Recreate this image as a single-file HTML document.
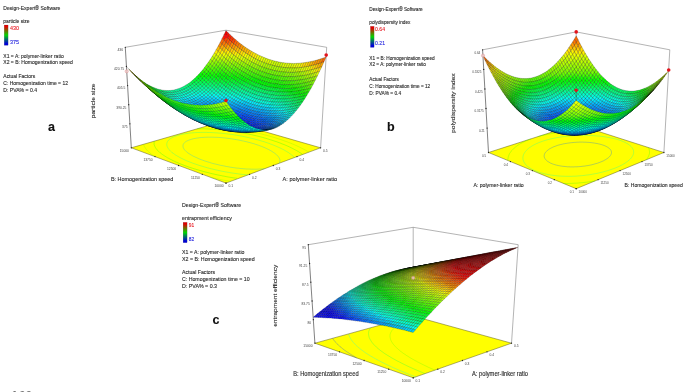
<!DOCTYPE html>
<html><head><meta charset="utf-8"><title>Figure</title>
<style>html,body{margin:0;padding:0;background:#fff;overflow:hidden}svg{display:block}text{font-family:"Liberation Sans",sans-serif}</style>
</head><body>
<svg width="685" height="392" viewBox="0 0 685 392">
<polygon points="226.0,183.1 320.6,147.8 226.0,120.5 131.3,147.8" fill="#ffff00" stroke="#5a5a20" stroke-width="0.5"/>
<path d="M279 163.3 279.5 162.5 279.7 162.1 279.9 161.6 279.9 161.1 280 160.5 279.9 159.9 279.8 159.3 279.6 158.8 279.4 158.3 279 157.6 278.6 157 278.1 156.4 277.7 155.9 277.3 155.5 276.6 154.8 275.9 154.2 275.4 153.8 274.6 153.2 273.9 152.7 273.3 152.3 272.2 151.6 271.6 151.2 270.4 150.5 269.8 150.2 268.5 149.5 267.3 148.9 266.5 148.5 265.2 147.9 263.8 147.3 263 147 261.6 146.4 260.1 145.9 258.6 145.3 257.1 144.8 255.5 144.3 254.7 144 253.1 143.5 252.3 143.3 250.6 142.8 248.9 142.4 247.2 141.9 245.4 141.5 243.7 141.1 242.7 140.9 240.9 140.5 239 140.1 238.1 139.9 236.1 139.6 235 139.4 233.1 139.1 231.9 138.9 230 138.6 229 138.5 226.8 138.2 225.7 138.1 224.3 137.9 222.2 137.7 221 137.6 219.8 137.5 218.2 137.4 216.4 137.3 214.7 137.3 213.3 137.2 211.9 137.2 210.4 137.2 208.9 137.2 207.2 137.2 205.6 137.3 204.3 137.3 203.1 137.4 201.7 137.5 199.5 137.7 198.4 137.9 196.7 138.1 195.3 138.4 193.5 138.7 191.7 139.2 190.2 139.7 188.7 140.2 187.4 140.8 186.7 141.1 185.7 141.7 185.2 142.1 184.5 142.7 184 143.2 183.7 143.7 183.4 144.1 183.2 144.6 183.1 145 183 145.5 183 146.1 183 146.6 183.1 147.2 183.3 147.8 183.6 148.3 183.8 148.7 184.1 149.2 184.6 149.9 185 150.3 185.4 150.7 186.1 151.4 186.5 151.8 187.4 152.5 187.9 152.9 188.9 153.6 189.4 153.9 190.5 154.6 191.2 155 192.3 155.6 193.5 156.3 194.5 156.7 195.5 157.2 196.9 157.8 198.3 158.5 199.7 159.1 201.3 159.7 202.8 160.2 204.4 160.8 206.1 161.4 207.8 161.9 209.5 162.4 211.3 163 213.2 163.5 214.7 163.9 216.1 164.2 218 164.7 220.1 165.2 221.1 165.4 223.2 165.8 224.3 166 226.5 166.5 227.9 166.7 229.9 167.1 231.1 167.3 233.4 167.6 234.7 167.8 236.8 168.1 238.5 168.2 239.8 168.4 241.8 168.6 243.9 168.8 245.3 168.9 246.7 169 248.3 169 250.2 169.1 252.1 169.2 253.9 169.2 255.6 169.2 257.2 169.2 258.7 169.1 260.2 169 262.4 168.9 264.4 168.7" fill="none" stroke="#00bcff" stroke-width="0.9" stroke-opacity="0.33"/>
<path d="M294.5 157.6 294.1 157.1 293.5 156.5 292.7 155.8 292.2 155.4 291.7 155 290.7 154.2 290.1 153.8 289.4 153.3 288.5 152.6 287.9 152.3 286.7 151.5 286.1 151.2 284.9 150.5 284.3 150.1 283 149.4 282.3 149.1 281 148.4 280.1 148 279 147.5 277.7 146.9 277 146.6 275.6 146 274.1 145.4 272.7 144.8 272 144.5 270.5 144 269 143.4 267.5 142.9 265.9 142.4 264.4 141.8 262.8 141.4 261.2 140.9 259.5 140.4 257.9 139.9 256.2 139.5 254.6 139 252.8 138.6 251.1 138.2 249.8 137.9 248.5 137.6 246.7 137.2 244.9 136.8 244 136.6 242.1 136.2 240.2 135.9 239.3 135.7 237.3 135.4 236.4 135.2 234.4 134.9 233.4 134.7 231.4 134.4 230.3 134.3 228.2 134 227.2 133.9 225.7 133.7 223.9 133.5 222.8 133.4 221.2 133.2 219.4 133.1 218.2 133 217.1 132.9 215.2 132.8 213.4 132.7 212.1 132.6 210.8 132.5 209.5 132.5 208.1 132.5 206.7 132.4 205.2 132.4 203.7 132.4 202.2 132.4 200.8 132.4 199.2 132.5 197.5 132.5 195.7 132.6 194.3 132.7 193.1 132.8 191.8 132.9 189.7 133.1 188.6 133.3 186.9 133.5 185.5 133.7 183.5 134 182.6 134.2 180.8 134.6 179.1 135 177.5 135.5 176 136 174.6 136.5 173.5 136.9 172.6 137.4 171.5 138 170.9 138.3 170.2 138.8 169.5 139.4 169.1 139.7 168.6 140.1 168.1 140.7 167.7 141.3 167.4 141.8 167.2 142.3 167 142.7 166.9 143.2 166.8 143.7 166.8 144.3 166.8 144.8 166.9 145.2 166.9 145.7 167.1 146.1 167.2 146.6 167.5 147.2 167.8 147.8 168 148.2 168.4 148.7 168.9 149.4 169.2 149.8 169.6 150.2 170.3 150.9 170.7 151.3 171.5 152 171.9 152.4 172.8 153.1 173.3 153.4 174.3 154.1 174.8 154.5 175.8 155.2 176.4 155.5 177.5 156.2 178.7 156.8 179.3 157.2 180.5 157.8 181.8 158.5 183.1 159.1 183.7 159.4 185.1 160.1 186.5 160.7 188 161.3 189.5 161.9 191 162.5 192.6 163.1 194.2 163.7 195.8 164.2 197.5 164.8 199.2 165.4 201 165.9 202.7 166.4 204.6 167 205.8 167.3 207.4 167.8 209.3 168.3 211.3 168.8 212.3 169 214.3 169.5 216.4 170 217.4 170.2 219.6 170.7 221.3 171.1 222.8 171.4 225.1 171.8 226.2 172 228.6 172.4 229.7 172.6 231.9 173 233.4 173.2 234.9 173.4 237.1 173.7 238.4 173.9 240.5 174.2 242.3 174.4 243.7 174.5 245.6 174.7 247.8 174.9" fill="none" stroke="#00ffaa" stroke-width="0.9" stroke-opacity="0.33"/>
<path d="M154.4 141.2 154.2 141.6 154.1 142.1 154.1 142.6 154.1 143.1 154.1 143.6 154.1 144.2 154.2 144.8 154.4 145.2 154.5 145.6 154.7 146.1 155 146.7 155.3 147.3 155.5 147.7 155.8 148.1 156.3 148.9 156.6 149.2 157 149.7 157.6 150.4 158 150.7 158.7 151.5 159.1 151.8 159.8 152.5 160.4 152.9 161.1 153.5 161.8 154 162.7 154.7 163.2 155 164.3 155.7 164.8 156.1 165.9 156.8 167 157.4 167.6 157.8 168.8 158.4 170 159.1 170.6 159.4 171.9 160 173.2 160.7 174.6 161.3 175.9 162 176.6 162.3 178.1 162.9 179.5 163.5 181 164.1 182.6 164.7 184.1 165.3 185.7 165.9 187.4 166.5 189 167.1 190.7 167.6 192.4 168.2 194.2 168.8 195.4 169.1 196.9 169.6 198.7 170.1 200.6 170.7 202.5 171.2 203.5 171.5 205.5 172 207.5 172.5 209.2 172.9 210.5 173.3 212.6 173.8 214.1 174.1 215.8 174.5 218 175 219.1 175.2 221.3 175.6 222.5 175.9 224.8 176.3 226.1 176.6 228.3 177 229.5 177.2 231.9 177.6 233.2 177.8 235.7 178.1 236.9 178.3" fill="none" stroke="#00ff10" stroke-width="0.9" stroke-opacity="0.33"/>
<path d="M302.7 154.5 302.2 154.1 301.1 153.4 300.4 152.9 299.7 152.5 298.7 151.8 298.1 151.5 296.8 150.7 296.2 150.4 294.9 149.7 294.3 149.4 293 148.7 292.3 148.3 291 147.7 289.8 147.1 289 146.7 287.6 146.1 286.7 145.7 285.5 145.2 284.1 144.6 282.7 144.1 281.9 143.8 280.5 143.2 279 142.6 277.5 142.1 276.8 141.8 275.2 141.3 273.7 140.8 272.2 140.3 270.6 139.8 269 139.3 267.4 138.8 265.8 138.3 264.2 137.9 262.6 137.4 260.9 137 259.2 136.5 257.5 136.1 256.7 135.9 255 135.5 253.2 135.1 251.5 134.7 250.5 134.5 248.8 134.1 247 133.7 245.7 133.5 244.2 133.2 242.4 132.8 241.5 132.7 239.6 132.3 238.2 132.1 236.7 131.9 235.1 131.6 233.7 131.4 232.2 131.2 230.7 131 229.5 130.8 227.6 130.6 226.6 130.5 224.6 130.2 223.4 130.1 222.3 130 220.2 129.8 219 129.7 217.8 129.6 216.1 129.4 214.4 129.3 213.2 129.2 212 129.1 210.6 129.1 208.8 129 207.1 128.9 205.7 128.9 204.3 128.8 203 128.8 201.6 128.8 200.2 128.8 198.7 128.8 197.2 128.8" fill="none" stroke="#00ff10" stroke-width="0.9" stroke-opacity="0.33"/>
<path d="M210.6 177.4 211 177.5 212.1 177.7 213.2 177.9 214.3 178.2 215.1 178.4 215.4 178.4 216.5 178.7 217.6 178.9 218.7 179.1 219.3 179.3 219.9 179.4 221 179.6 222.2 179.8 223.1 180 223.3 180.1 224.5 180.3 225.7 180.5 226.7 180.7 226.9 180.7 228.1 180.9 229.3 181.2 230.2 181.3 230.6 181.4" fill="none" stroke="#74ff00" stroke-width="0.9" stroke-opacity="0.33"/>
<path d="M143.5 144.3 143.7 144.9 143.9 145.5 144.1 145.9 144.3 146.4 144.6 146.9 145 147.5 145.2 147.9 145.6 148.4 146.1 149.1 146.4 149.5 146.9 150.1 147.4 150.6 147.8 151 148.5 151.7 148.9 152 149.7 152.8 150.1 153.1 151 153.8 151.4 154.2 152.4 154.9 152.9 155.3 153.9 155.9 154.9 156.6" fill="none" stroke="#74ff00" stroke-width="0.9" stroke-opacity="0.33"/>
<path d="M309 152.2 308.1 151.6 307.1 151.1 306.4 150.6 305.2 150 304.5 149.6 303.3 149 302.4 148.5 301.3 148 300 147.3 299.3 147 297.9 146.4 297.2 146 295.9 145.4 294.5 144.8 293.8 144.5 292.3 143.9 290.9 143.3 290.2 143 288.7 142.5 287.3 141.9 285.8 141.4 285 141.1 283.5 140.6 282 140 280.5 139.5 279 139 277.4 138.5 275.9 138 274.3 137.5 272.7 137 271.1 136.6 269.5 136.1 267.8 135.7 266.2 135.2 264.6 134.8 262.9 134.4 261.2 133.9 259.5 133.5 258.3 133.2 256.9 132.9 255.2 132.5 253.5 132.2 252.2 131.9 250.8 131.6 249 131.2 247.5 130.9 246.3 130.7 244.5 130.4 243.5 130.2 241.7 129.9 240 129.6 238.8 129.4 236.9 129.1 235.9 128.9 234 128.6 233 128.5 231.1 128.2 230 128.1 228.5 127.9 226.9 127.7 225.9 127.6 223.8 127.4 222.8 127.2 221.5 127.1 219.5 126.9 218.4 126.8 217.3 126.7 215.3 126.5 213.9 126.4 212.8 126.4 211.6 126.3 209.7 126.2 208 126.1 206.8 126" fill="none" stroke="#74ff00" stroke-width="0.9" stroke-opacity="0.33"/>
<line x1="131.3" y1="147.8" x2="125.3" y2="47.3" stroke="#2e2e2e" stroke-width="0.6"/>
<line x1="226.0" y1="120.5" x2="226.0" y2="30.2" stroke="#686868" stroke-width="0.5"/>
<line x1="320.6" y1="147.8" x2="326.7" y2="47.3" stroke="#686868" stroke-width="0.5"/>
<line x1="125.3" y1="47.3" x2="226.0" y2="30.2" stroke="#686868" stroke-width="0.5"/>
<line x1="226.0" y1="30.2" x2="326.7" y2="47.3" stroke="#686868" stroke-width="0.5"/>
<g stroke="#000" stroke-opacity="0.7" stroke-width="0.3" stroke-linejoin="round">
<path d="M226 36.7l1.9-4.1-1.9-1.9-2 4z" fill="#e00"/>
<path d="M224 40.6l2-3.9-2-2-1.9 3.9z" fill="#f20"/>
<path d="M222.1 44.4l1.9-3.8-1.9-2-1.9 3.8z" fill="#f60"/>
<path d="M220.2 48l1.9-3.6-1.9-2-2 3.7z" fill="#f80"/>
<path d="M227.9 38.6l1.9-4.1-1.9-1.9-1.9 4.1z" fill="#f10"/>
<path d="M226 42.5l1.9-3.9-1.9-1.9-2 3.9z" fill="#f40"/>
<path d="M218.2 51.5l2-3.5-2-1.9-1.9 3.4z" fill="#fb0"/>
<path d="M224 46.3l2-3.8-2-1.9-1.9 3.8z" fill="#f70"/>
<path d="M216.3 54.9l1.9-3.4-1.9-2-2 3.4z" fill="#fe0"/>
<path d="M222.1 50l1.9-3.7-1.9-1.9-1.9 3.6z" fill="#fa0"/>
<path d="M229.8 40.4l2-4.1-2-1.8-1.9 4.1z" fill="#f20"/>
<path d="M214.3 58.1l2-3.2-2-2-1.9 3.2z" fill="#df0"/>
<path d="M227.9 44.3l1.9-3.9-1.9-1.8-1.9 3.9z" fill="#f50"/>
<path d="M220.1 53.5l2-3.5-1.9-2-2 3.5z" fill="#fd0"/>
<path d="M226 48.1l1.9-3.8-1.9-1.8-2 3.8z" fill="#f80"/>
<path d="M218.2 56.8l1.9-3.3-1.9-2-1.9 3.4z" fill="#ef0"/>
<path d="M212.4 61.2l1.9-3.1-1.9-2-2 3.1z" fill="#bf0"/>
<path d="M224 51.8l2-3.7-2-1.8-1.9 3.7z" fill="#fb0"/>
<path d="M231.8 42.2l1.9-4.2-1.9-1.7-2 4.1z" fill="#f30"/>
<path d="M216.2 60l2-3.2-1.9-1.9-2 3.2z" fill="#cf0"/>
<path d="M222.1 55.3l1.9-3.5-1.9-1.8-2 3.5z" fill="#fe0"/>
<path d="M229.9 46.1l1.9-3.9-2-1.8-1.9 3.9z" fill="#f60"/>
<path d="M210.4 64.1l2-2.9-2-2-1.9 2.9z" fill="#9f0"/>
<path d="M227.9 49.9l2-3.8-2-1.8-1.9 3.8z" fill="#fa0"/>
<path d="M220.1 58.7l2-3.4-2-1.8-1.9 3.3z" fill="#df0"/>
<path d="M214.3 63.1l1.9-3.1-1.9-1.9-1.9 3.1z" fill="#af0"/>
<path d="M226 53.6l1.9-3.7-1.9-1.8-2 3.7z" fill="#fd0"/>
<path d="M208.4 66.9l2-2.8-1.9-2-2 2.7z" fill="#7f0"/>
<path d="M233.8 43.9l1.9-4.2-2-1.7-1.9 4.2z" fill="#f40"/>
<path d="M218.2 61.9l1.9-3.2-1.9-1.9-2 3.2z" fill="#bf0"/>
<path d="M224 57.1l2-3.5-2-1.8-1.9 3.5z" fill="#ef0"/>
<path d="M231.8 47.9l2-4-2-1.7-1.9 3.9z" fill="#f80"/>
<path d="M212.3 66.1l2-3-1.9-1.9-2 2.9z" fill="#8f0"/>
<path d="M229.9 51.7l1.9-3.8-1.9-1.8-2 3.8z" fill="#fb0"/>
<path d="M222.1 60.5l1.9-3.4-1.9-1.8-2 3.4z" fill="#cf0"/>
<path d="M216.2 65l2-3.1-2-1.9-1.9 3.1z" fill="#8f0"/>
<path d="M206.5 69.5l1.9-2.6-1.9-2.1-2 2.7z" fill="#5f0"/>
<path d="M227.9 55.4l2-3.7-2-1.8-1.9 3.7z" fill="#fe0"/>
<path d="M210.4 68.8l1.9-2.7-1.9-2-2 2.8z" fill="#6f0"/>
<path d="M235.7 45.5l2-4.1-2-1.7-1.9 4.2z" fill="#f60"/>
<path d="M220.1 63.8l2-3.3-2-1.8-1.9 3.2z" fill="#9f0"/>
<path d="M226 58.9l1.9-3.5-1.9-1.8-2 3.5z" fill="#df0"/>
<path d="M214.3 68l1.9-3-1.9-1.9-2 3z" fill="#7f0"/>
<path d="M233.8 49.5l1.9-4-1.9-1.6-2 4z" fill="#f90"/>
<path d="M204.5 72l2-2.5-2-2-1.9 2.5z" fill="#4f0"/>
<path d="M231.8 53.4l2-3.9-2-1.6-1.9 3.8z" fill="#fc0"/>
<path d="M208.4 71.5l2-2.7-2-1.9-1.9 2.6z" fill="#4f0"/>
<path d="M224 62.3l2-3.4-2-1.8-1.9 3.4z" fill="#bf0"/>
<path d="M218.2 66.9l1.9-3.1-1.9-1.9-2 3.1z" fill="#7f0"/>
<path d="M229.9 57.1l1.9-3.7-1.9-1.7-2 3.7z" fill="#ef0"/>
<path d="M212.3 70.8l2-2.8-2-1.9-1.9 2.7z" fill="#5f0"/>
<path d="M237.7 47.1l1.9-4.1-1.9-1.6-2 4.1z" fill="#f70"/>
<path d="M222.1 65.6l1.9-3.3-1.9-1.8-2 3.3z" fill="#8f0"/>
<path d="M202.5 74.4l2-2.4-1.9-2-2 2.3z" fill="#2f0"/>
<path d="M216.2 69.8l2-2.9-2-1.9-1.9 3z" fill="#5f0"/>
<path d="M227.9 60.6l2-3.5-2-1.7-1.9 3.5z" fill="#cf0"/>
<path d="M235.7 51.1l2-4-2-1.6-1.9 4z" fill="#fa0"/>
<path d="M206.4 74l2-2.5-1.9-2-2 2.5zM210.3 73.4l2-2.6-1.9-2-2 2.7z" fill="#3f0"/>
<path d="M233.8 55l1.9-3.9-1.9-1.6-2 3.9z" fill="#fd0"/>
<path d="M220.1 68.7l2-3.1-2-1.8-1.9 3.1z" fill="#6f0"/>
<path d="M226 64l1.9-3.4-1.9-1.7-2 3.4z" fill="#af0"/>
<path d="M214.2 72.6l2-2.8-1.9-1.8-2 2.8z" fill="#4f0"/>
<path d="M231.8 58.7l2-3.7-2-1.6-1.9 3.7z" fill="#df0"/>
<path d="M200.5 76.6l2-2.2-1.9-2.1-2 2.2z" fill="#0f0"/>
<path d="M224 67.3l2-3.3-2-1.7-1.9 3.3z" fill="#7f0"/>
<path d="M204.4 76.4l2-2.4-1.9-2-2 2.4z" fill="#1f0"/>
<path d="M239.7 48.7l1.9-4.2-2-1.5-1.9 4.1z" fill="#f80"/>
<path d="M218.1 71.6l2-2.9-1.9-1.8-2 2.9z" fill="#4f0"/>
<path d="M229.9 62.3l1.9-3.6-1.9-1.6-2 3.5z" fill="#bf0"/>
<path d="M208.3 75.9l2-2.5-1.9-1.9-2 2.5z" fill="#1f0"/>
<path d="M237.7 52.7l2-4-2-1.6-2 4z" fill="#fb0"/>
<path d="M212.2 75.3l2-2.7-1.9-1.8-2 2.6z" fill="#2f0"/>
<path d="M235.8 56.6l1.9-3.9-2-1.6-1.9 3.9z" fill="#fe0"/>
<path d="M222 70.4l2-3.1-1.9-1.7-2 3.1z" fill="#5f0"/>
<path d="M227.9 65.7l2-3.4-2-1.7-1.9 3.4z" fill="#9f0"/>
<path d="M216.2 74.4l1.9-2.8-1.9-1.8-2 2.8z" fill="#3f0"/>
<path d="M198.5 78.7l2-2.1-1.9-2.1-2 2.1z" fill="#0f0"/>
<path d="M233.8 60.3l2-3.7-2-1.6-2 3.7z" fill="#cf0"/>
<path d="M202.4 78.6l2-2.2-1.9-2-2 2.2zM206.3 78.3l2-2.4-1.9-1.9-2 2.4z" fill="#0f0"/>
<path d="M226 68.9l1.9-3.2-1.9-1.7-2 3.3z" fill="#6f0"/>
<path d="M220.1 73.4l1.9-3-1.9-1.7-2 2.9z" fill="#3f0"/>
<path d="M241.7 50.2l1.9-4.2-2-1.5-1.9 4.2z" fill="#f90"/>
<path d="M210.3 77.8l1.9-2.5-1.9-1.9-2 2.5z" fill="#0f0"/>
<path d="M231.9 63.9l1.9-3.6-2-1.6-1.9 3.6z" fill="#af0"/>
<path d="M239.7 54.2l2-4-2-1.5-2 4z" fill="#fc0"/>
<path d="M214.2 77.1l2-2.7-2-1.8-2 2.7z" fill="#1f0"/>
<path d="M224 72.1l2-3.2-2-1.6-2 3.1z" fill="#4f0"/>
<path d="M237.8 58.1l1.9-3.9-2-1.5-1.9 3.9z" fill="#ef0"/>
<path d="M229.9 67.3l2-3.4-2-1.6-2 3.4z" fill="#8f0"/>
<path d="M218.1 76.2l2-2.8-2-1.8-1.9 2.8z" fill="#1f0"/>
<path d="M200.4 80.7l2-2.1-1.9-2-2 2.1zM196.5 80.6l2-1.9-1.9-2.1-2 1.9zM204.3 80.5l2-2.2-1.9-1.9-2 2.2z" fill="#0f2"/>
<path d="M235.8 61.8l2-3.7-2-1.5-2 3.7z" fill="#cf0"/>
<path d="M208.3 80.2l2-2.4-2-1.9-2 2.4z" fill="#0f1"/>
<path d="M227.9 70.6l2-3.3-2-1.6-1.9 3.2z" fill="#6f0"/>
<path d="M212.2 79.6l2-2.5-2-1.8-1.9 2.5z" fill="#0f1"/>
<path d="M222 75l2-2.9-2-1.7-1.9 3z" fill="#2f0"/>
<path d="M243.7 51.6l1.9-4.2-2-1.4-1.9 4.2z" fill="#fa0"/>
<path d="M233.8 65.4l2-3.6-2-1.5-1.9 3.6z" fill="#9f0"/>
<path d="M216.1 78.9l2-2.7-1.9-1.8-2 2.7z" fill="#0f0"/>
<path d="M241.7 55.6l2-4-2-1.4-2 4z" fill="#fd0"/>
<path d="M226 73.7l1.9-3.1-1.9-1.7-2 3.2z" fill="#4f0"/>
<path d="M198.4 82.6l2-1.9-1.9-2-2 1.9zM202.3 82.6l2-2.1-1.9-1.9-2 2.1z" fill="#0f3"/>
<path d="M239.7 59.5l2-3.9-2-1.4-1.9 3.9z" fill="#df0"/>
<path d="M231.9 68.8l1.9-3.4-1.9-1.5-2 3.4z" fill="#7f0"/>
<path d="M194.5 82.4l2-1.8-1.9-2.1-2.1 1.8zM206.3 82.4l2-2.2-2-1.9-2 2.2z" fill="#0f3"/>
<path d="M220.1 77.9l1.9-2.9-1.9-1.6-2 2.8z" fill="#0f0"/>
<path d="M210.2 82l2-2.4-1.9-1.8-2 2.4z" fill="#0f3"/>
<path d="M237.8 63.3l1.9-3.8-1.9-1.4-2 3.7z" fill="#bf0"/>
<path d="M214.1 81.4l2-2.5-1.9-1.8-2 2.5z" fill="#0f2"/>
<path d="M229.9 72.1l2-3.3-2-1.5-2 3.3z" fill="#5f0"/>
<path d="M224 76.7l2-3-2-1.6-2 2.9z" fill="#1f0"/>
<path d="M245.7 53l1.9-4.2-2-1.4-1.9 4.2z" fill="#fb0"/>
<path d="M235.8 66.9l2-3.6-2-1.5-2 3.6z" fill="#8f0"/>
<path d="M218.1 80.6l2-2.7-2-1.7-2 2.7z" fill="#0f1"/>
<path d="M243.7 57l2-4-2-1.4-2 4z" fill="#fe0"/>
<path d="M200.3 84.6l2-2-1.9-1.9-2 1.9zM204.3 84.5l2-2.1-2-1.9-2 2.1zM196.4 84.4l2-1.8-1.9-2-2 1.8z" fill="#0f5"/>
<path d="M227.9 75.3l2-3.2-2-1.5-1.9 3.1z" fill="#3f0"/>
<path d="M208.2 84.3l2-2.3-1.9-1.8-2 2.2zM192.4 84l2.1-1.6-2-2.1-2 1.7z" fill="#0f4"/>
<path d="M233.9 70.3l1.9-3.4-2-1.5-1.9 3.4z" fill="#6f0"/>
<path d="M222 79.5l2-2.8-2-1.7-1.9 2.9z" fill="#0f0"/>
<path d="M241.7 60.9l2-3.9-2-1.4-2 3.9z" fill="#df0"/>
<path d="M212.2 83.8l1.9-2.4-1.9-1.8-2 2.4z" fill="#0f4"/>
<path d="M239.8 64.7l1.9-3.8-2-1.4-1.9 3.8z" fill="#af0"/>
<path d="M216.1 83.1l2-2.5-2-1.7-2 2.5z" fill="#0f3"/>
<path d="M226 78.3l1.9-3-1.9-1.6-2 3z" fill="#0f0"/>
<path d="M231.9 73.6l2-3.3-2-1.5-2 3.3z" fill="#4f0"/>
<path d="M220 82.2l2-2.7-1.9-1.6-2 2.7z" fill="#0f2"/>
<path d="M247.7 54.3l2-4.2-2.1-1.3-1.9 4.2z" fill="#fb0"/>
<path d="M237.8 68.3l2-3.6-2-1.4-2 3.6z" fill="#8f0"/>
<path d="M202.3 86.5l2-2-2-1.9-2 2zM198.3 86.4l2-1.8-1.9-2-2 1.8zM206.2 86.4l2-2.1-1.9-1.9-2 2.1zM194.3 86.1l2.1-1.7-1.9-2-2.1 1.6z" fill="#0f6"/>
<path d="M245.7 58.3l2-4-2-1.3-2 4z" fill="#ef0"/>
<path d="M210.2 86.1l2-2.3-2-1.8-2 2.3z" fill="#0f6"/>
<path d="M229.9 76.8l2-3.2-2-1.5-2 3.2z" fill="#2f0"/>
<path d="M190.4 85.5l2-1.5-1.9-2-2 1.5z" fill="#0f5"/>
<path d="M224 81.1l2-2.8-2-1.6-2 2.8z" fill="#0f1"/>
<path d="M235.8 71.8l2-3.5-2-1.4-1.9 3.4z" fill="#5f0"/>
<path d="M214.1 85.5l2-2.4-2-1.7-1.9 2.4z" fill="#0f5"/>
<path d="M243.8 62.3l1.9-4-2-1.3-2 3.9z" fill="#cf0"/>
<path d="M218.1 84.8l1.9-2.6-1.9-1.6-2 2.5z" fill="#0f4"/>
<path d="M241.8 66l2-3.7-2.1-1.4-1.9 3.8z" fill="#9f0"/>
<path d="M227.9 79.8l2-3-2-1.5-1.9 3z" fill="#0f0"/>
<path d="M233.9 75.1l1.9-3.3-1.9-1.5-2 3.3z" fill="#3f0"/>
<path d="M222 83.8l2-2.7-2-1.6-2 2.7z" fill="#0f3"/>
<path d="M200.2 88.3l2.1-1.8-2-1.9-2 1.8zM204.2 88.3l2-1.9-1.9-1.9-2 2z" fill="#0f8"/>
<path d="M239.8 69.7l2-3.7-2-1.3-2 3.6z" fill="#7f0"/>
<path d="M196.3 88l2-1.6-1.9-2-2.1 1.7zM208.2 88.2l2-2.1-2-1.8-2 2.1z" fill="#0f7"/>
<path d="M249.7 55.5l2-4.2-2-1.2-2 4.2z" fill="#fc0"/>
<path d="M192.3 87.6l2-1.5-1.9-2.1-2 1.5zM212.1 87.8l2-2.3-1.9-1.7-2 2.3z" fill="#0f7"/>
<path d="M247.7 59.6l2-4.1-2-1.2-2 4z" fill="#ef0"/>
<path d="M231.9 78.2l2-3.1-2-1.5-2 3.2z" fill="#1f0"/>
<path d="M226 82.6l1.9-2.8-1.9-1.5-2 2.8z" fill="#0f2"/>
<path d="M188.3 86.9l2.1-1.4-1.9-2-2.1 1.3zM216.1 87.2l2-2.4-2-1.7-2 2.4z" fill="#0f6"/>
<path d="M237.8 73.1l2-3.4-2-1.4-2 3.5z" fill="#5f0"/>
<path d="M245.8 63.6l1.9-4-2-1.3-1.9 4z" fill="#bf0"/>
<path d="M220 86.4l2-2.6-2-1.6-1.9 2.6z" fill="#0f6"/>
<path d="M243.8 67.3l2-3.7-2-1.3-2 3.7z" fill="#9f0"/>
<path d="M229.9 81.3l2-3.1-2-1.4-2 3z" fill="#0f1"/>
<path d="M235.9 76.5l1.9-3.4-2-1.3-1.9 3.3z" fill="#2f0"/>
<path d="M202.2 90.1l2-1.8-1.9-1.8-2.1 1.8zM206.1 90.1l2.1-1.9-2-1.8-2 1.9zM198.2 90l2-1.7-1.9-1.9-2 1.6z" fill="#0f9"/>
<path d="M224 85.4l2-2.8-2-1.5-2 2.7z" fill="#0f4"/>
<path d="M210.1 89.9l2-2.1-1.9-1.7-2 2.1z" fill="#0f9"/>
<path d="M194.2 89.6l2.1-1.6-2-1.9-2 1.5z" fill="#0f8"/>
<path d="M241.8 71l2-3.7-2-1.3-2 3.7z" fill="#6f0"/>
<path d="M214.1 89.5l2-2.3-2-1.7-2 2.3z" fill="#0f8"/>
<path d="M251.7 56.7l2-4.2-2-1.2-2 4.2z" fill="#fd0"/>
<path d="M190.2 88.9l2.1-1.3-1.9-2.1-2.1 1.4z" fill="#0f8"/>
<path d="M233.9 79.6l2-3.1-2-1.4-2 3.1z" fill="#0f0"/>
<path d="M249.8 60.8l1.9-4.1-2-1.2-2 4.1z" fill="#df0"/>
<path d="M218 88.8l2-2.4-1.9-1.6-2 2.4z" fill="#0f7"/>
<path d="M228 84.1l1.9-2.8-2-1.5-1.9 2.8z" fill="#0f3"/>
<path d="M186.3 88.1l2-1.2-1.9-2.1-2.1 1.2z" fill="#0f7"/>
<path d="M239.9 74.5l1.9-3.5-2-1.3-2 3.4z" fill="#4f0"/>
<path d="M247.8 64.8l2-4-2.1-1.2-1.9 4z" fill="#bf0"/>
<path d="M222 87.9l2-2.5-2-1.6-2 2.6z" fill="#0f7"/>
<path d="M204.1 92l2-1.9-1.9-1.8-2 1.8zM200.1 91.8l2.1-1.7-2-1.8-2 1.7zM208.1 91.9l2-2-1.9-1.7-2.1 1.9z" fill="#0fa"/>
<path d="M231.9 82.7l2-3.1-2-1.4-2 3.1z" fill="#0f2"/>
<path d="M245.8 68.6l2-3.8-2-1.2-2 3.7z" fill="#8f0"/>
<path d="M237.9 77.8l2-3.3-2.1-1.4-1.9 3.4z" fill="#2f0"/>
<path d="M196.2 91.5l2-1.5-1.9-2-2.1 1.6zM212.1 91.6l2-2.1-2-1.7-2 2.1z" fill="#0fa"/>
<path d="M226 86.9l2-2.8-2-1.5-2 2.8z" fill="#0f5"/>
<path d="M192.2 90.9l2-1.3-1.9-2-2.1 1.3zM216 91.1l2-2.3-1.9-1.6-2 2.3z" fill="#0f9"/>
<path d="M243.9 72.2l1.9-3.6-2-1.3-2 3.7z" fill="#6f0"/>
<path d="M253.8 57.9l2-4.3-2.1-1.1-2 4.2z" fill="#fe0"/>
<path d="M188.2 90.2l2-1.3-1.9-2-2 1.2zM220 90.4l2-2.5-2-1.5-2 2.4z" fill="#0f9"/>
<path d="M235.9 81l2-3.2-2-1.3-2 3.1z" fill="#0f0"/>
<path d="M229.9 85.5l2-2.8-2-1.4-1.9 2.8z" fill="#0f4"/>
<path d="M251.8 62l2-4.1-2.1-1.2-1.9 4.1z" fill="#df0"/>
<path d="M241.9 75.7l2-3.5-2.1-1.2-1.9 3.5z" fill="#3f0"/>
<path d="M184.2 89.2l2.1-1.1-2-2.1-2 1.1zM224 89.4l2-2.5-2-1.5-2 2.5z" fill="#0f8"/>
<path d="M249.8 65.9l2-3.9-2-1.2-2 4z" fill="#af0"/>
<path d="M206.1 93.7l2-1.8-2-1.8-2 1.9zM202.1 93.6l2-1.6-1.9-1.9-2.1 1.7z" fill="#0fc"/>
<path d="M210 93.6l2.1-2-2-1.7-2 2zM198.1 93.3l2-1.5-1.9-1.8-2 1.5z" fill="#0fb"/>
<path d="M233.9 84l2-3-2-1.4-2 3.1z" fill="#0f3"/>
<path d="M214 93.2l2-2.1-1.9-1.6-2 2.1z" fill="#0fb"/>
<path d="M247.9 69.8l1.9-3.9-2-1.1-2 3.8z" fill="#7f0"/>
<path d="M194.1 92.9l2.1-1.4-2-1.9-2 1.3z" fill="#0fb"/>
<path d="M239.9 79.1l2-3.4-2-1.2-2 3.3z" fill="#1f0"/>
<path d="M228 88.3l1.9-2.8-1.9-1.4-2 2.8z" fill="#0f6"/>
<path d="M218 92.7l2-2.3-2-1.6-2 2.3zM190.1 92.2l2.1-1.3-2-2-2 1.3z" fill="#0fa"/>
<path d="M245.9 73.4l2-3.6-2.1-1.2-1.9 3.6z" fill="#5f0"/>
<path d="M222 91.9l2-2.5-2-1.5-2 2.5z" fill="#0fa"/>
<path d="M255.8 58.9l2-4.2-2-1.1-2 4.3z" fill="#fe0"/>
<path d="M186.1 91.3l2.1-1.1-1.9-2.1-2.1 1.1z" fill="#0f9"/>
<path d="M237.9 82.3l2-3.2-2-1.3-2 3.2z" fill="#0f1"/>
<path d="M231.9 86.9l2-2.9-2-1.3-2 2.8z" fill="#0f5"/>
<path d="M253.9 63.1l1.9-4.2-2-1-2 4.1z" fill="#cf0"/>
<path d="M243.9 76.9l2-3.5-2-1.2-2 3.5z" fill="#3f0"/>
<path d="M204 95.4l2.1-1.7-2-1.7-2 1.6z" fill="#0fd"/>
<path d="M226 90.9l2-2.6-2-1.4-2 2.5z" fill="#0f9"/>
<path d="M208 95.4l2-1.8-1.9-1.7-2 1.8zM200 95.2l2.1-1.6-2-1.8-2 1.5z" fill="#0fd"/>
<path d="M182.1 90.1l2.1-.9-1.9-2.1-2.1.9z" fill="#0f8"/>
<path d="M212 95.2l2-2-1.9-1.6-2.1 2z" fill="#0fc"/>
<path d="M251.9 67.1l2-4-2.1-1.1-2 3.9z" fill="#9f0"/>
<path d="M196 94.7l2.1-1.4-1.9-1.8-2.1 1.4zM216 94.8l2-2.1-2-1.6-2 2.1z" fill="#0fc"/>
<path d="M235.9 85.3l2-3-2-1.3-2 3z" fill="#0f3"/>
<path d="M192 94.1l2.1-1.2-1.9-2-2.1 1.3z" fill="#0fc"/>
<path d="M249.9 70.9l2-3.8-2.1-1.2-1.9 3.9z" fill="#7f0"/>
<path d="M241.9 80.3l2-3.4-2-1.2-2 3.4z" fill="#0f0"/>
<path d="M230 89.7l1.9-2.8-2-1.4-1.9 2.8z" fill="#0f7"/>
<path d="M220 94.2l2-2.3-2-1.5-2 2.3zM188 93.2l2.1-1-1.9-2-2.1 1.1z" fill="#0fb"/>
<path d="M247.9 74.6l2-3.7-2-1.1-2 3.6z" fill="#5f0"/>
<path d="M224 93.3l2-2.4-2-1.5-2 2.5z" fill="#0fb"/>
<path d="M257.9 60l2-4.3-2.1-1-2 4.2z" fill="#ef0"/>
<path d="M234 88.2l1.9-2.9-2-1.3-2 2.9z" fill="#0f6"/>
<path d="M239.9 83.5l2-3.2-2-1.2-2 3.2z" fill="#0f2"/>
<path d="M184 92.2l2.1-.9-1.9-2.1-2.1.9z" fill="#0fa"/>
<path d="M206 97.1l2-1.7-1.9-1.7-2.1 1.7zM210 97l2-1.8-2-1.6-2 1.8zM202 96.9l2-1.5-1.9-1.8-2.1 1.6z" fill="#0fe"/>
<path d="M255.9 64.1l2-4.1-2.1-1.1-1.9 4.2z" fill="#cf0"/>
<path d="M228 92.3l2-2.6-2-1.4-2 2.6z" fill="#0f9"/>
<path d="M214 96.8l2-2-2-1.6-2 2z" fill="#0fe"/>
<path d="M245.9 78.1l2-3.5-2-1.2-2 3.5z" fill="#2f0"/>
<path d="M198 96.6l2-1.4-1.9-1.9-2.1 1.4z" fill="#0fe"/>
<path d="M218 96.3l2-2.1-2-1.5-2 2.1z" fill="#0fd"/>
<path d="M253.9 68.1l2-4-2-1-2 4z" fill="#9f0"/>
<path d="M194 96l2-1.3-1.9-1.8-2.1 1.2z" fill="#0fd"/>
<path d="M180 90.9l2.1-.8-1.9-2.1-2.1.8z" fill="#0f9"/>
<path d="M238 86.6l1.9-3.1-2-1.2-2 3z" fill="#0f4"/>
<path d="M232 91l2-2.8-2.1-1.3-1.9 2.8z" fill="#0f8"/>
<path d="M222 95.6l2-2.3-2-1.4-2 2.3zM190 95.2l2-1.1-1.9-1.9-2.1 1z" fill="#0fc"/>
<path d="M244 81.4l1.9-3.3-2-1.2-2 3.4z" fill="#0f0"/>
<path d="M252 71.9l1.9-3.8-2-1-2 3.8z" fill="#6f0"/>
<path d="M226 94.7l2-2.4-2-1.4-2 2.4zM185.9 94.2l2.1-1-1.9-1.9-2.1.9z" fill="#0fb"/>
<path d="M250 75.6l2-3.7-2.1-1-2 3.7z" fill="#4f0"/>
<path d="M208 98.7l2-1.7-2-1.6-2 1.7z" fill="#0ef"/>
<path d="M236 89.5l2-2.9-2.1-1.3-1.9 2.9z" fill="#0f7"/>
<path d="M203.9 98.6l2.1-1.5-2-1.7-2 1.5z" fill="#0ef"/>
<path d="M242 84.7l2-3.3-2.1-1.1-2 3.2z" fill="#0f2"/>
<path d="M212 98.6l2-1.8-2-1.6-2 1.8z" fill="#0ef"/>
<path d="M260 60.9l2-4.3-2.1-.9-2 4.3z" fill="#ef0"/>
<path d="M199.9 98.3l2.1-1.4-2-1.7-2 1.4z" fill="#0ef"/>
<path d="M216 98.3l2-2-2-1.5-2 2z" fill="#0ff"/>
<path d="M230 93.6l2-2.6-2-1.3-2 2.6zM181.9 93l2.1-.8-1.9-2.1-2.1.8z" fill="#0fa"/>
<path d="M258 65.1l2-4.2-2.1-.9-2 4.1z" fill="#bf0"/>
<path d="M195.9 97.8l2.1-1.2-2-1.9-2 1.3z" fill="#0fe"/>
<path d="M248 79.2l2-3.6-2.1-1-2 3.5z" fill="#2f0"/>
<path d="M220 97.8l2-2.2-2-1.4-2 2.1zM191.9 97.1l2.1-1.1-2-1.9-2 1.1z" fill="#0fe"/>
<path d="M256 69.1l2-4-2.1-1-2 4z" fill="#9f0"/>
<path d="M240 87.7l2-3-2.1-1.2-1.9 3.1z" fill="#0f5"/>
<path d="M224 97l2-2.3-2-1.4-2 2.3z" fill="#0fd"/>
<path d="M234 92.2l2-2.7-2-1.3-2 2.8zM177.9 91.6l2.1-.7-1.9-2.1-2.2.7z" fill="#0f9"/>
<path d="M246 82.6l2-3.4-2.1-1.1-1.9 3.3z" fill="#0f0"/>
<path d="M187.9 96.1l2.1-.9-2-2-2.1 1z" fill="#0fd"/>
<path d="M254 73l2-3.9-2.1-1-1.9 3.8z" fill="#6f0"/>
<path d="M228 96.1l2-2.5-2-1.3-2 2.4z" fill="#0fc"/>
<path d="M205.9 100.3l2.1-1.6-2-1.6-2.1 1.5zM209.9 100.3l2.1-1.7-2-1.6-2 1.7zM201.9 100l2-1.4-1.9-1.7-2.1 1.4zM213.9 100.2l2.1-1.9-2-1.5-2 1.8z" fill="#0df"/>
<path d="M252 76.7l2-3.7-2-1.1-2 3.7z" fill="#4f0"/>
<path d="M183.8 95l2.1-.8-1.9-2-2.1.8z" fill="#0fc"/>
<path d="M238 90.7l2-3-2-1.1-2 2.9z" fill="#0f7"/>
<path d="M244 85.8l2-3.2-2-1.2-2 3.3z" fill="#0f3"/>
<path d="M197.9 99.6l2-1.3-1.9-1.7-2.1 1.2zM217.9 99.8l2.1-2-2-1.5-2 2z" fill="#0ef"/>
<path d="M262.1 61.8l2-4.3-2.1-.9-2 4.3z" fill="#ef0"/>
<path d="M232 94.9l2-2.7-2-1.2-2 2.6z" fill="#0fb"/>
<path d="M193.8 98.9l2.1-1.1-1.9-1.8-2.1 1.1zM222 99.2l2-2.2-2-1.4-2 2.2z" fill="#0ef"/>
<path d="M260.1 66l2-4.2-2.1-.9-2 4.2z" fill="#bf0"/>
<path d="M250 80.2l2-3.5-2-1.1-2 3.6z" fill="#1f0"/>
<path d="M179.8 93.6l2.1-.6-1.9-2.1-2.1.7z" fill="#0fa"/>
<path d="M189.8 98l2.1-.9-1.9-1.9-2.1.9z" fill="#0fe"/>
<path d="M258.1 70l2-4-2.1-.9-2 4z" fill="#8f0"/>
<path d="M226 98.4l2-2.3-2-1.4-2 2.3z" fill="#0fe"/>
<path d="M242 88.9l2-3.1-2-1.1-2 3z" fill="#0f6"/>
<path d="M236 93.4l2-2.7-2-1.2-2 2.7z" fill="#0fa"/>
<path d="M248.1 83.6l1.9-3.4-2-1-2 3.4z" fill="#0f1"/>
<path d="M256.1 73.9l2-3.9-2.1-.9-2 3.9z" fill="#6f0"/>
<path d="M175.7 92.1l2.2-.5-2-2.1-2.1.5z" fill="#0f9"/>
<path d="M185.8 96.9l2.1-.8-2-1.9-2.1.8z" fill="#0fd"/>
<path d="M207.9 101.9l2-1.6-1.9-1.6-2.1 1.6z" fill="#0cf"/>
<path d="M230 97.3l2-2.4-2-1.3-2 2.5z" fill="#0fd"/>
<path d="M211.9 101.9l2-1.7-1.9-1.6-2.1 1.7zM203.9 101.7l2-1.4-2-1.7-2 1.4zM215.9 101.6l2-1.8-1.9-1.5-2.1 1.9zM199.8 101.3l2.1-1.3-2-1.7-2 1.3z" fill="#0cf"/>
<path d="M219.9 101.2l2.1-2-2-1.4-2.1 2z" fill="#0df"/>
<path d="M254.1 77.6l2-3.7-2.1-.9-2 3.7z" fill="#3f0"/>
<path d="M240 91.8l2-2.9-2-1.2-2 3z" fill="#0f8"/>
<path d="M195.8 100.7l2.1-1.1-2-1.8-2.1 1.1z" fill="#0df"/>
<path d="M246.1 86.8l2-3.2-2.1-1-2 3.2z" fill="#0f4"/>
<path d="M181.7 95.6l2.1-.6-1.9-2-2.1.6zM234 96.1l2-2.7-2-1.2-2 2.7z" fill="#0fc"/>
<path d="M264.2 62.7l2-4.4-2.1-.8-2 4.3z" fill="#df0"/>
<path d="M224 100.5l2-2.1-2-1.4-2 2.2z" fill="#0df"/>
<path d="M191.8 99.8l2-.9-1.9-1.8-2.1.9z" fill="#0ef"/>
<path d="M252.1 81.2l2-3.6-2.1-.9-2 3.5z" fill="#1f0"/>
<path d="M262.2 66.9l2-4.2-2.1-.9-2 4.2z" fill="#bf0"/>
<path d="M228 99.7l2-2.4-2-1.2-2 2.3z" fill="#0ef"/>
<path d="M177.6 94.1l2.2-.5-1.9-2-2.2.5z" fill="#0fa"/>
<path d="M244.1 89.9l2-3.1-2.1-1-2 3.1z" fill="#0f6"/>
<path d="M260.2 70.9l2-4-2.1-.9-2 4z" fill="#8f0"/>
<path d="M238 94.6l2-2.8-2-1.1-2 2.7z" fill="#0fa"/>
<path d="M187.7 98.8l2.1-.8-1.9-1.9-2.1.8z" fill="#0fe"/>
<path d="M209.9 103.4l2-1.5-2-1.6-2 1.6zM205.8 103.3l2.1-1.4-2-1.6-2 1.4z" fill="#0bf"/>
<path d="M250.1 84.6l2-3.4-2.1-1-1.9 3.4z" fill="#0f1"/>
<path d="M213.9 103.4l2-1.8-2-1.4-2 1.7z" fill="#0bf"/>
<path d="M232 98.6l2-2.5-2-1.2-2 2.4z" fill="#0fe"/>
<path d="M201.8 103l2.1-1.3-2-1.7-2.1 1.3z" fill="#0bf"/>
<path d="M258.2 74.8l2-3.9-2.1-.9-2 3.9z" fill="#5f0"/>
<path d="M217.9 103.1l2-1.9-2-1.4-2 1.8z" fill="#0bf"/>
<path d="M183.6 97.6l2.2-.7-2-1.9-2.1.6z" fill="#0fd"/>
<path d="M197.8 102.4l2-1.1-1.9-1.7-2.1 1.1z" fill="#0cf"/>
<path d="M173.6 92.4l2.1-.3-1.9-2.1-2.2.3z" fill="#0f9"/>
<path d="M221.9 102.6l2.1-2.1-2-1.3-2.1 2z" fill="#0cf"/>
<path d="M242.1 92.9l2-3-2.1-1-2 2.9z" fill="#0f9"/>
<path d="M256.2 78.5l2-3.7-2.1-.9-2 3.7z" fill="#3f0"/>
<path d="M248.1 87.8l2-3.2-2-1-2 3.2z" fill="#0f4"/>
<path d="M193.7 101.6l2.1-.9-2-1.8-2 .9z" fill="#0cf"/>
<path d="M236 97.2l2-2.6-2-1.2-2 2.7z" fill="#0fc"/>
<path d="M226 101.8l2-2.1-2-1.3-2 2.1z" fill="#0df"/>
<path d="M179.6 96.1l2.1-.5-1.9-2-2.2.5z" fill="#0fc"/>
<path d="M266.3 63.5l2-4.4-2.1-.8-2 4.4z" fill="#df0"/>
<path d="M189.7 100.7l2.1-.9-2-1.8-2.1.8z" fill="#0df"/>
<path d="M254.2 82.1l2-3.6-2.1-.9-2 3.6z" fill="#0f0"/>
<path d="M264.3 67.7l2-4.2-2.1-.8-2 4.2z" fill="#af0"/>
<path d="M230 100.9l2-2.3-2-1.3-2 2.4z" fill="#0ef"/>
<path d="M246.1 91l2-3.2-2-1-2 3.1z" fill="#0f7"/>
<path d="M240.1 95.7l2-2.8-2.1-1.1-2 2.8z" fill="#0fb"/>
<path d="M211.8 104.9l2.1-1.5-2-1.5-2 1.5zM207.8 104.9l2.1-1.5-2-1.5-2.1 1.4z" fill="#0af"/>
<path d="M262.3 71.7l2-4-2.1-.8-2 4z" fill="#8f0"/>
<path d="M215.9 104.8l2-1.7-2-1.5-2 1.8zM203.8 104.6l2-1.3-1.9-1.6-2.1 1.3z" fill="#0af"/>
<path d="M185.6 99.5l2.1-.7-1.9-1.9-2.2.7z" fill="#0ef"/>
<path d="M175.5 94.5l2.1-.4-1.9-2-2.1.3z" fill="#0fa"/>
<path d="M219.9 104.4l2-1.8-2-1.4-2 1.9z" fill="#0bf"/>
<path d="M252.2 85.5l2-3.4-2.1-.9-2 3.4z" fill="#0f2"/>
<path d="M234 99.7l2-2.5-2-1.1-2 2.5z" fill="#0fe"/>
<path d="M199.7 104.1l2.1-1.1-2-1.7-2 1.1z" fill="#0bf"/>
<path d="M260.3 75.6l2-3.9-2.1-.8-2 3.9z" fill="#5f0"/>
<path d="M223.9 103.9l2.1-2.1-2-1.3-2.1 2.1zM195.7 103.4l2.1-1-2-1.7-2.1.9z" fill="#0bf"/>
<path d="M181.5 98.1l2.1-.5-1.9-2-2.1.5z" fill="#0fd"/>
<path d="M244.1 93.9l2-2.9-2-1.1-2 3z" fill="#0f9"/>
<path d="M258.3 79.4l2-3.8-2.1-.8-2 3.7z" fill="#3f0"/>
<path d="M228 103.1l2-2.2-2-1.2-2 2.1z" fill="#0cf"/>
<path d="M238.1 98.3l2-2.6-2.1-1.1-2 2.6z" fill="#0fd"/>
<path d="M250.2 88.8l2-3.3-2.1-.9-2 3.2z" fill="#0f5"/>
<path d="M171.4 92.6l2.2-.2-2-2.1-2.1.2z" fill="#0f9"/>
<path d="M191.6 102.4l2.1-.8-1.9-1.8-2.1.9z" fill="#0cf"/>
<path d="M268.4 64.2l2-4.4-2.1-.7-2 4.4z" fill="#df0"/>
<path d="M232 102.1l2-2.4-2-1.1-2 2.3z" fill="#0df"/>
<path d="M256.3 83l2-3.6-2.1-.9-2 3.6z" fill="#0f0"/>
<path d="M177.4 96.5l2.2-.4-2-2-2.1.4z" fill="#0fc"/>
<path d="M187.5 101.3l2.2-.6-2-1.9-2.1.7z" fill="#0df"/>
<path d="M209.8 106.4l2-1.5-1.9-1.5-2.1 1.5zM213.8 106.4l2.1-1.6-2-1.4-2.1 1.5z" fill="#09f"/>
<path d="M266.4 68.4l2-4.2-2.1-.7-2 4.2z" fill="#af0"/>
<path d="M205.7 106.1l2.1-1.2-2-1.6-2 1.3zM217.9 106.2l2-1.8-2-1.3-2 1.7z" fill="#09f"/>
<path d="M242.1 96.7l2-2.8-2-1-2 2.8z" fill="#0fb"/>
<path d="M248.2 91.9l2-3.1-2.1-1-2 3.2z" fill="#0f7"/>
<path d="M201.7 105.7l2.1-1.1-2-1.6-2.1 1.1zM221.9 105.8l2-1.9-2-1.3-2 1.8z" fill="#0af"/>
<path d="M264.4 72.5l2-4.1-2.1-.7-2 4z" fill="#7f0"/>
<path d="M236.1 100.8l2-2.5-2.1-1.1-2 2.5z" fill="#0ef"/>
<path d="M254.3 86.4l2-3.4-2.1-.9-2 3.4z" fill="#0f2"/>
<path d="M197.6 105l2.1-.9-1.9-1.7-2.1 1z" fill="#0af"/>
<path d="M183.5 100l2.1-.5-2-1.9-2.1.5z" fill="#0ef"/>
<path d="M226 105.1l2-2-2-1.3-2.1 2.1z" fill="#0af"/>
<path d="M262.4 76.4l2-3.9-2.1-.8-2 3.9z" fill="#5f0"/>
<path d="M173.3 94.7l2.2-.2-1.9-2.1-2.2.2z" fill="#0fa"/>
<path d="M193.6 104.2l2.1-.8-2-1.8-2.1.8z" fill="#0bf"/>
<path d="M246.2 94.9l2-3-2.1-.9-2 2.9z" fill="#0fa"/>
<path d="M230 104.3l2-2.2-2-1.2-2 2.2z" fill="#0bf"/>
<path d="M240.1 99.4l2-2.7-2-1-2 2.6z" fill="#0fe"/>
<path d="M260.4 80.1l2-3.7-2.1-.8-2 3.8z" fill="#2f0"/>
<path d="M252.3 89.7l2-3.3-2.1-.9-2 3.3z" fill="#0f5"/>
<path d="M179.4 98.4l2.1-.3-1.9-2-2.2.4z" fill="#0fd"/>
<path d="M189.5 103.1l2.1-.7-1.9-1.7-2.2.6z" fill="#0cf"/>
<path d="M211.8 107.8l2-1.4-2-1.5-2 1.5z" fill="#08f"/>
<path d="M234.1 103.2l2-2.4-2.1-1.1-2 2.4z" fill="#0cf"/>
<path d="M215.8 107.8l2.1-1.6-2-1.4-2.1 1.6zM207.7 107.6l2.1-1.2-2-1.5-2.1 1.2z" fill="#08f"/>
<path d="M270.5 64.8l2-4.4-2.1-.6-2 4.4z" fill="#df0"/>
<path d="M169.2 92.6l2.2 0-1.9-2.1-2.2 0z" fill="#0f8"/>
<path d="M219.9 107.5l2-1.7-2-1.4-2 1.8z" fill="#09f"/>
<path d="M258.4 83.8l2-3.7-2.1-.7-2 3.6z" fill="#0f0"/>
<path d="M203.7 107.2l2-1.1-1.9-1.5-2.1 1.1z" fill="#09f"/>
<path d="M268.5 69.1l2-4.3-2.1-.6-2 4.2z" fill="#af0"/>
<path d="M244.2 97.7l2-2.8-2.1-1-2 2.8z" fill="#0fc"/>
<path d="M185.4 101.8l2.1-.5-1.9-1.8-2.1.5z" fill="#0df"/>
<path d="M223.9 107l2.1-1.9-2.1-1.2-2 1.9z" fill="#09f"/>
<path d="M250.3 92.8l2-3.1-2.1-.9-2 3.1z" fill="#0f8"/>
<path d="M199.6 106.7l2.1-1-2-1.6-2.1.9z" fill="#09f"/>
<path d="M175.3 96.7l2.1-.2-1.9-2-2.2.2z" fill="#0fc"/>
<path d="M238.1 101.9l2-2.5-2-1.1-2 2.5z" fill="#0ef"/>
<path d="M266.5 73.2l2-4.1-2.1-.7-2 4.1z" fill="#7f0"/>
<path d="M228 106.3l2-2-2-1.2-2 2z" fill="#0af"/>
<path d="M256.4 87.2l2-3.4-2.1-.8-2 3.4z" fill="#0f3"/>
<path d="M195.5 105.8l2.1-.8-1.9-1.6-2.1.8z" fill="#0af"/>
<path d="M264.5 77.1l2-3.9-2.1-.7-2 3.9z" fill="#5f0"/>
<path d="M181.3 100.3l2.2-.3-2-1.9-2.1.3z" fill="#0ef"/>
<path d="M232.1 105.4l2-2.2-2.1-1.1-2 2.2zM191.4 104.8l2.2-.6-2-1.8-2.1.7z" fill="#0bf"/>
<path d="M248.3 95.8l2-3-2.1-.9-2 3z" fill="#0fa"/>
<path d="M242.2 100.4l2-2.7-2.1-1-2 2.7z" fill="#0fe"/>
<path d="M171.1 94.7l2.2 0-1.9-2.1-2.2 0z" fill="#0fa"/>
<path d="M254.4 90.5l2-3.3-2.1-.8-2 3.3z" fill="#0f5"/>
<path d="M262.5 80.9l2-3.8-2.1-.7-2 3.7z" fill="#2f0"/>
<path d="M213.8 109.2l2-1.4-2-1.4-2 1.4z" fill="#07f"/>
<path d="M209.7 109.1l2.1-1.3-2-1.4-2.1 1.2zM217.8 109.1l2.1-1.6-2-1.3-2.1 1.6z" fill="#08f"/>
<path d="M236.1 104.3l2-2.4-2-1.1-2 2.4z" fill="#0cf"/>
<path d="M205.6 108.8l2.1-1.2-2-1.5-2 1.1z" fill="#08f"/>
<path d="M187.4 103.6l2.1-.5-2-1.8-2.1.5z" fill="#0cf"/>
<path d="M177.2 98.6l2.2-.2-2-1.9-2.1.2z" fill="#0fd"/>
<path d="M221.9 108.8l2-1.8-2-1.2-2 1.7zM201.6 108.2l2.1-1-2-1.5-2.1 1z" fill="#08f"/>
<path d="M272.7 65.4l2-4.4-2.2-.6-2 4.4z" fill="#cf0"/>
<path d="M260.5 84.5l2-3.6-2.1-.8-2 3.7z" fill="#0f0"/>
<path d="M226 108.2l2-1.9-2-1.2-2.1 1.9z" fill="#08f"/>
<path d="M246.3 98.6l2-2.8-2.1-.9-2 2.8z" fill="#0fc"/>
<path d="M270.7 69.7l2-4.3-2.2-.6-2 4.3z" fill="#af0"/>
<path d="M252.4 93.7l2-3.2-2.1-.8-2 3.1z" fill="#0f8"/>
<path d="M197.5 107.5l2.1-.8-2-1.7-2.1.8z" fill="#09f"/>
<path d="M167 92.5l2.2.1-1.9-2.1-2.2-.1z" fill="#0f8"/>
<path d="M240.2 102.9l2-2.5-2.1-1-2 2.5zM183.3 102.2l2.1-.4-1.9-1.8-2.2.3z" fill="#0df"/>
<path d="M230 107.5l2.1-2.1-2.1-1.1-2 2z" fill="#09f"/>
<path d="M268.7 73.8l2-4.1-2.2-.6-2 4.1z" fill="#7f0"/>
<path d="M173.1 96.7l2.2 0-2-2-2.2 0z" fill="#0fb"/>
<path d="M258.5 88l2-3.5-2.1-.7-2 3.4z" fill="#0f3"/>
<path d="M193.4 106.5l2.1-.7-1.9-1.6-2.2.6zM234.1 106.5l2-2.2-2-1.1-2 2.2z" fill="#0af"/>
<path d="M266.6 77.7l2.1-3.9-2.2-.6-2 3.9z" fill="#4f0"/>
<path d="M250.4 96.6l2-2.9-2.1-.9-2 3z" fill="#0fa"/>
<path d="M244.3 101.3l2-2.7-2.1-.9-2 2.7zM179.1 100.5l2.2-.2-1.9-1.9-2.2.2z" fill="#0fe"/>
<path d="M215.8 110.5l2-1.4-2-1.3-2 1.4zM211.7 110.5l2.1-1.3-2-1.4-2.1 1.3z" fill="#07f"/>
<path d="M189.3 105.3l2.1-.5-1.9-1.7-2.1.5z" fill="#0bf"/>
<path d="M219.9 110.4l2-1.6-2-1.3-2.1 1.6zM207.6 110.2l2.1-1.1-2-1.5-2.1 1.2z" fill="#07f"/>
<path d="M256.5 91.3l2-3.3-2.1-.8-2 3.3z" fill="#0f6"/>
<path d="M264.6 81.5l2-3.8-2.1-.6-2 3.8z" fill="#2f0"/>
<path d="M223.9 110l2.1-1.8-2.1-1.2-2 1.8z" fill="#07f"/>
<path d="M238.2 105.3l2-2.4-2.1-1-2 2.4z" fill="#0bf"/>
<path d="M203.6 109.7l2-.9-1.9-1.6-2.1 1z" fill="#07f"/>
<path d="M168.9 94.6l2.2.1-1.9-2.1-2.2-.1z" fill="#0f9"/>
<path d="M199.5 109l2.1-.8-2-1.5-2.1.8zM228 109.4l2-1.9-2-1.2-2 1.9z" fill="#08f"/>
<path d="M185.2 104l2.2-.4-2-1.8-2.1.4z" fill="#0cf"/>
<path d="M274.8 66l2.1-4.5-2.2-.5-2 4.4z" fill="#cf0"/>
<path d="M262.6 85.2l2-3.7-2.1-.6-2 3.6z" fill="#0f0"/>
<path d="M175 98.7l2.2-.1-1.9-1.9-2.2 0zM248.4 99.5l2-2.9-2.1-.8-2 2.8z" fill="#0fd"/>
<path d="M254.5 94.4l2-3.1-2.1-.8-2 3.2z" fill="#0f8"/>
<path d="M272.8 70.2l2-4.2-2.1-.6-2 4.3z" fill="#af0"/>
<path d="M242.3 103.8l2-2.5-2.1-.9-2 2.5z" fill="#0df"/>
<path d="M195.4 108.1l2.1-.6-2-1.7-2.1.7zM232.1 108.5l2-2-2-1.1-2.1 2.1z" fill="#09f"/>
<path d="M270.8 74.4l2-4.2-2.1-.5-2 4.1z" fill="#7f0"/>
<path d="M181.1 102.4l2.2-.2-2-1.9-2.2.2z" fill="#0df"/>
<path d="M260.6 88.7l2-3.5-2.1-.7-2 3.5z" fill="#0f3"/>
<path d="M164.8 92.3l2.2.2-1.9-2.1-2.3-.2z" fill="#0f7"/>
<path d="M191.3 107l2.1-.5-2-1.7-2.1.5zM236.2 107.5l2-2.2-2.1-1-2 2.2z" fill="#0af"/>
<path d="M213.7 111.8l2.1-1.3-2-1.3-2.1 1.3zM217.8 111.8l2.1-1.4-2.1-1.3-2 1.4z" fill="#06f"/>
<path d="M268.8 78.3l2-3.9-2.1-.6-2.1 3.9z" fill="#4f0"/>
<path d="M170.9 96.6l2.2.1-2-2-2.2-.1z" fill="#0fb"/>
<path d="M209.6 111.6l2.1-1.1-2-1.4-2.1 1.1z" fill="#06f"/>
<path d="M252.5 97.4l2-3-2.1-.7-2 2.9z" fill="#0fb"/>
<path d="M246.4 102.2l2-2.7-2.1-.9-2 2.7z" fill="#0ef"/>
<path d="M221.9 111.6l2-1.6-2-1.2-2 1.6zM205.6 111.2l2-1-2-1.4-2 .9z" fill="#06f"/>
<path d="M226 111.1l2-1.7-2-1.2-2.1 1.8z" fill="#07f"/>
<path d="M258.6 92l2-3.3-2.1-.7-2 3.3z" fill="#0f6"/>
<path d="M187.2 105.7l2.1-.4-1.9-1.7-2.2.4zM240.3 106.2l2-2.4-2.1-.9-2 2.4z" fill="#0bf"/>
<path d="M177 100.6l2.1-.1-1.9-1.9-2.2.1z" fill="#0fe"/>
<path d="M266.8 82.1l2-3.8-2.2-.6-2 3.8z" fill="#2f0"/>
<path d="M201.5 110.6l2.1-.9-2-1.5-2.1.8zM230.1 110.5l2-2-2.1-1-2 1.9z" fill="#07f"/>
<path d="M197.4 109.7l2.1-.7-2-1.5-2.1.6z" fill="#08f"/>
<path d="M250.5 100.3l2-2.9-2.1-.8-2 2.9z" fill="#0fd"/>
<path d="M264.8 85.8l2-3.7-2.2-.6-2 3.7z" fill="#0f0"/>
<path d="M277 66.4l2-4.4-2.1-.5-2.1 4.5z" fill="#cf0"/>
<path d="M166.7 94.3l2.2.3-1.9-2.1-2.2-.2z" fill="#0f9"/>
<path d="M183 104.2l2.2-.2-1.9-1.8-2.2.2z" fill="#0cf"/>
<path d="M234.1 109.6l2.1-2.1-2.1-1-2 2z" fill="#08f"/>
<path d="M256.6 95.2l2-3.2-2.1-.7-2 3.1z" fill="#0f8"/>
<path d="M244.4 104.7l2-2.5-2.1-.9-2 2.5z" fill="#0cf"/>
<path d="M275 70.7l2-4.3-2.2-.4-2 4.2z" fill="#af0"/>
<path d="M193.3 108.7l2.1-.6-2-1.6-2.1.5z" fill="#09f"/>
<path d="M172.8 98.6l2.2.1-1.9-2-2.2-.1z" fill="#0fc"/>
<path d="M273 74.9l2-4.2-2.2-.5-2 4.2z" fill="#7f0"/>
<path d="M262.8 89.3l2-3.5-2.2-.6-2 3.5z" fill="#0f3"/>
<path d="M215.7 113.1l2.1-1.3-2-1.3-2.1 1.3z" fill="#05f"/>
<path d="M238.2 108.5l2.1-2.3-2.1-.9-2 2.2z" fill="#09f"/>
<path d="M211.7 112.9l2-1.1-2-1.3-2.1 1.1zM219.8 113l2.1-1.4-2-1.2-2.1 1.4z" fill="#05f"/>
<path d="M207.6 112.6l2-1-2-1.4-2 1zM223.9 112.7l2.1-1.6-2.1-1.1-2 1.6z" fill="#06f"/>
<path d="M178.9 102.4l2.2 0-2-1.9-2.1.1z" fill="#0ef"/>
<path d="M189.1 107.4l2.2-.4-2-1.7-2.1.4z" fill="#0af"/>
<path d="M248.5 103l2-2.7-2.1-.8-2 2.7z" fill="#0ef"/>
<path d="M254.6 98.2l2-3-2.1-.8-2 3z" fill="#0fb"/>
<path d="M270.9 78.9l2.1-4-2.2-.5-2 3.9z" fill="#4f0"/>
<path d="M203.5 112l2.1-.8-2-1.5-2.1.9zM228 112.2l2.1-1.7-2.1-1.1-2 1.7z" fill="#06f"/>
<path d="M162.5 91.9l2.3.4-2-2.1-2.2-.5z" fill="#0f6"/>
<path d="M242.3 107.1l2.1-2.4-2.1-.9-2 2.4z" fill="#0bf"/>
<path d="M260.7 92.6l2.1-3.3-2.2-.6-2 3.3z" fill="#0f6"/>
<path d="M168.6 96.4l2.3.2-2-2-2.2-.3z" fill="#0fa"/>
<path d="M199.4 111.2l2.1-.6-2-1.6-2.1.7z" fill="#07f"/>
<path d="M268.9 82.7l2-3.8-2.1-.6-2 3.8z" fill="#2f0"/>
<path d="M232.1 111.5l2-1.9-2-1.1-2 2z" fill="#07f"/>
<path d="M185 105.9l2.2-.2-2-1.7-2.2.2z" fill="#0bf"/>
<path d="M174.8 100.5l2.2.1-2-1.9-2.2-.1z" fill="#0fd"/>
<path d="M195.2 110.2l2.2-.5-2-1.6-2.1.6z" fill="#08f"/>
<path d="M252.6 101l2-2.8-2.1-.8-2 2.9z" fill="#0fd"/>
<path d="M236.2 110.5l2-2-2-1-2.1 2.1z" fill="#08f"/>
<path d="M266.9 86.4l2-3.7-2.1-.6-2 3.7z" fill="#0f0"/>
<path d="M246.4 105.6l2.1-2.6-2.1-.8-2 2.5z" fill="#0cf"/>
<path d="M279.2 66.8l2-4.4-2.2-.4-2 4.4z" fill="#cf0"/>
<path d="M258.7 95.8l2-3.2-2.1-.6-2 3.2z" fill="#0f9"/>
<path d="M277.2 71.2l2-4.4-2.2-.4-2 4.3z" fill="#af0"/>
<path d="M180.9 104.2l2.1 0-1.9-1.8-2.2 0z" fill="#0df"/>
<path d="M217.8 114.3l2-1.3-2-1.2-2.1 1.3zM213.7 114.2l2-1.1-2-1.3-2 1.1z" fill="#05f"/>
<path d="M191.1 109l2.2-.3-2-1.7-2.2.4z" fill="#09f"/>
<path d="M221.9 114.2l2-1.5-2-1.1-2.1 1.4z" fill="#05f"/>
<path d="M164.5 93.9l2.2.4-1.9-2-2.3-.4z" fill="#0f8"/>
<path d="M209.6 113.9l2.1-1-2.1-1.3-2 1z" fill="#05f"/>
<path d="M240.3 109.4l2-2.3-2-.9-2.1 2.3z" fill="#09f"/>
<path d="M275.1 75.3l2.1-4.1-2.2-.5-2 4.2z" fill="#7f0"/>
<path d="M264.9 89.9l2-3.5-2.1-.6-2 3.5z" fill="#0f3"/>
<path d="M226 113.8l2-1.6-2-1.1-2.1 1.6zM205.5 113.4l2.1-.8-2-1.4-2.1.8z" fill="#05f"/>
<path d="M170.6 98.3l2.2.3-1.9-2-2.3-.2z" fill="#0fb"/>
<path d="M250.6 103.8l2-2.8-2.1-.7-2 2.7z" fill="#0ef"/>
<path d="M230.1 113.3l2-1.8-2-1-2.1 1.7z" fill="#06f"/>
<path d="M256.7 98.9l2-3.1-2.1-.6-2 3z" fill="#0fb"/>
<path d="M273.1 79.3l2-4-2.1-.4-2.1 4z" fill="#4f0"/>
<path d="M201.3 112.7l2.2-.7-2-1.4-2.1.6z" fill="#06f"/>
<path d="M187 107.6l2.1-.2-1.9-1.7-2.2.2z" fill="#0af"/>
<path d="M176.7 102.3l2.2.1-1.9-1.8-2.2-.1z" fill="#0ef"/>
<path d="M244.4 108l2-2.4-2-.9-2.1 2.4z" fill="#0af"/>
<path d="M234.2 112.5l2-2-2.1-.9-2 1.9z" fill="#07f"/>
<path d="M262.9 93.2l2-3.3-2.1-.6-2.1 3.3z" fill="#0f6"/>
<path d="M197.2 111.8l2.2-.6-2-1.5-2.2.5z" fill="#07f"/>
<path d="M271.1 83.2l2-3.9-2.2-.4-2 3.8z" fill="#2f0"/>
<path d="M160.2 91.3l2.3.6-1.9-2.2-2.3-.5z" fill="#0f5"/>
<path d="M182.8 106l2.2-.1-2-1.7-2.1 0z" fill="#0cf"/>
<path d="M166.4 95.9l2.2.5-1.9-2.1-2.2-.4z" fill="#0f9"/>
<path d="M238.3 111.5l2-2.1-2.1-.9-2 2z" fill="#07f"/>
<path d="M254.7 101.7l2-2.8-2.1-.7-2 2.8z" fill="#0fd"/>
<path d="M193.1 110.6l2.1-.4-1.9-1.5-2.2.3z" fill="#08f"/>
<path d="M248.6 106.3l2-2.5-2.1-.8-2.1 2.6z" fill="#0cf"/>
<path d="M269.1 86.8l2-3.6-2.2-.5-2 3.7z" fill="#0f0"/>
<path d="M260.9 96.4l2-3.2-2.2-.6-2 3.2z" fill="#0f9"/>
<path d="M215.7 115.5l2.1-1.2-2.1-1.2-2 1.1zM219.8 115.5l2.1-1.3-2.1-1.2-2 1.3z" fill="#04f"/>
<path d="M172.5 100.2l2.3.3-2-1.9-2.2-.3z" fill="#0fd"/>
<path d="M281.4 67.2l2-4.5-2.2-.3-2 4.4z" fill="#cf0"/>
<path d="M211.6 115.2l2.1-1-2-1.3-2.1 1zM223.9 115.3l2.1-1.5-2.1-1.1-2 1.5z" fill="#04f"/>
<path d="M279.4 71.5l2-4.3-2.2-.4-2 4.4z" fill="#af0"/>
<path d="M207.5 114.8l2.1-.9-2-1.3-2.1.8z" fill="#05f"/>
<path d="M242.4 110.2l2-2.2-2.1-.9-2 2.3z" fill="#09f"/>
<path d="M228 114.9l2.1-1.6-2.1-1.1-2 1.6z" fill="#05f"/>
<path d="M189 109.2l2.1-.2-2-1.6-2.1.2z" fill="#09f"/>
<path d="M178.7 104.1l2.2.1-2-1.8-2.2-.1z" fill="#0df"/>
<path d="M267.1 90.4l2-3.6-2.2-.4-2 3.5z" fill="#0f3"/>
<path d="M203.3 114.1l2.2-.7-2-1.4-2.2.7z" fill="#05f"/>
<path d="M277.3 75.7l2.1-4.2-2.2-.3-2.1 4.1z" fill="#7f0"/>
<path d="M232.1 114.3l2.1-1.8-2.1-1-2 1.8z" fill="#05f"/>
<path d="M252.7 104.5l2-2.8-2.1-.7-2 2.8z" fill="#0ef"/>
<path d="M258.9 99.5l2-3.1-2.2-.6-2 3.1z" fill="#0fb"/>
<path d="M162.2 93.4l2.3.5-2-2-2.3-.6z" fill="#0f7"/>
<path d="M199.2 113.2l2.1-.5-1.9-1.5-2.2.6z" fill="#06f"/>
<path d="M275.3 79.7l2-4-2.2-.4-2 4z" fill="#4f0"/>
<path d="M246.5 108.7l2.1-2.4-2.2-.7-2 2.4z" fill="#0af"/>
<path d="M168.3 97.9l2.3.4-2-1.9-2.2-.5z" fill="#0fb"/>
<path d="M236.3 113.4l2-1.9-2.1-1-2 2z" fill="#06f"/>
<path d="M184.8 107.7l2.2-.1-2-1.7-2.2.1z" fill="#0af"/>
<path d="M265 93.7l2.1-3.3-2.2-.5-2 3.3z" fill="#0f6"/>
<path d="M195.1 112.1l2.1-.3-2-1.6-2.1.4z" fill="#07f"/>
<path d="M174.5 102.1l2.2.2-1.9-1.8-2.3-.3z" fill="#0fe"/>
<path d="M273.3 83.6l2-3.9-2.2-.4-2 3.9z" fill="#2f0"/>
<path d="M240.4 112.3l2-2.1-2.1-.8-2 2.1z" fill="#07f"/>
<path d="M217.7 116.7l2.1-1.2-2-1.2-2.1 1.2z" fill="#03f"/>
<path d="M256.8 102.4l2.1-2.9-2.2-.6-2 2.8z" fill="#0fd"/>
<path d="M221.8 116.6l2.1-1.3-2-1.1-2.1 1.3z" fill="#03f"/>
<path d="M213.6 116.5l2.1-1-2-1.3-2.1 1z" fill="#04f"/>
<path d="M250.7 107l2-2.5-2.1-.7-2 2.5z" fill="#0cf"/>
<path d="M226 116.4l2-1.5-2-1.1-2.1 1.5zM209.5 116.1l2.1-.9-2-1.3-2.1.9z" fill="#04f"/>
<path d="M180.6 105.9l2.2.1-1.9-1.8-2.2-.1z" fill="#0cf"/>
<path d="M271.3 87.3l2-3.7-2.2-.4-2 3.6z" fill="#0f0"/>
<path d="M263 97l2-3.3-2.1-.5-2 3.2z" fill="#0f9"/>
<path d="M190.9 110.8l2.2-.2-2-1.6-2.1.2z" fill="#08f"/>
<path d="M283.6 67.5l2.1-4.5-2.3-.3-2 4.5z" fill="#df0"/>
<path d="M158 90.6l2.2.7-1.9-2.1-2.3-.8z" fill="#0f4"/>
<path d="M230.1 115.9l2-1.6-2-1-2.1 1.6z" fill="#04f"/>
<path d="M164.1 95.4l2.3.5-1.9-2-2.3-.5z" fill="#0f8"/>
<path d="M205.4 115.5l2.1-.7-2-1.4-2.2.7z" fill="#04f"/>
<path d="M244.5 111l2-2.3-2.1-.7-2 2.2z" fill="#08f"/>
<path d="M281.6 71.8l2-4.3-2.2-.3-2 4.3z" fill="#af0"/>
<path d="M170.3 99.8l2.2.4-1.9-1.9-2.3-.4z" fill="#0fc"/>
<path d="M234.2 115.2l2.1-1.8-2.1-.9-2.1 1.8zM201.2 114.6l2.1-.5-2-1.4-2.1.5z" fill="#05f"/>
<path d="M269.2 90.8l2.1-3.5-2.2-.5-2 3.6z" fill="#0f3"/>
<path d="M279.5 76l2.1-4.2-2.2-.3-2.1 4.2z" fill="#7f0"/>
<path d="M186.8 109.3l2.2-.1-2-1.6-2.2.1z" fill="#09f"/>
<path d="M254.8 105.1l2-2.7-2.1-.7-2 2.8z" fill="#0ef"/>
<path d="M261 100l2-3-2.1-.6-2 3.1z" fill="#0fb"/>
<path d="M176.5 103.9l2.2.2-2-1.8-2.2-.2z" fill="#0ef"/>
<path d="M248.7 109.5l2-2.5-2.1-.7-2.1 2.4z" fill="#0af"/>
<path d="M238.3 114.3l2.1-2-2.1-.8-2 1.9zM197.1 113.6l2.1-.4-2-1.4-2.1.3z" fill="#06f"/>
<path d="M277.5 80.1l2-4.1-2.2-.3-2 4z" fill="#4f0"/>
<path d="M267.2 94.2l2-3.4-2.1-.4-2.1 3.3zM159.9 92.6l2.3.8-2-2.1-2.2-.7z" fill="#0f6"/>
<path d="M182.6 107.6l2.2.1-2-1.7-2.2-.1z" fill="#0bf"/>
<path d="M219.8 117.8l2-1.2-2-1.1-2.1 1.2z" fill="#03f"/>
<path d="M242.5 113.1l2-2.1-2.1-.8-2 2.1z" fill="#07f"/>
<path d="M275.5 83.9l2-3.8-2.2-.4-2 3.9z" fill="#2f0"/>
<path d="M215.6 117.7l2.1-1-2-1.2-2.1 1z" fill="#03f"/>
<path d="M166.1 97.3l2.2.6-1.9-2-2.3-.5z" fill="#0fa"/>
<path d="M223.9 117.7l2.1-1.3-2.1-1.1-2.1 1.3z" fill="#03f"/>
<path d="M192.9 112.3l2.2-.2-2-1.5-2.2.2z" fill="#07f"/>
<path d="M211.5 117.3l2.1-.8-2-1.3-2.1.9zM228 117.4l2.1-1.5-2.1-1-2 1.5z" fill="#03f"/>
<path d="M259 102.9l2-2.9-2.1-.5-2.1 2.9z" fill="#0fd"/>
<path d="M252.8 107.7l2-2.6-2.1-.6-2 2.5z" fill="#0cf"/>
<path d="M172.3 101.7l2.2.4-2-1.9-2.2-.4z" fill="#0fd"/>
<path d="M207.4 116.8l2.1-.7-2-1.3-2.1.7zM232.2 116.8l2-1.6-2.1-.9-2 1.6z" fill="#04f"/>
<path d="M265.2 97.4l2-3.2-2.2-.5-2 3.3z" fill="#0f9"/>
<path d="M273.5 87.7l2-3.8-2.2-.3-2 3.7z" fill="#0f0"/>
<path d="M246.6 111.7l2.1-2.2-2.2-.8-2 2.3z" fill="#08f"/>
<path d="M203.2 116l2.2-.5-2.1-1.4-2.1.5z" fill="#04f"/>
<path d="M285.8 67.7l2.1-4.5-2.2-.2-2.1 4.5z" fill="#df0"/>
<path d="M188.8 110.9l2.1-.1-1.9-1.6-2.2.1z" fill="#08f"/>
<path d="M178.4 105.6l2.2.3-1.9-1.8-2.2-.2z" fill="#0df"/>
<path d="M236.3 116.1l2-1.8-2-.9-2.1 1.8z" fill="#05f"/>
<path d="M283.8 72.1l2-4.4-2.2-.2-2 4.3z" fill="#af0"/>
<path d="M199.1 115l2.1-.4-2-1.4-2.1.4z" fill="#05f"/>
<path d="M271.4 91.2l2.1-3.5-2.2-.4-2.1 3.5z" fill="#0f3"/>
<path d="M257 105.7l2-2.8-2.2-.5-2 2.7z" fill="#0ef"/>
<path d="M155.6 89.7l2.4.9-2-2.2-2.3-.9z" fill="#0f3"/>
<path d="M161.8 94.6l2.3.8-1.9-2-2.3-.8z" fill="#0f7"/>
<path d="M281.8 76.3l2-4.2-2.2-.3-2.1 4.2z" fill="#7f0"/>
<path d="M240.4 115.1l2.1-2-2.1-.8-2.1 2z" fill="#06f"/>
<path d="M263.2 100.5l2-3.1-2.2-.4-2 3z" fill="#0fb"/>
<path d="M250.8 110.1l2-2.4-2.1-.7-2 2.5z" fill="#0af"/>
<path d="M168 99.2l2.3.6-2-1.9-2.2-.6z" fill="#0fb"/>
<path d="M184.6 109.2l2.2.1-2-1.6-2.2-.1z" fill="#0af"/>
<path d="M279.7 80.3l2.1-4-2.3-.3-2 4.1z" fill="#5f0"/>
<path d="M194.9 113.8l2.2-.2-2-1.5-2.2.2z" fill="#06f"/>
<path d="M221.8 118.8l2.1-1.1-2.1-1.1-2 1.2zM217.7 118.8l2.1-1-2.1-1.1-2.1 1z" fill="#02f"/>
<path d="M174.2 103.5l2.3.4-2-1.8-2.2-.4z" fill="#0fe"/>
<path d="M269.4 94.6l2-3.4-2.2-.4-2 3.4z" fill="#0f6"/>
<path d="M226 118.7l2-1.3-2-1-2.1 1.3zM213.5 118.5l2.1-.8-2-1.2-2.1.8z" fill="#03f"/>
<path d="M244.6 113.8l2-2.1-2.1-.7-2 2.1z" fill="#07f"/>
<path d="M230.1 118.3l2.1-1.5-2.1-.9-2.1 1.5zM209.4 118l2.1-.7-2-1.2-2.1.7z" fill="#03f"/>
<path d="M277.7 84.2l2-3.9-2.2-.2-2 3.8z" fill="#2f0"/>
<path d="M261.2 103.4l2-2.9-2.2-.5-2 2.9z" fill="#0fd"/>
<path d="M254.9 108.3l2.1-2.6-2.2-.6-2 2.6z" fill="#0cf"/>
<path d="M190.8 112.4l2.1-.1-2-1.5-2.1.1z" fill="#08f"/>
<path d="M180.4 107.3l2.2.3-2-1.7-2.2-.3z" fill="#0cf"/>
<path d="M234.3 117.7l2-1.6-2.1-.9-2 1.6zM205.3 117.3l2.1-.5-2-1.3-2.2.5z" fill="#04f"/>
<path d="M157.6 91.7l2.3.9-1.9-2-2.4-.9z" fill="#0f4"/>
<path d="M267.4 97.9l2-3.3-2.2-.4-2 3.2zM163.8 96.6l2.3.7-2-1.9-2.3-.8z" fill="#0f9"/>
<path d="M248.8 112.4l2-2.3-2.1-.6-2.1 2.2z" fill="#08f"/>
<path d="M275.7 88l2-3.8-2.2-.3-2 3.8z" fill="#0f0"/>
<path d="M238.4 116.9l2-1.8-2.1-.8-2 1.8zM201.1 116.4l2.1-.4-2-1.4-2.1.4z" fill="#04f"/>
<path d="M170 101.1l2.3.6-2-1.9-2.3-.6z" fill="#0fc"/>
<path d="M288.1 67.8l2-4.5-2.2-.1-2.1 4.5z" fill="#df0"/>
<path d="M186.6 110.8l2.2.1-2-1.6-2.2-.1z" fill="#09f"/>
<path d="M286 72.2l2.1-4.4-2.3-.1-2 4.4z" fill="#af0"/>
<path d="M259.1 106.2l2.1-2.8-2.2-.5-2 2.8z" fill="#0ef"/>
<path d="M273.6 91.5l2.1-3.5-2.2-.3-2.1 3.5z" fill="#0f3"/>
<path d="M176.2 105.2l2.2.4-1.9-1.7-2.3-.4z" fill="#0ef"/>
<path d="M242.6 115.8l2-2-2.1-.7-2.1 2zM196.9 115.2l2.2-.2-2-1.4-2.2.2z" fill="#05f"/>
<path d="M252.9 110.7l2-2.4-2.1-.6-2 2.4z" fill="#0af"/>
<path d="M284 76.5l2-4.3-2.2-.1-2 4.2z" fill="#7f0"/>
<path d="M265.4 101l2-3.1-2.2-.5-2 3.1z" fill="#0fb"/>
<path d="M219.7 119.9l2.1-1.1-2-1-2.1 1zM223.9 119.9l2.1-1.2-2.1-1-2.1 1.1zM215.6 119.6l2.1-.8-2.1-1.1-2.1.8zM228 119.6l2.1-1.3-2.1-.9-2 1.3z" fill="#02f"/>
<path d="M282 80.6l2-4.1-2.2-.2-2.1 4z" fill="#5f0"/>
<path d="M211.4 119.2l2.1-.7-2-1.2-2.1.7z" fill="#02f"/>
<path d="M182.4 108.9l2.2.3-2-1.6-2.2-.3z" fill="#0bf"/>
<path d="M159.5 93.7l2.3.9-1.9-2-2.3-.9z" fill="#0f6"/>
<path d="M246.7 114.5l2.1-2.1-2.2-.7-2 2.1zM192.8 113.9l2.1-.1-2-1.5-2.1.1z" fill="#07f"/>
<path d="M271.6 95l2-3.5-2.2-.3-2 3.4z" fill="#0f6"/>
<path d="M153.3 88.6l2.3 1.1-1.9-2.2-2.3-1z" fill="#0f2"/>
<path d="M232.2 119.2l2.1-1.5-2.1-.9-2.1 1.5z" fill="#03f"/>
<path d="M165.8 98.5l2.2.7-1.9-1.9-2.3-.7z" fill="#0fa"/>
<path d="M207.3 118.6l2.1-.6-2-1.2-2.1.5z" fill="#03f"/>
<path d="M279.9 84.5l2.1-3.9-2.3-.3-2 3.9z" fill="#2f0"/>
<path d="M236.3 118.5l2.1-1.6-2.1-.8-2 1.6z" fill="#03f"/>
<path d="M172 102.9l2.2.6-1.9-1.8-2.3-.6z" fill="#0fd"/>
<path d="M257.1 108.8l2-2.6-2.1-.5-2.1 2.6z" fill="#0cf"/>
<path d="M263.3 103.9l2.1-2.9-2.2-.5-2 2.9z" fill="#0fd"/>
<path d="M203.1 117.7l2.2-.4-2.1-1.3-2.1.4z" fill="#04f"/>
<path d="M188.6 112.3l2.2.1-2-1.5-2.2-.1zM250.9 113l2-2.3-2.1-.6-2 2.3z" fill="#08f"/>
<path d="M269.6 98.2l2-3.2-2.2-.4-2 3.3z" fill="#0f8"/>
<path d="M240.5 117.6l2.1-1.8-2.2-.7-2 1.8z" fill="#04f"/>
<path d="M178.2 106.9l2.2.4-2-1.7-2.2-.4z" fill="#0cf"/>
<path d="M277.9 88.2l2-3.7-2.2-.3-2 3.8z" fill="#0f0"/>
<path d="M198.9 116.6l2.2-.2-2-1.4-2.2.2z" fill="#05f"/>
<path d="M290.4 67.9l2-4.5-2.3-.1-2 4.5z" fill="#df0"/>
<path d="M155.3 90.7l2.3 1-2-2-2.3-1.1z" fill="#0f3"/>
<path d="M161.5 95.7l2.3.9-2-2-2.3-.9z" fill="#0f7"/>
<path d="M244.7 116.5l2-2-2.1-.7-2 2z" fill="#05f"/>
<path d="M288.3 72.4l2.1-4.5-2.3-.1-2.1 4.4z" fill="#af0"/>
<path d="M261.3 106.7l2-2.8-2.1-.5-2.1 2.8z" fill="#0ef"/>
<path d="M275.8 91.8l2.1-3.6-2.2-.2-2.1 3.5z" fill="#0f3"/>
<path d="M184.4 110.5l2.2.3-2-1.6-2.2-.3z" fill="#0af"/>
<path d="M221.8 120.9l2.1-1-2.1-1.1-2.1 1.1z" fill="#02f"/>
<path d="M167.7 100.4l2.3.7-2-1.9-2.2-.7z" fill="#0fb"/>
<path d="M255.1 111.3l2-2.5-2.2-.5-2 2.4z" fill="#0af"/>
<path d="M217.6 120.7l2.1-.8-2-1.1-2.1.8zM226 120.8l2-1.2-2-.9-2.1 1.2z" fill="#02f"/>
<path d="M267.5 101.3l2.1-3.1-2.2-.3-2 3.1z" fill="#0fb"/>
<path d="M194.8 115.3l2.1-.1-2-1.4-2.1.1z" fill="#06f"/>
<path d="M286.2 76.6l2.1-4.2-2.3-.2-2 4.3z" fill="#8f0"/>
<path d="M213.5 120.3l2.1-.7-2.1-1.1-2.1.7zM230.1 120.5l2.1-1.3-2.1-.9-2.1 1.3z" fill="#02f"/>
<path d="M173.9 104.6l2.3.6-2-1.7-2.2-.6z" fill="#0ff"/>
<path d="M209.3 119.7l2.1-.5-2-1.2-2.1.6zM234.3 120l2-1.5-2-.8-2.1 1.5z" fill="#02f"/>
<path d="M248.9 115.2l2-2.2-2.1-.6-2.1 2.1z" fill="#07f"/>
<path d="M284.2 80.7l2-4.1-2.2-.1-2 4.1z" fill="#5f0"/>
<path d="M273.8 95.2l2-3.4-2.2-.3-2 3.5z" fill="#0f6"/>
<path d="M205.1 118.9l2.2-.3-2-1.3-2.2.4z" fill="#03f"/>
<path d="M190.6 113.8l2.2.1-2-1.5-2.2-.1z" fill="#07f"/>
<path d="M238.5 119.3l2-1.7-2.1-.7-2.1 1.6z" fill="#03f"/>
<path d="M180.1 108.5l2.3.4-2-1.6-2.2-.4z" fill="#0bf"/>
<path d="M259.3 109.3l2-2.6-2.2-.5-2 2.6z" fill="#0cf"/>
<path d="M282.2 84.6l2-3.9-2.2-.1-2.1 3.9z" fill="#2f0"/>
<path d="M265.5 104.3l2-3-2.1-.3-2.1 2.9z" fill="#0fd"/>
<path d="M157.2 92.7l2.3 1-1.9-2-2.3-1z" fill="#0f4"/>
<path d="M253 113.6l2.1-2.3-2.2-.6-2 2.3z" fill="#08f"/>
<path d="M163.5 97.6l2.3.9-2-1.9-2.3-.9z" fill="#0f9"/>
<path d="M201 117.9l2.1-.2-2-1.3-2.2.2zM242.6 118.3l2.1-1.8-2.1-.7-2.1 1.8z" fill="#04f"/>
<path d="M150.9 87.4l2.4 1.2-1.9-2.1-2.4-1.2z" fill="#0f0"/>
<path d="M271.8 98.5l2-3.3-2.2-.2-2 3.2z" fill="#0f8"/>
<path d="M169.7 102.1l2.3.8-2-1.8-2.3-.7z" fill="#0fc"/>
<path d="M280.1 88.4l2.1-3.8-2.3-.1-2 3.7z" fill="#0f0"/>
<path d="M186.4 112.1l2.2.2-2-1.5-2.2-.3z" fill="#09f"/>
<path d="M196.8 116.7l2.1-.1-2-1.4-2.1.1zM246.8 117.1l2.1-1.9-2.2-.7-2 2z" fill="#05f"/>
<path d="M223.9 121.8l2.1-1-2.1-.9-2.1 1z" fill="#01f"/>
<path d="M292.6 68l2.1-4.6-2.3 0-2 4.5z" fill="#df0"/>
<path d="M175.9 106.3l2.3.6-2-1.7-2.3-.6z" fill="#0df"/>
<path d="M219.7 121.7l2.1-.8-2.1-1-2.1.8zM228.1 121.7l2-1.2-2.1-.9-2 1.2zM215.5 121.4l2.1-.7-2-1.1-2.1.7z" fill="#01f"/>
<path d="M263.5 107.1l2-2.8-2.2-.4-2 2.8z" fill="#0ef"/>
<path d="M290.6 72.4l2-4.4-2.2-.1-2.1 4.5z" fill="#bf0"/>
<path d="M257.2 111.8l2.1-2.5-2.2-.5-2 2.5z" fill="#0af"/>
<path d="M232.2 121.4l2.1-1.4-2.1-.8-2.1 1.3z" fill="#02f"/>
<path d="M278.1 92l2-3.6-2.2-.2-2.1 3.6z" fill="#0f3"/>
<path d="M211.4 120.9l2.1-.6-2.1-1.1-2.1.5z" fill="#02f"/>
<path d="M269.8 101.6l2-3.1-2.2-.3-2.1 3.1z" fill="#0fb"/>
<path d="M288.5 76.7l2.1-4.3-2.3 0-2.1 4.2z" fill="#8f0"/>
<path d="M236.4 120.8l2.1-1.5-2.2-.8-2 1.5z" fill="#02f"/>
<path d="M182.1 110.1l2.3.4-2-1.6-2.3-.4z" fill="#0bf"/>
<path d="M192.6 115.2l2.2.1-2-1.4-2.2-.1z" fill="#06f"/>
<path d="M251 115.7l2-2.1-2.1-.6-2 2.2z" fill="#07f"/>
<path d="M207.2 120.1l2.1-.4-2-1.1-2.2.3z" fill="#03f"/>
<path d="M159.2 94.6l2.3 1.1-2-2-2.3-1z" fill="#0f6"/>
<path d="M152.9 89.5l2.4 1.2-2-2.1-2.4-1.2z" fill="#0f1"/>
<path d="M165.4 99.5l2.3.9-1.9-1.9-2.3-.9z" fill="#0fa"/>
<path d="M286.5 80.8l2-4.1-2.3-.1-2 4.1z" fill="#5f0"/>
<path d="M240.6 120l2-1.7-2.1-.7-2 1.7z" fill="#03f"/>
<path d="M276 95.5l2.1-3.5-2.3-.2-2 3.4z" fill="#0f5"/>
<path d="M171.7 103.9l2.2.7-1.9-1.7-2.3-.8z" fill="#0fd"/>
<path d="M203 119.2l2.1-.3-2-1.2-2.1.2z" fill="#03f"/>
<path d="M261.5 109.7l2-2.6-2.2-.4-2 2.6z" fill="#0cf"/>
<path d="M267.7 104.6l2.1-3-2.3-.3-2 3z" fill="#0fd"/>
<path d="M188.4 113.5l2.2.3-2-1.5-2.2-.2z" fill="#08f"/>
<path d="M284.4 84.7l2.1-3.9-2.3-.1-2 3.9z" fill="#3f0"/>
<path d="M244.8 119l2-1.9-2.1-.6-2.1 1.8z" fill="#04f"/>
<path d="M255.2 114.1l2-2.3-2.1-.5-2.1 2.3z" fill="#08f"/>
<path d="M177.9 108l2.2.5-1.9-1.6-2.3-.6z" fill="#0cf"/>
<path d="M198.8 118l2.2-.1-2.1-1.3-2.1.1z" fill="#04f"/>
<path d="M274 98.8l2-3.3-2.2-.3-2 3.3z" fill="#0f8"/>
<path d="M221.8 122.7l2.1-.9-2.1-.9-2.1.8z" fill="#01f"/>
<path d="M282.4 88.5l2-3.8-2.2-.1-2.1 3.8z" fill="#0f0"/>
<path d="M226 122.7l2.1-1-2.1-.9-2.1 1zM217.6 122.4l2.1-.7-2.1-1-2.1.7zM230.1 122.5l2.1-1.1-2.1-.9-2 1.2z" fill="#01f"/>
<path d="M249 117.7l2-2-2.1-.5-2.1 1.9z" fill="#05f"/>
<path d="M161.1 96.5l2.4 1.1-2-1.9-2.3-1.1z" fill="#0f7"/>
<path d="M154.8 91.5l2.4 1.2-1.9-2-2.4-1.2z" fill="#0f3"/>
<path d="M213.4 122l2.1-.6-2-1.1-2.1.6z" fill="#01f"/>
<path d="M184.1 111.6l2.3.5-2-1.6-2.3-.4z" fill="#0af"/>
<path d="M234.3 122.1l2.1-1.3-2.1-.8-2.1 1.4z" fill="#02f"/>
<path d="M294.9 67.9l2.1-4.6-2.3.1-2.1 4.6z" fill="#ef0"/>
<path d="M194.6 116.6l2.2.1-2-1.4-2.2-.1z" fill="#06f"/>
<path d="M167.4 101.3l2.3.8-2-1.7-2.3-.9z" fill="#0fb"/>
<path d="M265.7 107.4l2-2.8-2.2-.3-2 2.8z" fill="#0ef"/>
<path d="M148.6 86l2.3 1.4-1.9-2.1-2.4-1.4z" fill="#1f0"/>
<path d="M259.4 112.2l2.1-2.5-2.2-.4-2.1 2.5z" fill="#0af"/>
<path d="M209.2 121.3l2.2-.4-2.1-1.2-2.1.4z" fill="#02f"/>
<path d="M292.9 72.4l2-4.5-2.3.1-2 4.4z" fill="#bf0"/>
<path d="M280.3 92.2l2.1-3.7-2.3-.1-2 3.6z" fill="#0f2"/>
<path d="M238.5 121.5l2.1-1.5-2.1-.7-2.1 1.5z" fill="#02f"/>
<path d="M272 101.9l2-3.1-2.2-.3-2 3.1z" fill="#0fa"/>
<path d="M173.6 105.6l2.3.7-2-1.7-2.2-.7z" fill="#0ff"/>
<path d="M253.2 116.2l2-2.1-2.2-.5-2 2.1z" fill="#07f"/>
<path d="M290.8 76.7l2.1-4.3-2.3 0-2.1 4.3z" fill="#8f0"/>
<path d="M205 120.4l2.2-.3-2.1-1.2-2.1.3zM242.7 120.6l2.1-1.6-2.2-.7-2 1.7z" fill="#03f"/>
<path d="M190.4 115l2.2.2-2-1.4-2.2-.3z" fill="#07f"/>
<path d="M179.9 109.5l2.2.6-2-1.6-2.2-.5z" fill="#0bf"/>
<path d="M288.7 80.8l2.1-4.1-2.3 0-2 4.1z" fill="#6f0"/>
<path d="M278.3 95.6l2-3.4-2.2-.2-2.1 3.5z" fill="#0f5"/>
<path d="M263.7 110l2-2.6-2.2-.3-2 2.6z" fill="#0cf"/>
<path d="M200.8 119.2l2.2 0-2-1.3-2.2.1z" fill="#04f"/>
<path d="M269.9 104.9l2.1-3-2.2-.3-2.1 3z" fill="#0fd"/>
<path d="M246.9 119.5l2.1-1.8-2.2-.6-2 1.9z" fill="#04f"/>
<path d="M156.8 93.4l2.4 1.2-2-1.9-2.4-1.2z" fill="#0f4"/>
<path d="M257.4 114.5l2-2.3-2.2-.4-2 2.3z" fill="#08f"/>
<path d="M163.1 98.4l2.3 1.1-1.9-1.9-2.4-1.1z" fill="#0f8"/>
<path d="M286.7 84.8l2-4-2.2 0-2.1 3.9z" fill="#3f0"/>
<path d="M150.5 88.1l2.4 1.4-2-2.1-2.3-1.4z" fill="#0f0"/>
<path d="M169.4 103l2.3.9-2-1.8-2.3-.8z" fill="#0fc"/>
<path d="M223.9 123.6l2.1-.9-2.1-.9-2.1.9z" fill="#01f"/>
<path d="M186.1 113.1l2.3.4-2-1.4-2.3-.5z" fill="#09f"/>
<path d="M228.1 123.6l2-1.1-2-.8-2.1 1zM219.7 123.4l2.1-.7-2.1-1-2.1.7z" fill="#01f"/>
<path d="M276.3 98.9l2-3.3-2.3-.1-2 3.3z" fill="#0f8"/>
<path d="M232.3 123.3l2-1.2-2.1-.7-2.1 1.1z" fill="#01f"/>
<path d="M196.6 117.9l2.2.1-2-1.3-2.2-.1z" fill="#05f"/>
<path d="M215.5 123l2.1-.6-2.1-1-2.1.6z" fill="#01f"/>
<path d="M251.1 118.2l2.1-2-2.2-.5-2 2z" fill="#05f"/>
<path d="M284.6 88.6l2.1-3.8-2.3-.1-2 3.8z" fill="#0f0"/>
<path d="M175.6 107.2l2.3.8-2-1.7-2.3-.7z" fill="#0ef"/>
<path d="M236.5 122.9l2-1.4-2.1-.7-2.1 1.3z" fill="#01f"/>
<path d="M211.3 122.4l2.1-.4-2-1.1-2.2.4z" fill="#02f"/>
<path d="M267.9 107.7l2-2.8-2.2-.3-2 2.8z" fill="#0ef"/>
<path d="M261.6 112.5l2.1-2.5-2.2-.3-2.1 2.5z" fill="#0af"/>
<path d="M240.7 122.2l2-1.6-2.1-.6-2.1 1.5z" fill="#02f"/>
<path d="M297.2 67.8l2.1-4.6-2.3.1-2.1 4.6z" fill="#ef0"/>
<path d="M207.1 121.5l2.1-.2-2-1.2-2.2.3z" fill="#02f"/>
<path d="M192.4 116.3l2.2.3-2-1.4-2.2-.2z" fill="#06f"/>
<path d="M181.9 111.1l2.2.5-2-1.5-2.2-.6z" fill="#0bf"/>
<path d="M282.6 92.2l2-3.6-2.2-.1-2.1 3.7z" fill="#0f2"/>
<path d="M274.2 102.1l2.1-3.2-2.3-.1-2 3.1z" fill="#0fa"/>
<path d="M295.2 72.3l2-4.5-2.3.1-2 4.5z" fill="#bf0"/>
<path d="M255.3 116.7l2.1-2.2-2.2-.4-2 2.1z" fill="#07f"/>
<path d="M158.8 95.3l2.3 1.2-1.9-1.9-2.4-1.2z" fill="#0f6"/>
<path d="M244.9 121.2l2-1.7-2.1-.5-2.1 1.6z" fill="#03f"/>
<path d="M152.5 90.1l2.3 1.4-1.9-2-2.4-1.4z" fill="#0f1"/>
<path d="M165.1 100.2l2.3 1.1-2-1.8-2.3-1.1z" fill="#0fa"/>
<path d="M293.1 76.6l2.1-4.3-2.3.1-2.1 4.3z" fill="#8f0"/>
<path d="M202.9 120.4l2.1 0-2-1.2-2.2 0z" fill="#03f"/>
<path d="M146.1 84.4l2.5 1.6-2-2.1-2.4-1.6z" fill="#2f0"/>
<path d="M171.3 104.7l2.3.9-1.9-1.7-2.3-.9z" fill="#0fd"/>
<path d="M280.5 95.7l2.1-3.5-2.3 0-2 3.4z" fill="#0f5"/>
<path d="M291 80.8l2.1-4.2-2.3.1-2.1 4.1z" fill="#6f0"/>
<path d="M188.1 114.5l2.3.5-2-1.5-2.3-.4z" fill="#08f"/>
<path d="M265.9 110.3l2-2.6-2.2-.3-2 2.6z" fill="#0cf"/>
<path d="M249.1 120.1l2-1.9-2.1-.5-2.1 1.8z" fill="#04f"/>
<path d="M272.2 105.1l2-3-2.2-.2-2.1 3z" fill="#0fc"/>
<path d="M259.6 114.9l2-2.4-2.2-.3-2 2.3z" fill="#08f"/>
<path d="M198.6 119.1l2.2.1-2-1.2-2.2-.1z" fill="#04f"/>
<path d="M226 124.5l2.1-.9-2.1-.9-2.1.9z" fill="#00f"/>
<path d="M177.6 108.8l2.3.7-2-1.5-2.3-.8z" fill="#0df"/>
<path d="M221.8 124.3l2.1-.7-2.1-.9-2.1.7zM230.2 124.4l2.1-1.1-2.2-.8-2 1.1z" fill="#00f"/>
<path d="M289 84.7l2-3.9-2.3 0-2 4z" fill="#3f0"/>
<path d="M217.6 124l2.1-.6-2.1-1-2.1.6zM234.4 124.1l2.1-1.2-2.2-.8-2 1.2zM213.4 123.4l2.1-.4-2.1-1-2.1.4z" fill="#01f"/>
<path d="M278.5 99l2-3.3-2.2-.1-2 3.3z" fill="#0f7"/>
<path d="M238.6 123.5l2.1-1.3-2.2-.7-2 1.4z" fill="#01f"/>
<path d="M253.3 118.7l2-2-2.1-.5-2.1 2z" fill="#05f"/>
<path d="M183.9 112.5l2.2.6-2-1.5-2.2-.5z" fill="#0af"/>
<path d="M194.4 117.6l2.2.3-2-1.3-2.2-.3z" fill="#06f"/>
<path d="M160.7 97.2l2.4 1.2-2-1.9-2.3-1.2z" fill="#0f7"/>
<path d="M154.4 92l2.4 1.4-2-1.9-2.3-1.4z" fill="#0f3"/>
<path d="M286.9 88.6l2.1-3.9-2.3.1-2.1 3.8z" fill="#1f0"/>
<path d="M209.1 122.6l2.2-.2-2.1-1.1-2.1.2z" fill="#02f"/>
<path d="M167 101.9l2.4 1.1-2-1.7-2.3-1.1z" fill="#0fb"/>
<path d="M242.8 122.7l2.1-1.5-2.2-.6-2 1.6z" fill="#02f"/>
<path d="M148.1 86.5l2.4 1.6-1.9-2.1-2.5-1.6z" fill="#1f0"/>
<path d="M263.8 112.8l2.1-2.5-2.2-.3-2.1 2.5z" fill="#0af"/>
<path d="M270.1 107.9l2.1-2.8-2.3-.2-2 2.8z" fill="#0ef"/>
<path d="M173.3 106.3l2.3.9-2-1.6-2.3-.9z" fill="#0fe"/>
<path d="M299.6 67.6l2.1-4.7-2.4.3-2.1 4.6z" fill="#ef0"/>
<path d="M204.9 121.6l2.2-.1-2.1-1.1-2.1 0z" fill="#03f"/>
<path d="M257.5 117l2.1-2.1-2.2-.4-2.1 2.2z" fill="#07f"/>
<path d="M276.5 102.2l2-3.2-2.2-.1-2.1 3.2z" fill="#0fa"/>
<path d="M284.9 92.2l2-3.6-2.3 0-2 3.6z" fill="#0f1"/>
<path d="M247 121.8l2.1-1.7-2.2-.6-2 1.7z" fill="#03f"/>
<path d="M297.5 72.1l2.1-4.5-2.4.2-2 4.5z" fill="#cf0"/>
<path d="M190.2 115.9l2.2.4-2-1.3-2.3-.5z" fill="#07f"/>
<path d="M179.6 110.3l2.3.8-2-1.6-2.3-.7z" fill="#0cf"/>
<path d="M295.4 76.5l2.1-4.4-2.3.2-2.1 4.3z" fill="#9f0"/>
<path d="M200.7 120.3l2.2.1-2.1-1.2-2.2-.1zM251.2 120.5l2.1-1.8-2.2-.5-2 1.9z" fill="#04f"/>
<path d="M228.1 125.2l2.1-.8-2.1-.8-2.1.9zM223.9 125.2l2.1-.7-2.1-.9-2.1.7z" fill="#00f"/>
<path d="M282.8 95.7l2.1-3.5-2.3 0-2.1 3.5z" fill="#0f4"/>
<path d="M268.1 110.6l2-2.7-2.2-.2-2 2.6z" fill="#0cf"/>
<path d="M293.3 80.6l2.1-4.1-2.3.1-2.1 4.2z" fill="#6f0"/>
<path d="M232.3 125.1l2.1-1-2.1-.8-2.1 1.1zM219.6 124.9l2.2-.6-2.1-.9-2.1.6z" fill="#00f"/>
<path d="M156.4 93.9l2.4 1.4-2-1.9-2.4-1.4z" fill="#0f4"/>
<path d="M162.7 99l2.4 1.2-2-1.8-2.4-1.2z" fill="#0f8"/>
<path d="M261.8 115.2l2-2.4-2.2-.3-2 2.4z" fill="#09f"/>
<path d="M274.4 105.2l2.1-3-2.3-.1-2 3z" fill="#0fc"/>
<path d="M236.5 124.7l2.1-1.2-2.1-.6-2.1 1.2z" fill="#01f"/>
<path d="M150.1 88.5l2.4 1.6-2-2-2.4-1.6z" fill="#0f0"/>
<path d="M185.9 114l2.2.5-2-1.4-2.2-.6z" fill="#09f"/>
<path d="M215.4 124.4l2.2-.4-2.1-1-2.1.4z" fill="#01f"/>
<path d="M169 103.6l2.3 1.1-1.9-1.7-2.4-1.1z" fill="#0fc"/>
<path d="M196.4 118.9l2.2.2-2-1.2-2.2-.3z" fill="#05f"/>
<path d="M291.3 84.7l2-4.1-2.3.2-2 3.9z" fill="#4f0"/>
<path d="M240.7 124.1l2.1-1.4-2.1-.5-2.1 1.3z" fill="#01f"/>
<path d="M143.7 82.7l2.4 1.7-1.9-2.1-2.5-1.7z" fill="#4f0"/>
<path d="M211.2 123.6l2.2-.2-2.1-1-2.2.2z" fill="#01f"/>
<path d="M255.5 119.1l2-2.1-2.2-.3-2 2z" fill="#06f"/>
<path d="M175.3 107.9l2.3.9-2-1.6-2.3-.9z" fill="#0ef"/>
<path d="M280.8 99.1l2-3.4-2.3 0-2 3.3z" fill="#0f7"/>
<path d="M245 123.3l2-1.5-2.1-.6-2.1 1.5z" fill="#02f"/>
<path d="M289.2 88.5l2.1-3.8-2.3 0-2.1 3.9z" fill="#1f0"/>
<path d="M207 122.7l2.1-.1-2-1.1-2.2.1z" fill="#02f"/>
<path d="M266.1 113.1l2-2.5-2.2-.3-2.1 2.5z" fill="#0bf"/>
<path d="M192.2 117.2l2.2.4-2-1.3-2.2-.4z" fill="#07f"/>
<path d="M272.4 108l2-2.8-2.2-.1-2.1 2.8z" fill="#0fe"/>
<path d="M181.6 111.8l2.3.7-2-1.4-2.3-.8z" fill="#0bf"/>
<path d="M259.7 117.4l2.1-2.2-2.2-.3-2.1 2.1z" fill="#07f"/>
<path d="M249.2 122.2l2-1.7-2.1-.4-2.1 1.7z" fill="#03f"/>
<path d="M301.9 67.4l2.1-4.7-2.3.2-2.1 4.7z" fill="#fe0"/>
<path d="M202.7 121.5l2.2.1-2-1.2-2.2-.1z" fill="#03f"/>
<path d="M278.7 102.3l2.1-3.2-2.3-.1-2 3.2z" fill="#0f9"/>
<path d="M158.4 95.8l2.3 1.4-1.9-1.9-2.4-1.4z" fill="#0f5"/>
<path d="M287.2 92.2l2-3.7-2.3.1-2 3.6z" fill="#0f1"/>
<path d="M164.7 100.7l2.3 1.2-1.9-1.7-2.4-1.2z" fill="#0f9"/>
<path d="M152 90.5l2.4 1.5-1.9-1.9-2.4-1.6z" fill="#0f1"/>
<path d="M299.8 71.9l2.1-4.5-2.3.2-2.1 4.5z" fill="#cf0"/>
<path d="M171 105.3l2.3 1-2-1.6-2.3-1.1z" fill="#0fd"/>
<path d="M145.7 84.8l2.4 1.7-2-2.1-2.4-1.7z" fill="#3f0"/>
<path d="M226 126l2.1-.8-2.1-.7-2.1.7zM230.2 126l2.1-.9-2.1-.7-2.1.8z" fill="#00f"/>
<path d="M187.9 115.3l2.3.6-2.1-1.4-2.2-.5z" fill="#08f"/>
<path d="M221.7 125.7l2.2-.5-2.1-.9-2.2.6z" fill="#00f"/>
<path d="M297.7 76.3l2.1-4.4-2.3.2-2.1 4.4z" fill="#9f0"/>
<path d="M234.4 125.8l2.1-1.1-2.1-.6-2.1 1z" fill="#00f"/>
<path d="M253.4 120.9l2.1-1.8-2.2-.4-2.1 1.8z" fill="#04f"/>
<path d="M198.5 120.1l2.2.2-2.1-1.2-2.2-.2z" fill="#05f"/>
<path d="M217.5 125.3l2.1-.4-2-.9-2.2.4z" fill="#01f"/>
<path d="M270.3 110.7l2.1-2.7-2.3-.1-2 2.7z" fill="#0df"/>
<path d="M285.1 95.7l2.1-3.5-2.3 0-2.1 3.5z" fill="#0f4"/>
<path d="M238.6 125.3l2.1-1.2-2.1-.6-2.1 1.2z" fill="#01f"/>
<path d="M177.3 109.4l2.3.9-2-1.5-2.3-.9z" fill="#0df"/>
<path d="M264 115.4l2.1-2.3-2.3-.3-2 2.4z" fill="#09f"/>
<path d="M295.7 80.5l2-4.2-2.3.2-2.1 4.1z" fill="#7f0"/>
<path d="M276.7 105.3l2-3-2.2-.1-2.1 3z" fill="#0fc"/>
<path d="M213.3 124.6l2.1-.2-2-1-2.2.2zM242.9 124.7l2.1-1.4-2.2-.6-2.1 1.4z" fill="#01f"/>
<path d="M257.7 119.4l2-2-2.2-.4-2 2.1z" fill="#06f"/>
<path d="M293.6 84.5l2.1-4-2.4.1-2 4.1z" fill="#4f0"/>
<path d="M194.2 118.5l2.2.4-2-1.3-2.2-.4z" fill="#06f"/>
<path d="M209 123.7l2.2-.1-2.1-1-2.1.1z" fill="#02f"/>
<path d="M183.6 113.2l2.3.8-2-1.5-2.3-.7z" fill="#0af"/>
<path d="M283.1 99.1l2-3.4-2.3 0-2 3.4zM160.3 97.6l2.4 1.4-2-1.8-2.3-1.4z" fill="#0f6"/>
<path d="M247.1 123.8l2.1-1.6-2.2-.4-2 1.5z" fill="#02f"/>
<path d="M154 92.4l2.4 1.5-2-1.9-2.4-1.5z" fill="#0f2"/>
<path d="M166.7 102.4l2.3 1.2-2-1.7-2.3-1.2z" fill="#0fa"/>
<path d="M147.6 86.8l2.5 1.7-2-2-2.4-1.7zM291.5 88.4l2.1-3.9-2.3.2-2.1 3.8z" fill="#2f0"/>
<path d="M268.3 113.2l2-2.5-2.2-.1-2 2.5z" fill="#0bf"/>
<path d="M204.8 122.6l2.2.1-2.1-1.1-2.2-.1z" fill="#03f"/>
<path d="M274.6 108.1l2.1-2.8-2.3-.1-2 2.8zM173 106.8l2.3 1.1-2-1.6-2.3-1z" fill="#0fe"/>
<path d="M251.4 122.6l2-1.7-2.2-.4-2 1.7z" fill="#03f"/>
<path d="M262 117.6l2-2.2-2.2-.2-2.1 2.2z" fill="#07f"/>
<path d="M141.2 80.8l2.5 1.9-2-2.1-2.4-1.9z" fill="#6f0"/>
<path d="M190 116.6l2.2.6-2-1.3-2.3-.6z" fill="#08f"/>
<path d="M281 102.2l2.1-3.1-2.3 0-2.1 3.2z" fill="#0f9"/>
<path d="M304.3 67.1l2.1-4.8-2.4.4-2.1 4.7z" fill="#fd0"/>
<path d="M228.1 126.7l2.1-.7-2.1-.8-2.1.8z" fill="#00f"/>
<path d="M289.5 92.1l2-3.7-2.3.1-2 3.7z" fill="#0f0"/>
<path d="M179.3 110.9l2.3.9-2-1.5-2.3-.9z" fill="#0cf"/>
<path d="M200.5 121.2l2.2.3-2-1.2-2.2-.2z" fill="#04f"/>
<path d="M232.3 126.7l2.1-.9-2.1-.7-2.1.9zM223.8 126.5l2.2-.5-2.1-.8-2.2.5z" fill="#00f"/>
<path d="M302.2 71.6l2.1-4.5-2.4.3-2.1 4.5z" fill="#df0"/>
<path d="M236.6 126.4l2-1.1-2.1-.6-2.1 1.1zM219.6 126.1l2.1-.4-2.1-.8-2.1.4z" fill="#00f"/>
<path d="M255.6 121.3l2.1-1.9-2.2-.3-2.1 1.8z" fill="#05f"/>
<path d="M240.8 125.9l2.1-1.2-2.2-.6-2.1 1.2z" fill="#01f"/>
<path d="M300.1 76l2.1-4.4-2.4.3-2.1 4.4z" fill="#af0"/>
<path d="M215.4 125.5l2.1-.2-2.1-.9-2.1.2z" fill="#01f"/>
<path d="M272.6 110.8l2-2.7-2.2-.1-2.1 2.7z" fill="#0df"/>
<path d="M156 94.2l2.4 1.6-2-1.9-2.4-1.5z" fill="#0f3"/>
<path d="M162.3 99.3l2.4 1.4-2-1.7-2.4-1.4z" fill="#0f7"/>
<path d="M266.2 115.6l2.1-2.4-2.2-.1-2.1 2.3z" fill="#09f"/>
<path d="M287.4 95.6l2.1-3.5-2.3.1-2.1 3.5z" fill="#0f3"/>
<path d="M185.7 114.6l2.2.7-2-1.3-2.3-.8z" fill="#09f"/>
<path d="M196.3 119.7l2.2.4-2.1-1.2-2.2-.4z" fill="#05f"/>
<path d="M149.6 88.7l2.4 1.8-1.9-2-2.5-1.7z" fill="#0f0"/>
<path d="M168.7 104l2.3 1.3-2-1.7-2.3-1.2z" fill="#0fb"/>
<path d="M245.1 125.1l2-1.3-2.1-.5-2.1 1.4z" fill="#01f"/>
<path d="M279 105.3l2-3.1-2.3.1-2 3z" fill="#0fb"/>
<path d="M298 80.2l2.1-4.2-2.4.3-2 4.2z" fill="#7f0"/>
<path d="M211.1 124.7l2.2-.1-2.1-1-2.2.1z" fill="#02f"/>
<path d="M143.2 82.9l2.5 1.9-2-2.1-2.5-1.9z" fill="#4f0"/>
<path d="M259.9 119.7l2.1-2.1-2.3-.2-2 2z" fill="#06f"/>
<path d="M175 108.4l2.3 1-2-1.5-2.3-1.1z" fill="#0ef"/>
<path d="M249.3 124.2l2.1-1.6-2.2-.4-2.1 1.6z" fill="#02f"/>
<path d="M296 84.3l2-4.1-2.3.3-2.1 4z" fill="#5f0"/>
<path d="M206.9 123.6l2.1.1-2-1-2.2-.1z" fill="#02f"/>
<path d="M285.4 99l2-3.4-2.3.1-2 3.4z" fill="#0f6"/>
<path d="M192 117.9l2.2.6-2-1.3-2.2-.6z" fill="#07f"/>
<path d="M181.4 112.3l2.2.9-2-1.4-2.3-.9zM270.5 113.4l2.1-2.6-2.3-.1-2 2.5z" fill="#0bf"/>
<path d="M293.9 88.1l2.1-3.8-2.4.2-2.1 3.9z" fill="#2f0"/>
<path d="M276.9 108.1l2.1-2.8-2.3 0-2.1 2.8z" fill="#0fd"/>
<path d="M253.6 123l2-1.7-2.2-.4-2 1.7zM202.6 122.3l2.2.3-2.1-1.1-2.2-.3z" fill="#04f"/>
<path d="M264.2 117.8l2-2.2-2.2-.2-2 2.2z" fill="#08f"/>
<path d="M230.2 127.4l2.1-.7-2.1-.7-2.1.7zM226 127.3l2.1-.6-2.1-.7-2.2.5z" fill="#00f"/>
<path d="M158 96l2.3 1.6-1.9-1.8-2.4-1.6z" fill="#0f4"/>
<path d="M234.5 127.3l2.1-.9-2.2-.6-2.1.9z" fill="#00f"/>
<path d="M164.3 101l2.4 1.4-2-1.7-2.4-1.4z" fill="#0f8"/>
<path d="M221.7 126.9l2.1-.4-2.1-.8-2.1.4z" fill="#00f"/>
<path d="M151.6 90.6l2.4 1.8-2-1.9-2.4-1.8z" fill="#0f0"/>
<path d="M283.3 102.2l2.1-3.2-2.3.1-2.1 3.1z" fill="#0f8"/>
<path d="M238.7 126.9l2.1-1-2.2-.6-2 1.1z" fill="#00f"/>
<path d="M291.8 91.9l2.1-3.8-2.4.3-2 3.7z" fill="#0f0"/>
<path d="M170.7 105.6l2.3 1.2-2-1.5-2.3-1.3z" fill="#0fc"/>
<path d="M306.7 66.7l2.1-4.8-2.4.4-2.1 4.8z" fill="#fd0"/>
<path d="M187.7 115.9l2.3.7-2.1-1.3-2.2-.7z" fill="#09f"/>
<path d="M217.5 126.4l2.1-.3-2.1-.8-2.1.2z" fill="#01f"/>
<path d="M145.2 84.9l2.4 1.9-1.9-2-2.5-1.9z" fill="#3f0"/>
<path d="M257.9 121.5l2-1.8-2.2-.3-2.1 1.9zM198.3 120.8l2.2.4-2-1.1-2.2-.4z" fill="#05f"/>
<path d="M243 126.4l2.1-1.3-2.2-.4-2.1 1.2z" fill="#01f"/>
<path d="M304.6 71.3l2.1-4.6-2.4.4-2.1 4.5z" fill="#df0"/>
<path d="M213.2 125.6l2.2-.1-2.1-.9-2.2.1z" fill="#01f"/>
<path d="M177 109.8l2.3 1.1-2-1.5-2.3-1zM274.9 110.9l2-2.8-2.3 0-2 2.7z" fill="#0ef"/>
<path d="M302.5 75.7l2.1-4.4-2.4.3-2.1 4.4z" fill="#af0"/>
<path d="M138.7 78.7l2.5 2.1-1.9-2.1-2.5-2.1z" fill="#7f0"/>
<path d="M268.5 115.7l2-2.3-2.2-.2-2.1 2.4z" fill="#0af"/>
<path d="M247.2 125.6l2.1-1.4-2.2-.4-2 1.3z" fill="#02f"/>
<path d="M289.8 95.4l2-3.5-2.3.2-2.1 3.5z" fill="#0f2"/>
<path d="M281.3 105.2l2-3-2.3 0-2 3.1z" fill="#0fb"/>
<path d="M208.9 124.6l2.2.1-2.1-1-2.1-.1z" fill="#02f"/>
<path d="M300.4 79.9l2.1-4.2-2.4.3-2.1 4.2z" fill="#8f0"/>
<path d="M194 119.1l2.3.6-2.1-1.2-2.2-.6zM262.1 119.9l2.1-2.1-2.2-.2-2.1 2.1z" fill="#06f"/>
<path d="M183.4 113.7l2.3.9-2.1-1.4-2.2-.9z" fill="#0bf"/>
<path d="M251.5 124.5l2.1-1.5-2.2-.4-2.1 1.6z" fill="#03f"/>
<path d="M159.9 97.7l2.4 1.6-2-1.7-2.3-1.6z" fill="#0f6"/>
<path d="M153.5 92.5l2.5 1.7-2-1.8-2.4-1.8z" fill="#0f1"/>
<path d="M298.3 84l2.1-4.1-2.4.3-2 4.1z" fill="#5f0"/>
<path d="M166.3 102.6l2.4 1.4-2-1.6-2.4-1.4z" fill="#0f9"/>
<path d="M204.7 123.4l2.2.2-2.1-1-2.2-.3z" fill="#03f"/>
<path d="M287.7 98.8l2.1-3.4-2.4.2-2 3.4z" fill="#0f5"/>
<path d="M147.1 86.8l2.5 1.9-2-1.9-2.4-1.9z" fill="#2f0"/>
<path d="M272.8 113.4l2.1-2.5-2.3-.1-2.1 2.6z" fill="#0cf"/>
<path d="M172.7 107.1l2.3 1.3-2-1.6-2.3-1.2z" fill="#0fd"/>
<path d="M255.8 123.3l2.1-1.8-2.3-.2-2 1.7z" fill="#04f"/>
<path d="M232.4 128l2.1-.7-2.2-.6-2.1.7zM228.1 128l2.1-.6-2.1-.7-2.1.6z" fill="#00f"/>
<path d="M279.2 108.1l2.1-2.9-2.3.1-2.1 2.8z" fill="#0fd"/>
<path d="M189.7 117.1l2.3.8-2-1.3-2.3-.7z" fill="#08f"/>
<path d="M223.8 127.7l2.2-.4-2.2-.8-2.1.4zM236.6 127.8l2.1-.9-2.1-.5-2.1.9z" fill="#00f"/>
<path d="M296.2 87.9l2.1-3.9-2.3.3-2.1 3.8z" fill="#3f0"/>
<path d="M266.4 118l2.1-2.3-2.3-.1-2 2.2z" fill="#08f"/>
<path d="M140.7 80.8l2.5 2.1-2-2.1-2.5-2.1z" fill="#6f0"/>
<path d="M200.4 121.9l2.2.4-2.1-1.1-2.2-.4z" fill="#04f"/>
<path d="M219.6 127.2l2.1-.3-2.1-.8-2.1.3zM240.9 127.4l2.1-1-2.2-.5-2.1 1z" fill="#00f"/>
<path d="M179.1 111.2l2.3 1.1-2.1-1.4-2.3-1.1z" fill="#0df"/>
<path d="M285.6 102l2.1-3.2-2.3.2-2.1 3.2z" fill="#0f8"/>
<path d="M215.3 126.4l2.2 0-2.1-.9-2.2.1zM245.2 126.8l2-1.2-2.1-.5-2.1 1.3z" fill="#01f"/>
<path d="M260.1 121.8l2-1.9-2.2-.2-2 1.8z" fill="#05f"/>
<path d="M294.2 91.6l2-3.7-2.3.2-2.1 3.8z" fill="#0f0"/>
<path d="M309.1 66.2l2.1-4.8-2.4.5-2.1 4.8z" fill="#fc0"/>
<path d="M307 70.8l2.1-4.6-2.4.5-2.1 4.6z" fill="#ef0"/>
<path d="M196.1 120.2l2.2.6-2-1.1-2.3-.6z" fill="#06f"/>
<path d="M211 125.5l2.2.1-2.1-.9-2.2-.1z" fill="#02f"/>
<path d="M185.4 115l2.3.9-2-1.3-2.3-.9z" fill="#0af"/>
<path d="M249.4 125.9l2.1-1.4-2.2-.3-2.1 1.4z" fill="#02f"/>
<path d="M155.5 94.2l2.5 1.8-2-1.8-2.5-1.7z" fill="#0f2"/>
<path d="M161.9 99.4l2.4 1.6-2-1.7-2.4-1.6z" fill="#0f7"/>
<path d="M277.2 110.8l2-2.7-2.3 0-2 2.8z" fill="#0ef"/>
<path d="M270.8 115.8l2-2.4-2.3 0-2 2.3z" fill="#0af"/>
<path d="M149.1 88.7l2.5 1.9-2-1.9-2.5-1.9z" fill="#1f0"/>
<path d="M168.3 104.2l2.4 1.4-2-1.6-2.4-1.4z" fill="#0fa"/>
<path d="M304.9 75.3l2.1-4.5-2.4.5-2.1 4.4z" fill="#bf0"/>
<path d="M292.1 95.2l2.1-3.6-2.4.3-2 3.5z" fill="#0f2"/>
<path d="M283.6 105.1l2-3.1-2.3.2-2 3z" fill="#0fa"/>
<path d="M264.4 120l2-2-2.2-.2-2.1 2.1z" fill="#07f"/>
<path d="M206.7 124.3l2.2.3-2-1-2.2-.2z" fill="#03f"/>
<path d="M142.7 82.8l2.5 2.1-2-2-2.5-2.1z" fill="#5f0"/>
<path d="M253.7 124.8l2.1-1.5-2.2-.3-2.1 1.5z" fill="#03f"/>
<path d="M174.7 108.6l2.3 1.2-2-1.4-2.3-1.3z" fill="#0fe"/>
<path d="M302.8 79.5l2.1-4.2-2.4.4-2.1 4.2z" fill="#8f0"/>
<path d="M191.8 118.3l2.2.8-2-1.2-2.3-.8z" fill="#08f"/>
<path d="M300.7 83.6l2.1-4.1-2.4.4-2.1 4.1z" fill="#6f0"/>
<path d="M230.2 128.6l2.2-.6-2.2-.6-2.1.6z" fill="#00f"/>
<path d="M136.2 76.5l2.5 2.2-1.9-2.1-2.6-2.2z" fill="#9f0"/>
<path d="M234.5 128.6l2.1-.8-2.1-.5-2.1.7z" fill="#00f"/>
<path d="M181.1 112.6l2.3 1.1-2-1.4-2.3-1.1z" fill="#0cf"/>
<path d="M290 98.6l2.1-3.4-2.3.2-2.1 3.4z" fill="#0f4"/>
<path d="M226 128.4l2.1-.4-2.1-.7-2.2.4z" fill="#00f"/>
<path d="M202.5 122.9l2.2.5-2.1-1.1-2.2-.4zM258 123.5l2.1-1.7-2.2-.3-2.1 1.8z" fill="#04f"/>
<path d="M238.8 128.3l2.1-.9-2.2-.5-2.1.9z" fill="#00f"/>
<path d="M275.1 113.4l2.1-2.6-2.3.1-2.1 2.5z" fill="#0cf"/>
<path d="M221.7 127.9l2.1-.2-2.1-.8-2.1.3z" fill="#00f"/>
<path d="M281.5 108l2.1-2.9-2.3.1-2.1 2.9z" fill="#0fc"/>
<path d="M268.7 118l2.1-2.2-2.3-.1-2.1 2.3z" fill="#09f"/>
<path d="M243.1 127.9l2.1-1.1-2.2-.4-2.1 1z" fill="#01f"/>
<path d="M298.6 87.5l2.1-3.9-2.4.4-2.1 3.9z" fill="#3f0"/>
<path d="M157.5 96l2.4 1.7-1.9-1.7-2.5-1.8z" fill="#0f4"/>
<path d="M217.4 127.3l2.2-.1-2.1-.8-2.2 0z" fill="#01f"/>
<path d="M163.9 101l2.4 1.6-2-1.6-2.4-1.6z" fill="#0f8"/>
<path d="M151.1 90.5l2.4 2-1.9-1.9-2.5-1.9z" fill="#0f0"/>
<path d="M247.4 127.2l2-1.3-2.2-.3-2 1.2z" fill="#01f"/>
<path d="M187.5 116.2l2.2.9-2-1.2-2.3-.9z" fill="#09f"/>
<path d="M170.3 105.7l2.4 1.4-2-1.5-2.4-1.4z" fill="#0fb"/>
<path d="M198.2 121.3l2.2.6-2.1-1.1-2.2-.6z" fill="#05f"/>
<path d="M288 101.8l2-3.2-2.3.2-2.1 3.2z" fill="#0f7"/>
<path d="M262.3 121.9l2.1-1.9-2.3-.1-2 1.9z" fill="#06f"/>
<path d="M213.1 126.4l2.2 0-2.1-.8-2.2-.1z" fill="#02f"/>
<path d="M144.6 84.7l2.5 2.1-1.9-1.9-2.5-2.1z" fill="#4f0"/>
<path d="M296.5 91.3l2.1-3.8-2.4.4-2 3.7z" fill="#1f0"/>
<path d="M251.6 126.2l2.1-1.4-2.2-.3-2.1 1.4z" fill="#02f"/>
<path d="M176.7 110l2.4 1.2-2.1-1.4-2.3-1.2z" fill="#0ef"/>
<path d="M311.5 65.7l2.1-4.8-2.4.5-2.1 4.8z" fill="#fb0"/>
<path d="M138.2 78.5l2.5 2.3-2-2.1-2.5-2.2z" fill="#8f0"/>
<path d="M208.8 125.2l2.2.3-2.1-.9-2.2-.3z" fill="#03f"/>
<path d="M273 115.8l2.1-2.4-2.3 0-2 2.4z" fill="#0bf"/>
<path d="M309.4 70.3l2.1-4.6-2.4.5-2.1 4.6z" fill="#ef0"/>
<path d="M279.5 110.7l2-2.7-2.3.1-2 2.7z" fill="#0fe"/>
<path d="M193.8 119.5l2.3.7-2.1-1.1-2.2-.8z" fill="#07f"/>
<path d="M307.3 74.8l2.1-4.5-2.4.5-2.1 4.5z" fill="#cf0"/>
<path d="M266.6 120.1l2.1-2.1-2.3 0-2 2z" fill="#07f"/>
<path d="M255.9 125.1l2.1-1.6-2.2-.2-2.1 1.5z" fill="#03f"/>
<path d="M294.5 94.9l2-3.6-2.3.3-2.1 3.6z" fill="#0f1"/>
<path d="M183.1 113.9l2.3 1.1-2-1.3-2.3-1.1z" fill="#0bf"/>
<path d="M285.9 104.9l2.1-3.1-2.4.2-2 3.1z" fill="#0f9"/>
<path d="M204.5 123.9l2.2.4-2-.9-2.2-.5z" fill="#04f"/>
<path d="M305.2 79.1l2.1-4.3-2.4.5-2.1 4.2z" fill="#9f0"/>
<path d="M159.5 97.6l2.4 1.8-2-1.7-2.4-1.7z" fill="#0f5"/>
<path d="M232.4 129.1l2.1-.5-2.1-.6-2.2.6zM228.1 129l2.1-.4-2.1-.6-2.1.4z" fill="#00f"/>
<path d="M153.1 92.3l2.4 1.9-2-1.7-2.4-2z" fill="#0f0"/>
<path d="M236.7 129.1l2.1-.8-2.2-.5-2.1.8z" fill="#00f"/>
<path d="M165.9 102.6l2.4 1.6-2-1.6-2.4-1.6z" fill="#0f9"/>
<path d="M223.8 128.6l2.2-.2-2.2-.7-2.1.2zM241 128.8l2.1-.9-2.2-.5-2.1.9z" fill="#00f"/>
<path d="M146.6 86.6l2.5 2.1-2-1.9-2.5-2.1z" fill="#3f0"/>
<path d="M260.3 123.7l2-1.8-2.2-.1-2.1 1.7z" fill="#05f"/>
<path d="M172.4 107.2l2.3 1.4-2-1.5-2.4-1.4z" fill="#0fc"/>
<path d="M303.1 83.2l2.1-4.1-2.4.4-2.1 4.1z" fill="#6f0"/>
<path d="M292.4 98.3l2.1-3.4-2.4.3-2.1 3.4z" fill="#0f4"/>
<path d="M189.5 117.4l2.3.9-2.1-1.2-2.2-.9z" fill="#09f"/>
<path d="M219.5 128l2.2-.1-2.1-.7-2.2.1z" fill="#01f"/>
<path d="M277.4 113.3l2.1-2.6-2.3.1-2.1 2.6z" fill="#0df"/>
<path d="M245.3 128.2l2.1-1-2.2-.4-2.1 1.1z" fill="#01f"/>
<path d="M200.2 122.4l2.3.5-2.1-1-2.2-.6z" fill="#05f"/>
<path d="M271 118l2-2.2-2.2 0-2.1 2.2z" fill="#09f"/>
<path d="M283.8 107.8l2.1-2.9-2.3.2-2.1 2.9z" fill="#0fc"/>
<path d="M140.1 80.5l2.6 2.3-2-2-2.5-2.3z" fill="#7f0"/>
<path d="M215.2 127.2l2.2.1-2.1-.9-2.2 0z" fill="#01f"/>
<path d="M178.8 111.3l2.3 1.3-2-1.4-2.4-1.2z" fill="#0ef"/>
<path d="M249.6 127.5l2-1.3-2.2-.3-2 1.3z" fill="#01f"/>
<path d="M301 87.1l2.1-3.9-2.4.4-2.1 3.9z" fill="#4f0"/>
<path d="M264.6 122l2-1.9-2.2-.1-2.1 1.9z" fill="#06f"/>
<path d="M290.3 101.6l2.1-3.3-2.4.3-2 3.2z" fill="#0f6"/>
<path d="M133.6 74l2.6 2.5-2-2.1-2.5-2.5z" fill="#bf0"/>
<path d="M210.9 126.1l2.2.3-2.1-.9-2.2-.3zM253.9 126.5l2-1.4-2.2-.3-2.1 1.4z" fill="#02f"/>
<path d="M195.9 120.6l2.3.7-2.1-1.1-2.3-.7z" fill="#07f"/>
<path d="M185.2 115.2l2.3 1-2.1-1.2-2.3-1.1z" fill="#0bf"/>
<path d="M298.9 90.9l2.1-3.8-2.4.4-2.1 3.8z" fill="#2f0"/>
<path d="M161.5 99.3l2.4 1.7-2-1.6-2.4-1.8z" fill="#0f6"/>
<path d="M155.1 94l2.4 2-2-1.8-2.4-1.9z" fill="#0f1"/>
<path d="M313.9 65.1l2.2-4.8-2.5.6-2.1 4.8z" fill="#fa0"/>
<path d="M275.3 115.7l2.1-2.4-2.3.1-2.1 2.4z" fill="#0bf"/>
<path d="M168 104.1l2.3 1.6-2-1.5-2.4-1.6z" fill="#0f9"/>
<path d="M281.8 110.6l2-2.8-2.3.2-2 2.7z" fill="#0fe"/>
<path d="M148.6 88.4l2.5 2.1-2-1.8-2.5-2.1z" fill="#2f0"/>
<path d="M206.6 124.8l2.2.4-2.1-.9-2.2-.4z" fill="#03f"/>
<path d="M311.8 69.7l2.1-4.6-2.4.6-2.1 4.6z" fill="#fe0"/>
<path d="M258.2 125.2l2.1-1.5-2.3-.2-2.1 1.6z" fill="#04f"/>
<path d="M268.9 120.1l2.1-2.1-2.3 0-2.1 2.1z" fill="#08f"/>
<path d="M174.4 108.6l2.3 1.4-2-1.4-2.3-1.4z" fill="#0fd"/>
<path d="M142.1 82.5l2.5 2.2-1.9-1.9-2.6-2.3z" fill="#6f0"/>
<path d="M309.7 74.2l2.1-4.5-2.4.6-2.1 4.5z" fill="#cf0"/>
<path d="M234.6 129.6l2.1-.5-2.2-.5-2.1.5z" fill="#00f"/>
<path d="M288.3 104.7l2-3.1-2.3.2-2.1 3.1z" fill="#0f9"/>
<path d="M296.8 94.5l2.1-3.6-2.4.4-2 3.6z" fill="#0f0"/>
<path d="M230.3 129.6l2.1-.5-2.2-.5-2.1.4zM238.9 129.5l2.1-.7-2.2-.5-2.1.8z" fill="#00f"/>
<path d="M191.6 118.6l2.2.9-2-1.2-2.3-.9z" fill="#08f"/>
<path d="M226 129.2l2.1-.2-2.1-.6-2.2.2zM243.2 129.1l2.1-.9-2.2-.3-2.1.9z" fill="#00f"/>
<path d="M307.6 78.5l2.1-4.3-2.4.6-2.1 4.3z" fill="#af0"/>
<path d="M202.3 123.3l2.2.6-2-1-2.3-.5z" fill="#05f"/>
<path d="M221.7 128.7l2.1-.1-2.1-.7-2.2.1z" fill="#01f"/>
<path d="M180.8 112.6l2.3 1.3-2-1.3-2.3-1.3z" fill="#0df"/>
<path d="M262.5 123.8l2.1-1.8-2.3-.1-2 1.8z" fill="#05f"/>
<path d="M135.6 76.1l2.6 2.4-2-2-2.6-2.5z" fill="#af0"/>
<path d="M247.5 128.5l2.1-1-2.2-.3-2.1 1zM217.4 127.9l2.1.1-2.1-.7-2.2-.1z" fill="#01f"/>
<path d="M279.7 113.2l2.1-2.6-2.3.1-2.1 2.6z" fill="#0ef"/>
<path d="M294.8 97.9l2-3.4-2.3.4-2.1 3.4z" fill="#0f3"/>
<path d="M305.5 82.7l2.1-4.2-2.4.6-2.1 4.1z" fill="#7f0"/>
<path d="M273.3 118l2-2.3-2.3.1-2 2.2z" fill="#0af"/>
<path d="M251.8 127.7l2.1-1.2-2.3-.3-2 1.3z" fill="#02f"/>
<path d="M286.2 107.6l2.1-2.9-2.4.2-2.1 2.9z" fill="#0fb"/>
<path d="M157.1 95.7l2.4 1.9-2-1.6-2.4-2z" fill="#0f2"/>
<path d="M163.5 100.8l2.4 1.8-2-1.6-2.4-1.7z" fill="#0f6"/>
<path d="M187.2 116.3l2.3 1.1-2-1.2-2.3-1z" fill="#0af"/>
<path d="M198 121.6l2.2.8-2-1.1-2.3-.7z" fill="#06f"/>
<path d="M213 126.9l2.2.3-2.1-.8-2.2-.3z" fill="#02f"/>
<path d="M150.6 90.2l2.5 2.1-2-1.8-2.5-2.1z" fill="#1f0"/>
<path d="M170 105.6l2.4 1.6-2.1-1.5-2.3-1.6z" fill="#0fa"/>
<path d="M303.4 86.6l2.1-3.9-2.4.5-2.1 3.9z" fill="#5f0"/>
<path d="M266.9 122l2-1.9-2.3 0-2 1.9z" fill="#07f"/>
<path d="M144.1 84.3l2.5 2.3-2-1.9-2.5-2.2z" fill="#5f0"/>
<path d="M256.1 126.6l2.1-1.4-2.3-.1-2 1.4z" fill="#03f"/>
<path d="M292.7 101.2l2.1-3.3-2.4.4-2.1 3.3z" fill="#0f5"/>
<path d="M176.4 109.9l2.4 1.4-2.1-1.3-2.3-1.4z" fill="#0fe"/>
<path d="M208.7 125.7l2.2.4-2.1-.9-2.2-.4z" fill="#03f"/>
<path d="M301.3 90.4l2.1-3.8-2.4.5-2.1 3.8z" fill="#2f0"/>
<path d="M137.6 78.1l2.5 2.4-1.9-2-2.6-2.4z" fill="#9f0"/>
<path d="M277.7 115.6l2-2.4-2.3.1-2.1 2.4z" fill="#0cf"/>
<path d="M193.6 119.7l2.3.9-2.1-1.1-2.2-.9z" fill="#08f"/>
<path d="M284.1 110.4l2.1-2.8-2.4.2-2 2.8z" fill="#0fd"/>
<path d="M316.4 64.4l2.1-4.8-2.4.7-2.2 4.8z" fill="#f90"/>
<path d="M260.4 125.3l2.1-1.5-2.2-.1-2.1 1.5z" fill="#04f"/>
<path d="M232.4 130.1l2.2-.5-2.2-.5-2.1.5zM236.7 130.1l2.2-.6-2.2-.4-2.1.5z" fill="#00f"/>
<path d="M182.8 113.9l2.4 1.3-2.1-1.3-2.3-1.3z" fill="#0cf"/>
<path d="M271.2 120.1l2.1-2.1-2.3 0-2.1 2.1z" fill="#08f"/>
<path d="M228.1 129.8l2.2-.2-2.2-.6-2.1.2zM241.1 129.9l2.1-.8-2.2-.3-2.1.7z" fill="#00f"/>
<path d="M314.3 69.1l2.1-4.7-2.5.7-2.1 4.6z" fill="#fd0"/>
<path d="M204.4 124.2l2.2.6-2.1-.9-2.2-.6z" fill="#04f"/>
<path d="M223.8 129.3l2.2-.1-2.2-.6-2.1.1z" fill="#01f"/>
<path d="M290.6 104.3l2.1-3.1-2.4.4-2 3.1z" fill="#0f8"/>
<path d="M245.4 129.5l2.1-1-2.2-.3-2.1.9z" fill="#01f"/>
<path d="M299.2 94.1l2.1-3.7-2.4.5-2.1 3.6z" fill="#0f0"/>
<path d="M131 71.4l2.6 2.6-1.9-2.1-2.6-2.6zM312.2 73.6l2.1-4.5-2.5.6-2.1 4.5z" fill="#df0"/>
<path d="M159.1 97.3l2.4 2-2-1.7-2.4-1.9z" fill="#0f3"/>
<path d="M152.6 91.9l2.5 2.1-2-1.7-2.5-2.1z" fill="#0f0"/>
<path d="M165.5 102.3l2.5 1.8-2.1-1.5-2.4-1.8z" fill="#0f7"/>
<path d="M219.5 128.6l2.2.1-2.2-.7-2.1-.1zM249.7 128.8l2.1-1.1-2.2-.2-2.1 1z" fill="#01f"/>
<path d="M264.8 123.8l2.1-1.8-2.3 0-2.1 1.8z" fill="#05f"/>
<path d="M310 77.9l2.2-4.3-2.5.6-2.1 4.3z" fill="#af0"/>
<path d="M146.1 86.2l2.5 2.2-2-1.8-2.5-2.3z" fill="#4f0"/>
<path d="M189.3 117.5l2.3 1.1-2.1-1.2-2.3-1.1z" fill="#0af"/>
<path d="M172 107l2.4 1.6-2-1.4-2.4-1.6z" fill="#0fb"/>
<path d="M200.1 122.6l2.2.7-2.1-.9-2.2-.8z" fill="#06f"/>
<path d="M215.2 127.7l2.2.2-2.2-.7-2.2-.3z" fill="#02f"/>
<path d="M282.1 113l2-2.6-2.3.2-2.1 2.6z" fill="#0ef"/>
<path d="M254 127.9l2.1-1.3-2.2-.1-2.1 1.2z" fill="#02f"/>
<path d="M275.6 117.9l2.1-2.3-2.4.1-2 2.3z" fill="#0af"/>
<path d="M297.2 97.5l2-3.4-2.4.4-2 3.4z" fill="#0f2"/>
<path d="M307.9 82.1l2.1-4.2-2.4.6-2.1 4.2zM139.6 80l2.5 2.5-2-2-2.5-2.4z" fill="#8f0"/>
<path d="M178.4 111.2l2.4 1.4-2-1.3-2.4-1.4z" fill="#0fe"/>
<path d="M288.6 107.3l2-3-2.3.4-2.1 2.9z" fill="#0fa"/>
<path d="M210.8 126.5l2.2.4-2.1-.8-2.2-.4z" fill="#03f"/>
<path d="M269.2 122l2-1.9-2.3 0-2 1.9z" fill="#07f"/>
<path d="M258.4 126.8l2-1.5-2.2-.1-2.1 1.4z" fill="#03f"/>
<path d="M305.8 86.1l2.1-4-2.4.6-2.1 3.9z" fill="#5f0"/>
<path d="M195.7 120.7l2.3.9-2.1-1-2.3-.9z" fill="#07f"/>
<path d="M133 73.4l2.6 2.7-2-2.1-2.6-2.6z" fill="#cf0"/>
<path d="M184.9 115.1l2.3 1.2-2-1.1-2.4-1.3z" fill="#0cf"/>
<path d="M295.1 100.8l2.1-3.3-2.4.4-2.1 3.3z" fill="#0f5"/>
<path d="M206.5 125.1l2.2.6-2.1-.9-2.2-.6z" fill="#04f"/>
<path d="M234.6 130.5l2.1-.4-2.1-.5-2.2.5zM238.9 130.5l2.2-.6-2.2-.4-2.2.6zM230.3 130.3l2.1-.2-2.1-.5-2.2.2z" fill="#00f"/>
<path d="M280 115.4l2.1-2.4-2.4.2-2 2.4z" fill="#0df"/>
<path d="M303.8 89.9l2-3.8-2.4.5-2.1 3.8z" fill="#3f0"/>
<path d="M262.7 125.4l2.1-1.6-2.3 0-2.1 1.5z" fill="#05f"/>
<path d="M243.3 130.2l2.1-.7-2.2-.4-2.1.8z" fill="#01f"/>
<path d="M286.5 110.1l2.1-2.8-2.4.3-2.1 2.8z" fill="#0fc"/>
<path d="M226 129.9l2.1-.1-2.1-.6-2.2.1z" fill="#01f"/>
<path d="M273.5 120l2.1-2.1-2.3.1-2.1 2.1z" fill="#09f"/>
<path d="M318.9 63.7l2.1-4.9-2.5.8-2.1 4.8z" fill="#f90"/>
<path d="M247.6 129.7l2.1-.9-2.2-.3-2.1 1z" fill="#01f"/>
<path d="M191.3 118.6l2.3 1.1-2-1.1-2.3-1.1z" fill="#09f"/>
<path d="M221.6 129.2l2.2.1-2.1-.6-2.2-.1z" fill="#01f"/>
<path d="M316.8 68.4l2.1-4.7-2.5.7-2.1 4.7z" fill="#fc0"/>
<path d="M202.2 123.5l2.2.7-2.1-.9-2.2-.7z" fill="#06f"/>
<path d="M293 103.9l2.1-3.1-2.4.4-2.1 3.1z" fill="#0f7"/>
<path d="M301.7 93.5l2.1-3.6-2.5.5-2.1 3.7z" fill="#1f0"/>
<path d="M251.9 129l2.1-1.1-2.2-.2-2.1 1.1z" fill="#02f"/>
<path d="M314.6 72.9l2.2-4.5-2.5.7-2.1 4.5z" fill="#ef0"/>
<path d="M217.3 128.3l2.2.3-2.1-.7-2.2-.2z" fill="#02f"/>
<path d="M267.1 123.8l2.1-1.8-2.3 0-2.1 1.8z" fill="#06f"/>
<path d="M312.5 77.3l2.1-4.4-2.4.7-2.2 4.3z" fill="#bf0"/>
<path d="M256.3 128l2.1-1.2-2.3-.2-2.1 1.3z" fill="#03f"/>
<path d="M284.4 112.7l2.1-2.6-2.4.3-2 2.6z" fill="#0fe"/>
<path d="M213 127.2l2.2.5-2.2-.8-2.2-.4z" fill="#03f"/>
<path d="M277.9 117.7l2.1-2.3-2.3.2-2.1 2.3z" fill="#0bf"/>
<path d="M197.8 121.6l2.3 1-2.1-1-2.3-.9z" fill="#07f"/>
<path d="M299.6 97l2.1-3.5-2.5.6-2 3.4z" fill="#0f1"/>
<path d="M187 116.2l2.3 1.3-2.1-1.2-2.3-1.2z" fill="#0bf"/>
<path d="M310.4 81.4l2.1-4.1-2.5.6-2.1 4.2z" fill="#9f0"/>
<path d="M290.9 106.9l2.1-3-2.4.4-2 3z" fill="#0f9"/>
<path d="M271.5 121.9l2-1.9-2.3.1-2 1.9z" fill="#08f"/>
<path d="M260.6 126.8l2.1-1.4-2.3-.1-2 1.5zM208.6 125.9l2.2.6-2.1-.8-2.2-.6z" fill="#04f"/>
<path d="M308.3 85.4l2.1-4-2.5.7-2.1 4z" fill="#6f0"/>
<path d="M236.8 130.9l2.1-.4-2.2-.4-2.1.4zM232.5 130.8l2.1-.3-2.2-.4-2.1.2z" fill="#00f"/>
<path d="M241.1 130.8l2.2-.6-2.2-.3-2.2.6z" fill="#01f"/>
<path d="M297.5 100.3l2.1-3.3-2.4.5-2.1 3.3z" fill="#0f4"/>
<path d="M228.1 130.4l2.2-.1-2.2-.5-2.1.1z" fill="#01f"/>
<path d="M193.4 119.6l2.3 1.1-2.1-1-2.3-1.1z" fill="#09f"/>
<path d="M245.5 130.5l2.1-.8-2.2-.2-2.1.7z" fill="#01f"/>
<path d="M265 125.4l2.1-1.6-2.3 0-2.1 1.6z" fill="#05f"/>
<path d="M282.4 115.1l2-2.4-2.3.3-2.1 2.4z" fill="#0df"/>
<path d="M223.8 129.8l2.2.1-2.2-.6-2.2-.1z" fill="#01f"/>
<path d="M204.3 124.3l2.2.8-2.1-.9-2.2-.7z" fill="#05f"/>
<path d="M306.2 89.3l2.1-3.9-2.5.7-2 3.8z" fill="#4f0"/>
<path d="M288.9 109.7l2-2.8-2.3.4-2.1 2.8z" fill="#0fb"/>
<path d="M249.8 129.9l2.1-.9-2.2-.2-2.1.9z" fill="#01f"/>
<path d="M275.9 119.8l2-2.1-2.3.2-2.1 2.1z" fill="#0af"/>
<path d="M219.5 129l2.1.2-2.1-.6-2.2-.3z" fill="#02f"/>
<path d="M321.4 62.8l2.1-4.9-2.5.9-2.1 4.9z" fill="#f80"/>
<path d="M254.2 129.1l2.1-1.1-2.3-.1-2.1 1.1z" fill="#02f"/>
<path d="M319.3 67.6l2.1-4.8-2.5.9-2.1 4.7z" fill="#fb0"/>
<path d="M295.4 103.5l2.1-3.2-2.4.5-2.1 3.1z" fill="#0f6"/>
<path d="M269.4 123.7l2.1-1.8-2.3.1-2.1 1.8z" fill="#07f"/>
<path d="M304.1 93l2.1-3.7-2.4.6-2.1 3.6z" fill="#2f0"/>
<path d="M215.1 127.9l2.2.4-2.1-.6-2.2-.5z" fill="#03f"/>
<path d="M199.9 122.6l2.3.9-2.1-.9-2.3-1z" fill="#07f"/>
<path d="M317.1 72.1l2.2-4.5-2.5.8-2.2 4.5z" fill="#fe0"/>
<path d="M258.6 128.1l2-1.3-2.2 0-2.1 1.2z" fill="#03f"/>
<path d="M315 76.5l2.1-4.4-2.5.8-2.1 4.4z" fill="#cf0"/>
<path d="M286.8 112.3l2.1-2.6-2.4.4-2.1 2.6z" fill="#0fd"/>
<path d="M280.3 117.4l2.1-2.3-2.4.3-2.1 2.3z" fill="#0cf"/>
<path d="M210.7 126.6l2.3.6-2.2-.7-2.2-.6z" fill="#04f"/>
<path d="M302 96.5l2.1-3.5-2.4.5-2.1 3.5z" fill="#0f0"/>
<path d="M293.3 106.5l2.1-3-2.4.4-2.1 3z" fill="#0f8"/>
<path d="M262.9 126.8l2.1-1.4-2.3 0-2.1 1.4z" fill="#04f"/>
<path d="M273.8 121.7l2.1-1.9-2.4.2-2 1.9z" fill="#08f"/>
<path d="M312.9 80.7l2.1-4.2-2.5.8-2.1 4.1z" fill="#9f0"/>
<path d="M239 131.2l2.1-.4-2.2-.3-2.1.4zM234.7 131.1l2.1-.2-2.2-.4-2.1.3zM243.4 131.1l2.1-.6-2.2-.3-2.2.6zM230.3 130.8l2.2 0-2.2-.5-2.2.1z" fill="#01f"/>
<path d="M206.4 125.1l2.2.8-2.1-.8-2.2-.8z" fill="#05f"/>
<path d="M247.7 130.7l2.1-.8-2.2-.2-2.1.8z" fill="#01f"/>
<path d="M310.8 84.7l2.1-4-2.5.7-2.1 4z" fill="#7f0"/>
<path d="M226 130.3l2.1.1-2.1-.5-2.2-.1z" fill="#01f"/>
<path d="M299.9 99.8l2.1-3.3-2.4.5-2.1 3.3z" fill="#0f3"/>
<path d="M267.3 125.3l2.1-1.6-2.3.1-2.1 1.6z" fill="#06f"/>
<path d="M252.1 130l2.1-.9-2.3-.1-2.1.9z" fill="#02f"/>
<path d="M284.7 114.8l2.1-2.5-2.4.4-2 2.4z" fill="#0ef"/>
<path d="M221.6 129.5l2.2.3-2.2-.6-2.1-.2z" fill="#02f"/>
<path d="M278.2 119.5l2.1-2.1-2.4.3-2 2.1z" fill="#0af"/>
<path d="M291.3 109.3l2-2.8-2.4.4-2 2.8z" fill="#0fa"/>
<path d="M308.7 88.6l2.1-3.9-2.5.7-2.1 3.9z" fill="#5f0"/>
<path d="M256.5 129.2l2.1-1.1-2.3-.1-2.1 1.1zM217.3 128.6l2.2.4-2.2-.7-2.2-.4z" fill="#03f"/>
<path d="M323.9 61.9l2.2-4.9-2.6.9-2.1 4.9z" fill="#f60"/>
<path d="M271.7 123.5l2.1-1.8-2.3.2-2.1 1.8z" fill="#07f"/>
<path d="M297.8 102.9l2.1-3.1-2.4.5-2.1 3.2z" fill="#0f5"/>
<path d="M321.8 66.7l2.1-4.8-2.5.9-2.1 4.8z" fill="#fa0"/>
<path d="M306.6 92.3l2.1-3.7-2.5.7-2.1 3.7z" fill="#3f0"/>
<path d="M260.8 128.1l2.1-1.3-2.3 0-2 1.3zM212.9 127.3l2.2.6-2.1-.7-2.3-.6z" fill="#04f"/>
<path d="M319.6 71.3l2.2-4.6-2.5.9-2.2 4.5z" fill="#fd0"/>
<path d="M282.7 117.1l2-2.3-2.3.3-2.1 2.3z" fill="#0df"/>
<path d="M289.2 111.9l2.1-2.6-2.4.4-2.1 2.6z" fill="#0fc"/>
<path d="M317.5 75.7l2.1-4.4-2.5.8-2.1 4.4z" fill="#df0"/>
<path d="M265.2 126.7l2.1-1.4-2.3.1-2.1 1.4z" fill="#05f"/>
<path d="M236.9 131.5l2.1-.3-2.2-.3-2.1.2zM241.2 131.5l2.2-.4-2.3-.3-2.1.4z" fill="#01f"/>
<path d="M208.5 125.9l2.2.7-2.1-.7-2.2-.8z" fill="#05f"/>
<path d="M276.1 121.5l2.1-2-2.3.3-2.1 1.9z" fill="#09f"/>
<path d="M304.5 95.8l2.1-3.5-2.5.7-2.1 3.5z" fill="#0f0"/>
<path d="M232.5 131.2l2.2-.1-2.2-.3-2.2 0z" fill="#01f"/>
<path d="M295.8 105.9l2-3-2.4.6-2.1 3z" fill="#0f7"/>
<path d="M245.6 131.3l2.1-.6-2.2-.2-2.1.6z" fill="#01f"/>
<path d="M315.4 79.9l2.1-4.2-2.5.8-2.1 4.2z" fill="#af0"/>
<path d="M228.2 130.8l2.1 0-2.2-.4-2.1-.1z" fill="#01f"/>
<path d="M250 130.8l2.1-.8-2.3-.1-2.1.8zM223.8 130.1l2.2.2-2.2-.5-2.2-.3z" fill="#02f"/>
<path d="M269.6 125.1l2.1-1.6-2.3.2-2.1 1.6z" fill="#06f"/>
<path d="M254.4 130.1l2.1-.9-2.3-.1-2.1.9z" fill="#02f"/>
<path d="M313.3 84l2.1-4.1-2.5.8-2.1 4z" fill="#8f0"/>
<path d="M302.4 99.2l2.1-3.4-2.5.7-2.1 3.3z" fill="#0f2"/>
<path d="M287.1 114.4l2.1-2.5-2.4.4-2.1 2.5z" fill="#0fe"/>
<path d="M219.4 129.1l2.2.4-2.1-.5-2.2-.4z" fill="#03f"/>
<path d="M280.6 119.2l2.1-2.1-2.4.3-2.1 2.1z" fill="#0bf"/>
<path d="M293.7 108.8l2.1-2.9-2.5.6-2 2.8z" fill="#0f9"/>
<path d="M258.7 129.2l2.1-1.1-2.2 0-2.1 1.1z" fill="#03f"/>
<path d="M311.2 87.9l2.1-3.9-2.5.7-2.1 3.9z" fill="#6f0"/>
<path d="M215 128l2.3.6-2.2-.7-2.2-.6z" fill="#04f"/>
<path d="M274.1 123.3l2-1.8-2.3.2-2.1 1.8z" fill="#08f"/>
<path d="M263.1 128l2.1-1.3-2.3.1-2.1 1.3z" fill="#04f"/>
<path d="M300.3 102.3l2.1-3.1-2.5.6-2.1 3.1z" fill="#0f4"/>
<path d="M309.1 91.6l2.1-3.7-2.5.7-2.1 3.7z" fill="#3f0"/>
<path d="M285 116.7l2.1-2.3-2.4.4-2 2.3z" fill="#0df"/>
<path d="M239.1 131.7l2.1-.2-2.2-.3-2.1.3z" fill="#01f"/>
<path d="M291.6 111.4l2.1-2.6-2.4.5-2.1 2.6z" fill="#0fb"/>
<path d="M243.5 131.7l2.1-.4-2.2-.2-2.2.4zM234.7 131.6l2.2-.1-2.2-.4-2.2.1z" fill="#01f"/>
<path d="M267.6 126.6l2-1.5-2.3.2-2.1 1.4z" fill="#06f"/>
<path d="M247.9 131.4l2.1-.6-2.3-.1-2.1.6zM230.3 131.1l2.2.1-2.2-.4-2.1 0z" fill="#02f"/>
<path d="M278.5 121.2l2.1-2-2.4.3-2.1 2z" fill="#0af"/>
<path d="M307 95.1l2.1-3.5-2.5.7-2.1 3.5z" fill="#1f0"/>
<path d="M298.2 105.4l2.1-3.1-2.5.6-2 3z" fill="#0f6"/>
<path d="M252.3 130.9l2.1-.8-2.3-.1-2.1.8zM226 130.5l2.2.3-2.2-.5-2.2-.2z" fill="#02f"/>
<path d="M256.6 130.1l2.1-.9-2.2 0-2.1.9zM221.6 129.6l2.2.5-2.2-.6-2.2-.4z" fill="#03f"/>
<path d="M272 124.9l2.1-1.6-2.4.2-2.1 1.6z" fill="#07f"/>
<path d="M304.9 98.5l2.1-3.4-2.5.7-2.1 3.4z" fill="#0f1"/>
<path d="M289.5 113.9l2.1-2.5-2.4.5-2.1 2.5z" fill="#0fd"/>
<path d="M261.1 129.1l2-1.1-2.3.1-2.1 1.1z" fill="#04f"/>
<path d="M283 118.8l2-2.1-2.3.4-2.1 2.1z" fill="#0cf"/>
<path d="M296.1 108.2l2.1-2.8-2.4.5-2.1 2.9z" fill="#0f8"/>
<path d="M276.4 123l2.1-1.8-2.4.3-2 1.8z" fill="#09f"/>
<path d="M265.5 127.9l2.1-1.3-2.4.1-2.1 1.3z" fill="#05f"/>
<path d="M302.8 101.7l2.1-3.2-2.5.7-2.1 3.1z" fill="#0f3"/>
<path d="M241.3 131.9l2.2-.2-2.3-.2-2.1.2zM236.9 131.8l2.2-.1-2.2-.2-2.2.1zM245.7 131.8l2.2-.4-2.3-.1-2.1.4zM232.6 131.5l2.1.1-2.2-.4-2.2-.1z" fill="#02f"/>
<path d="M287.5 116.2l2-2.3-2.4.5-2.1 2.3z" fill="#0ef"/>
<path d="M250.1 131.5l2.2-.6-2.3-.1-2.1.6z" fill="#02f"/>
<path d="M269.9 126.4l2.1-1.5-2.4.2-2 1.5z" fill="#06f"/>
<path d="M294 110.9l2.1-2.7-2.4.6-2.1 2.6z" fill="#0fa"/>
<path d="M228.2 130.9l2.1.2-2.1-.3-2.2-.3z" fill="#02f"/>
<path d="M280.9 120.8l2.1-2-2.4.4-2.1 2z" fill="#0bf"/>
<path d="M254.5 130.9l2.1-.8-2.2 0-2.1.8zM223.8 130.1l2.2.4-2.2-.4-2.2-.5z" fill="#03f"/>
<path d="M300.7 104.7l2.1-3-2.5.6-2.1 3.1z" fill="#0f5"/>
<path d="M258.9 130.1l2.2-1-2.4.1-2.1.9z" fill="#04f"/>
<path d="M274.3 124.6l2.1-1.6-2.3.3-2.1 1.6z" fill="#08f"/>
<path d="M263.4 129l2.1-1.1-2.4.1-2 1.1z" fill="#05f"/>
<path d="M292 113.4l2-2.5-2.4.5-2.1 2.5z" fill="#0fc"/>
<path d="M285.4 118.4l2.1-2.2-2.5.5-2 2.1z" fill="#0df"/>
<path d="M298.6 107.6l2.1-2.9-2.5.7-2.1 2.8z" fill="#0f7"/>
<path d="M278.8 122.6l2.1-1.8-2.4.4-2.1 1.8z" fill="#0af"/>
<path d="M267.8 127.7l2.1-1.3-2.3.2-2.1 1.3z" fill="#06f"/>
<path d="M243.6 132.1l2.1-.3-2.2-.1-2.2.2zM239.2 132l2.1-.1-2.2-.2-2.2.1zM248 131.9l2.1-.4-2.2-.1-2.2.4zM234.8 131.7l2.1.1-2.2-.2-2.1-.1z" fill="#02f"/>
<path d="M230.4 131.2l2.2.3-2.3-.4-2.1-.2zM252.4 131.5l2.1-.6-2.2 0-2.2.6z" fill="#03f"/>
<path d="M272.3 126.1l2-1.5-2.3.3-2.1 1.5z" fill="#07f"/>
<path d="M289.9 115.7l2.1-2.3-2.5.5-2 2.3z" fill="#0fe"/>
<path d="M256.8 130.8l2.1-.7-2.3 0-2.1.8z" fill="#03f"/>
<path d="M296.5 110.2l2.1-2.6-2.5.6-2.1 2.7z" fill="#0f9"/>
<path d="M283.3 120.4l2.1-2-2.4.4-2.1 2z" fill="#0cf"/>
<path d="M261.3 129.9l2.1-.9-2.3.1-2.2 1z" fill="#04f"/>
<path d="M276.7 124.3l2.1-1.7-2.4.4-2.1 1.6z" fill="#09f"/>
<path d="M265.7 128.8l2.1-1.1-2.3.2-2.1 1.1z" fill="#05f"/>
<path d="M294.4 112.8l2.1-2.6-2.5.7-2 2.5z" fill="#0fb"/>
<path d="M287.8 117.9l2.1-2.2-2.4.5-2.1 2.2z" fill="#0ef"/>
<path d="M270.2 127.4l2.1-1.3-2.4.3-2.1 1.3z" fill="#06f"/>
<path d="M281.2 122.2l2.1-1.8-2.4.4-2.1 1.8z" fill="#0bf"/>
<path d="M241.4 132.2l2.2-.1-2.3-.2-2.1.1zM245.9 132.2l2.1-.3-2.3-.1-2.1.3zM237 131.9l2.2.1-2.3-.2-2.1-.1zM250.3 131.9l2.1-.4-2.3 0-2.1.4zM232.6 131.5l2.2.2-2.2-.2-2.2-.3zM254.7 131.4l2.1-.6-2.3.1-2.1.6z" fill="#03f"/>
<path d="M274.6 125.7l2.1-1.4-2.4.3-2 1.5z" fill="#08f"/>
<path d="M259.2 130.7l2.1-.8-2.4.2-2.1.7z" fill="#04f"/>
<path d="M292.3 115.1l2.1-2.3-2.4.6-2.1 2.3z" fill="#0fd"/>
<path d="M285.7 119.9l2.1-2-2.4.5-2.1 2z" fill="#0df"/>
<path d="M263.6 129.7l2.1-.9-2.3.2-2.1.9z" fill="#05f"/>
<path d="M279.1 123.9l2.1-1.7-2.4.4-2.1 1.7z" fill="#0af"/>
<path d="M268.1 128.5l2.1-1.1-2.4.3-2.1 1.1z" fill="#06f"/>
<path d="M290.2 117.3l2.1-2.2-2.4.6-2.1 2.2z" fill="#0fe"/>
<path d="M243.7 132.3l2.2-.1-2.3-.1-2.2.1zM239.3 132.1l2.1.1-2.2-.2-2.2-.1zM248.1 132.2l2.2-.3-2.3 0-2.1.3z" fill="#03f"/>
<path d="M272.5 127.1l2.1-1.4-2.3.4-2.1 1.3z" fill="#07f"/>
<path d="M283.6 121.7l2.1-1.8-2.4.5-2.1 1.8z" fill="#0cf"/>
<path d="M252.6 131.9l2.1-.5-2.3.1-2.1.4z" fill="#03f"/>
<path d="M257 131.3l2.2-.6-2.4.1-2.1.6z" fill="#04f"/>
<path d="M261.5 130.5l2.1-.8-2.3.2-2.1.8z" fill="#05f"/>
<path d="M277 125.3l2.1-1.4-2.4.4-2.1 1.4z" fill="#09f"/>
<path d="M288.2 119.3l2-2-2.4.6-2.1 2z" fill="#0ef"/>
<path d="M266 129.5l2.1-1-2.4.3-2.1.9z" fill="#06f"/>
<path d="M281.5 123.4l2.1-1.7-2.4.5-2.1 1.7z" fill="#0bf"/>
<path d="M270.4 128.2l2.1-1.1-2.3.3-2.1 1.1z" fill="#07f"/>
<path d="M246 132.3l2.1-.1-2.2 0-2.2.1zM250.4 132.1l2.2-.2-2.3 0-2.2.3zM254.9 131.7l2.1-.4-2.3.1-2.1.5z" fill="#04f"/>
<path d="M274.9 126.6l2.1-1.3-2.4.4-2.1 1.4z" fill="#08f"/>
<path d="M286.1 121.1l2.1-1.8-2.5.6-2.1 1.8z" fill="#0df"/>
<path d="M259.4 131.1l2.1-.6-2.3.2-2.2.6z" fill="#05f"/>
<path d="M263.8 130.3l2.2-.8-2.4.2-2.1.8z" fill="#06f"/>
<path d="M279.4 124.9l2.1-1.5-2.4.5-2.1 1.4z" fill="#0af"/>
<path d="M268.3 129.2l2.1-1-2.3.3-2.1 1z" fill="#07f"/>
<path d="M284 122.8l2.1-1.7-2.5.6-2.1 1.7z" fill="#0cf"/>
<path d="M272.8 127.8l2.1-1.2-2.4.5-2.1 1.1z" fill="#08f"/>
<path d="M248.3 132.2l2.1-.1-2.3.1-2.1.1zM252.8 132l2.1-.3-2.3.2-2.2.2z" fill="#04f"/>
<path d="M257.2 131.6l2.2-.5-2.4.2-2.1.4z" fill="#05f"/>
<path d="M277.3 126.2l2.1-1.3-2.4.4-2.1 1.3z" fill="#09f"/>
<path d="M261.7 130.9l2.1-.6-2.3.2-2.1.6z" fill="#05f"/>
<path d="M266.2 129.9l2.1-.7-2.3.3-2.2.8z" fill="#06f"/>
<path d="M281.9 124.3l2.1-1.5-2.5.6-2.1 1.5z" fill="#0bf"/>
<path d="M270.7 128.8l2.1-1-2.4.4-2.1 1z" fill="#07f"/>
<path d="M275.2 127.3l2.1-1.1-2.4.4-2.1 1.2z" fill="#09f"/>
<path d="M255.1 131.8l2.1-.2-2.3.1-2.1.3z" fill="#05f"/>
<path d="M259.6 131.3l2.1-.4-2.3.2-2.2.5z" fill="#06f"/>
<path d="M279.8 125.6l2.1-1.3-2.5.6-2.1 1.3z" fill="#0af"/>
<path d="M264.1 130.6l2.1-.7-2.4.4-2.1.6z" fill="#06f"/>
<path d="M268.6 129.6l2.1-.8-2.4.4-2.1.7z" fill="#07f"/>
<path d="M273.1 128.3l2.1-1-2.4.5-2.1 1z" fill="#08f"/>
<path d="M277.7 126.8l2.1-1.2-2.5.6-2.1 1.1z" fill="#0af"/>
<path d="M257.5 131.6l2.1-.3-2.4.3-2.1.2zM262 131l2.1-.4-2.4.3-2.1.4z" fill="#06f"/>
<path d="M266.5 130.2l2.1-.6-2.4.3-2.1.7z" fill="#07f"/>
<path d="M271 129.1l2.1-.8-2.4.5-2.1.8z" fill="#08f"/>
<path d="M275.6 127.8l2.1-1-2.5.5-2.1 1z" fill="#09f"/>
<path d="M264.4 130.6l2.1-.4-2.4.4-2.1.4z" fill="#07f"/>
<path d="M268.9 129.7l2.1-.6-2.4.5-2.1.6z" fill="#08f"/>
<path d="M273.5 128.6l2.1-.8-2.5.5-2.1.8z" fill="#09f"/>
<path d="M266.8 130.2l2.1-.5-2.4.5-2.1.4z" fill="#08f"/>
<path d="M271.3 129.2l2.2-.6-2.5.5-2.1.6z" fill="#09f"/>
</g>
<g stroke="#000" stroke-opacity="0.5" stroke-width="0.2" stroke-linejoin="round">
<path d="M161.1 98.9l2.4 1.9-2-1.5-2.4-2z" fill="#0f2"/>
<path d="M154.6 93.6l2.5 2.1-2-1.7-2.5-2.1z" fill="#2f0"/>
<path d="M167.6 103.8l2.4 1.8-2-1.5-2.5-1.8z" fill="#0f6"/>
<path d="M148.1 87.9l2.5 2.3-2-1.8-2.5-2.2z" fill="#5f0"/>
<path d="M174 108.3l2.4 1.6-2-1.3-2.4-1.6z" fill="#0f9"/>
<path d="M141.6 81.9l2.5 2.4-2-1.8-2.5-2.5z" fill="#9f0"/>
<path d="M180.5 112.5l2.3 1.4-2-1.3-2.4-1.4z" fill="#0fc"/>
<path d="M135 75.4l2.6 2.7-2-2-2.6-2.7z" fill="#df0"/>
<path d="M156.6 95.2l2.5 2.1-2-1.6-2.5-2.1z" fill="#1f0"/>
<path d="M163.1 100.4l2.4 1.9-2-1.5-2.4-1.9z" fill="#0f3"/>
<path d="M150.1 89.6l2.5 2.3-2-1.7-2.5-2.3z" fill="#4f0"/>
<path d="M128.4 68.6l2.6 2.8-1.9-2.1-2.7-2.8z" fill="#fb0"/>
<path d="M169.6 105.2l2.4 1.8-2-1.4-2.4-1.8z" fill="#0f6"/>
<path d="M143.5 83.7l2.6 2.5-2-1.9-2.5-2.4z" fill="#8f0"/>
<path d="M176.1 109.6l2.3 1.6-2-1.3-2.4-1.6z" fill="#0fa"/>
<path d="M137 77.3l2.6 2.7-2-1.9-2.6-2.7z" fill="#cf0"/>
<path d="M182.6 113.6l2.3 1.5-2.1-1.2-2.3-1.4z" fill="#0fd"/>
<path d="M130.4 70.6l2.6 2.8-2-2-2.6-2.8z" fill="#fd0"/>
<path d="M158.6 96.8l2.5 2.1-2-1.6-2.5-2.1z" fill="#0f0"/>
<path d="M165.1 101.8l2.5 2-2.1-1.5-2.4-1.9z" fill="#0f3"/>
<path d="M152.1 91.3l2.5 2.3-2-1.7-2.5-2.3z" fill="#4f0"/>
<path d="M189 117.3l2.3 1.3-2-1.1-2.3-1.3z" fill="#0df"/>
<path d="M171.6 106.5l2.4 1.8-2-1.3-2.4-1.8z" fill="#0f7"/>
<path d="M145.5 85.4l2.6 2.5-2-1.7-2.6-2.5z" fill="#7f0"/>
<path d="M178.1 110.8l2.4 1.7-2.1-1.3-2.3-1.6z" fill="#0fa"/>
<path d="M139 79.2l2.6 2.7-2-1.9-2.6-2.7z" fill="#bf0"/>
<path d="M195.5 120.5l2.3 1.1-2.1-.9-2.3-1.1z" fill="#0bf"/>
<path d="M184.6 114.8l2.4 1.4-2.1-1.1-2.3-1.5z" fill="#0fd"/>
<path d="M132.4 72.6l2.6 2.8-2-2-2.6-2.8z" fill="#fe0"/>
<path d="M160.6 98.3l2.5 2.1-2-1.5-2.5-2.1z" fill="#0f0"/>
<path d="M154.1 92.9l2.5 2.3-2-1.6-2.5-2.3z" fill="#3f0"/>
<path d="M167.2 103.2l2.4 2-2-1.4-2.5-2z" fill="#0f4"/>
<path d="M147.6 87.2l2.5 2.4-2-1.7-2.6-2.5z" fill="#6f0"/>
<path d="M173.7 107.8l2.4 1.8-2.1-1.3-2.4-1.8z" fill="#0f8"/>
<path d="M191.1 118.3l2.3 1.3-2.1-1-2.3-1.3z" fill="#0df"/>
<path d="M202 123.4l2.3.9-2.1-.8-2.3-.9z" fill="#09f"/>
<path d="M141 81l2.5 2.7-1.9-1.8-2.6-2.7z" fill="#af0"/>
<path d="M180.2 112l2.4 1.6-2.1-1.1-2.4-1.7z" fill="#0fb"/>
<path d="M134.4 74.5l2.6 2.8-2-1.9-2.6-2.8z" fill="#ef0"/>
<path d="M197.6 121.5l2.3 1.1-2.1-1-2.3-1.1z" fill="#0bf"/>
<path d="M186.7 115.8l2.3 1.5-2-1.1-2.4-1.4z" fill="#0fe"/>
<path d="M156.1 94.5l2.5 2.3-2-1.6-2.5-2.3z" fill="#2f0"/>
<path d="M162.7 99.7l2.4 2.1-2-1.4-2.5-2.1z" fill="#0f1"/>
<path d="M149.6 88.8l2.5 2.5-2-1.7-2.5-2.4z" fill="#6f0"/>
<path d="M169.2 104.6l2.4 1.9-2-1.3-2.4-2z" fill="#0f5"/>
<path d="M143 82.8l2.5 2.6-2-1.7-2.5-2.7z" fill="#9f0"/>
<path d="M175.7 109.1l2.4 1.7-2-1.2-2.4-1.8z" fill="#0f8"/>
<path d="M193.2 119.3l2.3 1.2-2.1-.9-2.3-1.3z" fill="#0df"/>
<path d="M204.1 124.2l2.3.9-2.1-.8-2.3-.9z" fill="#09f"/>
<path d="M136.4 76.4l2.6 2.8-2-1.9-2.6-2.8z" fill="#df0"/>
<path d="M182.3 113.1l2.3 1.7-2-1.2-2.4-1.6z" fill="#0fb"/>
<path d="M158.2 95.9l2.4 2.4-2-1.5-2.5-2.3z" fill="#1f0"/>
<path d="M164.7 101.1l2.5 2.1-2.1-1.4-2.4-2.1z" fill="#0f2"/>
<path d="M199.7 122.3l2.3 1.1-2.1-.8-2.3-1.1z" fill="#0bf"/>
<path d="M151.6 90.4l2.5 2.5-2-1.6-2.5-2.5z" fill="#5f0"/>
<path d="M188.8 116.9l2.3 1.4-2.1-1-2.3-1.5z" fill="#0fe"/>
<path d="M171.3 105.9l2.4 1.9-2.1-1.3-2.4-1.9z" fill="#0f5"/>
<path d="M145 84.5l2.6 2.7-2.1-1.8-2.5-2.6z" fill="#8f0"/>
<path d="M210.6 126.6l2.3.7-2.2-.7-2.2-.7z" fill="#08f"/>
<path d="M177.8 110.2l2.4 1.8-2.1-1.2-2.4-1.7z" fill="#0f9"/>
<path d="M138.4 78.2l2.6 2.8-2-1.8-2.6-2.8z" fill="#cf0"/>
<path d="M195.3 120.2l2.3 1.3-2.1-1-2.3-1.2z" fill="#0df"/>
<path d="M206.2 124.9l2.3 1-2.1-.8-2.3-.9z" fill="#09f"/>
<path d="M184.3 114.2l2.4 1.6-2.1-1-2.3-1.7z" fill="#0fc"/>
<path d="M160.2 97.4l2.5 2.3-2.1-1.4-2.4-2.4z" fill="#1f0"/>
<path d="M153.6 91.9l2.5 2.6-2-1.6-2.5-2.5z" fill="#4f0"/>
<path d="M166.8 102.4l2.4 2.2-2-1.4-2.5-2.1z" fill="#0f2"/>
<path d="M147 86.1l2.6 2.7-2-1.6-2.6-2.7z" fill="#8f0"/>
<path d="M190.9 117.8l2.3 1.5-2.1-1-2.3-1.4z" fill="#0ff"/>
<path d="M173.3 107.1l2.4 2-2-1.3-2.4-1.9z" fill="#0f6"/>
<path d="M217.2 128.5l2.2.6-2.1-.5-2.3-.6z" fill="#06f"/>
<path d="M201.8 123.1l2.3 1.1-2.1-.8-2.3-1.1z" fill="#0bf"/>
<path d="M140.4 79.9l2.6 2.9-2-1.8-2.6-2.8z" fill="#bf0"/>
<path d="M179.9 111.3l2.4 1.8-2.1-1.1-2.4-1.8z" fill="#0f9"/>
<path d="M212.8 127.2l2.2.8-2.1-.7-2.3-.7z" fill="#08f"/>
<path d="M197.4 121l2.3 1.3-2.1-.8-2.3-1.3z" fill="#0cf"/>
<path d="M186.4 115.2l2.4 1.7-2.1-1.1-2.4-1.6z" fill="#0fc"/>
<path d="M208.4 125.6l2.2 1-2.1-.7-2.3-1z" fill="#09f"/>
<path d="M162.2 98.8l2.5 2.3-2-1.4-2.5-2.3z" fill="#0f0"/>
<path d="M155.6 93.4l2.6 2.5-2.1-1.4-2.5-2.6z" fill="#4f0"/>
<path d="M168.8 103.7l2.5 2.2-2.1-1.3-2.4-2.2z" fill="#0f3"/>
<path d="M149 87.7l2.6 2.7-2-1.6-2.6-2.7z" fill="#7f0"/>
<path d="M175.4 108.2l2.4 2-2.1-1.1-2.4-2z" fill="#0f7"/>
<path d="M142.4 81.6l2.6 2.9-2-1.7-2.6-2.9z" fill="#bf0"/>
<path d="M193 118.7l2.3 1.5-2.1-.9-2.3-1.5z" fill="#0ef"/>
<path d="M204 123.8l2.2 1.1-2.1-.7-2.3-1.1z" fill="#0af"/>
<path d="M219.4 129l2.2.6-2.2-.5-2.2-.6z" fill="#07f"/>
<path d="M181.9 112.4l2.4 1.8-2-1.1-2.4-1.8z" fill="#0fa"/>
<path d="M215 127.7l2.2.8-2.2-.5-2.2-.8z" fill="#08f"/>
<path d="M199.5 121.8l2.3 1.3-2.1-.8-2.3-1.3z" fill="#0cf"/>
<path d="M157.7 94.9l2.5 2.5-2-1.5-2.6-2.5z" fill="#3f0"/>
<path d="M188.5 116.2l2.4 1.6-2.1-.9-2.4-1.7z" fill="#0fd"/>
<path d="M164.3 100.1l2.5 2.3-2.1-1.3-2.5-2.3z" fill="#0f0"/>
<path d="M151 89.3l2.6 2.6-2-1.5-2.6-2.7z" fill="#6f0"/>
<path d="M170.9 104.9l2.4 2.2-2-1.2-2.5-2.2z" fill="#0f4"/>
<path d="M210.5 126.2l2.3 1-2.2-.6-2.2-1z" fill="#09f"/>
<path d="M144.4 83.3l2.6 2.8-2-1.6-2.6-2.9z" fill="#af0"/>
<path d="M177.4 109.4l2.5 1.9-2.1-1.1-2.4-2z" fill="#0f7"/>
<path d="M226 130.5l2.2.4-2.2-.4-2.2-.4z" fill="#06f"/>
<path d="M195.1 119.5l2.3 1.5-2.1-.8-2.3-1.5z" fill="#0ef"/>
<path d="M206.1 124.5l2.3 1.1-2.2-.7-2.2-1.1z" fill="#0af"/>
<path d="M184 113.4l2.4 1.8-2.1-1-2.4-1.8z" fill="#0fa"/>
<path d="M221.6 129.5l2.2.6-2.2-.5-2.2-.6z" fill="#07f"/>
<path d="M159.7 96.2l2.5 2.6-2-1.4-2.5-2.5z" fill="#2f0"/>
<path d="M153.1 90.7l2.5 2.7-2-1.5-2.6-2.6z" fill="#6f0"/>
<path d="M166.3 101.3l2.5 2.4-2-1.3-2.5-2.3z" fill="#0f1"/>
<path d="M217.1 128.3l2.3.7-2.2-.5-2.2-.8z" fill="#08f"/>
<path d="M201.7 122.5l2.3 1.3-2.2-.7-2.3-1.3z" fill="#0cf"/>
<path d="M190.6 117.1l2.4 1.6-2.1-.9-2.4-1.6z" fill="#0fd"/>
<path d="M146.4 84.8l2.6 2.9-2-1.6-2.6-2.8z" fill="#9f0"/>
<path d="M172.9 106.1l2.5 2.1-2.1-1.1-2.4-2.2z" fill="#0f4"/>
<path d="M212.7 126.8l2.3.9-2.2-.5-2.3-1z" fill="#09f"/>
<path d="M179.5 110.4l2.4 2-2-1.1-2.5-1.9z" fill="#0f8"/>
<path d="M197.2 120.3l2.3 1.5-2.1-.8-2.3-1.5z" fill="#0ef"/>
<path d="M228.2 130.8l2.2.4-2.2-.3-2.2-.4z" fill="#06f"/>
<path d="M186.1 114.3l2.4 1.9-2.1-1-2.4-1.8z" fill="#0fa"/>
<path d="M208.3 125.1l2.2 1.1-2.1-.6-2.3-1.1z" fill="#0af"/>
<path d="M161.8 97.6l2.5 2.5-2.1-1.3-2.5-2.6z" fill="#2f0"/>
<path d="M155.1 92.2l2.6 2.7-2.1-1.5-2.5-2.7z" fill="#5f0"/>
<path d="M223.8 129.9l2.2.6-2.2-.4-2.2-.6z" fill="#07f"/>
<path d="M168.4 102.6l2.5 2.3-2.1-1.2-2.5-2.4z" fill="#0f1"/>
<path d="M148.4 86.4l2.6 2.9-2-1.6-2.6-2.9z" fill="#9f0"/>
<path d="M175 107.2l2.4 2.2-2-1.2-2.5-2.1z" fill="#0f5"/>
<path d="M192.7 117.9l2.4 1.6-2.1-.8-2.4-1.6z" fill="#0fd"/>
<path d="M219.3 128.7l2.3.8-2.2-.5-2.3-.7z" fill="#08f"/>
<path d="M203.8 123.2l2.3 1.3-2.1-.7-2.3-1.3z" fill="#0cf"/>
<path d="M181.6 111.4l2.4 2-2.1-1-2.4-2z" fill="#0f8"/>
<path d="M214.9 127.3l2.2 1-2.1-.6-2.3-.9z" fill="#09f"/>
<path d="M199.3 121.1l2.4 1.4-2.2-.7-2.3-1.5z" fill="#0ef"/>
<path d="M234.8 131.7l2.2.2-2.2-.2-2.2-.2z" fill="#06f"/>
<path d="M188.2 115.2l2.4 1.9-2.1-.9-2.4-1.9z" fill="#0fb"/>
<path d="M157.2 93.5l2.5 2.7-2-1.3-2.6-2.7z" fill="#4f0"/>
<path d="M163.8 98.8l2.5 2.5-2-1.2-2.5-2.5z" fill="#1f0"/>
<path d="M210.4 125.7l2.3 1.1-2.2-.6-2.2-1.1z" fill="#0af"/>
<path d="M150.5 87.8l2.6 2.9-2.1-1.4-2.6-2.9z" fill="#8f0"/>
<path d="M230.4 131l2.2.5-2.2-.3-2.2-.4z" fill="#06f"/>
<path d="M170.5 103.7l2.4 2.4-2-1.2-2.5-2.3z" fill="#0f2"/>
<path d="M226 130.2l2.2.6-2.2-.3-2.2-.6z" fill="#07f"/>
<path d="M177.1 108.2l2.4 2.2-2.1-1-2.4-2.2z" fill="#0f5"/>
<path d="M194.9 118.7l2.3 1.6-2.1-.8-2.4-1.6z" fill="#0fd"/>
<path d="M206 123.8l2.3 1.3-2.2-.6-2.3-1.3z" fill="#0cf"/>
<path d="M221.5 129.1l2.3.8-2.2-.4-2.3-.8z" fill="#08f"/>
<path d="M183.7 112.3l2.4 2-2.1-.9-2.4-2z" fill="#0f8"/>
<path d="M217.1 127.7l2.2 1-2.2-.4-2.2-1z" fill="#09f"/>
<path d="M159.2 94.8l2.6 2.8-2.1-1.4-2.5-2.7z" fill="#4f0"/>
<path d="M201.5 121.7l2.3 1.5-2.1-.7-2.4-1.4z" fill="#0ef"/>
<path d="M152.5 89.2l2.6 3-2-1.5-2.6-2.9z" fill="#7f0"/>
<path d="M165.9 100l2.5 2.6-2.1-1.3-2.5-2.5z" fill="#1f0"/>
<path d="M190.4 116.1l2.3 1.8-2.1-.8-2.4-1.9z" fill="#0fb"/>
<path d="M172.5 104.8l2.5 2.4-2.1-1.1-2.4-2.4z" fill="#0f2"/>
<path d="M241.5 132.2l2.2.1-2.3-.1-2.1-.1zM237.1 131.8l2.2.3-2.3-.2-2.2-.2z" fill="#06f"/>
<path d="M212.6 126.2l2.3 1.1-2.2-.5-2.3-1.1z" fill="#0bf"/>
<path d="M232.6 131.3l2.2.4-2.2-.2-2.2-.5z" fill="#07f"/>
<path d="M179.2 109.2l2.4 2.2-2.1-1-2.4-2.2z" fill="#0f6"/>
<path d="M228.2 130.4l2.2.6-2.2-.2-2.2-.6z" fill="#08f"/>
<path d="M197 119.4l2.3 1.7-2.1-.8-2.3-1.6z" fill="#0fd"/>
<path d="M208.1 124.4l2.3 1.3-2.1-.6-2.3-1.3z" fill="#0cf"/>
<path d="M185.8 113.2l2.4 2-2.1-.9-2.4-2z" fill="#0f8"/>
<path d="M223.7 129.4l2.3.8-2.2-.3-2.3-.8z" fill="#08f"/>
<path d="M161.3 96.1l2.5 2.7-2-1.2-2.6-2.8z" fill="#4f0"/>
<path d="M154.6 90.6l2.6 2.9-2.1-1.3-2.6-3z" fill="#7f0"/>
<path d="M168 101.2l2.5 2.5-2.1-1.1-2.5-2.6z" fill="#0f0"/>
<path d="M219.3 128.1l2.2 1-2.2-.4-2.2-1z" fill="#09f"/>
<path d="M203.6 122.3l2.4 1.5-2.2-.6-2.3-1.5z" fill="#0ef"/>
<path d="M192.5 116.8l2.4 1.9-2.2-.8-2.3-1.8z" fill="#0fb"/>
<path d="M174.6 105.8l2.5 2.4-2.1-1-2.5-2.4z" fill="#0f3"/>
<path d="M214.8 126.6l2.3 1.1-2.2-.4-2.3-1.1z" fill="#0bf"/>
<path d="M181.3 110.1l2.4 2.2-2.1-.9-2.4-2.2z" fill="#0f6"/>
<path d="M243.8 132.2l2.2.1-2.3 0-2.2-.1zM239.4 131.9l2.1.3-2.2-.1-2.2-.3zM234.9 131.4l2.2.4-2.3-.1-2.2-.4z" fill="#07f"/>
<path d="M199.1 120l2.4 1.7-2.2-.6-2.3-1.7z" fill="#0fd"/>
<path d="M230.4 130.6l2.2.7-2.2-.3-2.2-.6z" fill="#08f"/>
<path d="M188 114l2.4 2.1-2.2-.9-2.4-2z" fill="#0f9"/>
<path d="M210.3 124.8l2.3 1.4-2.2-.5-2.3-1.3z" fill="#0cf"/>
<path d="M156.6 91.9l2.6 2.9-2-1.3-2.6-2.9z" fill="#6f0"/>
<path d="M163.3 97.3l2.6 2.7-2.1-1.2-2.5-2.7z" fill="#3f0"/>
<path d="M226 129.6l2.2.8-2.2-.2-2.3-.8z" fill="#09f"/>
<path d="M170 102.2l2.5 2.6-2-1.1-2.5-2.5z" fill="#0f0"/>
<path d="M176.7 106.8l2.5 2.4-2.1-1-2.5-2.4z" fill="#0f3"/>
<path d="M194.6 117.5l2.4 1.9-2.1-.7-2.4-1.9z" fill="#0fb"/>
<path d="M221.5 128.4l2.2 1-2.2-.3-2.2-1z" fill="#0af"/>
<path d="M205.8 122.9l2.3 1.5-2.1-.6-2.4-1.5z" fill="#0ef"/>
<path d="M183.4 111l2.4 2.2-2.1-.9-2.4-2.2z" fill="#0f6"/>
<path d="M217 127l2.3 1.1-2.2-.4-2.3-1.1z" fill="#0bf"/>
<path d="M246.1 132.1l2.2.1-2.3.1-2.2-.1zM250.6 132.1l2.2-.1-2.4.1-2.1.1zM241.7 131.9l2.1.3-2.3 0-2.1-.3z" fill="#07f"/>
<path d="M201.3 120.6l2.3 1.7-2.1-.6-2.4-1.7z" fill="#0fd"/>
<path d="M158.7 93.1l2.6 3-2.1-1.3-2.6-2.9z" fill="#6f0"/>
<path d="M237.2 131.5l2.2.4-2.3-.1-2.2-.4z" fill="#08f"/>
<path d="M190.1 114.8l2.4 2-2.1-.7-2.4-2.1z" fill="#0f9"/>
<path d="M165.4 98.4l2.6 2.8-2.1-1.2-2.6-2.7z" fill="#3f0"/>
<path d="M212.5 125.3l2.3 1.3-2.2-.4-2.3-1.4z" fill="#0cf"/>
<path d="M232.7 130.8l2.2.6-2.3-.1-2.2-.7z" fill="#08f"/>
<path d="M172.1 103.3l2.5 2.5-2.1-1-2.5-2.6z" fill="#0f0"/>
<path d="M228.2 129.8l2.2.8-2.2-.2-2.2-.8z" fill="#09f"/>
<path d="M178.8 107.7l2.5 2.4-2.1-.9-2.5-2.4z" fill="#0f3"/>
<path d="M196.8 118.2l2.3 1.8-2.1-.6-2.4-1.9z" fill="#0fb"/>
<path d="M208 123.3l2.3 1.5-2.2-.4-2.3-1.5z" fill="#0ef"/>
<path d="M223.7 128.7l2.3.9-2.3-.2-2.2-1z" fill="#0af"/>
<path d="M185.5 111.8l2.5 2.2-2.2-.8-2.4-2.2z" fill="#0f6"/>
<path d="M219.2 127.3l2.3 1.1-2.2-.3-2.3-1.1z" fill="#0bf"/>
<path d="M160.8 94.3l2.5 3-2-1.2-2.6-3z" fill="#5f0"/>
<path d="M167.5 99.5l2.5 2.7-2-1-2.6-2.8z" fill="#2f0"/>
<path d="M203.5 121.2l2.3 1.7-2.2-.6-2.3-1.7z" fill="#0fd"/>
<path d="M192.2 115.5l2.4 2-2.1-.7-2.4-2z" fill="#0f9"/>
<path d="M248.5 132l2.1.1-2.3.1-2.2-.1z" fill="#08f"/>
<path d="M174.2 104.2l2.5 2.6-2.1-1-2.5-2.5z" fill="#0f0"/>
<path d="M244 131.9l2.1.2-2.3.1-2.1-.3zM253 131.9l2.1-.1-2.3.2-2.2.1zM239.5 131.5l2.2.4-2.3 0-2.2-.4z" fill="#08f"/>
<path d="M214.7 125.6l2.3 1.4-2.2-.4-2.3-1.3z" fill="#0df"/>
<path d="M235 130.8l2.2.7-2.3-.1-2.2-.6z" fill="#09f"/>
<path d="M180.9 108.6l2.5 2.4-2.1-.9-2.5-2.4z" fill="#0f3"/>
<path d="M230.5 130l2.2.8-2.3-.2-2.2-.8z" fill="#0af"/>
<path d="M198.9 118.8l2.4 1.8-2.2-.6-2.3-1.8z" fill="#0fb"/>
<path d="M210.2 123.8l2.3 1.5-2.2-.5-2.3-1.5z" fill="#0ef"/>
<path d="M187.7 112.6l2.4 2.2-2.1-.8-2.5-2.2z" fill="#0f6"/>
<path d="M226 128.9l2.2.9-2.2-.2-2.3-.9z" fill="#0af"/>
<path d="M162.8 95.4l2.6 3-2.1-1.1-2.5-3z" fill="#5f0"/>
<path d="M169.6 100.5l2.5 2.8-2.1-1.1-2.5-2.7z" fill="#2f0"/>
<path d="M221.5 127.5l2.2 1.2-2.2-.3-2.3-1.1z" fill="#0cf"/>
<path d="M194.4 116.1l2.4 2.1-2.2-.7-2.4-2z" fill="#0f9"/>
<path d="M205.7 121.6l2.3 1.7-2.2-.4-2.3-1.7z" fill="#0fd"/>
<path d="M176.3 105.1l2.5 2.6-2.1-.9-2.5-2.6z" fill="#0f1"/>
<path d="M250.8 131.8l2.2.1-2.4.2-2.1-.1zM246.3 131.7l2.2.3-2.4.1-2.1-.2z" fill="#09f"/>
<path d="M183.1 109.4l2.4 2.4-2.1-.8-2.5-2.4z" fill="#0f4"/>
<path d="M216.9 125.9l2.3 1.4-2.2-.3-2.3-1.4z" fill="#0df"/>
<path d="M255.3 131.7l2.2-.1-2.4.2-2.1.1zM241.8 131.4l2.2.5-2.3 0-2.2-.4zM259.8 131.3l2.2-.3-2.4.3-2.1.3zM237.3 130.8l2.2.7-2.3 0-2.2-.7z" fill="#09f"/>
<path d="M201.1 119.3l2.4 1.9-2.2-.6-2.4-1.8z" fill="#0fb"/>
<path d="M232.7 130l2.3.8-2.3 0-2.2-.8z" fill="#0af"/>
<path d="M189.8 113.3l2.4 2.2-2.1-.7-2.4-2.2z" fill="#0f6"/>
<path d="M212.4 124.1l2.3 1.5-2.2-.3-2.3-1.5z" fill="#0ef"/>
<path d="M164.9 96.5l2.6 3-2.1-1.1-2.6-3z" fill="#5f0"/>
<path d="M171.7 101.4l2.5 2.8-2.1-.9-2.5-2.8z" fill="#2f0"/>
<path d="M228.2 129l2.3 1-2.3-.2-2.2-.9z" fill="#0bf"/>
<path d="M178.5 106l2.4 2.6-2.1-.9-2.5-2.6z" fill="#0f1"/>
<path d="M196.6 116.7l2.3 2.1-2.1-.6-2.4-2.1z" fill="#0f9"/>
<path d="M223.7 127.7l2.3 1.2-2.3-.2-2.2-1.2z" fill="#0cf"/>
<path d="M207.9 122.1l2.3 1.7-2.2-.5-2.3-1.7z" fill="#0fd"/>
<path d="M185.2 110.1l2.5 2.5-2.2-.8-2.4-2.4z" fill="#0f4"/>
<path d="M219.2 126.2l2.3 1.3-2.3-.2-2.3-1.4z" fill="#0df"/>
<path d="M248.6 131.6l2.2.2-2.3.2-2.2-.3zM253.1 131.6l2.2.1-2.3.2-2.2-.1z" fill="#09f"/>
<path d="M244.1 131.3l2.2.4-2.3.2-2.2-.5zM257.7 131.4l2.1-.1-2.3.3-2.2.1z" fill="#0af"/>
<path d="M203.3 119.8l2.4 1.8-2.2-.4-2.4-1.9z" fill="#0fb"/>
<path d="M167 97.5l2.6 3-2.1-1-2.6-3z" fill="#4f0"/>
<path d="M239.6 130.8l2.2.6-2.3.1-2.2-.7z" fill="#0af"/>
<path d="M192 113.9l2.4 2.2-2.2-.6-2.4-2.2z" fill="#0f7"/>
<path d="M262.2 130.9l2.2-.3-2.4.4-2.2.3z" fill="#0af"/>
<path d="M173.8 102.3l2.5 2.8-2.1-.9-2.5-2.8z" fill="#1f0"/>
<path d="M214.6 124.4l2.3 1.5-2.2-.3-2.3-1.5z" fill="#0fe"/>
<path d="M235 130l2.3.8-2.3 0-2.3-.8zM230.5 129.1l2.2.9-2.2 0-2.3-1z" fill="#0bf"/>
<path d="M180.6 106.8l2.5 2.6-2.2-.8-2.4-2.6z" fill="#0f1"/>
<path d="M198.7 117.2l2.4 2.1-2.2-.5-2.3-2.1z" fill="#0f9"/>
<path d="M210.1 122.4l2.3 1.7-2.2-.3-2.3-1.7z" fill="#0fd"/>
<path d="M226 127.8l2.2 1.2-2.2-.1-2.3-1.2z" fill="#0cf"/>
<path d="M187.4 110.8l2.4 2.5-2.1-.7-2.5-2.5z" fill="#0f4"/>
<path d="M221.4 126.4l2.3 1.3-2.2-.2-2.3-1.3z" fill="#0ef"/>
<path d="M169.1 98.5l2.6 2.9-2.1-.9-2.6-3z" fill="#4f0"/>
<path d="M205.5 120.2l2.4 1.9-2.2-.5-2.4-1.8z" fill="#0fb"/>
<path d="M194.1 114.5l2.5 2.2-2.2-.6-2.4-2.2z" fill="#0f6"/>
<path d="M251 131.3l2.1.3-2.3.2-2.2-.2z" fill="#0af"/>
<path d="M175.9 103.2l2.6 2.8-2.2-.9-2.5-2.8z" fill="#1f0"/>
<path d="M255.5 131.3l2.2.1-2.4.3-2.2-.1zM246.4 131.1l2.2.5-2.3.1-2.2-.4z" fill="#0af"/>
<path d="M260.1 131l2.1-.1-2.4.4-2.1.1zM241.9 130.7l2.2.6-2.3.1-2.2-.6z" fill="#0bf"/>
<path d="M216.9 124.6l2.3 1.6-2.3-.3-2.3-1.5z" fill="#0fe"/>
<path d="M264.6 130.4l2.2-.2-2.4.4-2.2.3zM237.3 130l2.3.8-2.3 0-2.3-.8z" fill="#0bf"/>
<path d="M182.7 107.5l2.5 2.6-2.1-.7-2.5-2.6z" fill="#0f1"/>
<path d="M269.2 129.6l2.1-.4-2.4.5-2.1.5zM232.8 129l2.2 1-2.3 0-2.2-.9z" fill="#0cf"/>
<path d="M200.9 117.7l2.4 2.1-2.2-.5-2.4-2.1z" fill="#0f9"/>
<path d="M212.3 122.7l2.3 1.7-2.2-.3-2.3-1.7z" fill="#0fc"/>
<path d="M189.5 111.4l2.5 2.5-2.2-.6-2.4-2.5z" fill="#0f4"/>
<path d="M228.2 127.9l2.3 1.2-2.3-.1-2.2-1.2z" fill="#0df"/>
<path d="M171.3 99.3l2.5 3-2.1-.9-2.6-2.9z" fill="#4f0"/>
<path d="M223.7 126.5l2.3 1.3-2.3-.1-2.3-1.3z" fill="#0ef"/>
<path d="M178.1 104l2.5 2.8-2.1-.8-2.6-2.8z" fill="#1f0"/>
<path d="M196.3 115l2.4 2.2-2.1-.5-2.5-2.2z" fill="#0f6"/>
<path d="M207.7 120.5l2.4 1.9-2.2-.3-2.4-1.9z" fill="#0fb"/>
<path d="M253.3 131l2.2.3-2.4.3-2.1-.3zM248.8 130.9l2.2.4-2.4.3-2.2-.5zM257.9 130.9l2.2.1-2.4.4-2.2-.1z" fill="#0bf"/>
<path d="M184.9 108.2l2.5 2.6-2.2-.7-2.5-2.6z" fill="#0f1"/>
<path d="M219.1 124.8l2.3 1.6-2.2-.2-2.3-1.6z" fill="#0fe"/>
<path d="M244.2 130.5l2.2.6-2.3.2-2.2-.6z" fill="#0bf"/>
<path d="M262.5 130.5l2.1-.1-2.4.5-2.1.1zM239.7 129.8l2.2.9-2.3.1-2.3-.8zM267.1 129.9l2.1-.3-2.4.6-2.2.2z" fill="#0cf"/>
<path d="M203.1 118.1l2.4 2.1-2.2-.4-2.4-2.1z" fill="#0f9"/>
<path d="M235.1 129l2.2 1-2.3 0-2.2-1z" fill="#0df"/>
<path d="M191.7 112l2.4 2.5-2.1-.6-2.5-2.5z" fill="#0f4"/>
<path d="M214.5 122.9l2.4 1.7-2.3-.2-2.3-1.7z" fill="#0fc"/>
<path d="M173.4 100.2l2.5 3-2.1-.9-2.5-3z" fill="#4f0"/>
<path d="M230.5 127.9l2.3 1.1-2.3.1-2.3-1.2z" fill="#0df"/>
<path d="M180.2 104.7l2.5 2.8-2.1-.7-2.5-2.8z" fill="#1f0"/>
<path d="M198.5 115.4l2.4 2.3-2.2-.5-2.4-2.2z" fill="#0f6"/>
<path d="M226 126.5l2.2 1.4-2.2-.1-2.3-1.3z" fill="#0ff"/>
<path d="M210 120.8l2.3 1.9-2.2-.3-2.4-1.9z" fill="#0fa"/>
<path d="M187 108.8l2.5 2.6-2.1-.6-2.5-2.6z" fill="#0f1"/>
<path d="M221.4 124.9l2.3 1.6-2.3-.1-2.3-1.6z" fill="#0fd"/>
<path d="M255.7 130.6l2.2.3-2.4.4-2.2-.3zM251.2 130.5l2.1.5-2.3.3-2.2-.4zM260.3 130.4l2.2.1-2.4.5-2.2-.1zM246.6 130.2l2.2.7-2.4.2-2.2-.6z" fill="#0cf"/>
<path d="M205.3 118.4l2.4 2.1-2.2-.3-2.4-2.1z" fill="#0f8"/>
<path d="M264.9 130l2.2-.1-2.5.5-2.1.1zM242 129.7l2.2.8-2.3.2-2.2-.9z" fill="#0df"/>
<path d="M193.9 112.5l2.4 2.5-2.2-.5-2.4-2.5z" fill="#0f4"/>
<path d="M175.5 100.9l2.6 3.1-2.2-.8-2.5-3z" fill="#4f0"/>
<path d="M237.4 128.8l2.3 1-2.4.2-2.2-1z" fill="#0df"/>
<path d="M216.8 123.1l2.3 1.7-2.2-.2-2.4-1.7z" fill="#0fc"/>
<path d="M182.4 105.3l2.5 2.9-2.2-.7-2.5-2.8z" fill="#1f0"/>
<path d="M232.8 127.8l2.3 1.2-2.3 0-2.3-1.1z" fill="#0ef"/>
<path d="M200.7 115.8l2.4 2.3-2.2-.4-2.4-2.3z" fill="#0f6"/>
<path d="M212.2 121l2.3 1.9-2.2-.2-2.3-1.9z" fill="#0fa"/>
<path d="M228.3 126.5l2.2 1.4-2.3 0-2.2-1.4z" fill="#0fe"/>
<path d="M189.2 109.3l2.5 2.7-2.2-.6-2.5-2.6z" fill="#0f1"/>
<path d="M223.7 125l2.3 1.5-2.3 0-2.3-1.6z" fill="#0fd"/>
<path d="M207.6 118.7l2.4 2.1-2.3-.3-2.4-2.1z" fill="#0f8"/>
<path d="M253.5 130.1l2.2.5-2.4.4-2.1-.5z" fill="#0df"/>
<path d="M196.1 112.9l2.4 2.5-2.2-.4-2.4-2.5z" fill="#0f4"/>
<path d="M258.1 130.1l2.2.3-2.4.5-2.2-.3z" fill="#0df"/>
<path d="M177.7 101.6l2.5 3.1-2.1-.7-2.6-3.1z" fill="#3f0"/>
<path d="M249 129.9l2.2.6-2.4.4-2.2-.7zM262.7 129.9l2.2.1-2.4.5-2.2-.1zM244.4 129.4l2.2.8-2.4.3-2.2-.8z" fill="#0df"/>
<path d="M219.1 123.2l2.3 1.7-2.3-.1-2.3-1.7z" fill="#0fb"/>
<path d="M239.8 128.6l2.2 1.1-2.3.1-2.3-1z" fill="#0ef"/>
<path d="M184.5 105.9l2.5 2.9-2.1-.6-2.5-2.9z" fill="#1f0"/>
<path d="M235.2 127.6l2.2 1.2-2.3.2-2.3-1.2z" fill="#0fe"/>
<path d="M202.9 116.1l2.4 2.3-2.2-.3-2.4-2.3z" fill="#0f6"/>
<path d="M214.5 121.1l2.3 2-2.3-.2-2.3-1.9z" fill="#0f9"/>
<path d="M191.4 109.8l2.5 2.7-2.2-.5-2.5-2.7z" fill="#0f1"/>
<path d="M230.6 126.4l2.2 1.4-2.3.1-2.2-1.4z" fill="#0fd"/>
<path d="M226 124.9l2.3 1.6-2.3 0-2.3-1.5z" fill="#0fc"/>
<path d="M179.8 102.3l2.6 3-2.2-.6-2.5-3.1z" fill="#3f0"/>
<path d="M198.3 113.3l2.4 2.5-2.2-.4-2.4-2.5z" fill="#0f3"/>
<path d="M209.8 118.9l2.4 2.1-2.2-.2-2.4-2.1z" fill="#0f8"/>
<path d="M256 129.7l2.1.4-2.4.5-2.2-.5zM260.6 129.6l2.1.3-2.4.5-2.2-.3zM251.3 129.5l2.2.6-2.3.4-2.2-.6z" fill="#0ef"/>
<path d="M186.7 106.5l2.5 2.8-2.2-.5-2.5-2.9z" fill="#1f0"/>
<path d="M246.7 129.1l2.3.8-2.4.3-2.2-.8z" fill="#0ef"/>
<path d="M221.4 123.2l2.3 1.8-2.3-.1-2.3-1.7z" fill="#0fb"/>
<path d="M242.1 128.4l2.3 1-2.4.3-2.2-1.1z" fill="#0fe"/>
<path d="M205.2 116.4l2.4 2.3-2.3-.3-2.4-2.3z" fill="#0f5"/>
<path d="M237.5 127.4l2.3 1.2-2.4.2-2.2-1.2z" fill="#0fe"/>
<path d="M193.6 110.2l2.5 2.7-2.2-.4-2.5-2.7z" fill="#0f1"/>
<path d="M216.7 121.2l2.4 2-2.3-.1-2.3-2z" fill="#0f9"/>
<path d="M232.9 126.3l2.3 1.3-2.4.2-2.2-1.4z" fill="#0fd"/>
<path d="M182 102.9l2.5 3-2.1-.6-2.6-3z" fill="#3f0"/>
<path d="M200.5 113.6l2.4 2.5-2.2-.3-2.4-2.5z" fill="#0f3"/>
<path d="M228.3 124.8l2.3 1.6-2.3.1-2.3-1.6z" fill="#0fb"/>
<path d="M212.1 119l2.4 2.1-2.3-.1-2.4-2.1z" fill="#0f7"/>
<path d="M188.9 106.9l2.5 2.9-2.2-.5-2.5-2.8z" fill="#1f0"/>
<path d="M258.4 129.1l2.2.5-2.5.5-2.1-.4z" fill="#0fe"/>
<path d="M223.7 123.2l2.3 1.7-2.3.1-2.3-1.8z" fill="#0fa"/>
<path d="M253.8 129l2.2.7-2.5.4-2.2-.6zM249.1 128.7l2.2.8-2.3.4-2.3-.8z" fill="#0fe"/>
<path d="M207.4 116.6l2.4 2.3-2.2-.2-2.4-2.3z" fill="#0f5"/>
<path d="M244.5 128l2.2 1.1-2.3.3-2.3-1z" fill="#0fd"/>
<path d="M195.8 110.6l2.5 2.7-2.2-.4-2.5-2.7z" fill="#0f1"/>
<path d="M239.9 127.2l2.2 1.2-2.3.2-2.3-1.2z" fill="#0fd"/>
<path d="M219 121.3l2.4 1.9-2.3 0-2.4-2z" fill="#0f8"/>
<path d="M184.2 103.4l2.5 3.1-2.2-.6-2.5-3z" fill="#3f0"/>
<path d="M235.2 126l2.3 1.4-2.3.2-2.3-1.3z" fill="#0fc"/>
<path d="M202.7 113.8l2.5 2.6-2.3-.3-2.4-2.5z" fill="#0f3"/>
<path d="M214.4 119.1l2.3 2.1-2.2-.1-2.4-2.1z" fill="#0f7"/>
<path d="M230.6 124.7l2.3 1.6-2.3.1-2.3-1.6z" fill="#0fb"/>
<path d="M191.1 107.3l2.5 2.9-2.2-.4-2.5-2.9z" fill="#1f0"/>
<path d="M226 123.1l2.3 1.7-2.3.1-2.3-1.7z" fill="#0f9"/>
<path d="M256.2 128.5l2.2.6-2.4.6-2.2-.7z" fill="#0fd"/>
<path d="M209.7 116.7l2.4 2.3-2.3-.1-2.4-2.3z" fill="#0f5"/>
<path d="M198.1 110.9l2.4 2.7-2.2-.3-2.5-2.7z" fill="#0f0"/>
<path d="M251.5 128.2l2.3.8-2.5.5-2.2-.8zM246.9 127.6l2.2 1.1-2.4.4-2.2-1.1z" fill="#0fd"/>
<path d="M221.3 121.2l2.4 2-2.3 0-2.4-1.9z" fill="#0f8"/>
<path d="M242.3 126.8l2.2 1.2-2.4.4-2.2-1.2z" fill="#0fc"/>
<path d="M186.4 103.8l2.5 3.1-2.2-.4-2.5-3.1z" fill="#4f0"/>
<path d="M237.6 125.8l2.3 1.4-2.4.2-2.3-1.4z" fill="#0fb"/>
<path d="M205 114l2.4 2.6-2.2-.2-2.5-2.6z" fill="#0f2"/>
<path d="M216.6 119.1l2.4 2.2-2.3-.1-2.3-2.1z" fill="#0f6"/>
<path d="M193.3 107.7l2.5 2.9-2.2-.4-2.5-2.9z" fill="#1f0"/>
<path d="M233 124.5l2.2 1.5-2.3.3-2.3-1.6z" fill="#0fa"/>
<path d="M228.3 122.9l2.3 1.8-2.3.1-2.3-1.7z" fill="#0f9"/>
<path d="M200.3 111.1l2.4 2.7-2.2-.2-2.4-2.7z" fill="#0f0"/>
<path d="M212 116.7l2.4 2.4-2.3-.1-2.4-2.3z" fill="#0f4"/>
<path d="M254 127.6l2.2.9-2.4.5-2.3-.8z" fill="#0fc"/>
<path d="M188.6 104.2l2.5 3.1-2.2-.4-2.5-3.1z" fill="#4f0"/>
<path d="M249.3 127.1l2.2 1.1-2.4.5-2.2-1.1z" fill="#0fc"/>
<path d="M223.6 121.1l2.4 2-2.3.1-2.4-2z" fill="#0f7"/>
<path d="M244.7 126.4l2.2 1.2-2.4.4-2.2-1.2z" fill="#0fb"/>
<path d="M207.3 114.1l2.4 2.6-2.3-.1-2.4-2.6z" fill="#0f2"/>
<path d="M240 125.4l2.3 1.4-2.4.4-2.3-1.4z" fill="#0fa"/>
<path d="M195.6 108l2.5 2.9-2.3-.3-2.5-2.9z" fill="#2f0"/>
<path d="M219 119l2.3 2.2-2.3.1-2.4-2.2z" fill="#0f6"/>
<path d="M235.3 124.2l2.3 1.6-2.4.2-2.2-1.5z" fill="#0f9"/>
<path d="M202.5 111.3l2.5 2.7-2.3-.2-2.4-2.7z" fill="#0f0"/>
<path d="M230.7 122.7l2.3 1.8-2.4.2-2.3-1.8z" fill="#0f8"/>
<path d="M214.3 116.7l2.3 2.4-2.2 0-2.4-2.4z" fill="#0f4"/>
<path d="M190.8 104.6l2.5 3.1-2.2-.4-2.5-3.1z" fill="#4f0"/>
<path d="M226 120.9l2.3 2-2.3.2-2.4-2z" fill="#0f7"/>
<path d="M251.8 126.6l2.2 1-2.5.6-2.2-1.1z" fill="#0fb"/>
<path d="M247.1 125.9l2.2 1.2-2.4.5-2.2-1.2z" fill="#0fa"/>
<path d="M209.5 114.2l2.5 2.5-2.3 0-2.4-2.6z" fill="#0f2"/>
<path d="M197.8 108.2l2.5 2.9-2.2-.2-2.5-2.9z" fill="#2f0"/>
<path d="M242.4 125l2.3 1.4-2.4.4-2.3-1.4z" fill="#0f9"/>
<path d="M221.3 118.9l2.3 2.2-2.3.1-2.3-2.2z" fill="#0f5"/>
<path d="M237.7 123.8l2.3 1.6-2.4.4-2.3-1.6z" fill="#0f8"/>
<path d="M204.8 111.4l2.5 2.7-2.3-.1-2.5-2.7z" fill="#0f0"/>
<path d="M216.6 116.7l2.4 2.3-2.4.1-2.3-2.4z" fill="#0f3"/>
<path d="M233 122.3l2.3 1.9-2.3.3-2.3-1.8z" fill="#0f7"/>
<path d="M193 104.8l2.6 3.2-2.3-.3-2.5-3.1z" fill="#4f0"/>
<path d="M228.3 120.7l2.4 2-2.4.2-2.3-2z" fill="#0f6"/>
<path d="M211.8 114.2l2.5 2.5-2.3 0-2.5-2.5z" fill="#0f1"/>
<path d="M200.1 108.3l2.4 3-2.2-.2-2.5-2.9z" fill="#2f0"/>
<path d="M249.5 125.4l2.3 1.2-2.5.5-2.2-1.2z" fill="#0f9"/>
<path d="M223.6 118.7l2.4 2.2-2.4.2-2.3-2.2z" fill="#0f4"/>
<path d="M244.8 124.5l2.3 1.4-2.4.5-2.3-1.4z" fill="#0f8"/>
<path d="M240.1 123.4l2.3 1.6-2.4.4-2.3-1.6z" fill="#0f7"/>
<path d="M207.1 111.4l2.4 2.8-2.2-.1-2.5-2.7z" fill="#0f0"/>
<path d="M195.3 105l2.5 3.2-2.2-.2-2.6-3.2z" fill="#4f0"/>
<path d="M218.9 116.5l2.4 2.4-2.3.1-2.4-2.3z" fill="#0f2"/>
<path d="M235.4 122l2.3 1.8-2.4.4-2.3-1.9z" fill="#0f6"/>
<path d="M230.7 120.3l2.3 2-2.3.4-2.4-2z" fill="#0f5"/>
<path d="M202.3 108.4l2.5 3-2.3-.1-2.4-3z" fill="#3f0"/>
<path d="M214.2 114.1l2.4 2.6-2.3 0-2.5-2.5z" fill="#0f0"/>
<path d="M226 118.5l2.3 2.2-2.3.2-2.4-2.2z" fill="#0f3"/>
<path d="M247.3 123.9l2.2 1.5-2.4.5-2.3-1.4z" fill="#0f7"/>
<path d="M209.4 111.4l2.4 2.8-2.3 0-2.4-2.8z" fill="#1f0"/>
<path d="M242.5 122.8l2.3 1.7-2.4.5-2.3-1.6z" fill="#0f6"/>
<path d="M197.6 105.1l2.5 3.2-2.3-.1-2.5-3.2z" fill="#5f0"/>
<path d="M221.2 116.3l2.4 2.4-2.3.2-2.4-2.4z" fill="#0f2"/>
<path d="M237.8 121.5l2.3 1.9-2.4.4-2.3-1.8z" fill="#0f5"/>
<path d="M204.6 108.4l2.5 3-2.3 0-2.5-3z" fill="#3f0"/>
<path d="M233.1 119.9l2.3 2.1-2.4.3-2.3-2z" fill="#0f4"/>
<path d="M216.5 113.9l2.4 2.6-2.3.2-2.4-2.6z" fill="#0f0"/>
<path d="M228.3 118.1l2.4 2.2-2.4.4-2.3-2.2z" fill="#0f3"/>
<path d="M211.7 111.3l2.5 2.8-2.4.1-2.4-2.8z" fill="#1f0"/>
<path d="M199.8 105.2l2.5 3.2-2.2-.1-2.5-3.2z" fill="#5f0"/>
<path d="M245 122.3l2.3 1.6-2.5.6-2.3-1.7z" fill="#0f5"/>
<path d="M223.6 116l2.4 2.5-2.4.2-2.4-2.4z" fill="#0f1"/>
<path d="M240.2 121l2.3 1.8-2.4.6-2.3-1.9z" fill="#0f4"/>
<path d="M206.9 108.4l2.5 3-2.3 0-2.5-3z" fill="#3f0"/>
<path d="M218.8 113.7l2.4 2.6-2.3.2-2.4-2.6z" fill="#0f0"/>
<path d="M235.5 119.5l2.3 2-2.4.5-2.3-2.1z" fill="#0f3"/>
<path d="M230.7 117.7l2.4 2.2-2.4.4-2.4-2.2z" fill="#0f2"/>
<path d="M214 111.1l2.5 2.8-2.3.2-2.5-2.8z" fill="#2f0"/>
<path d="M202.1 105.2l2.5 3.2-2.3 0-2.5-3.2z" fill="#5f0"/>
<path d="M226 115.7l2.3 2.4-2.3.4-2.4-2.5z" fill="#0f0"/>
<path d="M242.7 120.4l2.3 1.9-2.5.5-2.3-1.8z" fill="#0f3"/>
<path d="M209.2 108.2l2.5 3.1-2.3.1-2.5-3z" fill="#4f0"/>
<path d="M221.2 113.4l2.4 2.6-2.4.3-2.4-2.6z" fill="#1f0"/>
<path d="M237.9 119l2.3 2-2.4.5-2.3-2z" fill="#0f2"/>
<path d="M233.1 117.2l2.4 2.3-2.4.4-2.4-2.2z" fill="#0f1"/>
<path d="M204.4 105.1l2.5 3.3-2.3 0-2.5-3.2z" fill="#6f0"/>
<path d="M216.4 110.9l2.4 2.8-2.3.2-2.5-2.8z" fill="#3f0"/>
<path d="M228.4 115.3l2.3 2.4-2.4.4-2.3-2.4z" fill="#0f0"/>
<path d="M211.6 108.1l2.4 3-2.3.2-2.5-3.1z" fill="#4f0"/>
<path d="M223.6 113l2.4 2.7-2.4.3-2.4-2.6z" fill="#2f0"/>
<path d="M240.4 118.4l2.3 2-2.5.6-2.3-2z" fill="#0f1"/>
<path d="M206.8 105l2.4 3.2-2.3.2-2.5-3.3z" fill="#6f0"/>
<path d="M235.6 116.7l2.3 2.3-2.4.5-2.4-2.3z" fill="#0f0"/>
<path d="M218.8 110.5l2.4 2.9-2.4.3-2.4-2.8z" fill="#3f0"/>
<path d="M230.8 114.8l2.3 2.4-2.4.5-2.3-2.4z" fill="#1f0"/>
<path d="M213.9 107.8l2.5 3.1-2.4.2-2.4-3z" fill="#5f0"/>
<path d="M226 112.6l2.4 2.7-2.4.4-2.4-2.7z" fill="#2f0"/>
<path d="M209.1 104.8l2.5 3.3-2.4.1-2.4-3.2z" fill="#7f0"/>
<path d="M221.1 110.2l2.5 2.8-2.4.4-2.4-2.9z" fill="#4f0"/>
<path d="M238 116.1l2.4 2.3-2.5.6-2.3-2.3z" fill="#0f0"/>
<path d="M233.2 114.2l2.4 2.5-2.5.5-2.3-2.4z" fill="#2f0"/>
<path d="M216.3 107.5l2.5 3-2.4.4-2.5-3.1z" fill="#5f0"/>
<path d="M228.4 112.1l2.4 2.7-2.4.5-2.4-2.7z" fill="#3f0"/>
<path d="M211.4 104.5l2.5 3.3-2.3.3-2.5-3.3z" fill="#7f0"/>
<path d="M223.5 109.7l2.5 2.9-2.4.4-2.5-2.8z" fill="#4f0"/>
<path d="M235.7 113.6l2.3 2.5-2.4.6-2.4-2.5z" fill="#3f0"/>
<path d="M218.7 107.1l2.4 3.1-2.3.3-2.5-3z" fill="#6f0"/>
<path d="M230.8 111.5l2.4 2.7-2.4.6-2.4-2.7z" fill="#4f0"/>
<path d="M213.8 104.2l2.5 3.3-2.4.3-2.5-3.3z" fill="#8f0"/>
<path d="M226 109.2l2.4 2.9-2.4.5-2.5-2.9z" fill="#5f0"/>
<path d="M221.1 106.6l2.4 3.1-2.4.5-2.4-3.1z" fill="#7f0"/>
<path d="M233.3 110.9l2.4 2.7-2.5.6-2.4-2.7z" fill="#5f0"/>
<path d="M216.2 103.7l2.5 3.4-2.4.4-2.5-3.3z" fill="#8f0"/>
<path d="M228.4 108.6l2.4 2.9-2.4.6-2.4-2.9z" fill="#6f0"/>
<path d="M223.5 106l2.5 3.2-2.5.5-2.4-3.1z" fill="#7f0"/>
<path d="M218.6 103.2l2.5 3.4-2.4.5-2.5-3.4z" fill="#9f0"/>
<path d="M230.9 107.9l2.4 3-2.5.6-2.4-2.9z" fill="#7f0"/>
<path d="M226 105.4l2.4 3.2-2.4.6-2.5-3.2z" fill="#8f0"/>
<path d="M221.1 102.7l2.4 3.3-2.4.6-2.5-3.4z" fill="#af0"/>
<path d="M228.4 104.7l2.5 3.2-2.5.7-2.4-3.2z" fill="#9f0"/>
<path d="M223.5 102l2.5 3.4-2.5.6-2.4-3.3zM226 101.3l2.4 3.4-2.4.7-2.5-3.4z" fill="#bf0"/>
</g>
<circle cx="226.0" cy="100.6" r="1.8" fill="#e3131c"/>
<circle cx="226.0" cy="36.6" r="1.8" fill="#e3131c"/>
<circle cx="326.2" cy="55.1" r="1.8" fill="#e3131c"/>
<circle cx="126.7" cy="71.3" r="1.6" fill="#f6cfcf" fill-opacity="0.75" stroke="#d98c8c" stroke-width="0.5"/>
<polygon points="576.2,188.7 488.5,152.5 576.2,124.3 663.9,152.5" fill="#ffff00" stroke="#5a5a20" stroke-width="0.5"/>
<path d="M596.1 163.6 595.2 163.8 593.5 164.3 591.6 164.8 590.6 165 588.7 165.4 587.6 165.6 585.5 165.9 584.4 166.1 583 166.2 580.8 166.5 579.6 166.6 578.3 166.7 577 166.8 575.3 166.8 573.6 166.9 572 166.9 570.6 166.9 569.1 166.8 567.7 166.8 565.8 166.6 564 166.4 562.8 166.3 561.4 166.1 559.6 165.8 558.5 165.6 556.7 165.2 554.9 164.7 553.7 164.3 552.5 163.9 551.1 163.3 550.4 163 549.2 162.3 548 161.6 547.5 161.3 546.6 160.5 546.2 160.1 545.5 159.3 545.2 158.9 544.9 158.5 544.6 157.8 544.3 157.2 544.2 156.6 544.2 156.1 544.2 155.6 544.3 155 544.4 154.5 544.6 153.9 544.8 153.4 545.1 152.9 545.4 152.5 545.9 151.9 546.5 151.3 546.9 150.9 547.5 150.4 548.3 149.8 548.8 149.4 549.8 148.7 550.6 148.3 551.6 147.8 552.8 147.2 554.1 146.6 555.1 146.3 556.3 145.8 557.5 145.4 558.5 145.1 560.1 144.7 561.8 144.3 563.3 143.9 564.5 143.7 566.3 143.4 567.3 143.2 568.9 143 570.3 142.8 571.4 142.7 573.1 142.5 574.7 142.4 575.9 142.3 577.1 142.2 578.4 142.2 579.7 142.1 581.2 142.1 582.6 142.1 584 142.2 585.5 142.2 587.2 142.3 588.8 142.4 589.9 142.5 591 142.6 593 142.9 594.1 143 595.6 143.3 597 143.5 598.7 143.9 599.6 144.1 601.2 144.5 602.7 145 604.2 145.5 605.5 146.1 606.1 146.4 607.3 147 608 147.5 608.8 148 609.3 148.4 610 149.1 610.4 149.6 610.7 150 611 150.5 611.2 151 611.4 151.6 611.5 152.1 611.5 152.6 611.4 153.1 611.3 153.7 611.1 154.3 610.8 154.9 610.5 155.3 610.3 155.8 609.6 156.6 609.2 157 608.5 157.6 607.9 158.1 607 158.7 606.4 159.1 605.3 159.8 604.1 160.4 603.5 160.8 602.1 161.4 600.7 162 599.3 162.5 597.7 163.1 596.1 163.6" fill="none" stroke="#0064ff" stroke-width="0.9" stroke-opacity="0.33"/>
<path d="M607.6 170.7 606.7 170.9 604.9 171.4 603.1 171.9 602.2 172.2 600.2 172.6 598.5 173 597.3 173.3 595.2 173.7 594.1 173.9 592.3 174.2 590.9 174.5 589.7 174.7 587.4 175 586.2 175.1 584.9 175.3 582.7 175.6 581.3 175.7 580 175.8 578.6 175.9 576.6 176.1 574.8 176.2 573 176.2 571.5 176.3 570 176.3 568.5 176.3 566.8 176.3 565.2 176.3 563.5 176.2 562 176.2 560.6 176.1 559.3 176 557.8 175.9 555.7 175.7 554.2 175.5 553 175.3 551 175.1 549.6 174.8 548.3 174.6 546.4 174.2 545.1 173.9 543.5 173.5 541.6 173 540.7 172.8 539 172.3 537.4 171.7 535.9 171.1 534.4 170.5 533.1 169.8 531.8 169.2 531.2 168.8 530 168.1 529 167.4 528.4 167 527.5 166.3 527 165.9 526.2 165.1 525.8 164.7 525.2 163.9 524.8 163.4 524.5 163 524.1 162.2 523.8 161.7 523.6 161.2 523.4 160.7 523.2 160 523 159.4 523 158.8 522.9 158.3 522.9 157.8 522.9 157.3 523 156.7 523.1 156.2 523.2 155.7 523.4 155.1 523.6 154.5 523.9 153.9 524.2 153.4 524.5 152.9 524.8 152.4 525.1 152 525.5 151.4 526.1 150.7 526.5 150.3 526.9 149.9 527.5 149.3 528.2 148.7 528.6 148.3 529.5 147.6 530.1 147.3 530.9 146.7 531.7 146.2 532.5 145.7 533.3 145.3 534.5 144.6 535.1 144.3 536.3 143.7 537.6 143.2 538.4 142.8 539.6 142.3 541 141.8 542.4 141.3 543.8 140.8 545.3 140.4 546.9 139.9 548.4 139.5 549.2 139.3 550.9 138.9 552.6 138.5 553.5 138.3 555.2 138 556.9 137.6 557.9 137.5 559.7 137.2 560.7 137 562.2 136.8 563.6 136.6 564.6 136.5 566.5 136.3 567.7 136.1 568.8 136 570.3 135.9 572.1 135.8 573.3 135.7 574.4 135.6 575.6 135.5 577 135.5 578.5 135.4 580 135.4 581.5 135.4 582.9 135.3 584.2 135.3 585.6 135.4 586.9 135.4 588.1 135.4 589.4 135.5 590.6 135.5 592.1 135.6 593.7 135.7 595.3 135.8 596.4 135.9 597.5 136 599.2 136.1 600.7 136.3 601.7 136.4 603.5 136.6 604.7 136.8 606 137 607.5 137.3 608.9 137.5 610.2 137.8 612 138.1 612.8 138.3 614.5 138.7 616.1 139.1 617.6 139.6 619.1 140 620.6 140.5 622 141.1 623.3 141.6 624.3 142.1 625.2 142.5 626.3 143.1 626.9 143.4 628 144 628.5 144.4 629.5 145.1 629.9 145.5 630.4 145.9 631.2 146.6 631.5 147 631.9 147.4 632.2 147.9 632.6 148.5 632.9 149.1 633.2 149.6 633.4 150.2 633.5 150.7 633.6 151.2 633.6 151.7 633.7 152.2 633.6 152.7 633.6 153.2 633.5 153.6 633.3 154.2 633.1 154.9 632.9 155.4 632.7 155.8 632.3 156.4 631.9 157.1 631.6 157.5 631.1 158.1 630.6 158.7 630.2 159.1 629.4 159.8 629 160.2 628.1 160.9 627.7 161.3 626.7 162 625.8 162.6 625.1 163.1 624 163.8 622.9 164.4 622.3 164.8 621 165.4 619.7 166.1 618.4 166.7 617 167.3 615.5 167.9 614.1 168.5 612.5 169 610.9 169.6 609.3 170.1 607.6 170.7" fill="none" stroke="#00ffb7" stroke-width="0.9" stroke-opacity="0.33"/>
<path d="M595.3 180.9 594.7 181 593.6 181.2 592.6 181.3 592.4 181.3 591.3 181.5 590.1 181.7 590 181.7 588.9 181.9 587.6 182 587.6 182 586.4 182.2 585.3 182.3 585.1 182.3 583.9 182.5 583 182.5 582.6 182.6 581.3 182.7 580.9 182.8 579.9 182.8 578.8 182.9 578.6 183 577.2 183.1 576.8 183.1 575.8 183.2 574.9 183.2 574.3 183.2 573 183.3 572.9 183.3 571.4 183.4 571.2 183.4 569.9 183.4 569.4 183.4 568.3 183.5 567.7 183.5 566.8 183.5 566 183.5 565.1 183.5 564.4 183.5 563.5 183.5" fill="none" stroke="#2fff00" stroke-width="0.9" stroke-opacity="0.33"/>
<path d="M648.2 147.5 648.6 148.1 648.8 148.6 649 149.1 649.2 149.7 649.3 150.2 649.4 150.7 649.5 151.2 649.5 151.7 649.5 152.1 649.5 152.6 649.5 153.1 649.4 153.7 649.2 154.4 649.1 154.9 648.9 155.3 648.7 155.8 648.4 156.5 648.1 157 647.9 157.4 647.4 158.1 647 158.7 646.7 159.1 646.1 159.9" fill="none" stroke="#2fff00" stroke-width="0.9" stroke-opacity="0.33"/>
<path d="M508 160.6 507.9 159.9 507.9 159.3 508 158.8 508 158.3 508.1 157.8 508.2 157.2 508.3 156.7 508.5 156.1 508.7 155.6 508.9 155 509.2 154.4 509.4 153.9 509.7 153.4 510 153 510.3 152.5 510.6 152 511.1 151.4 511.6 150.7 512 150.3 512.4 149.9 512.9 149.4 513.6 148.6 514 148.3 514.5 147.9 515.4 147.1 515.9 146.7 516.4 146.3 517.3 145.7 517.9 145.3 518.9 144.6 519.4 144.3 520.6 143.6 521.1 143.3 522.3 142.7 522.9 142.4 524.1 141.8 525.3 141.2 525.9 140.9 527.2 140.4 528.5 139.8 529.9 139.3 531.2 138.8" fill="none" stroke="#2fff00" stroke-width="0.9" stroke-opacity="0.33"/>
<path d="M537.8 136.7 539.4 136.2 540.9 135.8 542.5 135.4 544.2 135.1 545 134.9 546.7 134.5 548.3 134.2 549.3 134 551.1 133.7 552 133.5 553.8 133.2 554.7 133 556.6 132.8 557.6 132.6 559.1 132.4 560.5 132.3 561.5 132.1 563.3 131.9 564.6 131.8 565.6 131.7 567.1 131.6 568.8 131.4 569.9 131.4 571 131.3 572.2 131.2 573.9 131.1 575.4 131 576.8 131 578.1 130.9 579.3 130.9 580.5 130.9 581.8 130.9 583.1 130.8 584.4 130.8 585.8 130.8 587.1 130.8 588.5 130.9 590 130.9 591.4 130.9 592.9 131 594.2 131 595.3 131.1 596.5 131.2 597.7 131.2" fill="none" stroke="#2fff00" stroke-width="0.9" stroke-opacity="0.33"/>
<line x1="488.5" y1="152.5" x2="482.6" y2="49.8" stroke="#2e2e2e" stroke-width="0.6"/>
<line x1="576.2" y1="124.3" x2="576.2" y2="31.9" stroke="#686868" stroke-width="0.5"/>
<line x1="663.9" y1="152.5" x2="669.8" y2="49.8" stroke="#686868" stroke-width="0.5"/>
<line x1="482.6" y1="49.8" x2="576.2" y2="31.9" stroke="#686868" stroke-width="0.5"/>
<line x1="576.2" y1="31.9" x2="669.8" y2="49.8" stroke="#686868" stroke-width="0.5"/>
<g stroke="#000" stroke-opacity="0.7" stroke-width="0.3" stroke-linejoin="round">
<path d="M576.2 42.6l-1.8-3.6 1.8-3.1 1.8 3.7z" fill="#f60"/>
<path d="M578 46.2l-1.8-3.6 1.8-3 1.8 3.6z" fill="#f80"/>
<path d="M574.4 45.6l-1.8-3.7 1.8-2.9 1.8 3.6z" fill="#f70"/>
<path d="M579.8 49.6l-1.8-3.4 1.8-3 1.8 3.4zM576.2 49.1l-1.8-3.5 1.8-3 1.8 3.6z" fill="#fa0"/>
<path d="M581.6 52.9l-1.8-3.3 1.8-3 1.8 3.3z" fill="#fd0"/>
<path d="M572.6 48.4l-1.8-3.7 1.8-2.8 1.8 3.7z" fill="#f90"/>
<path d="M578 52.5l-1.8-3.4 1.8-2.9 1.8 3.4zM574.4 51.9l-1.8-3.5 1.8-2.8 1.8 3.5z" fill="#fc0"/>
<path d="M583.4 56.1l-1.8-3.2 1.8-3 1.8 3.2zM579.8 55.8l-1.8-3.3 1.8-2.9 1.8 3.3z" fill="#fe0"/>
<path d="M570.8 51.1l-1.8-3.7 1.8-2.7 1.8 3.7z" fill="#fb0"/>
<path d="M576.2 55.3l-1.8-3.4 1.8-2.8 1.8 3.4z" fill="#fe0"/>
<path d="M585.2 59.1l-1.8-3 1.8-3 1.8 3z" fill="#df0"/>
<path d="M572.6 54.6l-1.8-3.5 1.8-2.7 1.8 3.5z" fill="#fe0"/>
<path d="M581.6 59l-1.8-3.2 1.8-2.9 1.8 3.2z" fill="#df0"/>
<path d="M578 58.6l-1.8-3.3 1.8-2.8 1.8 3.3z" fill="#ef0"/>
<path d="M569 53.7l-1.8-3.7 1.8-2.6 1.8 3.7z" fill="#fd0"/>
<path d="M574.4 58l-1.8-3.4 1.8-2.7 1.8 3.4z" fill="#ef0"/>
<path d="M587 62l-1.8-2.9 1.8-3 1.8 2.9zM583.4 62l-1.8-3 1.8-2.9 1.8 3zM579.8 61.7l-1.8-3.1 1.8-2.8 1.8 3.2z" fill="#cf0"/>
<path d="M570.8 57.2l-1.8-3.5 1.8-2.6 1.8 3.5z" fill="#ef0"/>
<path d="M576.2 61.3l-1.8-3.3 1.8-2.7 1.8 3.3z" fill="#df0"/>
<path d="M567.2 56.1l-1.8-3.6 1.8-2.5 1.8 3.7z" fill="#fe0"/>
<path d="M572.6 60.6l-1.8-3.4 1.8-2.6 1.8 3.4z" fill="#df0"/>
<path d="M585.2 64.9l-1.8-2.9 1.8-2.9 1.8 2.9zM588.9 64.8l-1.9-2.8 1.8-3 1.9 2.8zM581.6 64.8l-1.8-3.1 1.8-2.7 1.8 3zM578 64.4l-1.8-3.1 1.8-2.7 1.8 3.1z" fill="#bf0"/>
<path d="M569 59.7l-1.8-3.6 1.8-2.4 1.8 3.5z" fill="#df0"/>
<path d="M574.4 63.8l-1.8-3.2 1.8-2.6 1.8 3.3z" fill="#bf0"/>
<path d="M587.1 67.7l-1.9-2.8 1.8-2.9 1.9 2.8zM583.5 67.7l-1.9-2.9 1.8-2.8 1.8 2.9z" fill="#af0"/>
<path d="M570.8 63l-1.8-3.3 1.8-2.5 1.8 3.4z" fill="#cf0"/>
<path d="M590.7 67.5l-1.8-2.7 1.8-3 1.8 2.7zM579.8 67.4l-1.8-3 1.8-2.7 1.8 3.1z" fill="#af0"/>
<path d="M565.4 58.5l-1.8-3.6 1.8-2.4 1.8 3.6z" fill="#ef0"/>
<path d="M576.2 67l-1.8-3.2 1.8-2.5 1.8 3.1z" fill="#af0"/>
<path d="M567.2 62l-1.8-3.5 1.8-2.4 1.8 3.6z" fill="#cf0"/>
<path d="M572.6 66.3l-1.8-3.3 1.8-2.4 1.8 3.2z" fill="#af0"/>
<path d="M585.3 70.4l-1.8-2.7 1.7-2.8 1.9 2.8zM588.9 70.3l-1.8-2.6 1.8-2.9 1.8 2.7zM581.6 70.3l-1.8-2.9 1.8-2.6 1.9 2.9zM592.5 70l-1.8-2.5 1.8-3 1.8 2.5zM578 70l-1.8-3 1.8-2.6 1.8 3z" fill="#9f0"/>
<path d="M569 65.4l-1.8-3.4 1.8-2.3 1.8 3.3z" fill="#bf0"/>
<path d="M563.5 60.8l-1.8-3.7 1.9-2.2 1.8 3.6z" fill="#df0"/>
<path d="M574.4 69.4l-1.8-3.1 1.8-2.5 1.8 3.2z" fill="#9f0"/>
<path d="M565.3 64.3l-1.8-3.5 1.9-2.3 1.8 3.5z" fill="#bf0"/>
<path d="M570.8 68.7l-1.8-3.3 1.8-2.4 1.8 3.3z" fill="#9f0"/>
<path d="M583.5 73.1l-1.9-2.8 1.9-2.6 1.8 2.7zM587.1 73.1l-1.8-2.7 1.8-2.7 1.8 2.6z" fill="#7f0"/>
<path d="M579.8 72.9l-1.8-2.9 1.8-2.6 1.8 2.9zM590.7 72.8l-1.8-2.5 1.8-2.8 1.8 2.5zM576.2 72.5l-1.8-3.1 1.8-2.4 1.8 3zM594.4 72.4l-1.9-2.4 1.8-3 1.8 2.4z" fill="#8f0"/>
<path d="M567.2 67.7l-1.9-3.4 1.9-2.3 1.8 3.4z" fill="#af0"/>
<path d="M561.7 62.9l-1.8-3.6 1.8-2.2 1.8 3.7z" fill="#cf0"/>
<path d="M572.6 71.8l-1.8-3.1 1.8-2.4 1.8 3.1z" fill="#8f0"/>
<path d="M585.3 75.7l-1.8-2.6 1.8-2.7 1.8 2.7zM581.7 75.6l-1.9-2.7 1.8-2.6 1.9 2.8zM588.9 75.6l-1.8-2.5 1.8-2.8 1.8 2.5z" fill="#6f0"/>
<path d="M569 70.9l-1.8-3.2 1.8-2.3 1.8 3.3z" fill="#9f0"/>
<path d="M563.5 66.4l-1.8-3.5 1.8-2.1 1.8 3.5z" fill="#bf0"/>
<path d="M578 75.3l-1.8-2.8 1.8-2.5 1.8 2.9zM592.6 75.2l-1.9-2.4 1.8-2.8 1.9 2.4zM574.4 74.8l-1.8-3 1.8-2.4 1.8 3.1zM596.2 74.7l-1.8-2.3 1.7-3 1.9 2.3z" fill="#7f0"/>
<path d="M565.3 69.8l-1.8-3.4 1.8-2.1 1.9 3.4z" fill="#9f0"/>
<path d="M570.8 74l-1.8-3.1 1.8-2.2 1.8 3.1z" fill="#7f0"/>
<path d="M559.9 64.9l-1.8-3.6 1.8-2 1.8 3.6z" fill="#bf0"/>
<path d="M583.5 78.3l-1.8-2.7 1.8-2.5 1.8 2.6zM587.1 78.2l-1.8-2.5 1.8-2.6 1.8 2.5zM579.9 78.1l-1.9-2.8 1.8-2.4 1.9 2.7zM590.8 78l-1.9-2.4 1.8-2.8 1.9 2.4zM576.2 77.7l-1.8-2.9 1.8-2.3 1.8 2.8zM594.4 77.5l-1.8-2.3 1.8-2.8 1.8 2.3z" fill="#4f0"/>
<path d="M567.1 73.1l-1.8-3.3 1.9-2.1 1.8 3.2z" fill="#8f0"/>
<path d="M561.7 68.4l-1.8-3.5 1.8-2 1.8 3.5z" fill="#af0"/>
<path d="M572.6 77l-1.8-3 1.8-2.2 1.8 3zM598 76.8l-1.8-2.1 1.8-3 1.8 2.2z" fill="#5f0"/>
<path d="M585.3 80.8l-1.8-2.5 1.8-2.6 1.8 2.5z" fill="#1f0"/>
<path d="M563.5 71.8l-1.8-3.4 1.8-2 1.8 3.4z" fill="#8f0"/>
<path d="M581.7 80.7l-1.8-2.6 1.8-2.5 1.8 2.7z" fill="#1f0"/>
<path d="M589 80.6l-1.9-2.4 1.8-2.6 1.9 2.4z" fill="#2f0"/>
<path d="M568.9 76.2l-1.8-3.1 1.9-2.2 1.8 3.1z" fill="#6f0"/>
<path d="M578 80.4l-1.8-2.7 1.8-2.4 1.9 2.8z" fill="#2f0"/>
<path d="M558 66.9l-1.8-3.7 1.9-1.9 1.8 3.6z" fill="#bf0"/>
<path d="M592.6 80.3l-1.8-2.3 1.8-2.8 1.8 2.3zM574.4 79.9l-1.8-2.9 1.8-2.2 1.8 2.9z" fill="#2f0"/>
<path d="M596.2 79.7l-1.8-2.2 1.8-2.8 1.8 2.1z" fill="#3f0"/>
<path d="M565.3 75.1l-1.8-3.3 1.8-2 1.8 3.3z" fill="#7f0"/>
<path d="M559.8 70.4l-1.8-3.5 1.9-2 1.8 3.5z" fill="#9f0"/>
<path d="M570.8 79.2l-1.9-3 1.9-2.2 1.8 3zM599.9 78.9l-1.9-2.1 1.8-2.9 1.9 2z" fill="#3f0"/>
<path d="M583.5 83.2l-1.8-2.5 1.8-2.4 1.8 2.5zM587.1 83.2l-1.8-2.4 1.8-2.6 1.9 2.4zM579.9 83.1l-1.9-2.7 1.9-2.3 1.8 2.6zM590.8 82.9l-1.8-2.3 1.8-2.6 1.8 2.3z" fill="#0f0"/>
<path d="M561.6 73.8l-1.8-3.4 1.9-2 1.8 3.4z" fill="#8f0"/>
<path d="M567.1 78.2l-1.8-3.1 1.8-2 1.8 3.1z" fill="#4f0"/>
<path d="M576.2 82.7l-1.8-2.8 1.8-2.2 1.8 2.7zM594.4 82.4l-1.8-2.1 1.8-2.8 1.8 2.2z" fill="#0f0"/>
<path d="M556.2 68.7l-1.8-3.7 1.8-1.8 1.8 3.7z" fill="#af0"/>
<path d="M572.6 82.1l-1.8-2.9 1.8-2.2 1.8 2.9z" fill="#0f0"/>
<path d="M598.1 81.7l-1.9-2 1.8-2.9 1.9 2.1z" fill="#1f0"/>
<path d="M563.5 77l-1.9-3.2 1.9-2 1.8 3.3z" fill="#6f0"/>
<path d="M568.9 81.2l-1.8-3 1.8-2 1.9 3z" fill="#1f0"/>
<path d="M558 72.2l-1.8-3.5 1.8-1.8 1.8 3.5z" fill="#8f0"/>
<path d="M585.3 85.6l-1.8-2.4 1.8-2.4 1.8 2.4zM581.7 85.6l-1.8-2.5 1.8-2.4 1.8 2.5zM589 85.4l-1.9-2.2 1.9-2.6 1.8 2.3z" fill="#0f2"/>
<path d="M601.8 80.8l-1.9-1.9 1.8-3 1.9 1.9z" fill="#2f0"/>
<path d="M578 85.3l-1.8-2.6 1.8-2.3 1.9 2.7z" fill="#0f2"/>
<path d="M592.6 85l-1.8-2.1 1.8-2.6 1.8 2.1zM574.4 84.8l-1.8-2.7 1.8-2.2 1.8 2.8z" fill="#0f1"/>
<path d="M565.3 80.1l-1.8-3.1 1.8-1.9 1.8 3.1z" fill="#3f0"/>
<path d="M559.8 75.6l-1.8-3.4 1.8-1.8 1.8 3.4z" fill="#7f0"/>
<path d="M596.3 84.4l-1.9-2 1.8-2.7 1.9 2z" fill="#0f1"/>
<path d="M570.7 84.1l-1.8-2.9 1.9-2 1.8 2.9z" fill="#0f0"/>
<path d="M554.3 70.4l-1.8-3.7 1.9-1.7 1.8 3.7z" fill="#9f0"/>
<path d="M600 83.6l-1.9-1.9 1.8-2.8 1.9 1.9z" fill="#0f0"/>
<path d="M583.5 87.9l-1.8-2.3 1.8-2.4 1.8 2.4zM587.2 87.9l-1.9-2.3 1.8-2.4 1.9 2.2z" fill="#0f4"/>
<path d="M561.6 78.8l-1.8-3.2 1.8-1.8 1.9 3.2z" fill="#4f0"/>
<path d="M579.9 87.8l-1.9-2.5 1.9-2.2 1.8 2.5z" fill="#0f4"/>
<path d="M567.1 83.1l-1.8-3 1.8-1.9 1.8 3z" fill="#0f0"/>
<path d="M590.8 87.6l-1.8-2.2 1.8-2.5 1.8 2.1zM576.2 87.4l-1.8-2.6 1.8-2.1 1.8 2.6z" fill="#0f4"/>
<path d="M556.1 73.9l-1.8-3.5 1.9-1.7 1.8 3.5z" fill="#8f0"/>
<path d="M603.6 82.5l-1.8-1.7 1.8-3 1.8 1.8z" fill="#0f0"/>
<path d="M594.5 87l-1.9-2 1.8-2.6 1.9 2zM572.6 86.8l-1.9-2.7 1.9-2 1.8 2.7z" fill="#0f3"/>
<path d="M563.4 82l-1.8-3.2 1.9-1.8 1.8 3.1z" fill="#1f0"/>
<path d="M598.2 86.3l-1.9-1.9 1.8-2.7 1.9 1.9z" fill="#0f2"/>
<path d="M557.9 77.3l-1.8-3.4 1.9-1.7 1.8 3.4z" fill="#6f0"/>
<path d="M568.9 86l-1.8-2.9 1.8-1.9 1.8 2.9z" fill="#0f2"/>
<path d="M585.4 90.2l-1.9-2.3 1.8-2.3 1.9 2.3zM581.7 90.2l-1.8-2.4 1.8-2.2 1.8 2.3z" fill="#0f6"/>
<path d="M552.4 72l-1.8-3.7 1.9-1.6 1.8 3.7z" fill="#9f0"/>
<path d="M589 90l-1.8-2.1 1.8-2.5 1.8 2.2z" fill="#0f6"/>
<path d="M601.8 85.4l-1.8-1.8 1.8-2.8 1.8 1.7z" fill="#0f1"/>
<path d="M578 89.9l-1.8-2.5 1.8-2.1 1.9 2.5z" fill="#0f6"/>
<path d="M592.7 89.6l-1.9-2 1.8-2.6 1.9 2z" fill="#0f5"/>
<path d="M559.7 80.5l-1.8-3.2 1.9-1.7 1.8 3.2z" fill="#3f0"/>
<path d="M565.2 85l-1.8-3 1.9-1.9 1.8 3z" fill="#0f1"/>
<path d="M574.4 89.5l-1.8-2.7 1.8-2 1.8 2.6z" fill="#0f5"/>
<path d="M554.3 75.5l-1.9-3.5 1.9-1.6 1.8 3.5z" fill="#7f0"/>
<path d="M596.4 88.9l-1.9-1.9 1.8-2.6 1.9 1.9z" fill="#0f5"/>
<path d="M605.5 84.2l-1.9-1.7 1.8-2.9 1.9 1.7z" fill="#0f0"/>
<path d="M570.7 88.8l-1.8-2.8 1.8-1.9 1.9 2.7z" fill="#0f5"/>
<path d="M561.6 83.7l-1.9-3.2 1.9-1.7 1.8 3.2z" fill="#0f0"/>
<path d="M600 88.1l-1.8-1.8 1.8-2.7 1.8 1.8z" fill="#0f4"/>
<path d="M583.5 92.4l-1.8-2.2 1.8-2.3 1.9 2.3z" fill="#0f8"/>
<path d="M556.1 78.9l-1.8-3.4 1.8-1.6 1.8 3.4z" fill="#4f0"/>
<path d="M587.2 92.3l-1.8-2.1 1.8-2.3 1.8 2.1z" fill="#0f8"/>
<path d="M567.1 87.8l-1.9-2.8 1.9-1.9 1.8 2.9z" fill="#0f3"/>
<path d="M579.9 92.3l-1.9-2.4 1.9-2.1 1.8 2.4zM590.9 92l-1.9-2 1.8-2.4 1.9 2zM576.2 92l-1.8-2.5 1.8-2.1 1.8 2.5z" fill="#0f8"/>
<path d="M603.7 87l-1.9-1.6 1.8-2.9 1.9 1.7z" fill="#0f3"/>
<path d="M550.6 73.4l-1.9-3.6 1.9-1.5 1.8 3.7z" fill="#8f0"/>
<path d="M594.6 91.5l-1.9-1.9 1.8-2.6 1.9 1.9zM572.6 91.4l-1.9-2.6 1.9-2 1.8 2.7z" fill="#0f7"/>
<path d="M563.4 86.7l-1.8-3 1.8-1.7 1.8 3z" fill="#0f2"/>
<path d="M557.9 82.1l-1.8-3.2 1.8-1.6 1.8 3.2z" fill="#1f0"/>
<path d="M598.2 90.7l-1.8-1.8 1.8-2.6 1.8 1.8zM568.9 90.6l-1.8-2.8 1.8-1.8 1.8 2.8z" fill="#0f6"/>
<path d="M552.4 77l-1.8-3.6 1.8-1.4 1.9 3.5z" fill="#7f0"/>
<path d="M607.4 85.7l-1.9-1.5 1.8-2.9 1.9 1.5z" fill="#0f1"/>
<path d="M585.4 94.5l-1.9-2.1 1.9-2.2 1.8 2.1zM581.7 94.6l-1.8-2.3 1.8-2.1 1.8 2.2zM589.1 94.3l-1.9-2 1.8-2.3 1.9 2z" fill="#0fa"/>
<path d="M601.9 89.7l-1.9-1.6 1.8-2.7 1.9 1.6z" fill="#0f5"/>
<path d="M578.1 94.3l-1.9-2.3 1.8-2.1 1.9 2.4z" fill="#0fa"/>
<path d="M559.7 85.3l-1.8-3.2 1.8-1.6 1.9 3.2z" fill="#0f1"/>
<path d="M565.2 89.5l-1.8-2.8 1.8-1.7 1.9 2.8z" fill="#0f5"/>
<path d="M554.2 80.4l-1.8-3.4 1.9-1.5 1.8 3.4z" fill="#3f0"/>
<path d="M592.7 93.9l-1.8-1.9 1.8-2.4 1.9 1.9zM574.4 93.9l-1.8-2.5 1.8-1.9 1.8 2.5zM596.4 93.2l-1.8-1.7 1.8-2.6 1.8 1.8z" fill="#0f9"/>
<path d="M570.7 93.2l-1.8-2.6 1.8-1.8 1.9 2.6z" fill="#0f8"/>
<path d="M605.6 88.5l-1.9-1.5 1.8-2.8 1.9 1.5z" fill="#0f4"/>
<path d="M548.7 74.8l-1.8-3.6 1.8-1.4 1.9 3.6z" fill="#8f0"/>
<path d="M561.5 88.3l-1.8-3 1.9-1.6 1.8 3z" fill="#0f3"/>
<path d="M556 83.6l-1.8-3.2 1.9-1.5 1.8 3.2z" fill="#0f0"/>
<path d="M600.1 92.3l-1.9-1.6 1.8-2.6 1.9 1.6z" fill="#0f8"/>
<path d="M567 92.3l-1.8-2.8 1.9-1.7 1.8 2.8z" fill="#0f7"/>
<path d="M583.6 96.7l-1.9-2.1 1.8-2.2 1.9 2.1zM579.9 96.6l-1.8-2.3 1.8-2 1.8 2.3zM587.2 96.5l-1.8-2 1.8-2.2 1.9 2z" fill="#0fc"/>
<path d="M550.5 78.3l-1.8-3.5 1.9-1.4 1.8 3.6z" fill="#5f0"/>
<path d="M609.3 87.1l-1.9-1.4 1.8-2.9 1.9 1.4z" fill="#0f2"/>
<path d="M576.2 96.3l-1.8-2.4 1.8-1.9 1.9 2.3zM590.9 96.2l-1.8-1.9 1.8-2.3 1.8 1.9z" fill="#0fb"/>
<path d="M603.8 91.2l-1.9-1.5 1.8-2.7 1.9 1.5z" fill="#0f6"/>
<path d="M557.8 86.8l-1.8-3.2 1.9-1.5 1.8 3.2z" fill="#0f2"/>
<path d="M572.5 95.7l-1.8-2.5 1.9-1.8 1.8 2.5zM594.6 95.6l-1.9-1.7 1.9-2.4 1.8 1.7z" fill="#0fb"/>
<path d="M563.3 91.2l-1.8-2.9 1.9-1.6 1.8 2.8z" fill="#0f6"/>
<path d="M552.3 81.7l-1.8-3.4 1.9-1.3 1.8 3.4z" fill="#2f0"/>
<path d="M598.3 94.8l-1.9-1.6 1.8-2.5 1.9 1.6zM568.9 94.9l-1.9-2.6 1.9-1.7 1.8 2.6z" fill="#0fa"/>
<path d="M607.5 89.9l-1.9-1.4 1.8-2.8 1.9 1.4zM559.7 89.8l-1.9-3 1.9-1.5 1.8 3z" fill="#0f5"/>
<path d="M546.8 76.1l-1.8-3.7 1.9-1.2 1.8 3.6z" fill="#7f0"/>
<path d="M581.7 98.7l-1.8-2.1 1.8-2 1.9 2.1zM585.4 98.7l-1.8-2 1.8-2.2 1.8 2z" fill="#0fd"/>
<path d="M554.1 85l-1.8-3.3 1.9-1.3 1.8 3.2z" fill="#0f0"/>
<path d="M578.1 98.5l-1.9-2.2 1.9-2 1.8 2.3z" fill="#0fd"/>
<path d="M602 93.8l-1.9-1.5 1.8-2.6 1.9 1.5z" fill="#0f9"/>
<path d="M589.1 98.4l-1.9-1.9 1.9-2.2 1.8 1.9z" fill="#0fd"/>
<path d="M565.2 93.9l-1.9-2.7 1.9-1.7 1.8 2.8z" fill="#0f9"/>
<path d="M574.4 98.1l-1.9-2.4 1.9-1.8 1.8 2.4zM592.8 97.9l-1.9-1.7 1.8-2.3 1.9 1.7z" fill="#0fd"/>
<path d="M548.6 79.6l-1.8-3.5 1.9-1.3 1.8 3.5z" fill="#5f0"/>
<path d="M611.2 88.4l-1.9-1.3 1.8-2.9 1.9 1.3z" fill="#0f3"/>
<path d="M570.7 97.4l-1.8-2.5 1.8-1.7 1.8 2.5zM596.5 97.3l-1.9-1.7 1.8-2.4 1.9 1.6z" fill="#0fc"/>
<path d="M605.7 92.6l-1.9-1.4 1.8-2.7 1.9 1.4z" fill="#0f7"/>
<path d="M556 88.1l-1.9-3.1 1.9-1.4 1.8 3.2z" fill="#0f3"/>
<path d="M561.5 92.7l-1.8-2.9 1.8-1.5 1.8 2.9z" fill="#0f7"/>
<path d="M550.4 83l-1.8-3.4 1.9-1.3 1.8 3.4z" fill="#1f0"/>
<path d="M567 96.5l-1.8-2.6 1.8-1.6 1.9 2.6zM600.2 96.3l-1.9-1.5 1.8-2.5 1.9 1.5z" fill="#0fb"/>
<path d="M583.6 100.7l-1.9-2 1.9-2 1.8 2zM579.9 100.6l-1.8-2.1 1.8-1.9 1.8 2.1zM587.3 100.5l-1.9-1.8 1.8-2.2 1.9 1.9z" fill="#0ef"/>
<path d="M609.4 91.2l-1.9-1.3 1.8-2.8 1.9 1.3z" fill="#0f6"/>
<path d="M576.2 100.3l-1.8-2.2 1.8-1.8 1.9 2.2z" fill="#0fe"/>
<path d="M557.8 91.2l-1.8-3.1 1.8-1.3 1.9 3z" fill="#0f6"/>
<path d="M591 100.2l-1.9-1.8 1.8-2.2 1.9 1.7z" fill="#0fe"/>
<path d="M544.9 77.2l-1.9-3.7 2-1.1 1.8 3.7z" fill="#7f0"/>
<path d="M563.3 95.4l-1.8-2.7 1.8-1.5 1.9 2.7z" fill="#0fa"/>
<path d="M552.2 86.3l-1.8-3.3 1.9-1.3 1.8 3.3z" fill="#0f1"/>
<path d="M603.9 95.2l-1.9-1.4 1.8-2.6 1.9 1.4z" fill="#0fa"/>
<path d="M572.5 99.8l-1.8-2.4 1.8-1.7 1.9 2.4zM594.7 99.6l-1.9-1.7 1.8-2.3 1.9 1.7z" fill="#0fe"/>
<path d="M568.8 99l-1.8-2.5 1.9-1.6 1.8 2.5z" fill="#0fd"/>
<path d="M546.7 80.8l-1.8-3.6 1.9-1.1 1.8 3.5z" fill="#4f0"/>
<path d="M598.4 98.7l-1.9-1.4 1.8-2.5 1.9 1.5z" fill="#0fd"/>
<path d="M613.1 89.5l-1.9-1.1 1.8-2.9 1.9 1.1z" fill="#0f4"/>
<path d="M559.6 94l-1.8-2.8 1.9-1.4 1.8 2.9zM607.6 93.9l-1.9-1.3 1.8-2.7 1.9 1.3z" fill="#0f8"/>
<path d="M554.1 89.4l-1.9-3.1 1.9-1.3 1.9 3.1z" fill="#0f4"/>
<path d="M581.8 102.6l-1.9-2 1.8-1.9 1.9 2zM585.5 102.6l-1.9-1.9 1.8-2 1.9 1.8z" fill="#0df"/>
<path d="M565.1 98l-1.8-2.6 1.9-1.5 1.8 2.6z" fill="#0fc"/>
<path d="M578.1 102.4l-1.9-2.1 1.9-1.8 1.8 2.1z" fill="#0df"/>
<path d="M548.5 84.2l-1.8-3.4 1.9-1.2 1.8 3.4z" fill="#1f0"/>
<path d="M602.1 97.7l-1.9-1.4 1.8-2.5 1.9 1.4z" fill="#0fc"/>
<path d="M589.2 102.3l-1.9-1.8 1.8-2.1 1.9 1.8z" fill="#0df"/>
<path d="M574.4 102l-1.9-2.2 1.9-1.7 1.8 2.2zM592.9 101.8l-1.9-1.6 1.8-2.3 1.9 1.7z" fill="#0ef"/>
<path d="M611.3 92.3l-1.9-1.1 1.8-2.8 1.9 1.1zM555.9 92.4l-1.8-3 1.9-1.3 1.8 3.1z" fill="#0f7"/>
<path d="M570.7 101.4l-1.9-2.4 1.9-1.6 1.8 2.4z" fill="#0ef"/>
<path d="M561.4 96.8l-1.8-2.8 1.9-1.3 1.8 2.7zM605.8 96.5l-1.9-1.3 1.8-2.6 1.9 1.3z" fill="#0fb"/>
<path d="M596.6 101.1l-1.9-1.5 1.8-2.3 1.9 1.4z" fill="#0ef"/>
<path d="M550.3 87.4l-1.8-3.2 1.9-1.2 1.8 3.3z" fill="#0f2"/>
<path d="M542.9 78.2l-1.8-3.6 1.9-1.1 1.9 3.7z" fill="#7f0"/>
<path d="M567 100.5l-1.9-2.5 1.9-1.5 1.8 2.5zM600.3 100.1l-1.9-1.4 1.8-2.4 1.9 1.4z" fill="#0fe"/>
<path d="M544.8 81.8l-1.9-3.6 2-1 1.8 3.6z" fill="#3f0"/>
<path d="M583.6 104.5l-1.8-1.9 1.8-1.9 1.9 1.9z" fill="#0cf"/>
<path d="M557.7 95.3l-1.8-2.9 1.9-1.2 1.8 2.8z" fill="#0f9"/>
<path d="M579.9 104.4l-1.8-2 1.8-1.8 1.9 2z" fill="#0cf"/>
<path d="M615.1 90.5l-2-1 1.8-2.9 2 1.1z" fill="#0f5"/>
<path d="M587.3 104.3l-1.8-1.7 1.8-2.1 1.9 1.8z" fill="#0cf"/>
<path d="M609.5 95l-1.9-1.1 1.8-2.7 1.9 1.1z" fill="#0f9"/>
<path d="M552.2 90.6l-1.9-3.2 1.9-1.1 1.9 3.1z" fill="#0f5"/>
<path d="M576.2 104.2l-1.8-2.2 1.8-1.7 1.9 2.1z" fill="#0cf"/>
<path d="M563.3 99.4l-1.9-2.6 1.9-1.4 1.8 2.6z" fill="#0fd"/>
<path d="M591 103.9l-1.8-1.6 1.8-2.1 1.9 1.6z" fill="#0cf"/>
<path d="M604 99l-1.9-1.3 1.8-2.5 1.9 1.3z" fill="#0fd"/>
<path d="M572.5 103.7l-1.8-2.3 1.8-1.6 1.9 2.2z" fill="#0cf"/>
<path d="M546.6 85.2l-1.8-3.4 1.9-1 1.8 3.4z" fill="#0f0"/>
<path d="M594.7 103.3l-1.8-1.5 1.8-2.2 1.9 1.5zM568.8 102.9l-1.8-2.4 1.8-1.5 1.9 2.4z" fill="#0df"/>
<path d="M554 93.6l-1.8-3 1.9-1.2 1.8 3zM613.3 93.3l-2-1 1.8-2.8 2 1z" fill="#0f7"/>
<path d="M559.5 98.1l-1.8-2.8 1.9-1.3 1.8 2.8z" fill="#0fc"/>
<path d="M598.5 102.4l-1.9-1.3 1.8-2.4 1.9 1.4z" fill="#0ef"/>
<path d="M607.7 97.6l-1.9-1.1 1.8-2.6 1.9 1.1z" fill="#0fb"/>
<path d="M548.4 88.5l-1.8-3.3 1.9-1 1.8 3.2z" fill="#0f2"/>
<path d="M541 79.2l-1.8-3.7 1.9-.9 1.8 3.6z" fill="#6f0"/>
<path d="M565.1 101.9l-1.8-2.5 1.8-1.4 1.9 2.5z" fill="#0ef"/>
<path d="M581.8 106.3l-1.9-1.9 1.9-1.8 1.8 1.9zM585.5 106.2l-1.9-1.7 1.9-1.9 1.8 1.7z" fill="#0af"/>
<path d="M578.1 106.2l-1.9-2 1.9-1.8 1.8 2z" fill="#0bf"/>
<path d="M602.2 101.4l-1.9-1.3 1.8-2.4 1.9 1.3z" fill="#0ef"/>
<path d="M589.2 105.9l-1.9-1.6 1.9-2 1.8 1.6zM574.4 105.8l-1.9-2.1 1.9-1.7 1.8 2.2z" fill="#0bf"/>
<path d="M555.8 96.5l-1.8-2.9 1.9-1.2 1.8 2.9z" fill="#0fa"/>
<path d="M542.8 82.7l-1.8-3.5 1.9-1 1.9 3.6z" fill="#3f0"/>
<path d="M592.9 105.4l-1.9-1.5 1.9-2.1 1.8 1.5z" fill="#0bf"/>
<path d="M550.3 91.6l-1.9-3.1 1.9-1.1 1.9 3.2zM617 91.4l-1.9-.9 1.8-2.8 1.9.8z" fill="#0f5"/>
<path d="M611.5 96l-2-1 1.8-2.7 2 1z" fill="#0fa"/>
<path d="M561.4 100.7l-1.9-2.6 1.9-1.3 1.9 2.6z" fill="#0fe"/>
<path d="M570.7 105.2l-1.9-2.3 1.9-1.5 1.8 2.3z" fill="#0cf"/>
<path d="M605.9 100.1l-1.9-1.1 1.8-2.5 1.9 1.1z" fill="#0fd"/>
<path d="M596.6 104.6l-1.9-1.3 1.9-2.2 1.9 1.3z" fill="#0cf"/>
<path d="M544.7 86.1l-1.9-3.4 2-.9 1.8 3.4z" fill="#0f0"/>
<path d="M566.9 104.3l-1.8-2.4 1.9-1.4 1.8 2.4z" fill="#0cf"/>
<path d="M557.7 99.3l-1.9-2.8 1.9-1.2 1.8 2.8z" fill="#0fd"/>
<path d="M552.1 94.7l-1.8-3.1 1.9-1 1.8 3z" fill="#0f8"/>
<path d="M600.4 103.7l-1.9-1.3 1.8-2.3 1.9 1.3z" fill="#0df"/>
<path d="M615.2 94.2l-1.9-.9 1.8-2.8 1.9.9z" fill="#0f8"/>
<path d="M583.6 108l-1.8-1.7 1.8-1.8 1.9 1.7zM579.9 108l-1.8-1.8 1.8-1.8 1.9 1.9z" fill="#09f"/>
<path d="M609.7 98.6l-2-1 1.8-2.6 2 1z" fill="#0fc"/>
<path d="M587.4 107.8l-1.9-1.6 1.8-1.9 1.9 1.6z" fill="#09f"/>
<path d="M563.2 103.2l-1.8-2.5 1.9-1.3 1.8 2.5z" fill="#0df"/>
<path d="M546.5 89.4l-1.8-3.3 1.9-.9 1.8 3.3z" fill="#0f3"/>
<path d="M576.2 107.8l-1.8-2 1.8-1.6 1.9 2z" fill="#0af"/>
<path d="M539.1 80l-1.9-3.7 2-.8 1.8 3.7z" fill="#6f0"/>
<path d="M591.1 107.4l-1.9-1.5 1.8-2 1.9 1.5zM572.5 107.3l-1.8-2.1 1.8-1.5 1.9 2.1z" fill="#0af"/>
<path d="M604.1 102.5l-1.9-1.1 1.8-2.4 1.9 1.1z" fill="#0ef"/>
<path d="M594.8 106.8l-1.9-1.4 1.8-2.1 1.9 1.3z" fill="#0af"/>
<path d="M553.9 97.6l-1.8-2.9 1.9-1.1 1.8 2.9z" fill="#0fb"/>
<path d="M568.8 106.6l-1.9-2.3 1.9-1.4 1.9 2.3z" fill="#0bf"/>
<path d="M559.5 101.9l-1.8-2.6 1.8-1.2 1.9 2.6z" fill="#0ff"/>
<path d="M540.9 83.5l-1.8-3.5 1.9-.8 1.8 3.5z" fill="#2f0"/>
<path d="M548.3 92.6l-1.8-3.2 1.9-.9 1.9 3.1z" fill="#0f6"/>
<path d="M613.4 96.9l-1.9-.9 1.8-2.7 1.9.9z" fill="#0fa"/>
<path d="M619 92.2l-2-.8 1.8-2.9 2 .8z" fill="#0f6"/>
<path d="M598.5 105.9l-1.9-1.3 1.9-2.2 1.9 1.3z" fill="#0bf"/>
<path d="M607.8 101.1l-1.9-1 1.8-2.5 2 1z" fill="#0fe"/>
<path d="M565.1 105.6l-1.9-2.4 1.9-1.3 1.8 2.4z" fill="#0cf"/>
<path d="M542.7 87l-1.8-3.5 1.9-.8 1.9 3.4z" fill="#0f0"/>
<path d="M581.8 109.8l-1.9-1.8 1.9-1.7 1.8 1.7zM585.5 109.7l-1.9-1.7 1.9-1.8 1.9 1.6zM578.1 109.6l-1.9-1.8 1.9-1.6 1.8 1.8z" fill="#08f"/>
<path d="M555.7 100.4l-1.8-2.8 1.9-1.1 1.9 2.8z" fill="#0fd"/>
<path d="M602.3 104.8l-1.9-1.1 1.8-2.3 1.9 1.1z" fill="#0cf"/>
<path d="M550.2 95.6l-1.9-3 2-1 1.8 3.1z" fill="#0f9"/>
<path d="M589.2 109.3l-1.8-1.5 1.8-1.9 1.9 1.5z" fill="#08f"/>
<path d="M574.4 109.3l-1.9-2 1.9-1.5 1.8 2z" fill="#09f"/>
<path d="M561.3 104.4l-1.8-2.5 1.9-1.2 1.8 2.5z" fill="#0df"/>
<path d="M617.2 94.9l-2-.7 1.8-2.8 2 .8z" fill="#0f8"/>
<path d="M593 108.8l-1.9-1.4 1.8-2 1.9 1.4z" fill="#09f"/>
<path d="M611.6 99.5l-1.9-.9 1.8-2.6 1.9.9z" fill="#0fc"/>
<path d="M570.6 108.7l-1.8-2.1 1.9-1.4 1.8 2.1z" fill="#09f"/>
<path d="M544.6 90.3l-1.9-3.3 2-.9 1.8 3.3z" fill="#0f3"/>
<path d="M537.1 80.7l-1.8-3.8 1.9-.6 1.9 3.7z" fill="#5f0"/>
<path d="M606 103.5l-1.9-1 1.8-2.4 1.9 1z" fill="#0df"/>
<path d="M596.7 108l-1.9-1.2 1.8-2.2 1.9 1.3zM566.9 107.9l-1.8-2.3 1.8-1.3 1.9 2.3z" fill="#0af"/>
<path d="M552 98.5l-1.8-2.9 1.9-.9 1.8 2.9z" fill="#0fb"/>
<path d="M557.6 103l-1.9-2.6 2-1.1 1.8 2.6z" fill="#0ef"/>
<path d="M539 84.2l-1.9-3.5 2-.7 1.8 3.5z" fill="#2f0"/>
<path d="M546.4 93.4l-1.8-3.1 1.9-.9 1.8 3.2z" fill="#0f6"/>
<path d="M600.5 107l-2-1.1 1.9-2.2 1.9 1.1z" fill="#0bf"/>
<path d="M615.4 97.6l-2-.7 1.8-2.7 2 .7z" fill="#0fa"/>
<path d="M621 92.8l-2-.6 1.8-2.9 2 .6z" fill="#0f6"/>
<path d="M583.7 111.4l-1.9-1.6 1.8-1.8 1.9 1.7z" fill="#07f"/>
<path d="M563.2 106.8l-1.9-2.4 1.9-1.2 1.9 2.4z" fill="#0bf"/>
<path d="M579.9 111.4l-1.8-1.8 1.8-1.6 1.9 1.8z" fill="#07f"/>
<path d="M609.8 101.9l-2-.8 1.9-2.5 1.9.9z" fill="#0fe"/>
<path d="M587.4 111.1l-1.9-1.4 1.9-1.9 1.8 1.5zM576.2 111.2l-1.8-1.9 1.8-1.5 1.9 1.8z" fill="#07f"/>
<path d="M591.1 110.7l-1.9-1.4 1.9-1.9 1.9 1.4z" fill="#08f"/>
<path d="M540.8 87.7l-1.8-3.5 1.9-.7 1.8 3.5z" fill="#0f0"/>
<path d="M572.5 110.7l-1.9-2 1.9-1.4 1.9 2z" fill="#08f"/>
<path d="M553.8 101.3l-1.8-2.8 1.9-.9 1.8 2.8z" fill="#0fe"/>
<path d="M604.2 105.8l-1.9-1 1.8-2.3 1.9 1z" fill="#0cf"/>
<path d="M548.2 96.5l-1.8-3.1 1.9-.8 1.9 3z" fill="#0f9"/>
<path d="M559.4 105.5l-1.8-2.5 1.9-1.1 1.8 2.5z" fill="#0cf"/>
<path d="M594.9 110l-1.9-1.2 1.8-2 1.9 1.2zM568.8 110l-1.9-2.1 1.9-1.3 1.8 2.1z" fill="#08f"/>
<path d="M619.1 95.6l-1.9-.7 1.8-2.7 2 .6z" fill="#0f8"/>
<path d="M613.5 100.2l-1.9-.7 1.8-2.6 2 .7z" fill="#0fd"/>
<path d="M542.6 91l-1.8-3.3 1.9-.7 1.9 3.3z" fill="#0f3"/>
<path d="M598.6 109.1l-1.9-1.1 1.8-2.1 2 1.1z" fill="#09f"/>
<path d="M608 104.3l-2-.8 1.8-2.4 2 .8z" fill="#0df"/>
<path d="M565 109.1l-1.8-2.3 1.9-1.2 1.8 2.3z" fill="#09f"/>
<path d="M535.1 81.2l-1.8-3.7 2-.6 1.8 3.8z" fill="#5f0"/>
<path d="M550.1 99.4l-1.9-2.9 2-.9 1.8 2.9z" fill="#0fc"/>
<path d="M555.7 104l-1.9-2.7 1.9-.9 1.9 2.6z" fill="#0ef"/>
<path d="M581.8 113l-1.9-1.6 1.9-1.6 1.9 1.6zM578.1 112.9l-1.9-1.7 1.9-1.6 1.8 1.8zM585.6 112.9l-1.9-1.5 1.8-1.7 1.9 1.4z" fill="#06f"/>
<path d="M602.4 108l-1.9-1 1.8-2.2 1.9 1z" fill="#0af"/>
<path d="M544.5 94.2l-1.9-3.2 2-.7 1.8 3.1z" fill="#0f6"/>
<path d="M574.3 112.6l-1.8-1.9 1.9-1.4 1.8 1.9zM589.3 112.5l-1.9-1.4 1.8-1.8 1.9 1.4z" fill="#06f"/>
<path d="M537 84.8l-1.9-3.6 2-.5 1.9 3.5z" fill="#2f0"/>
<path d="M561.3 107.9l-1.9-2.4 1.9-1.1 1.9 2.4z" fill="#0af"/>
<path d="M617.3 98.2l-1.9-.6 1.8-2.7 1.9.7z" fill="#0fb"/>
<path d="M611.7 102.7l-1.9-.8 1.8-2.4 1.9.7z" fill="#0fe"/>
<path d="M622.9 93.3l-1.9-.5 1.8-2.9 2 .5z" fill="#0f6"/>
<path d="M570.6 112l-1.8-2 1.8-1.3 1.9 2zM593 111.9l-1.9-1.2 1.9-1.9 1.9 1.2z" fill="#07f"/>
<path d="M551.9 102.2l-1.8-2.8 1.9-.9 1.8 2.8z" fill="#0fe"/>
<path d="M606.1 106.6l-1.9-.8 1.8-2.3 2 .8z" fill="#0bf"/>
<path d="M538.8 88.3l-1.8-3.5 2-.6 1.8 3.5z" fill="#0f1"/>
<path d="M596.8 111.1l-1.9-1.1 1.8-2 1.9 1.1zM566.9 111.2l-1.9-2.1 1.9-1.2 1.9 2.1z" fill="#08f"/>
<path d="M557.5 106.5l-1.8-2.5 1.9-1 1.8 2.5z" fill="#0cf"/>
<path d="M546.3 97.2l-1.8-3 1.9-.8 1.8 3.1z" fill="#0f9"/>
<path d="M615.5 100.8l-2-.6 1.9-2.6 1.9.6z" fill="#0fd"/>
<path d="M600.5 110.1l-1.9-1 1.9-2.1 1.9 1z" fill="#09f"/>
<path d="M621.1 96l-2-.4 1.9-2.8 1.9.5z" fill="#0f8"/>
<path d="M563.1 110.2l-1.8-2.3 1.9-1.1 1.8 2.3z" fill="#09f"/>
<path d="M540.7 91.6l-1.9-3.3 2-.6 1.8 3.3z" fill="#0f4"/>
<path d="M580 114.5l-1.9-1.6 1.8-1.5 1.9 1.6zM583.7 114.5l-1.9-1.5 1.9-1.6 1.9 1.5z" fill="#05f"/>
<path d="M609.9 105.1l-1.9-.8 1.8-2.4 1.9.8z" fill="#0df"/>
<path d="M576.2 114.3l-1.9-1.7 1.9-1.4 1.9 1.7zM587.5 114.2l-1.9-1.3 1.8-1.8 1.9 1.4z" fill="#05f"/>
<path d="M533.2 81.7l-1.9-3.7 2-.5 1.8 3.7z" fill="#5f0"/>
<path d="M553.8 104.8l-1.9-2.6 1.9-.9 1.9 2.7z" fill="#0df"/>
<path d="M548.1 100.1l-1.8-2.9 1.9-.7 1.9 2.9z" fill="#0fc"/>
<path d="M572.5 113.9l-1.9-1.9 1.9-1.3 1.8 1.9zM591.2 113.7l-1.9-1.2 1.8-1.8 1.9 1.2z" fill="#06f"/>
<path d="M604.3 108.8l-1.9-.8 1.8-2.2 1.9.8zM559.4 108.9l-1.9-2.4 1.9-1 1.9 2.4z" fill="#0af"/>
<path d="M542.5 94.8l-1.8-3.2 1.9-.6 1.9 3.2z" fill="#0f7"/>
<path d="M568.7 113.2l-1.8-2 1.9-1.2 1.8 2zM595 113l-2-1.1 1.9-1.9 1.9 1.1z" fill="#06f"/>
<path d="M535 85.3l-1.8-3.6 1.9-.5 1.9 3.6z" fill="#2f0"/>
<path d="M619.3 98.7l-2-.5 1.8-2.6 2 .4z" fill="#0fb"/>
<path d="M613.7 103.3l-2-.6 1.8-2.5 2 .6z" fill="#0ef"/>
<path d="M624.9 93.6l-2-.3 1.9-2.9 2 .4z" fill="#0f6"/>
<path d="M565 112.3l-1.9-2.1 1.9-1.1 1.9 2.1zM598.7 112.1l-1.9-1 1.8-2 1.9 1z" fill="#07f"/>
<path d="M550 102.9l-1.9-2.8 2-.7 1.8 2.8z" fill="#0fe"/>
<path d="M608.1 107.4l-2-.8 1.9-2.3 1.9.8zM555.6 107.4l-1.8-2.6 1.9-.8 1.8 2.5z" fill="#0bf"/>
<path d="M536.9 88.7l-1.9-3.4 2-.5 1.8 3.5z" fill="#0f1"/>
<path d="M544.3 97.8l-1.8-3 2-.6 1.8 3z" fill="#0f9"/>
<path d="M581.8 116l-1.8-1.5 1.8-1.5 1.9 1.5zM578.1 115.9l-1.9-1.6 1.9-1.4 1.9 1.6zM585.6 115.8l-1.9-1.3 1.9-1.6 1.9 1.3z" fill="#04f"/>
<path d="M561.2 111.2l-1.8-2.3 1.9-1 1.8 2.3zM602.5 110.9l-2-.8 1.9-2.1 1.9.8z" fill="#08f"/>
<path d="M574.3 115.6l-1.8-1.7 1.8-1.3 1.9 1.7zM589.4 115.5l-1.9-1.3 1.8-1.7 1.9 1.2z" fill="#05f"/>
<path d="M617.5 101.3l-2-.5 1.8-2.6 2 .5z" fill="#0fd"/>
<path d="M538.7 92.1l-1.8-3.4 1.9-.4 1.9 3.3z" fill="#0f4"/>
<path d="M623.1 96.4l-2-.4 1.8-2.7 2 .3z" fill="#0f8"/>
<path d="M611.9 105.7l-2-.6 1.8-2.4 2 .6z" fill="#0df"/>
<path d="M570.6 115.1l-1.9-1.9 1.9-1.2 1.9 1.9zM593.1 114.8l-1.9-1.1 1.8-1.8 2 1.1z" fill="#05f"/>
<path d="M551.8 105.6l-1.8-2.7 1.9-.7 1.9 2.6z" fill="#0df"/>
<path d="M546.2 100.8l-1.9-3 2-.6 1.8 2.9z" fill="#0fc"/>
<path d="M531.2 82l-1.9-3.7 2-.3 1.9 3.7z" fill="#5f0"/>
<path d="M557.4 109.8l-1.8-2.4 1.9-.9 1.9 2.4zM606.3 109.5l-2-.7 1.8-2.2 2 .8z" fill="#0af"/>
<path d="M566.8 114.3l-1.8-2 1.9-1.1 1.8 2zM596.9 114l-1.9-1 1.8-1.9 1.9 1z" fill="#06f"/>
<path d="M540.5 95.3l-1.8-3.2 2-.5 1.8 3.2z" fill="#0f7"/>
<path d="M533 85.6l-1.8-3.6 2-.3 1.8 3.6z" fill="#2f0"/>
<path d="M563.1 113.3l-1.9-2.1 1.9-1 1.9 2.1z" fill="#07f"/>
<path d="M615.7 103.7l-2-.4 1.8-2.5 2 .5z" fill="#0ef"/>
<path d="M621.3 99.1l-2-.4 1.8-2.7 2 .4z" fill="#0fa"/>
<path d="M600.6 112.9l-1.9-.8 1.8-2 2 .8z" fill="#07f"/>
<path d="M548 103.6l-1.8-2.8 1.9-.7 1.9 2.8z" fill="#0fe"/>
<path d="M580 117.4l-1.9-1.5 1.9-1.4 1.8 1.5z" fill="#03f"/>
<path d="M610.1 107.9l-2-.5 1.8-2.3 2 .6z" fill="#0bf"/>
<path d="M583.7 117.4l-1.9-1.4 1.9-1.5 1.9 1.3z" fill="#03f"/>
<path d="M553.7 108.1l-1.9-2.5 2-.8 1.8 2.6z" fill="#0bf"/>
<path d="M627 93.9l-2.1-.3 1.9-2.8 2 .2z" fill="#0f5"/>
<path d="M576.2 117.3l-1.9-1.7 1.9-1.3 1.9 1.6zM587.5 117.1l-1.9-1.3 1.9-1.6 1.9 1.3z" fill="#04f"/>
<path d="M534.9 89.1l-1.9-3.5 2-.3 1.9 3.4z" fill="#0f0"/>
<path d="M542.4 98.3l-1.9-3 2-.5 1.8 3z" fill="#0f9"/>
<path d="M572.5 116.9l-1.9-1.8 1.9-1.2 1.8 1.7z" fill="#04f"/>
<path d="M559.3 112.1l-1.9-2.3 2-.9 1.8 2.3z" fill="#08f"/>
<path d="M591.3 116.6l-1.9-1.1 1.8-1.8 1.9 1.1z" fill="#04f"/>
<path d="M604.4 111.6l-1.9-.7 1.8-2.1 2 .7z" fill="#08f"/>
<path d="M568.7 116.2l-1.9-1.9 1.9-1.1 1.9 1.9zM595 115.8l-1.9-1 1.9-1.8 1.9 1z" fill="#05f"/>
<path d="M619.5 101.6l-2-.3 1.8-2.6 2 .4z" fill="#0fd"/>
<path d="M536.7 92.4l-1.8-3.3 2-.4 1.8 3.4z" fill="#0f4"/>
<path d="M613.9 106.1l-2-.4 1.8-2.4 2 .4zM549.9 106.2l-1.9-2.6 2-.7 1.8 2.7z" fill="#0df"/>
<path d="M625.1 96.6l-2-.2 1.8-2.8 2.1.3z" fill="#0f8"/>
<path d="M564.9 115.3l-1.8-2 1.9-1 1.8 2z" fill="#05f"/>
<path d="M544.2 101.3l-1.8-3 1.9-.5 1.9 3z" fill="#0fc"/>
<path d="M555.5 110.6l-1.8-2.5 1.9-.7 1.8 2.4z" fill="#09f"/>
<path d="M608.2 110.1l-1.9-.6 1.8-2.1 2 .5z" fill="#0af"/>
<path d="M598.8 114.8l-1.9-.8 1.8-1.9 1.9.8z" fill="#06f"/>
<path d="M529.2 82.2l-1.9-3.7 2-.2 1.9 3.7z" fill="#5f0"/>
<path d="M538.6 95.7l-1.9-3.3 2-.3 1.8 3.2z" fill="#0f7"/>
<path d="M561.1 114.2l-1.8-2.1 1.9-.9 1.9 2.1z" fill="#06f"/>
<path d="M581.9 118.8l-1.9-1.4 1.8-1.4 1.9 1.4zM578.1 118.8l-1.9-1.5 1.9-1.4 1.9 1.5zM585.6 118.6l-1.9-1.2 1.9-1.6 1.9 1.3zM574.3 118.5l-1.8-1.6 1.8-1.3 1.9 1.7z" fill="#03f"/>
<path d="M531 85.9l-1.8-3.7 2-.2 1.8 3.6z" fill="#2f0"/>
<path d="M602.6 113.7l-2-.8 1.9-2 1.9.7z" fill="#07f"/>
<path d="M617.7 104.1l-2-.4 1.8-2.4 2 .3z" fill="#0fe"/>
<path d="M589.4 118.2l-1.9-1.1 1.9-1.6 1.9 1.1z" fill="#03f"/>
<path d="M623.3 99.3l-2-.2 1.8-2.7 2 .2z" fill="#0fa"/>
<path d="M551.7 108.8l-1.8-2.6 1.9-.6 1.9 2.5z" fill="#0bf"/>
<path d="M546.1 104.1l-1.9-2.8 2-.5 1.8 2.8z" fill="#0fe"/>
<path d="M570.6 118l-1.9-1.8 1.9-1.1 1.9 1.8z" fill="#03f"/>
<path d="M612 108.4l-1.9-.5 1.8-2.2 2 .4z" fill="#0bf"/>
<path d="M593.2 117.5l-1.9-.9 1.8-1.8 1.9 1z" fill="#04f"/>
<path d="M629 94l-2-.1 1.8-2.9 2 .1z" fill="#0f5"/>
<path d="M557.4 112.8l-1.9-2.2 1.9-.8 1.9 2.3z" fill="#08f"/>
<path d="M540.4 98.7l-1.8-3 1.9-.4 1.9 3z" fill="#0f9"/>
<path d="M532.9 89.3l-1.9-3.4 2-.3 1.9 3.5z" fill="#0f0"/>
<path d="M566.8 117.2l-1.9-1.9 1.9-1 1.9 1.9z" fill="#04f"/>
<path d="M606.4 112.2l-2-.6 1.9-2.1 1.9.6z" fill="#08f"/>
<path d="M597 116.7l-2-.9 1.9-1.8 1.9.8zM563 116.2l-1.9-2 2-.9 1.8 2z" fill="#05f"/>
<path d="M547.9 106.8l-1.8-2.7 1.9-.5 1.9 2.6z" fill="#0df"/>
<path d="M621.5 101.8l-2-.2 1.8-2.5 2 .2z" fill="#0fc"/>
<path d="M615.8 106.5l-1.9-.4 1.8-2.4 2 .4z" fill="#0df"/>
<path d="M534.7 92.7l-1.8-3.4 2-.2 1.8 3.3z" fill="#0f3"/>
<path d="M553.6 111.2l-1.9-2.4 2-.7 1.8 2.5z" fill="#09f"/>
<path d="M600.8 115.6l-2-.8 1.8-1.9 2 .8z" fill="#06f"/>
<path d="M627.2 96.7l-2.1-.1 1.9-2.7 2 .1z" fill="#0f7"/>
<path d="M542.2 101.7l-1.8-3 2-.4 1.8 3z" fill="#0fc"/>
<path d="M580 120.1l-1.9-1.3 1.9-1.4 1.9 1.4z" fill="#02f"/>
<path d="M610.2 110.6l-2-.5 1.9-2.2 1.9.5z" fill="#0af"/>
<path d="M583.8 120l-1.9-1.2 1.8-1.4 1.9 1.2zM576.2 120l-1.9-1.5 1.9-1.2 1.9 1.5zM587.5 119.7l-1.9-1.1 1.9-1.5 1.9 1.1z" fill="#02f"/>
<path d="M527.1 82.3l-1.8-3.7 2-.1 1.9 3.7z" fill="#6f0"/>
<path d="M559.2 115l-1.8-2.2 1.9-.7 1.8 2.1z" fill="#06f"/>
<path d="M572.4 119.6l-1.8-1.6 1.9-1.1 1.8 1.6z" fill="#02f"/>
<path d="M536.6 95.9l-1.9-3.2 2-.3 1.9 3.3z" fill="#0f6"/>
<path d="M591.3 119.2l-1.9-1 1.9-1.6 1.9.9z" fill="#03f"/>
<path d="M604.6 114.2l-2-.5 1.8-2.1 2 .6z" fill="#07f"/>
<path d="M568.7 119l-1.9-1.8 1.9-1 1.9 1.8z" fill="#03f"/>
<path d="M529 86l-1.9-3.7 2.1-.1 1.8 3.7z" fill="#2f0"/>
<path d="M549.8 109.3l-1.9-2.5 2-.6 1.8 2.6z" fill="#0bf"/>
<path d="M619.7 104.3l-2-.2 1.8-2.5 2 .2zM544.1 104.5l-1.9-2.8 2-.4 1.9 2.8z" fill="#0fe"/>
<path d="M595.1 118.4l-1.9-.9 1.8-1.7 2 .9z" fill="#03f"/>
<path d="M625.4 99.3l-2.1 0 1.8-2.7 2.1.1z" fill="#0fa"/>
<path d="M614 108.7l-2-.3 1.9-2.3 1.9.4z" fill="#0bf"/>
<path d="M555.4 113.5l-1.8-2.3 1.9-.6 1.9 2.2z" fill="#08f"/>
<path d="M564.9 118.1l-1.9-1.9 1.9-.9 1.9 1.9z" fill="#04f"/>
<path d="M538.4 99l-1.8-3.1 2-.2 1.8 3z" fill="#0f9"/>
<path d="M631 93.9l-2 .1 1.8-2.9 2.1 0z" fill="#0f5"/>
<path d="M608.4 112.7l-2-.5 1.8-2.1 2 .5z" fill="#08f"/>
<path d="M530.8 89.5l-1.8-3.5 2-.1 1.9 3.4z" fill="#0f0"/>
<path d="M598.9 117.4l-1.9-.7 1.8-1.9 2 .8z" fill="#04f"/>
<path d="M561.1 117l-1.9-2 1.9-.8 1.9 2z" fill="#05f"/>
<path d="M581.9 121.4l-1.9-1.3 1.9-1.3 1.9 1.2zM578.1 121.4l-1.9-1.4 1.9-1.2 1.9 1.3z" fill="#01f"/>
<path d="M545.9 107.2l-1.8-2.7 2-.4 1.8 2.7z" fill="#0df"/>
<path d="M585.7 121.1l-1.9-1.1 1.8-1.4 1.9 1.1zM574.3 121.1l-1.9-1.5 1.9-1.1 1.9 1.5z" fill="#01f"/>
<path d="M551.6 111.8l-1.8-2.5 1.9-.5 1.9 2.4z" fill="#09f"/>
<path d="M602.7 116.2l-1.9-.6 1.8-1.9 2 .5z" fill="#05f"/>
<path d="M617.9 106.7l-2.1-.2 1.9-2.4 2 .2z" fill="#0df"/>
<path d="M532.7 92.8l-1.9-3.3 2.1-.2 1.8 3.4z" fill="#0f3"/>
<path d="M623.5 101.9l-2-.1 1.8-2.5 2.1 0z" fill="#0fc"/>
<path d="M589.5 120.7l-2-1 1.9-1.5 1.9 1z" fill="#02f"/>
<path d="M540.3 102l-1.9-3 2-.3 1.8 3z" fill="#0fc"/>
<path d="M570.5 120.6l-1.8-1.6 1.9-1 1.8 1.6z" fill="#02f"/>
<path d="M612.2 110.9l-2-.3 1.8-2.2 2 .3z" fill="#0af"/>
<path d="M629.2 96.7l-2 0 1.8-2.7 2-.1z" fill="#0f7"/>
<path d="M557.3 115.7l-1.9-2.2 2-.7 1.8 2.2z" fill="#06f"/>
<path d="M593.3 120l-2-.8 1.9-1.7 1.9.9z" fill="#02f"/>
<path d="M566.7 119.9l-1.8-1.8 1.9-.9 1.9 1.8z" fill="#03f"/>
<path d="M525.1 82.3l-1.9-3.8 2.1.1 1.8 3.7z" fill="#6f0"/>
<path d="M606.5 114.7l-1.9-.5 1.8-2 2 .5z" fill="#07f"/>
<path d="M534.6 96.1l-1.9-3.3 2-.1 1.9 3.2z" fill="#0f6"/>
<path d="M597.1 119.1l-2-.7 1.9-1.7 1.9.7z" fill="#03f"/>
<path d="M547.8 109.8l-1.9-2.6 2-.4 1.9 2.5z" fill="#0bf"/>
<path d="M563 118.9l-1.9-1.9 1.9-.8 1.9 1.9z" fill="#04f"/>
<path d="M542.1 104.8l-1.8-2.8 1.9-.3 1.9 2.8z" fill="#0fe"/>
<path d="M527 86l-1.9-3.7 2 0 1.9 3.7z" fill="#3f0"/>
<path d="M553.5 114.1l-1.9-2.3 2-.6 1.8 2.3z" fill="#08f"/>
<path d="M621.7 104.4l-2-.1 1.8-2.5 2 .1z" fill="#0fe"/>
<path d="M616 108.9l-2-.2 1.8-2.2 2.1.2z" fill="#0cf"/>
<path d="M627.4 99.3l-2 0 1.8-2.6 2 0z" fill="#0f9"/>
<path d="M600.9 118l-2-.6 1.9-1.8 1.9.6z" fill="#04f"/>
<path d="M580 122.6l-1.9-1.2 1.9-1.3 1.9 1.3z" fill="#01f"/>
<path d="M536.4 99.2l-1.8-3.1 2-.2 1.8 3.1z" fill="#0f9"/>
<path d="M610.4 113l-2-.3 1.8-2.1 2 .3z" fill="#08f"/>
<path d="M583.8 122.5l-1.9-1.1 1.9-1.4 1.9 1.1zM576.2 122.5l-1.9-1.4 1.9-1.1 1.9 1.4z" fill="#01f"/>
<path d="M559.1 117.7l-1.8-2 1.9-.7 1.9 2z" fill="#05f"/>
<path d="M528.8 89.5l-1.8-3.5 2 0 1.8 3.5z" fill="#0f0"/>
<path d="M633.1 93.7l-2.1.2 1.9-2.8 2-.2z" fill="#0f4"/>
<path d="M587.6 122.1l-1.9-1 1.8-1.4 2 1zM572.4 122.1l-1.9-1.5 1.9-1 1.9 1.5z" fill="#01f"/>
<path d="M591.4 121.5l-1.9-.8 1.8-1.5 2 .8z" fill="#02f"/>
<path d="M544 107.5l-1.9-2.7 2-.3 1.8 2.7z" fill="#0df"/>
<path d="M549.7 112.2l-1.9-2.4 2-.5 1.8 2.5z" fill="#09f"/>
<path d="M568.6 121.5l-1.9-1.6 2-.9 1.8 1.6z" fill="#02f"/>
<path d="M604.7 116.6l-2-.4 1.9-2 1.9.5z" fill="#06f"/>
<path d="M619.9 106.7l-2 0 1.8-2.4 2 .1z" fill="#0ef"/>
<path d="M530.7 92.9l-1.9-3.4 2 0 1.9 3.3z" fill="#0f3"/>
<path d="M538.3 102.2l-1.9-3 2-.2 1.9 3zM625.6 101.8l-2.1.1 1.9-2.6 2 0z" fill="#0fb"/>
<path d="M555.3 116.3l-1.8-2.2 1.9-.6 1.9 2.2z" fill="#06f"/>
<path d="M595.2 120.7l-1.9-.7 1.8-1.6 2 .7z" fill="#02f"/>
<path d="M614.2 111.1l-2-.2 1.8-2.2 2 .2z" fill="#0af"/>
<path d="M564.8 120.7l-1.8-1.8 1.9-.8 1.8 1.8z" fill="#02f"/>
<path d="M631.3 96.5l-2.1.2 1.8-2.8 2.1-.2z" fill="#0f6"/>
<path d="M608.5 115l-2-.3 1.9-2 2 .3z" fill="#07f"/>
<path d="M599 119.7l-1.9-.6 1.8-1.7 2 .6z" fill="#03f"/>
<path d="M523 82.2l-1.8-3.8 2 .1 1.9 3.8z" fill="#7f0"/>
<path d="M561 119.6l-1.9-1.9 2-.7 1.9 1.9z" fill="#03f"/>
<path d="M532.5 96.1l-1.8-3.2 2-.1 1.9 3.3z" fill="#0f6"/>
<path d="M545.8 110.1l-1.8-2.6 1.9-.3 1.9 2.6z" fill="#0bf"/>
<path d="M551.5 114.5l-1.8-2.3 1.9-.4 1.9 2.3z" fill="#08f"/>
<path d="M540.1 105l-1.8-2.8 2-.2 1.8 2.8z" fill="#0fe"/>
<path d="M578.1 123.7l-1.9-1.2 1.9-1.1 1.9 1.2zM581.9 123.7l-1.9-1.1 1.9-1.2 1.9 1.1zM574.3 123.5l-1.9-1.4 1.9-1 1.9 1.4zM585.7 123.5l-1.9-1 1.9-1.4 1.9 1z" fill="#00f"/>
<path d="M524.9 85.8l-1.9-3.6 2.1.1 1.9 3.7z" fill="#3f0"/>
<path d="M623.7 104.3l-2 .1 1.8-2.5 2.1-.1z" fill="#0fd"/>
<path d="M618 109l-2-.1 1.9-2.2 2 0z" fill="#0cf"/>
<path d="M602.8 118.4l-1.9-.4 1.8-1.8 2 .4z" fill="#04f"/>
<path d="M570.5 123l-1.9-1.5 1.9-.9 1.9 1.5zM589.5 123l-1.9-.9 1.9-1.4 1.9.8z" fill="#01f"/>
<path d="M557.2 118.3l-1.9-2 2-.6 1.8 2z" fill="#05f"/>
<path d="M629.5 99.1l-2.1.2 1.8-2.6 2.1-.2z" fill="#0f9"/>
<path d="M612.4 113.2l-2-.2 1.8-2.1 2 .2z" fill="#09f"/>
<path d="M534.4 99.3l-1.9-3.2 2.1 0 1.8 3.1z" fill="#0f8"/>
<path d="M593.3 122.3l-1.9-.8 1.9-1.5 1.9.7zM566.7 122.3l-1.9-1.6 1.9-.8 1.9 1.6z" fill="#01f"/>
<path d="M526.8 89.4l-1.9-3.6 2.1.2 1.8 3.5z" fill="#0f0"/>
<path d="M635.2 93.4l-2.1.3 1.8-2.8 2.1-.3z" fill="#0f3"/>
<path d="M547.7 112.6l-1.9-2.5 2-.3 1.9 2.4z" fill="#09f"/>
<path d="M542 107.7l-1.9-2.7 2-.2 1.9 2.7z" fill="#0df"/>
<path d="M606.7 116.9l-2-.3 1.8-1.9 2 .3z" fill="#06f"/>
<path d="M597.2 121.3l-2-.6 1.9-1.6 1.9.6z" fill="#02f"/>
<path d="M553.4 116.7l-1.9-2.2 2-.4 1.8 2.2z" fill="#06f"/>
<path d="M562.9 121.4l-1.9-1.8 2-.7 1.8 1.8z" fill="#02f"/>
<path d="M621.9 106.7l-2 0 1.8-2.3 2-.1z" fill="#0ef"/>
<path d="M536.2 102.2l-1.8-2.9 2-.1 1.9 3z" fill="#0fb"/>
<path d="M528.6 92.8l-1.8-3.4 2 .1 1.9 3.4z" fill="#0f2"/>
<path d="M616.2 111.2l-2-.1 1.8-2.2 2 .1z" fill="#0af"/>
<path d="M627.6 101.6l-2 .2 1.8-2.5 2.1-.2z" fill="#0fb"/>
<path d="M601 120.1l-2-.4 1.9-1.7 1.9.4zM559.1 120.2l-1.9-1.9 1.9-.6 1.9 1.9z" fill="#03f"/>
<path d="M580 124.8l-1.9-1.1 1.9-1.1 1.9 1.1z" fill="#00f"/>
<path d="M610.5 115.2l-2-.2 1.9-2 2 .2z" fill="#07f"/>
<path d="M633.4 96.1l-2.1.4 1.8-2.8 2.1-.3z" fill="#0f5"/>
<path d="M576.2 124.8l-1.9-1.3 1.9-1 1.9 1.2zM583.8 124.7l-1.9-1 1.9-1.2 1.9 1zM572.4 124.4l-1.9-1.4 1.9-.9 1.9 1.4z" fill="#00f"/>
<path d="M543.8 110.3l-1.8-2.6 2-.2 1.8 2.6z" fill="#0bf"/>
<path d="M587.7 124.3l-2-.8 1.9-1.4 1.9.9z" fill="#00f"/>
<path d="M521 81.9l-1.9-3.8 2.1.3 1.8 3.8z" fill="#7f0"/>
<path d="M530.5 96.1l-1.9-3.3 2.1.1 1.8 3.2z" fill="#0f5"/>
<path d="M549.5 114.9l-1.8-2.3 2-.4 1.8 2.3z" fill="#08f"/>
<path d="M538.1 105.1l-1.9-2.9 2.1 0 1.8 2.8z" fill="#0fd"/>
<path d="M568.6 123.9l-1.9-1.6 1.9-.8 1.9 1.5z" fill="#00f"/>
<path d="M591.5 123.7l-2-.7 1.9-1.5 1.9.8z" fill="#01f"/>
<path d="M604.8 118.7l-2-.3 1.9-1.8 2 .3zM555.2 118.8l-1.8-2.1 1.9-.4 1.9 2z" fill="#05f"/>
<path d="M620.1 108.9l-2.1.1 1.9-2.3 2 0z" fill="#0cf"/>
<path d="M522.8 85.6l-1.8-3.7 2 .3 1.9 3.6z" fill="#4f0"/>
<path d="M625.8 104.1l-2.1.2 1.9-2.5 2-.2z" fill="#0fd"/>
<path d="M564.8 123.1l-1.9-1.7 1.9-.7 1.9 1.6zM595.3 122.8l-2-.5 1.9-1.6 2 .6z" fill="#01f"/>
<path d="M614.4 113.3l-2-.1 1.8-2.1 2 .1z" fill="#09f"/>
<path d="M532.3 99.2l-1.8-3.1 2 0 1.9 3.2zM631.5 98.8l-2 .3 1.8-2.6 2.1-.4z" fill="#0f8"/>
<path d="M545.7 112.8l-1.9-2.5 2-.2 1.9 2.5z" fill="#0af"/>
<path d="M524.7 89.2l-1.9-3.6 2.1.2 1.9 3.6z" fill="#1f0"/>
<path d="M608.7 117.1l-2-.2 1.8-1.9 2 .2z" fill="#06f"/>
<path d="M560.9 122l-1.8-1.8 1.9-.6 1.9 1.8z" fill="#02f"/>
<path d="M540 107.8l-1.9-2.7 2-.1 1.9 2.7z" fill="#0ef"/>
<path d="M599.1 121.8l-1.9-.5 1.8-1.6 2 .4z" fill="#02f"/>
<path d="M551.4 117.1l-1.9-2.2 2-.4 1.9 2.2z" fill="#06f"/>
<path d="M637.3 93l-2.1.4 1.8-2.8 2.1-.4z" fill="#0f2"/>
<path d="M578.1 125.9l-1.9-1.1 1.9-1.1 1.9 1.1zM581.9 125.8l-1.9-1 1.9-1.1 1.9 1z" fill="#00f"/>
<path d="M534.2 102.2l-1.9-3 2.1.1 1.8 2.9z" fill="#0fa"/>
<path d="M574.3 125.7l-1.9-1.3 1.9-.9 1.9 1.3z" fill="#00f"/>
<path d="M624 106.5l-2.1.2 1.8-2.4 2.1-.2z" fill="#0fe"/>
<path d="M526.6 92.6l-1.9-3.4 2.1.2 1.8 3.4z" fill="#0f1"/>
<path d="M585.8 125.5l-2-.8 1.9-1.2 2 .8z" fill="#00f"/>
<path d="M618.2 111.1l-2 .1 1.8-2.2 2.1-.1z" fill="#0bf"/>
<path d="M557.1 120.7l-1.9-1.9 2-.5 1.9 1.9zM603 120.5l-2-.4 1.8-1.7 2 .3z" fill="#03f"/>
<path d="M629.7 101.3l-2.1.3 1.9-2.5 2-.3z" fill="#0fa"/>
<path d="M570.5 125.3l-1.9-1.4 1.9-.9 1.9 1.4zM589.6 125l-1.9-.7 1.8-1.3 2 .7z" fill="#00f"/>
<path d="M612.5 115.3l-2-.1 1.9-2 2 .1z" fill="#08f"/>
<path d="M541.8 110.4l-1.8-2.6 2-.1 1.8 2.6z" fill="#0cf"/>
<path d="M566.7 124.6l-1.9-1.5 1.9-.8 1.9 1.6z" fill="#00f"/>
<path d="M547.5 115.1l-1.8-2.3 2-.2 1.8 2.3z" fill="#08f"/>
<path d="M635.5 95.7l-2.1.4 1.8-2.7 2.1-.4z" fill="#0f4"/>
<path d="M593.4 124.3l-1.9-.6 1.8-1.4 2 .5z" fill="#01f"/>
<path d="M528.4 95.9l-1.8-3.3 2 .2 1.9 3.3z" fill="#0f4"/>
<path d="M518.9 81.5l-1.9-3.8 2.1.4 1.9 3.8z" fill="#7f0"/>
<path d="M536.1 105.1l-1.9-2.9 2 0 1.9 2.9z" fill="#0fd"/>
<path d="M606.8 118.9l-2-.2 1.9-1.8 2 .2zM553.3 119.1l-1.9-2 2-.4 1.8 2.1z" fill="#05f"/>
<path d="M562.8 123.7l-1.9-1.7 2-.6 1.9 1.7zM597.3 123.3l-2-.5 1.9-1.5 1.9.5z" fill="#01f"/>
<path d="M622.1 108.7l-2 .2 1.8-2.2 2.1-.2z" fill="#0df"/>
<path d="M520.8 85.2l-1.9-3.7 2.1.4 1.8 3.7z" fill="#5f0"/>
<path d="M627.9 103.8l-2.1.3 1.8-2.5 2.1-.3z" fill="#0fc"/>
<path d="M616.4 113.2l-2 .1 1.8-2.1 2-.1z" fill="#0af"/>
<path d="M530.3 99l-1.9-3.1 2.1.2 1.8 3.1z" fill="#0f7"/>
<path d="M559 122.5l-1.9-1.8 2-.5 1.8 1.8z" fill="#02f"/>
<path d="M633.6 98.3l-2.1.5 1.9-2.7 2.1-.4z" fill="#0f7"/>
<path d="M543.7 112.9l-1.9-2.5 2-.1 1.9 2.5z" fill="#0af"/>
<path d="M601.1 122.1l-2-.3 1.9-1.7 2 .4z" fill="#02f"/>
<path d="M580 126.9l-1.9-1 1.9-1.1 1.9 1z" fill="#00f"/>
<path d="M610.7 117.2l-2-.1 1.8-1.9 2 .1z" fill="#06f"/>
<path d="M576.2 126.8l-1.9-1.1 1.9-.9 1.9 1.1z" fill="#00f"/>
<path d="M549.4 117.3l-1.9-2.2 2-.2 1.9 2.2z" fill="#06f"/>
<path d="M583.9 126.7l-2-.9 1.9-1.1 2 .8z" fill="#00f"/>
<path d="M537.9 107.8l-1.8-2.7 2 0 1.9 2.7z" fill="#0ef"/>
<path d="M522.6 88.8l-1.8-3.6 2 .4 1.9 3.6z" fill="#2f0"/>
<path d="M572.4 126.5l-1.9-1.2 1.9-.9 1.9 1.3zM587.7 126.3l-1.9-.8 1.9-1.2 1.9.7zM568.6 126l-1.9-1.4 1.9-.7 1.9 1.4z" fill="#00f"/>
<path d="M639.4 92.4l-2.1.6 1.8-2.8 2.2-.6z" fill="#0f1"/>
<path d="M555.1 121.1l-1.8-2 1.9-.3 1.9 1.9z" fill="#04f"/>
<path d="M591.5 125.6l-1.9-.6 1.9-1.3 1.9.6z" fill="#00f"/>
<path d="M532.2 102l-1.9-3 2 .2 1.9 3z" fill="#0fa"/>
<path d="M605 120.6l-2-.1 1.8-1.8 2 .2z" fill="#04f"/>
<path d="M524.5 92.2l-1.9-3.4 2.1.4 1.9 3.4z" fill="#0f0"/>
<path d="M620.3 110.9l-2.1.2 1.9-2.2 2-.2z" fill="#0cf"/>
<path d="M626 106.1l-2 .4 1.8-2.4 2.1-.3z" fill="#0fe"/>
<path d="M564.7 125.2l-1.9-1.5 2-.6 1.9 1.5z" fill="#00f"/>
<path d="M614.6 115.2l-2.1.1 1.9-2 2-.1z" fill="#08f"/>
<path d="M631.8 100.8l-2.1.5 1.8-2.5 2.1-.5z" fill="#0f9"/>
<path d="M595.4 124.7l-2-.4 1.9-1.5 2 .5z" fill="#01f"/>
<path d="M545.5 115.3l-1.8-2.4 2-.1 1.8 2.3z" fill="#08f"/>
<path d="M539.8 110.4l-1.9-2.6 2.1 0 1.8 2.6z" fill="#0cf"/>
<path d="M560.9 124.2l-1.9-1.7 1.9-.5 1.9 1.7z" fill="#01f"/>
<path d="M551.3 119.4l-1.9-2.1 2-.2 1.9 2z" fill="#05f"/>
<path d="M526.4 95.5l-1.9-3.3 2.1.4 1.8 3.3zM637.6 95.1l-2.1.6 1.8-2.7 2.1-.6z" fill="#0f3"/>
<path d="M608.8 119l-2-.1 1.9-1.8 2 .1z" fill="#05f"/>
<path d="M534 104.9l-1.8-2.9 2 .2 1.9 2.9z" fill="#0fc"/>
<path d="M599.2 123.6l-1.9-.3 1.8-1.5 2 .3z" fill="#02f"/>
<path d="M516.8 81l-1.9-3.8 2.1.5 1.9 3.8z" fill="#8f0"/>
<path d="M578.1 127.8l-1.9-1 1.9-.9 1.9 1zM582 127.7l-2-.8 1.9-1.1 2 .9z" fill="#00f"/>
<path d="M624.2 108.4l-2.1.3 1.9-2.2 2-.4z" fill="#0ef"/>
<path d="M574.3 127.6l-1.9-1.1 1.9-.8 1.9 1.1z" fill="#00f"/>
<path d="M557 122.9l-1.9-1.8 2-.4 1.9 1.8z" fill="#02f"/>
<path d="M618.5 113l-2.1.2 1.8-2.1 2.1-.2z" fill="#0af"/>
<path d="M518.6 84.7l-1.8-3.7 2.1.5 1.9 3.7z" fill="#6f0"/>
<path d="M585.8 127.4l-1.9-.7 1.9-1.2 1.9.8z" fill="#00f"/>
<path d="M630 103.3l-2.1.5 1.8-2.5 2.1-.5z" fill="#0fb"/>
<path d="M570.5 127.2l-1.9-1.2 1.9-.7 1.9 1.2z" fill="#00f"/>
<path d="M603.1 122.3l-2-.2 1.9-1.6 2 .1z" fill="#03f"/>
<path d="M528.2 98.7l-1.8-3.2 2 .4 1.9 3.1z" fill="#0f6"/>
<path d="M541.7 112.9l-1.9-2.5 2 0 1.9 2.5z" fill="#0bf"/>
<path d="M589.7 126.9l-2-.6 1.9-1.3 1.9.6z" fill="#00f"/>
<path d="M547.4 117.5l-1.9-2.2 2-.2 1.9 2.2zM612.7 117.1l-2 .1 1.8-1.9 2.1-.1z" fill="#07f"/>
<path d="M535.9 107.7l-1.9-2.8 2.1.2 1.8 2.7z" fill="#0fe"/>
<path d="M635.8 97.7l-2.2.6 1.9-2.6 2.1-.6z" fill="#0f6"/>
<path d="M566.6 126.6l-1.9-1.4 2-.6 1.9 1.4z" fill="#00f"/>
<path d="M520.5 88.3l-1.9-3.6 2.2.5 1.8 3.6z" fill="#3f0"/>
<path d="M593.5 126.1l-2-.5 1.9-1.3 2 .4z" fill="#00f"/>
<path d="M553.2 121.3l-1.9-1.9 2-.3 1.8 2z" fill="#04f"/>
<path d="M562.8 125.7l-1.9-1.5 1.9-.5 1.9 1.5z" fill="#00f"/>
<path d="M607 120.7l-2-.1 1.8-1.7 2 .1z" fill="#04f"/>
<path d="M530.1 101.8l-1.9-3.1 2.1.3 1.9 3z" fill="#0f9"/>
<path d="M641.6 91.6l-2.2.8 1.9-2.8 2.1-.8z" fill="#0f0"/>
<path d="M597.4 125l-2-.3 1.9-1.4 1.9.3z" fill="#01f"/>
<path d="M622.4 110.5l-2.1.4 1.8-2.2 2.1-.3z" fill="#0cf"/>
<path d="M522.4 91.8l-1.9-3.5 2.1.5 1.9 3.4z" fill="#0f0"/>
<path d="M628.1 105.6l-2.1.5 1.9-2.3 2.1-.5z" fill="#0fd"/>
<path d="M543.5 115.3l-1.8-2.4 2 0 1.8 2.4zM616.6 115l-2 .2 1.8-2 2.1-.2z" fill="#09f"/>
<path d="M537.8 110.3l-1.9-2.6 2 .1 1.9 2.6z" fill="#0df"/>
<path d="M558.9 124.6l-1.9-1.7 2-.4 1.9 1.7z" fill="#01f"/>
<path d="M633.9 100.2l-2.1.6 1.8-2.5 2.2-.6z" fill="#0f8"/>
<path d="M549.3 119.6l-1.9-2.1 2-.2 1.9 2.1z" fill="#05f"/>
<path d="M601.2 123.8l-2-.2 1.9-1.5 2 .2z" fill="#02f"/>
<path d="M580.1 128.7l-2-.9 1.9-.9 2 .8zM576.2 128.6l-1.9-1 1.9-.8 1.9 1z" fill="#00f"/>
<path d="M610.9 118.9l-2.1.1 1.9-1.8 2-.1z" fill="#06f"/>
<path d="M583.9 128.4l-1.9-.7 1.9-1 1.9.7z" fill="#00f"/>
<path d="M532 104.7l-1.9-2.9 2.1.2 1.8 2.9z" fill="#0fb"/>
<path d="M524.3 95.1l-1.9-3.3 2.1.4 1.9 3.3z" fill="#0f2"/>
<path d="M572.4 128.4l-1.9-1.2 1.9-.7 1.9 1.1z" fill="#00f"/>
<path d="M639.7 94.3l-2.1.8 1.8-2.7 2.2-.8z" fill="#0f2"/>
<path d="M587.8 128l-2-.6 1.9-1.1 2 .6z" fill="#00f"/>
<path d="M514.6 80.4l-1.8-3.9 2.1.7 1.9 3.8z" fill="#8f0"/>
<path d="M555 123.2l-1.8-1.9 1.9-.2 1.9 1.8z" fill="#03f"/>
<path d="M568.5 127.9l-1.9-1.3 2-.6 1.9 1.2zM591.6 127.3l-1.9-.4 1.8-1.3 2 .5z" fill="#00f"/>
<path d="M626.3 107.9l-2.1.5 1.8-2.3 2.1-.5z" fill="#0fe"/>
<path d="M605.1 122.3l-2 0 1.9-1.7 2 .1z" fill="#03f"/>
<path d="M620.5 112.6l-2 .4 1.8-2.1 2.1-.4z" fill="#0bf"/>
<path d="M564.7 127.1l-1.9-1.4 1.9-.5 1.9 1.4z" fill="#00f"/>
<path d="M539.6 112.8l-1.8-2.5 2 .1 1.9 2.5z" fill="#0bf"/>
<path d="M516.5 84.1l-1.9-3.7 2.2.6 1.8 3.7z" fill="#7f0"/>
<path d="M545.4 117.5l-1.9-2.2 2 0 1.9 2.2z" fill="#07f"/>
<path d="M526.1 98.3l-1.8-3.2 2.1.4 1.8 3.2z" fill="#0f5"/>
<path d="M632.1 102.7l-2.1.6 1.8-2.5 2.1-.6z" fill="#0fa"/>
<path d="M614.8 116.9l-2.1.2 1.9-1.9 2-.2z" fill="#08f"/>
<path d="M595.5 126.4l-2-.3 1.9-1.4 2 .3z" fill="#00f"/>
<path d="M533.8 107.4l-1.8-2.7 2 .2 1.9 2.8z" fill="#0fe"/>
<path d="M551.2 121.5l-1.9-1.9 2-.2 1.9 1.9z" fill="#04f"/>
<path d="M560.8 126.1l-1.9-1.5 2-.4 1.9 1.5z" fill="#01f"/>
<path d="M637.9 96.9l-2.1.8 1.8-2.6 2.1-.8z" fill="#0f4"/>
<path d="M518.4 87.7l-1.9-3.6 2.1.6 1.9 3.6z" fill="#4f0"/>
<path d="M609 120.6l-2 .1 1.8-1.7 2.1-.1z" fill="#05f"/>
<path d="M599.4 125.2l-2-.2 1.8-1.4 2 .2z" fill="#01f"/>
<path d="M528 101.3l-1.9-3 2.1.4 1.9 3.1z" fill="#0f8"/>
<path d="M556.9 124.8l-1.9-1.6 2-.3 1.9 1.7z" fill="#02f"/>
<path d="M578.1 129.5l-1.9-.9 1.9-.8 2 .9z" fill="#00f"/>
<path d="M624.5 110.1l-2.1.4 1.8-2.1 2.1-.5z" fill="#0df"/>
<path d="M541.5 115.2l-1.9-2.4 2.1.1 1.8 2.4z" fill="#09f"/>
<path d="M582 129.4l-1.9-.7 1.9-1 1.9.7zM574.3 129.4l-1.9-1 1.9-.8 1.9 1z" fill="#00f"/>
<path d="M643.7 90.7l-2.1.9 1.8-2.8 2.2-.9zM520.3 91.2l-1.9-3.5 2.1.6 1.9 3.5z" fill="#1f0"/>
<path d="M630.2 105l-2.1.6 1.9-2.3 2.1-.6z" fill="#0fc"/>
<path d="M618.7 114.6l-2.1.4 1.9-2 2-.4z" fill="#0af"/>
<path d="M535.7 110.1l-1.9-2.7 2.1.3 1.9 2.6z" fill="#0ef"/>
<path d="M585.9 129l-2-.6 1.9-1 2 .6z" fill="#00f"/>
<path d="M547.3 119.6l-1.9-2.1 2 0 1.9 2.1z" fill="#06f"/>
<path d="M570.4 129l-1.9-1.1 2-.7 1.9 1.2z" fill="#00f"/>
<path d="M603.2 123.8l-2 0 1.9-1.5 2 0z" fill="#02f"/>
<path d="M589.7 128.5l-1.9-.5 1.9-1.1 1.9.4z" fill="#00f"/>
<path d="M636.1 99.5l-2.2.7 1.9-2.5 2.1-.8z" fill="#0f6"/>
<path d="M612.9 118.7l-2 .2 1.8-1.8 2.1-.2z" fill="#07f"/>
<path d="M566.6 128.4l-1.9-1.3 1.9-.5 1.9 1.3z" fill="#00f"/>
<path d="M529.9 104.3l-1.9-3 2.1.5 1.9 2.9z" fill="#0fa"/>
<path d="M553 123.3l-1.8-1.8 2-.2 1.8 1.9z" fill="#03f"/>
<path d="M522.2 94.6l-1.9-3.4 2.1.6 1.9 3.3z" fill="#0f1"/>
<path d="M593.6 127.6l-2-.3 1.9-1.2 2 .3zM562.7 127.5l-1.9-1.4 2-.4 1.9 1.4z" fill="#00f"/>
<path d="M512.5 79.6l-1.9-3.9 2.2.8 1.8 3.9z" fill="#9f0"/>
<path d="M641.9 93.4l-2.2.9 1.9-2.7 2.1-.9z" fill="#0f1"/>
<path d="M607.1 122.2l-2 .1 1.9-1.6 2-.1z" fill="#04f"/>
<path d="M543.4 117.4l-1.9-2.2 2 .1 1.9 2.2z" fill="#08f"/>
<path d="M537.6 112.6l-1.9-2.5 2.1.2 1.8 2.5zM622.6 112.1l-2.1.5 1.9-2.1 2.1-.4z" fill="#0cf"/>
<path d="M628.4 107.3l-2.1.6 1.8-2.3 2.1-.6z" fill="#0fd"/>
<path d="M597.5 126.6l-2-.2 1.9-1.4 2 .2z" fill="#00f"/>
<path d="M514.4 83.4l-1.9-3.8 2.1.8 1.9 3.7z" fill="#7f0"/>
<path d="M524 97.8l-1.8-3.2 2.1.5 1.8 3.2z" fill="#0f4"/>
<path d="M558.8 126.4l-1.9-1.6 2-.2 1.9 1.5z" fill="#01f"/>
<path d="M616.8 116.5l-2 .4 1.8-1.9 2.1-.4z" fill="#08f"/>
<path d="M549.2 121.6l-1.9-2 2 0 1.9 1.9z" fill="#05f"/>
<path d="M634.2 101.9l-2.1.8 1.8-2.5 2.2-.7z" fill="#0f8"/>
<path d="M531.8 107.1l-1.9-2.8 2.1.4 1.8 2.7z" fill="#0fd"/>
<path d="M580.1 130.2l-2-.7 2-.8 1.9.7zM576.2 130.2l-1.9-.8 1.9-.8 1.9.9z" fill="#00f"/>
<path d="M601.4 125.3l-2-.1 1.8-1.4 2 0z" fill="#02f"/>
<path d="M611 120.4l-2 .2 1.9-1.7 2-.2z" fill="#05f"/>
<path d="M516.3 87l-1.9-3.6 2.1.7 1.9 3.6z" fill="#5f0"/>
<path d="M584 130l-2-.6 1.9-1 2 .6zM572.3 130l-1.9-1 2-.6 1.9 1z" fill="#00f"/>
<path d="M640.1 96l-2.2.9 1.8-2.6 2.2-.9z" fill="#0f3"/>
<path d="M554.9 125l-1.9-1.7 2-.1 1.9 1.6z" fill="#02f"/>
<path d="M587.8 129.5l-1.9-.5 1.9-1 1.9.5zM568.5 129.5l-1.9-1.1 1.9-.5 1.9 1.1z" fill="#00f"/>
<path d="M525.9 100.8l-1.9-3 2.1.5 1.9 3z" fill="#0f7"/>
<path d="M539.4 115l-1.8-2.4 2 .2 1.9 2.4z" fill="#0af"/>
<path d="M545.2 119.5l-1.8-2.1 2 .1 1.9 2.1z" fill="#06f"/>
<path d="M626.6 109.4l-2.1.7 1.8-2.2 2.1-.6z" fill="#0ef"/>
<path d="M591.7 128.8l-2-.3 1.9-1.2 2 .3z" fill="#00f"/>
<path d="M533.6 109.7l-1.8-2.6 2 .3 1.9 2.7z" fill="#0ef"/>
<path d="M518.2 90.5l-1.9-3.5 2.1.7 1.9 3.5z" fill="#2f0"/>
<path d="M564.6 128.8l-1.9-1.3 2-.4 1.9 1.3z" fill="#00f"/>
<path d="M620.8 114.1l-2.1.5 1.8-2 2.1-.5z" fill="#0bf"/>
<path d="M605.3 123.8l-2.1 0 1.9-1.5 2-.1z" fill="#03f"/>
<path d="M632.4 104.2l-2.2.8 1.9-2.3 2.1-.8z" fill="#0fa"/>
<path d="M645.9 89.7l-2.2 1 1.9-2.8 2.2-1z" fill="#2f0"/>
<path d="M615 118.3l-2.1.4 1.9-1.8 2-.4z" fill="#07f"/>
<path d="M551 123.4l-1.8-1.8 2-.1 1.8 1.8z" fill="#03f"/>
<path d="M595.6 127.8l-2-.2 1.9-1.2 2 .2zM560.7 127.8l-1.9-1.4 2-.3 1.9 1.4z" fill="#00f"/>
<path d="M638.2 98.6l-2.1.9 1.8-2.6 2.2-.9z" fill="#0f5"/>
<path d="M527.8 103.8l-1.9-3 2.1.5 1.9 3z" fill="#0f9"/>
<path d="M520 93.9l-1.8-3.4 2.1.7 1.9 3.4z" fill="#0f0"/>
<path d="M609.2 122l-2.1.2 1.9-1.6 2-.2z" fill="#05f"/>
<path d="M599.5 126.6l-2 0 1.9-1.4 2 .1z" fill="#01f"/>
<path d="M541.3 117.2l-1.9-2.2 2.1.2 1.9 2.2z" fill="#09f"/>
<path d="M510.3 78.7l-1.9-3.9 2.2.9 1.9 3.9z" fill="#af0"/>
<path d="M535.5 112.2l-1.9-2.5 2.1.4 1.9 2.5z" fill="#0df"/>
<path d="M556.8 126.6l-1.9-1.6 2-.2 1.9 1.6z" fill="#01f"/>
<path d="M644.1 92.4l-2.2 1 1.8-2.7 2.2-1z" fill="#0f0"/>
<path d="M547.1 121.5l-1.9-2 2.1.1 1.9 2z" fill="#05f"/>
<path d="M578.2 131l-2-.8 1.9-.7 2 .7z" fill="#00f"/>
<path d="M624.7 111.5l-2.1.6 1.9-2 2.1-.7z" fill="#0df"/>
<path d="M574.3 130.9l-2-.9 2-.6 1.9.8zM582 130.8l-1.9-.6 1.9-.8 2 .6z" fill="#00f"/>
<path d="M630.5 106.5l-2.1.8 1.8-2.3 2.2-.8z" fill="#0fc"/>
<path d="M618.9 116l-2.1.5 1.9-1.9 2.1-.5z" fill="#09f"/>
<path d="M521.9 97.1l-1.9-3.2 2.2.7 1.8 3.2z" fill="#0f3"/>
<path d="M570.4 130.5l-1.9-1 1.9-.5 1.9 1z" fill="#00f"/>
<path d="M529.7 106.6l-1.9-2.8 2.1.5 1.9 2.8z" fill="#0fc"/>
<path d="M585.9 130.4l-1.9-.4 1.9-1 1.9.5z" fill="#00f"/>
<path d="M512.2 82.5l-1.9-3.8 2.2.9 1.9 3.8z" fill="#8f0"/>
<path d="M636.4 101l-2.2.9 1.9-2.4 2.1-.9z" fill="#0f7"/>
<path d="M603.4 125.2l-2 .1 1.8-1.5 2.1 0z" fill="#02f"/>
<path d="M566.5 130l-1.9-1.2 2-.4 1.9 1.1zM589.8 129.8l-2-.3 1.9-1 2 .3z" fill="#00f"/>
<path d="M613.1 120l-2.1.4 1.9-1.7 2.1-.4z" fill="#06f"/>
<path d="M552.9 125.1l-1.9-1.7 2-.1 1.9 1.7z" fill="#02f"/>
<path d="M514.1 86.2l-1.9-3.7 2.2.9 1.9 3.6z" fill="#6f0"/>
<path d="M562.6 129.1l-1.9-1.3 2-.3 1.9 1.3z" fill="#00f"/>
<path d="M642.2 95l-2.1 1 1.8-2.6 2.2-1z" fill="#0f1"/>
<path d="M593.7 129l-2-.2 1.9-1.2 2 .2z" fill="#00f"/>
<path d="M537.4 114.6l-1.9-2.4 2.1.4 1.8 2.4z" fill="#0bf"/>
<path d="M523.8 100.2l-1.9-3.1 2.1.7 1.9 3z" fill="#0f6"/>
<path d="M543.2 119.3l-1.9-2.1 2.1.2 1.8 2.1z" fill="#07f"/>
<path d="M607.3 123.5l-2 .3 1.8-1.6 2.1-.2z" fill="#04f"/>
<path d="M531.5 109.2l-1.8-2.6 2.1.5 1.8 2.6zM628.7 108.6l-2.1.8 1.8-2.1 2.1-.8z" fill="#0fe"/>
<path d="M622.9 113.5l-2.1.6 1.8-2 2.1-.6z" fill="#0cf"/>
<path d="M516 89.7l-1.9-3.5 2.2.8 1.9 3.5z" fill="#3f0"/>
<path d="M549 123.3l-1.9-1.8 2.1.1 1.8 1.8z" fill="#04f"/>
<path d="M597.6 127.9l-2-.1 1.9-1.2 2 0zM558.7 128l-1.9-1.4 2-.2 1.9 1.4z" fill="#00f"/>
<path d="M634.5 103.3l-2.1.9 1.8-2.3 2.2-.9z" fill="#0f9"/>
<path d="M617 117.8l-2 .5 1.8-1.8 2.1-.5z" fill="#08f"/>
<path d="M648.1 88.5l-2.2 1.2 1.9-2.8 2.2-1.2z" fill="#4f0"/>
<path d="M525.7 103.1l-1.9-2.9 2.1.6 1.9 3z" fill="#0f8"/>
<path d="M576.2 131.6l-1.9-.7 1.9-.7 2 .8z" fill="#00f"/>
<path d="M640.4 97.5l-2.2 1.1 1.9-2.6 2.1-1z" fill="#0f3"/>
<path d="M580.1 131.6l-1.9-.6 1.9-.8 1.9.6z" fill="#00f"/>
<path d="M517.9 93.1l-1.9-3.4 2.2.8 1.8 3.4z" fill="#0f0"/>
<path d="M601.5 126.5l-2 .1 1.9-1.3 2-.1z" fill="#02f"/>
<path d="M611.2 121.6l-2 .4 1.8-1.6 2.1-.4z" fill="#05f"/>
<path d="M554.8 126.7l-1.9-1.6 2-.1 1.9 1.6z" fill="#02f"/>
<path d="M572.3 131.4l-1.9-.9 1.9-.5 2 .9zM584 131.3l-2-.5 2-.8 1.9.4z" fill="#00f"/>
<path d="M539.3 116.9l-1.9-2.3 2 .4 1.9 2.2z" fill="#09f"/>
<path d="M533.4 111.8l-1.9-2.6 2.1.5 1.9 2.5z" fill="#0df"/>
<path d="M568.4 131l-1.9-1 2-.5 1.9 1z" fill="#00f"/>
<path d="M545.1 121.3l-1.9-2 2 .2 1.9 2z" fill="#06f"/>
<path d="M587.9 130.8l-2-.4 1.9-.9 2 .3z" fill="#00f"/>
<path d="M508.1 77.7l-1.9-3.9 2.2 1 1.9 3.9z" fill="#af0"/>
<path d="M626.8 110.7l-2.1.8 1.9-2.1 2.1-.8z" fill="#0ef"/>
<path d="M564.5 130.3l-1.9-1.2 2-.3 1.9 1.2z" fill="#00f"/>
<path d="M646.3 91.2l-2.2 1.2 1.8-2.7 2.2-1.2z" fill="#2f0"/>
<path d="M591.8 130l-2-.2 1.9-1 2 .2z" fill="#00f"/>
<path d="M621 115.4l-2.1.6 1.9-1.9 2.1-.6z" fill="#0af"/>
<path d="M632.7 105.6l-2.2.9 1.9-2.3 2.1-.9zM527.6 106l-1.9-2.9 2.1.7 1.9 2.8z" fill="#0fb"/>
<path d="M519.8 96.3l-1.9-3.2 2.1.8 1.9 3.2z" fill="#0f2"/>
<path d="M605.4 125l-2 .2 1.9-1.4 2-.3zM550.9 125.1l-1.9-1.8 2 .1 1.9 1.7z" fill="#03f"/>
<path d="M510 81.5l-1.9-3.8 2.2 1 1.9 3.8z" fill="#9f0"/>
<path d="M615.2 119.5l-2.1.5 1.9-1.7 2-.5z" fill="#07f"/>
<path d="M560.6 129.3l-1.9-1.3 2-.2 1.9 1.3z" fill="#00f"/>
<path d="M638.5 99.9l-2.1 1.1 1.8-2.4 2.2-1.1z" fill="#0f5"/>
<path d="M595.7 129l-2 0 1.9-1.2 2 .1z" fill="#00f"/>
<path d="M541.1 119l-1.8-2.1 2 .3 1.9 2.1z" fill="#08f"/>
<path d="M535.3 114.2l-1.9-2.4 2.1.4 1.9 2.4z" fill="#0cf"/>
<path d="M511.9 85.2l-1.9-3.7 2.2 1 1.9 3.7z" fill="#7f0"/>
<path d="M521.7 99.4l-1.9-3.1 2.1.8 1.9 3.1z" fill="#0f4"/>
<path d="M609.4 123.2l-2.1.3 1.9-1.5 2-.4z" fill="#04f"/>
<path d="M556.7 128.1l-1.9-1.4 2-.1 1.9 1.4z" fill="#01f"/>
<path d="M644.4 93.8l-2.2 1.2 1.9-2.6 2.2-1.2z" fill="#0f0"/>
<path d="M547 123.2l-1.9-1.9 2 .2 1.9 1.8z" fill="#05f"/>
<path d="M599.6 127.8l-2 .1 1.9-1.3 2-.1z" fill="#01f"/>
<path d="M529.4 108.7l-1.8-2.7 2.1.6 1.8 2.6z" fill="#0fd"/>
<path d="M625 112.7l-2.1.8 1.8-2 2.1-.8z" fill="#0df"/>
<path d="M578.2 132.2l-2-.6 2-.6 1.9.6z" fill="#00f"/>
<path d="M630.8 107.7l-2.1.9 1.8-2.1 2.2-.9z" fill="#0fc"/>
<path d="M574.3 132.2l-2-.8 2-.5 1.9.7z" fill="#00f"/>
<path d="M513.8 88.7l-1.9-3.5 2.2 1 1.9 3.5z" fill="#5f0"/>
<path d="M582.1 132.1l-2-.5 1.9-.8 2 .5z" fill="#00f"/>
<path d="M619.1 117.2l-2.1.6 1.9-1.8 2.1-.6z" fill="#09f"/>
<path d="M570.4 131.9l-2-.9 2-.5 1.9.9zM586 131.6l-2-.3 1.9-.9 2 .4z" fill="#00f"/>
<path d="M636.7 102.3l-2.2 1 1.9-2.3 2.1-1.1z" fill="#0f7"/>
<path d="M552.8 126.6l-1.9-1.5 2 0 1.9 1.6z" fill="#02f"/>
<path d="M523.5 102.4l-1.8-3 2.1.8 1.9 2.9z" fill="#0f7"/>
<path d="M603.5 126.3l-2 .2 1.9-1.3 2-.2z" fill="#02f"/>
<path d="M566.5 131.3l-2-1 2-.3 1.9 1z" fill="#00f"/>
<path d="M650.4 87.2l-2.3 1.3 1.9-2.8 2.2-1.3z" fill="#6f0"/>
<path d="M589.9 131l-2-.2 1.9-1 2 .2z" fill="#00f"/>
<path d="M613.3 121.1l-2.1.5 1.9-1.6 2.1-.5z" fill="#06f"/>
<path d="M537.2 116.5l-1.9-2.3 2.1.4 1.9 2.3z" fill="#0af"/>
<path d="M515.7 92.1l-1.9-3.4 2.2 1 1.9 3.4z" fill="#2f0"/>
<path d="M543 121l-1.9-2 2.1.3 1.9 2z" fill="#07f"/>
<path d="M642.6 96.3l-2.2 1.2 1.8-2.5 2.2-1.2z" fill="#0f2"/>
<path d="M531.3 111.2l-1.9-2.5 2.1.5 1.9 2.6z" fill="#0ef"/>
<path d="M562.6 130.5l-2-1.2 2-.2 1.9 1.2zM593.8 130.1l-2-.1 1.9-1 2 0z" fill="#00f"/>
<path d="M505.9 76.6l-1.9-4 2.2 1.2 1.9 3.9z" fill="#bf0"/>
<path d="M548.9 124.9l-1.9-1.7 2 .1 1.9 1.8zM607.5 124.6l-2.1.4 1.9-1.5 2.1-.3z" fill="#04f"/>
<path d="M629 109.8l-2.2.9 1.9-2.1 2.1-.9z" fill="#0fe"/>
<path d="M623.1 114.6l-2.1.8 1.9-1.9 2.1-.8z" fill="#0cf"/>
<path d="M558.6 129.4l-1.9-1.3 2-.1 1.9 1.3z" fill="#00f"/>
<path d="M525.4 105.2l-1.9-2.8 2.2.7 1.9 2.9z" fill="#0f9"/>
<path d="M517.6 95.4l-1.9-3.3 2.2 1 1.9 3.2z" fill="#0f0"/>
<path d="M634.8 104.5l-2.1 1.1 1.8-2.3 2.2-1z" fill="#0f9"/>
<path d="M648.5 89.9l-2.2 1.3 1.8-2.7 2.3-1.3z" fill="#4f0"/>
<path d="M597.7 128.9l-2 .1 1.9-1.1 2-.1z" fill="#00f"/>
<path d="M617.3 118.9l-2.1.6 1.8-1.7 2.1-.6z" fill="#08f"/>
<path d="M507.8 80.4l-1.9-3.8 2.2 1.1 1.9 3.8z" fill="#9f0"/>
<path d="M539.1 118.6l-1.9-2.1 2.1.4 1.8 2.1z" fill="#09f"/>
<path d="M640.7 98.7l-2.2 1.2 1.9-2.4 2.2-1.2z" fill="#0f4"/>
<path d="M533.2 113.6l-1.9-2.4 2.1.6 1.9 2.4z" fill="#0df"/>
<path d="M554.7 128.1l-1.9-1.5 2 .1 1.9 1.4z" fill="#01f"/>
<path d="M576.2 132.8l-1.9-.6 1.9-.6 2 .6zM580.1 132.7l-1.9-.5 1.9-.6 2 .5zM572.3 132.6l-1.9-.7 1.9-.5 2 .8z" fill="#00f"/>
<path d="M611.4 122.7l-2 .5 1.8-1.6 2.1-.5z" fill="#05f"/>
<path d="M601.6 127.6l-2 .2 1.9-1.3 2-.2z" fill="#02f"/>
<path d="M544.9 122.9l-1.9-1.9 2.1.3 1.9 1.9z" fill="#05f"/>
<path d="M584 132.4l-1.9-.3 1.9-.8 2 .3z" fill="#00f"/>
<path d="M509.7 84.1l-1.9-3.7 2.2 1.1 1.9 3.7z" fill="#8f0"/>
<path d="M519.5 98.5l-1.9-3.1 2.2.9 1.9 3.1z" fill="#0f3"/>
<path d="M568.4 132.2l-1.9-.9 1.9-.3 2 .9z" fill="#00f"/>
<path d="M527.3 107.9l-1.9-2.7 2.2.8 1.8 2.7z" fill="#0fc"/>
<path d="M588 131.8l-2-.2 1.9-.8 2 .2z" fill="#00f"/>
<path d="M646.7 92.5l-2.3 1.3 1.9-2.6 2.2-1.3z" fill="#1f0"/>
<path d="M564.5 131.5l-1.9-1 1.9-.2 2 1z" fill="#00f"/>
<path d="M627.1 111.8l-2.1.9 1.8-2 2.2-.9z" fill="#0ef"/>
<path d="M550.8 126.5l-1.9-1.6 2 .2 1.9 1.5z" fill="#03f"/>
<path d="M633 106.7l-2.2 1 1.9-2.1 2.1-1.1z" fill="#0fb"/>
<path d="M621.2 116.4l-2.1.8 1.9-1.8 2.1-.8z" fill="#0af"/>
<path d="M511.6 87.6l-1.9-3.5 2.2 1.1 1.9 3.5z" fill="#6f0"/>
<path d="M591.9 131l-2 0 1.9-1 2 .1z" fill="#00f"/>
<path d="M605.6 125.9l-2.1.4 1.9-1.3 2.1-.4z" fill="#03f"/>
<path d="M638.9 101.1l-2.2 1.2 1.8-2.4 2.2-1.2z" fill="#0f5"/>
<path d="M560.5 130.6l-1.9-1.2 2-.1 2 1.2z" fill="#00f"/>
<path d="M521.4 101.5l-1.9-3 2.2.9 1.8 3z" fill="#0f5"/>
<path d="M615.4 120.5l-2.1.6 1.9-1.6 2.1-.6z" fill="#07f"/>
<path d="M535.1 115.9l-1.9-2.3 2.1.6 1.9 2.3z" fill="#0bf"/>
<path d="M541 120.6l-1.9-2 2 .4 1.9 2z" fill="#07f"/>
<path d="M595.8 130l-2 .1 1.9-1.1 2-.1z" fill="#00f"/>
<path d="M652.6 85.7l-2.2 1.5 1.8-2.8 2.3-1.5z" fill="#7f0"/>
<path d="M529.2 110.5l-1.9-2.6 2.1.8 1.9 2.5z" fill="#0fe"/>
<path d="M513.5 91.1l-1.9-3.5 2.2 1.1 1.9 3.4z" fill="#3f0"/>
<path d="M546.8 124.7l-1.9-1.8 2.1.3 1.9 1.7z" fill="#04f"/>
<path d="M644.8 95l-2.2 1.3 1.8-2.5 2.3-1.3z" fill="#0f0"/>
<path d="M556.6 129.4l-1.9-1.3 2 0 1.9 1.3z" fill="#01f"/>
<path d="M609.5 124.1l-2 .5 1.9-1.4 2-.5z" fill="#05f"/>
<path d="M599.7 128.7l-2 .2 1.9-1.1 2-.2z" fill="#01f"/>
<path d="M503.7 75.3l-1.9-4 2.2 1.3 1.9 4z" fill="#cf0"/>
<path d="M523.3 104.4l-1.9-2.9 2.1.9 1.9 2.8z" fill="#0f8"/>
<path d="M625.2 113.6l-2.1 1 1.9-1.9 2.1-.9z" fill="#0df"/>
<path d="M631.1 108.7l-2.1 1.1 1.8-2.1 2.2-1z" fill="#0fc"/>
<path d="M578.2 133.3l-2-.5 2-.6 1.9.5zM574.3 133.2l-2-.6 2-.4 1.9.6z" fill="#00f"/>
<path d="M515.4 94.4l-1.9-3.3 2.2 1 1.9 3.3z" fill="#0f0"/>
<path d="M582.1 133l-2-.3 2-.6 1.9.3zM570.3 133l-1.9-.8 2-.3 1.9.7z" fill="#00f"/>
<path d="M619.4 118.1l-2.1.8 1.8-1.7 2.1-.8z" fill="#09f"/>
<path d="M637 103.3l-2.2 1.2 1.9-2.2 2.2-1.2z" fill="#0f7"/>
<path d="M552.7 128l-1.9-1.5 2 .1 1.9 1.5z" fill="#02f"/>
<path d="M586 132.6l-2-.2 2-.8 2 .2z" fill="#00f"/>
<path d="M650.8 88.4l-2.3 1.5 1.9-2.7 2.2-1.5z" fill="#6f0"/>
<path d="M537 118.1l-1.9-2.2 2.1.6 1.9 2.1z" fill="#0af"/>
<path d="M505.6 79.1l-1.9-3.8 2.2 1.3 1.9 3.8z" fill="#af0"/>
<path d="M566.4 132.4l-1.9-.9 2-.2 1.9.9z" fill="#00f"/>
<path d="M531.1 113l-1.9-2.5 2.1.7 1.9 2.4z" fill="#0ef"/>
<path d="M603.7 127.2l-2.1.4 1.9-1.3 2.1-.4z" fill="#02f"/>
<path d="M542.9 122.5l-1.9-1.9 2 .4 1.9 1.9z" fill="#06f"/>
<path d="M590 131.9l-2-.1 1.9-.8 2 0z" fill="#00f"/>
<path d="M613.5 122l-2.1.7 1.9-1.6 2.1-.6z" fill="#06f"/>
<path d="M643 97.4l-2.3 1.3 1.9-2.4 2.2-1.3z" fill="#0f2"/>
<path d="M562.5 131.6l-2-1 2.1-.1 1.9 1z" fill="#00f"/>
<path d="M517.3 97.5l-1.9-3.1 2.2 1 1.9 3.1z" fill="#0f1"/>
<path d="M507.5 82.8l-1.9-3.7 2.2 1.3 1.9 3.7z" fill="#9f0"/>
<path d="M525.2 107.1l-1.9-2.7 2.1.8 1.9 2.7z" fill="#0fa"/>
<path d="M548.7 126.3l-1.9-1.6 2.1.2 1.9 1.6z" fill="#03f"/>
<path d="M593.9 130.9l-2 .1 1.9-.9 2-.1zM558.5 130.6l-1.9-1.2 2 0 1.9 1.2z" fill="#00f"/>
<path d="M629.3 110.7l-2.2 1.1 1.9-2 2.1-1.1z" fill="#0fe"/>
<path d="M607.7 125.4l-2.1.5 1.9-1.3 2-.5z" fill="#04f"/>
<path d="M648.9 91l-2.2 1.5 1.8-2.6 2.3-1.5z" fill="#3f0"/>
<path d="M623.4 115.4l-2.2 1 1.9-1.8 2.1-1z" fill="#0cf"/>
<path d="M635.2 105.4l-2.2 1.3 1.8-2.2 2.2-1.2z" fill="#0f9"/>
<path d="M509.4 86.4l-1.9-3.6 2.2 1.3 1.9 3.5z" fill="#7f0"/>
<path d="M597.8 129.8l-2 .2 1.9-1.1 2-.2z" fill="#01f"/>
<path d="M533 115.3l-1.9-2.3 2.1.6 1.9 2.3z" fill="#0cf"/>
<path d="M538.9 120.1l-1.9-2 2.1.5 1.9 2z" fill="#08f"/>
<path d="M617.5 119.7l-2.1.8 1.9-1.6 2.1-.8z" fill="#09f"/>
<path d="M519.2 100.5l-1.9-3 2.2 1 1.9 3zM641.1 99.7l-2.2 1.4 1.8-2.4 2.3-1.3z" fill="#0f4"/>
<path d="M554.6 129.3l-1.9-1.3 2 .1 1.9 1.3z" fill="#01f"/>
<path d="M527.1 109.7l-1.9-2.6 2.1.8 1.9 2.6z" fill="#0fc"/>
<path d="M544.8 124.3l-1.9-1.8 2 .4 1.9 1.8z" fill="#05f"/>
<path d="M576.2 133.7l-1.9-.5 1.9-.4 2 .5zM580.2 133.6l-2-.3 1.9-.6 2 .3z" fill="#00f"/>
<path d="M511.3 89.9l-1.9-3.5 2.2 1.2 1.9 3.5z" fill="#5f0"/>
<path d="M572.3 133.6l-2-.6 2-.4 2 .6z" fill="#00f"/>
<path d="M611.6 123.4l-2.1.7 1.9-1.4 2.1-.7z" fill="#06f"/>
<path d="M601.8 128.3l-2.1.4 1.9-1.1 2.1-.4z" fill="#02f"/>
<path d="M654.9 84.1l-2.3 1.6 1.9-2.8 2.3-1.6z" fill="#8f0"/>
<path d="M584.1 133.3l-2-.3 1.9-.6 2 .2zM568.3 133.2l-1.9-.8 2-.2 1.9.8z" fill="#00f"/>
<path d="M647.1 93.5l-2.3 1.5 1.9-2.5 2.2-1.5z" fill="#1f0"/>
<path d="M588 132.6l-2 0 2-.8 2 .1z" fill="#00f"/>
<path d="M521.1 103.4l-1.9-2.9 2.2 1 1.9 2.9z" fill="#0f6"/>
<path d="M550.6 127.7l-1.9-1.4 2.1.2 1.9 1.5z" fill="#03f"/>
<path d="M564.4 132.5l-1.9-.9 2-.1 1.9.9z" fill="#00f"/>
<path d="M627.4 112.6l-2.2 1 1.9-1.8 2.2-1.1z" fill="#0ef"/>
<path d="M501.4 73.8l-1.9-4 2.3 1.5 1.9 4z" fill="#df0"/>
<path d="M633.3 107.5l-2.2 1.2 1.9-2 2.2-1.3z" fill="#0fb"/>
<path d="M513.2 93.2l-1.9-3.3 2.2 1.2 1.9 3.3z" fill="#2f0"/>
<path d="M621.5 117.1l-2.1 1 1.8-1.7 2.2-1zM534.9 117.5l-1.9-2.2 2.1.6 1.9 2.2z" fill="#0bf"/>
<path d="M592 131.8l-2 .1 1.9-.9 2-.1z" fill="#00f"/>
<path d="M605.8 126.7l-2.1.5 1.9-1.3 2.1-.5z" fill="#03f"/>
<path d="M540.8 122l-1.9-1.9 2.1.5 1.9 1.9z" fill="#07f"/>
<path d="M560.5 131.6l-2-1 2 0 2 1z" fill="#00f"/>
<path d="M639.2 101.9l-2.2 1.4 1.9-2.2 2.2-1.4z" fill="#0f5"/>
<path d="M529 112.2l-1.9-2.5 2.1.8 1.9 2.5z" fill="#0fe"/>
<path d="M503.4 77.7l-2-3.9 2.3 1.5 1.9 3.8z" fill="#bf0"/>
<path d="M615.6 121.2l-2.1.8 1.9-1.5 2.1-.8z" fill="#08f"/>
<path d="M653.1 86.7l-2.3 1.7 1.8-2.7 2.3-1.6z" fill="#7f0"/>
<path d="M595.9 130.7l-2 .2 1.9-.9 2-.2z" fill="#00f"/>
<path d="M546.7 125.9l-1.9-1.6 2 .4 1.9 1.6z" fill="#04f"/>
<path d="M645.2 95.9l-2.2 1.5 1.8-2.4 2.3-1.5z" fill="#0f0"/>
<path d="M523 106.2l-1.9-2.8 2.2 1 1.9 2.7z" fill="#0f9"/>
<path d="M515.1 96.4l-1.9-3.2 2.2 1.2 1.9 3.1z" fill="#0f0"/>
<path d="M556.5 130.5l-1.9-1.2 2 .1 1.9 1.2z" fill="#01f"/>
<path d="M505.3 81.5l-1.9-3.8 2.2 1.4 1.9 3.7z" fill="#af0"/>
<path d="M609.7 124.8l-2 .6 1.8-1.3 2.1-.7z" fill="#05f"/>
<path d="M599.9 129.4l-2.1.4 1.9-1.1 2.1-.4z" fill="#02f"/>
<path d="M631.5 109.5l-2.2 1.2 1.8-2 2.2-1.2z" fill="#0fc"/>
<path d="M625.5 114.4l-2.1 1 1.8-1.8 2.2-1z" fill="#0df"/>
<path d="M578.2 134.1l-2-.4 2-.4 2 .3zM574.2 134.1l-1.9-.5 2-.4 1.9.5z" fill="#00f"/>
<path d="M536.8 119.5l-1.9-2 2.1.6 1.9 2z" fill="#0af"/>
<path d="M530.8 114.5l-1.8-2.3 2.1.8 1.9 2.3z" fill="#0df"/>
<path d="M552.5 129.1l-1.9-1.4 2.1.3 1.9 1.3z" fill="#02f"/>
<path d="M582.1 133.8l-1.9-.2 1.9-.6 2 .3z" fill="#00f"/>
<path d="M507.2 85.1l-1.9-3.6 2.2 1.3 1.9 3.6z" fill="#8f0"/>
<path d="M570.3 133.8l-2-.6 2-.2 2 .6z" fill="#00f"/>
<path d="M651.2 89.3l-2.3 1.7 1.9-2.6 2.3-1.7z" fill="#6f0"/>
<path d="M637.4 104.1l-2.2 1.3 1.8-2.1 2.2-1.4z" fill="#0f7"/>
<path d="M619.6 118.8l-2.1.9 1.9-1.6 2.1-1z" fill="#0af"/>
<path d="M517 99.4l-1.9-3 2.2 1.1 1.9 3z" fill="#0f2"/>
<path d="M542.7 123.8l-1.9-1.8 2.1.5 1.9 1.8z" fill="#06f"/>
<path d="M586.1 133.3l-2 0 1.9-.7 2 0zM566.3 133.3l-1.9-.8 2-.1 1.9.8z" fill="#00f"/>
<path d="M524.9 108.8l-1.9-2.6 2.2.9 1.9 2.6z" fill="#0fb"/>
<path d="M603.9 127.8l-2.1.5 1.9-1.1 2.1-.5z" fill="#03f"/>
<path d="M643.3 98.2l-2.2 1.5 1.9-2.3 2.2-1.5z" fill="#0f2"/>
<path d="M613.7 122.6l-2.1.8 1.9-1.4 2.1-.8z" fill="#07f"/>
<path d="M590 132.6l-2 0 2-.7 2-.1zM562.4 132.6l-1.9-1 2 0 1.9.9z" fill="#00f"/>
<path d="M509.1 88.6l-1.9-3.5 2.2 1.3 1.9 3.5z" fill="#7f0"/>
<path d="M548.6 127.4l-1.9-1.5 2 .4 1.9 1.4z" fill="#04f"/>
<path d="M657.2 82.3l-2.3 1.8 1.9-2.8 2.3-1.8z" fill="#9f0"/>
<path d="M594 131.6l-2 .2 1.9-.9 2-.2z" fill="#00f"/>
<path d="M518.9 102.3l-1.9-2.9 2.2 1.1 1.9 2.9z" fill="#0f5"/>
<path d="M558.4 131.6l-1.9-1.1 2 .1 2 1z" fill="#00f"/>
<path d="M649.3 91.8l-2.2 1.7 1.8-2.5 2.3-1.7z" fill="#3f0"/>
<path d="M532.7 116.7l-1.9-2.2 2.2.8 1.9 2.2z" fill="#0cf"/>
<path d="M629.6 111.3l-2.2 1.3 1.9-1.9 2.2-1.2z" fill="#0fd"/>
<path d="M607.8 126l-2 .7 1.9-1.3 2-.6z" fill="#04f"/>
<path d="M538.7 121.4l-1.9-1.9 2.1.6 1.9 1.9z" fill="#08f"/>
<path d="M623.7 116.1l-2.2 1 1.9-1.7 2.1-1z" fill="#0cf"/>
<path d="M635.5 106.1l-2.2 1.4 1.9-2.1 2.2-1.3z" fill="#0f9"/>
<path d="M511 91.9l-1.9-3.3 2.2 1.3 1.9 3.3z" fill="#4f0"/>
<path d="M499.2 72.3l-2-4.1 2.3 1.6 1.9 4z" fill="#df0"/>
<path d="M526.8 111.3l-1.9-2.5 2.2.9 1.9 2.5z" fill="#0fd"/>
<path d="M598 130.4l-2.1.3 1.9-.9 2.1-.4z" fill="#01f"/>
<path d="M617.8 120.3l-2.2.9 1.9-1.5 2.1-.9z" fill="#09f"/>
<path d="M544.6 125.4l-1.9-1.6 2.1.5 1.9 1.6z" fill="#05f"/>
<path d="M641.5 100.4l-2.3 1.5 1.9-2.2 2.2-1.5z" fill="#0f3"/>
<path d="M554.5 130.3l-2-1.2 2.1.2 1.9 1.2z" fill="#01f"/>
<path d="M501.1 76.2l-1.9-3.9 2.2 1.5 2 3.9z" fill="#cf0"/>
<path d="M655.4 84.9l-2.3 1.8 1.8-2.6 2.3-1.8z" fill="#8f0"/>
<path d="M576.2 134.4l-2-.3 2-.4 2 .4z" fill="#00f"/>
<path d="M520.8 105.1l-1.9-2.8 2.2 1.1 1.9 2.8z" fill="#0f7"/>
<path d="M572.3 134.3l-2-.5 2-.2 1.9.5zM580.2 134.3l-2-.2 2-.5 1.9.2z" fill="#00f"/>
<path d="M512.9 95.1l-1.9-3.2 2.2 1.3 1.9 3.2z" fill="#1f0"/>
<path d="M611.8 124l-2.1.8 1.9-1.4 2.1-.8z" fill="#06f"/>
<path d="M602 128.9l-2.1.5 1.9-1.1 2.1-.5z" fill="#03f"/>
<path d="M568.3 134l-2-.7 2-.1 2 .6zM584.1 133.9l-2-.1 2-.5 2 0z" fill="#00f"/>
<path d="M647.5 94.2l-2.3 1.7 1.9-2.4 2.2-1.7z" fill="#2f0"/>
<path d="M503 80l-1.9-3.8 2.3 1.5 1.9 3.8z" fill="#af0"/>
<path d="M550.5 128.7l-1.9-1.3 2 .3 1.9 1.4z" fill="#03f"/>
<path d="M534.6 118.8l-1.9-2.1 2.2.8 1.9 2z" fill="#0bf"/>
<path d="M564.3 133.3l-1.9-.7 2-.1 1.9.8zM588.1 133.2l-2 .1 1.9-.7 2 0z" fill="#00f"/>
<path d="M528.7 113.6l-1.9-2.3 2.2.9 1.8 2.3zM627.7 113.1l-2.2 1.3 1.9-1.8 2.2-1.3z" fill="#0fe"/>
<path d="M633.7 108.1l-2.2 1.4 1.8-2 2.2-1.4z" fill="#0fa"/>
<path d="M540.6 123.2l-1.9-1.8 2.1.6 1.9 1.8z" fill="#07f"/>
<path d="M621.8 117.7l-2.2 1.1 1.9-1.7 2.2-1z" fill="#0bf"/>
<path d="M504.9 83.6l-1.9-3.6 2.3 1.5 1.9 3.6z" fill="#9f0"/>
<path d="M592.1 132.4l-2.1.2 2-.8 2-.2zM560.4 132.5l-2-.9 2.1 0 1.9 1z" fill="#00f"/>
<path d="M639.6 102.5l-2.2 1.6 1.8-2.2 2.3-1.5z" fill="#0f5"/>
<path d="M514.8 98.2l-1.9-3.1 2.2 1.3 1.9 3z" fill="#0f0"/>
<path d="M605.9 127.2l-2 .6 1.9-1.1 2-.7z" fill="#04f"/>
<path d="M653.5 87.5l-2.3 1.8 1.9-2.6 2.3-1.8z" fill="#7f0"/>
<path d="M522.7 107.7l-1.9-2.6 2.2 1.1 1.9 2.6z" fill="#0f9"/>
<path d="M615.9 121.7l-2.2.9 1.9-1.4 2.2-.9z" fill="#08f"/>
<path d="M546.5 126.9l-1.9-1.5 2.1.5 1.9 1.5z" fill="#04f"/>
<path d="M645.6 96.5l-2.3 1.7 1.9-2.3 2.3-1.7z" fill="#0f0"/>
<path d="M596 131.2l-2 .4 1.9-.9 2.1-.3zM556.4 131.3l-1.9-1 2 .2 1.9 1.1z" fill="#01f"/>
<path d="M506.8 87.1l-1.9-3.5 2.3 1.5 1.9 3.5z" fill="#8f0"/>
<path d="M516.7 101.1l-1.9-2.9 2.2 1.2 1.9 2.9z" fill="#0f3"/>
<path d="M530.6 115.8l-1.9-2.2 2.1.9 1.9 2.2z" fill="#0df"/>
<path d="M536.5 120.7l-1.9-1.9 2.2.7 1.9 1.9z" fill="#09f"/>
<path d="M609.9 125.2l-2.1.8 1.9-1.2 2.1-.8z" fill="#06f"/>
<path d="M659.6 80.3l-2.4 2 1.9-2.8 2.3-1.9z" fill="#af0"/>
<path d="M600 129.8l-2 .6 1.9-1 2.1-.5z" fill="#02f"/>
<path d="M631.8 110l-2.2 1.3 1.9-1.8 2.2-1.4z" fill="#0fb"/>
<path d="M625.8 114.8l-2.1 1.3 1.8-1.7 2.2-1.3z" fill="#0ef"/>
<path d="M552.4 130l-1.9-1.3 2 .4 2 1.2z" fill="#02f"/>
<path d="M651.6 90l-2.3 1.8 1.9-2.5 2.3-1.8z" fill="#6f0"/>
<path d="M574.2 134.7l-1.9-.4 1.9-.2 2 .3z" fill="#00f"/>
<path d="M524.6 110.2l-1.9-2.5 2.2 1.1 1.9 2.5z" fill="#0fb"/>
<path d="M578.2 134.6l-2-.2 2-.3 2 .2z" fill="#00f"/>
<path d="M508.8 90.5l-2-3.4 2.3 1.5 1.9 3.3z" fill="#6f0"/>
<path d="M542.5 124.8l-1.9-1.6 2.1.6 1.9 1.6z" fill="#06f"/>
<path d="M637.8 104.6l-2.3 1.5 1.9-2 2.2-1.6z" fill="#0f7"/>
<path d="M570.3 134.5l-2-.5 2-.2 2 .5zM582.2 134.3l-2 0 1.9-.5 2 .1z" fill="#00f"/>
<path d="M496.9 70.6l-2-4.1 2.3 1.7 2 4.1z" fill="#ef0"/>
<path d="M619.9 119.2l-2.1 1.1 1.8-1.5 2.2-1.1z" fill="#0af"/>
<path d="M566.3 134l-2-.7 2 0 2 .7zM586.1 133.8l-2 .1 2-.6 2-.1z" fill="#00f"/>
<path d="M643.7 98.7l-2.2 1.7 1.8-2.2 2.3-1.7z" fill="#0f1"/>
<path d="M498.8 74.5l-1.9-3.9 2.3 1.7 1.9 3.9z" fill="#df0"/>
<path d="M604 128.2l-2 .7 1.9-1.1 2-.6z" fill="#04f"/>
<path d="M518.6 103.9l-1.9-2.8 2.2 1.2 1.9 2.8z" fill="#0f5"/>
<path d="M562.3 133.3l-1.9-.8 2 .1 1.9.7z" fill="#00f"/>
<path d="M548.4 128.3l-1.9-1.4 2.1.5 1.9 1.3z" fill="#04f"/>
<path d="M614 123l-2.2 1 1.9-1.4 2.2-.9z" fill="#08f"/>
<path d="M590.1 133l-2 .2 1.9-.6 2.1-.2z" fill="#00f"/>
<path d="M510.7 93.7l-1.9-3.2 2.2 1.4 1.9 3.2z" fill="#3f0"/>
<path d="M657.7 83l-2.3 1.9 1.8-2.6 2.4-2z" fill="#9f0"/>
<path d="M532.5 117.9l-1.9-2.1 2.1.9 1.9 2.1z" fill="#0cf"/>
<path d="M500.7 78.3l-1.9-3.8 2.3 1.7 1.9 3.8z" fill="#bf0"/>
<path d="M649.8 92.4l-2.3 1.8 1.8-2.4 2.3-1.8z" fill="#4f0"/>
<path d="M558.3 132.3l-1.9-1 2 .3 2 .9z" fill="#01f"/>
<path d="M538.5 122.5l-2-1.8 2.2.7 1.9 1.8z" fill="#08f"/>
<path d="M526.5 112.6l-1.9-2.4 2.2 1.1 1.9 2.3z" fill="#0fd"/>
<path d="M594.1 132l-2 .4 1.9-.8 2-.4z" fill="#01f"/>
<path d="M629.9 111.7l-2.2 1.4 1.9-1.8 2.2-1.3z" fill="#0fd"/>
<path d="M635.9 106.6l-2.2 1.5 1.8-2 2.3-1.5z" fill="#0f8"/>
<path d="M624 116.4l-2.2 1.3 1.9-1.6 2.1-1.3z" fill="#0df"/>
<path d="M608 126.4l-2.1.8 1.9-1.2 2.1-.8zM544.4 126.4l-1.9-1.6 2.1.6 1.9 1.5z" fill="#05f"/>
<path d="M502.6 82l-1.9-3.7 2.3 1.7 1.9 3.6z" fill="#af0"/>
<path d="M512.6 96.8l-1.9-3.1 2.2 1.4 1.9 3.1z" fill="#1f0"/>
<path d="M520.5 106.5l-1.9-2.6 2.2 1.2 1.9 2.6z" fill="#0f7"/>
<path d="M554.3 131l-1.9-1 2.1.3 1.9 1z" fill="#02f"/>
<path d="M641.9 100.9l-2.3 1.6 1.9-2.1 2.2-1.7z" fill="#0f3"/>
<path d="M598.1 130.7l-2.1.5 2-.8 2-.6z" fill="#02f"/>
<path d="M618 120.6l-2.1 1.1 1.9-1.4 2.1-1.1z" fill="#0af"/>
<path d="M655.8 85.5l-2.3 2 1.9-2.6 2.3-1.9z" fill="#8f0"/>
<path d="M576.2 134.9l-2-.2 2-.3 2 .2zM572.2 134.8l-1.9-.3 2-.2 1.9.4zM580.2 134.7l-2-.1 2-.3 2 0z" fill="#00f"/>
<path d="M504.6 85.5l-2-3.5 2.3 1.6 1.9 3.5z" fill="#9f0"/>
<path d="M647.9 94.7l-2.3 1.8 1.9-2.3 2.3-1.8z" fill="#2f0"/>
<path d="M534.4 119.8l-1.9-1.9 2.1.9 1.9 1.9z" fill="#0bf"/>
<path d="M568.3 134.5l-2-.5 2 0 2 .5z" fill="#00f"/>
<path d="M528.4 114.8l-1.9-2.2 2.2 1 1.9 2.2z" fill="#0fe"/>
<path d="M612.1 124.3l-2.2.9 1.9-1.2 2.2-1z" fill="#07f"/>
<path d="M550.3 129.5l-1.9-1.2 2.1.4 1.9 1.3z" fill="#03f"/>
<path d="M584.2 134.3l-2 0 1.9-.4 2-.1z" fill="#00f"/>
<path d="M602.1 129.2l-2.1.6 2-.9 2-.7z" fill="#03f"/>
<path d="M514.5 99.7l-1.9-2.9 2.2 1.4 1.9 2.9z" fill="#0f1"/>
<path d="M540.4 124.1l-1.9-1.6 2.1.7 1.9 1.6z" fill="#07f"/>
<path d="M564.3 133.9l-2-.6 2 0 2 .7zM588.2 133.6l-2.1.2 2-.6 2-.2z" fill="#00f"/>
<path d="M522.4 109l-1.9-2.5 2.2 1.2 1.9 2.5z" fill="#0f9"/>
<path d="M628 113.4l-2.2 1.4 1.9-1.7 2.2-1.4z" fill="#0fe"/>
<path d="M634 108.4l-2.2 1.6 1.9-1.9 2.2-1.5z" fill="#0f9"/>
<path d="M506.5 88.9l-1.9-3.4 2.2 1.6 2 3.4z" fill="#7f0"/>
<path d="M661.9 78.2l-2.3 2.1 1.8-2.7 2.4-2.1z" fill="#bf0"/>
<path d="M622.1 117.9l-2.2 1.3 1.9-1.5 2.2-1.3z" fill="#0cf"/>
<path d="M560.3 133.1l-2-.8 2.1.2 1.9.8z" fill="#01f"/>
<path d="M654 88l-2.4 2 1.9-2.5 2.3-2z" fill="#7f0"/>
<path d="M640 102.9l-2.2 1.7 1.8-2.1 2.3-1.6z" fill="#0f4"/>
<path d="M494.5 68.7l-1.9-4.1 2.3 1.9 2 4.1z" fill="#fe0"/>
<path d="M592.2 132.7l-2.1.3 2-.6 2-.4z" fill="#01f"/>
<path d="M546.3 127.7l-1.9-1.3 2.1.5 1.9 1.4zM606.1 127.4l-2.1.8 1.9-1 2.1-.8z" fill="#05f"/>
<path d="M616.1 121.9l-2.1 1.1 1.9-1.3 2.1-1.1z" fill="#09f"/>
<path d="M516.4 102.5l-1.9-2.8 2.2 1.4 1.9 2.8z" fill="#0f3"/>
<path d="M646 96.9l-2.3 1.8 1.9-2.2 2.3-1.8z" fill="#0f0"/>
<path d="M556.3 132l-2-1 2.1.3 1.9 1z" fill="#02f"/>
<path d="M496.5 72.7l-2-4 2.4 1.9 1.9 3.9z" fill="#ef0"/>
<path d="M530.3 116.9l-1.9-2.1 2.2 1 1.9 2.1z" fill="#0df"/>
<path d="M596.2 131.5l-2.1.5 1.9-.8 2.1-.5z" fill="#02f"/>
<path d="M508.4 92.1l-1.9-3.2 2.3 1.6 1.9 3.2z" fill="#5f0"/>
<path d="M536.3 121.6l-1.9-1.8 2.1.9 2 1.8z" fill="#0af"/>
<path d="M524.3 111.4l-1.9-2.4 2.2 1.2 1.9 2.4z" fill="#0fb"/>
<path d="M660.1 80.9l-2.4 2.1 1.9-2.7 2.3-2.1z" fill="#af0"/>
<path d="M498.4 76.5l-1.9-3.8 2.3 1.8 1.9 3.8z" fill="#cf0"/>
<path d="M610.2 125.4l-2.2 1 1.9-1.2 2.2-.9z" fill="#07f"/>
<path d="M552.3 130.6l-2-1.1 2.1.5 1.9 1z" fill="#03f"/>
<path d="M542.3 125.7l-1.9-1.6 2.1.7 1.9 1.6z" fill="#07f"/>
<path d="M652.1 90.4l-2.3 2 1.8-2.4 2.4-2z" fill="#6f0"/>
<path d="M632.1 110.2l-2.2 1.5 1.9-1.7 2.2-1.6z" fill="#0fb"/>
<path d="M600.2 130.1l-2.1.6 1.9-.9 2.1-.6z" fill="#03f"/>
<path d="M626.1 115l-2.1 1.4 1.8-1.6 2.2-1.4z" fill="#0ff"/>
<path d="M574.2 135.1l-2-.3 2-.1 2 .2zM578.2 135l-2-.1 2-.3 2 .1z" fill="#00f"/>
<path d="M638.1 104.9l-2.2 1.7 1.9-2 2.2-1.7z" fill="#0f6"/>
<path d="M570.2 134.9l-1.9-.4 2 0 1.9.3z" fill="#00f"/>
<path d="M518.3 105.2l-1.9-2.7 2.2 1.4 1.9 2.6z" fill="#0f6"/>
<path d="M510.3 95.3l-1.9-3.2 2.3 1.6 1.9 3.1z" fill="#3f0"/>
<path d="M582.2 134.7l-2 0 2-.4 2 0z" fill="#00f"/>
<path d="M500.3 80.2l-1.9-3.7 2.3 1.8 1.9 3.7z" fill="#bf0"/>
<path d="M620.2 119.4l-2.2 1.2 1.9-1.4 2.2-1.3z" fill="#0bf"/>
<path d="M566.2 134.4l-1.9-.5 2 .1 2 .5z" fill="#00f"/>
<path d="M644.2 99l-2.3 1.9 1.8-2.2 2.3-1.8z" fill="#0f0"/>
<path d="M586.2 134.1l-2 .2 1.9-.5 2.1-.2z" fill="#00f"/>
<path d="M548.2 129l-1.9-1.3 2.1.6 1.9 1.2z" fill="#04f"/>
<path d="M562.2 133.7l-1.9-.6 2 .2 2 .6z" fill="#01f"/>
<path d="M532.2 118.9l-1.9-2 2.2 1 1.9 1.9z" fill="#0cf"/>
<path d="M604.2 128.4l-2.1.8 1.9-1 2.1-.8z" fill="#04f"/>
<path d="M658.2 83.4l-2.4 2.1 1.9-2.5 2.4-2.1z" fill="#9f0"/>
<path d="M526.2 113.7l-1.9-2.3 2.2 1.2 1.9 2.2z" fill="#0fd"/>
<path d="M614.2 123.2l-2.1 1.1 1.9-1.3 2.1-1.1z" fill="#08f"/>
<path d="M590.2 133.2l-2 .4 1.9-.6 2.1-.3z" fill="#01f"/>
<path d="M502.3 83.8l-2-3.6 2.3 1.8 2 3.5z" fill="#af0"/>
<path d="M538.2 123.3l-1.9-1.7 2.2.9 1.9 1.6z" fill="#09f"/>
<path d="M650.2 92.7l-2.3 2 1.9-2.3 2.3-2z" fill="#5f0"/>
<path d="M512.2 98.2l-1.9-2.9 2.3 1.5 1.9 2.9z" fill="#0f0"/>
<path d="M558.2 132.8l-1.9-.8 2 .3 2 .8z" fill="#01f"/>
<path d="M520.2 107.8l-1.9-2.6 2.2 1.3 1.9 2.5z" fill="#0f8"/>
<path d="M594.2 132.2l-2 .5 1.9-.7 2.1-.5z" fill="#02f"/>
<path d="M630.3 111.9l-2.3 1.5 1.9-1.7 2.2-1.5z" fill="#0fc"/>
<path d="M636.3 106.7l-2.3 1.7 1.9-1.8 2.2-1.7z" fill="#0f7"/>
<path d="M544.2 127.1l-1.9-1.4 2.1.7 1.9 1.3z" fill="#06f"/>
<path d="M624.3 116.6l-2.2 1.3 1.9-1.5 2.1-1.4z" fill="#0ef"/>
<path d="M504.2 87.2l-1.9-3.4 2.3 1.7 1.9 3.4z" fill="#8f0"/>
<path d="M608.2 126.5l-2.1.9 1.9-1 2.2-1z" fill="#06f"/>
<path d="M554.2 131.6l-1.9-1 2 .4 2 1z" fill="#02f"/>
<path d="M642.3 101.1l-2.3 1.8 1.9-2 2.3-1.9z" fill="#0f2"/>
<path d="M664.3 75.9l-2.4 2.3 1.9-2.7 2.4-2.3z" fill="#df0"/>
<path d="M492.2 66.7l-2-4.1 2.4 2 1.9 4.1z" fill="#fc0"/>
<path d="M656.3 85.9l-2.3 2.1 1.8-2.5 2.4-2.1z" fill="#8f0"/>
<path d="M598.2 130.8l-2 .7 1.9-.8 2.1-.6z" fill="#03f"/>
<path d="M618.3 120.7l-2.2 1.2 1.9-1.3 2.2-1.2z" fill="#0bf"/>
<path d="M514.2 101.1l-2-2.9 2.3 1.5 1.9 2.8z" fill="#0f1"/>
<path d="M528.2 115.8l-2-2.1 2.2 1.1 1.9 2.1z" fill="#0fe"/>
<path d="M534.2 120.7l-2-1.8 2.2.9 1.9 1.8z" fill="#0bf"/>
<path d="M576.2 135.1l-2 0 2-.2 2 .1z" fill="#00f"/>
<path d="M494.1 70.7l-1.9-4 2.3 2 2 4z" fill="#fe0"/>
<path d="M648.3 94.9l-2.3 2 1.9-2.2 2.3-2z" fill="#3f0"/>
<path d="M572.2 135.1l-2-.2 2-.1 2 .3z" fill="#00f"/>
<path d="M506.1 90.5l-1.9-3.3 2.3 1.7 1.9 3.2z" fill="#7f0"/>
<path d="M580.2 134.9l-2 .1 2-.3 2 0z" fill="#00f"/>
<path d="M550.2 130.1l-2-1.1 2.1.5 2 1.1z" fill="#04f"/>
<path d="M522.1 110.2l-1.9-2.4 2.2 1.2 1.9 2.4z" fill="#0f9"/>
<path d="M568.2 134.8l-2-.4 2.1.1 1.9.4z" fill="#00f"/>
<path d="M540.1 124.9l-1.9-1.6 2.2.8 1.9 1.6z" fill="#08f"/>
<path d="M584.2 134.4l-2 .3 2-.4 2-.2z" fill="#00f"/>
<path d="M612.3 124.3l-2.1 1.1 1.9-1.1 2.1-1.1z" fill="#08f"/>
<path d="M602.3 129.3l-2.1.8 1.9-.9 2.1-.8z" fill="#04f"/>
<path d="M564.2 134.3l-2-.6 2.1.2 1.9.5z" fill="#01f"/>
<path d="M496.1 74.6l-2-3.9 2.4 2 1.9 3.8z" fill="#df0"/>
<path d="M662.4 78.6l-2.3 2.3 1.8-2.7 2.4-2.3z" fill="#cf0"/>
<path d="M588.3 133.7l-2.1.4 2-.5 2-.4z" fill="#01f"/>
<path d="M634.4 108.5l-2.3 1.7 1.9-1.8 2.3-1.7z" fill="#0f8"/>
<path d="M628.4 113.5l-2.3 1.5 1.9-1.6 2.3-1.5z" fill="#0fd"/>
<path d="M654.4 88.3l-2.3 2.1 1.9-2.4 2.3-2.1z" fill="#8f0"/>
<path d="M516.1 103.8l-1.9-2.7 2.2 1.4 1.9 2.7z" fill="#0f4"/>
<path d="M560.2 133.5l-2-.7 2.1.3 1.9.6z" fill="#01f"/>
<path d="M640.4 103l-2.3 1.9 1.9-2 2.3-1.8z" fill="#0f3"/>
<path d="M508 93.6l-1.9-3.1 2.3 1.6 1.9 3.2z" fill="#5f0"/>
<path d="M622.4 118l-2.2 1.4 1.9-1.5 2.2-1.3z" fill="#0df"/>
<path d="M546.1 128.3l-1.9-1.2 2.1.6 1.9 1.3z" fill="#05f"/>
<path d="M498 78.3l-1.9-3.7 2.3 1.9 1.9 3.7z" fill="#cf0"/>
<path d="M592.3 132.7l-2.1.5 2-.5 2-.5z" fill="#02f"/>
<path d="M606.3 127.5l-2.1.9 1.9-1 2.1-.9z" fill="#06f"/>
<path d="M530.1 117.8l-1.9-2 2.1 1.1 1.9 2z" fill="#0df"/>
<path d="M646.5 97l-2.3 2 1.8-2.1 2.3-2z" fill="#1f0"/>
<path d="M556.1 132.4l-1.9-.8 2.1.4 1.9.8z" fill="#02f"/>
<path d="M536.1 122.4l-1.9-1.7 2.1.9 1.9 1.7z" fill="#0af"/>
<path d="M524 112.4l-1.9-2.2 2.2 1.2 1.9 2.3z" fill="#0fb"/>
<path d="M616.4 121.9l-2.2 1.3 1.9-1.3 2.2-1.2z" fill="#0af"/>
<path d="M596.3 131.5l-2.1.7 2-.7 2-.7z" fill="#03f"/>
<path d="M499.9 81.9l-1.9-3.6 2.3 1.9 2 3.6zM660.6 81.1l-2.4 2.3 1.9-2.5 2.3-2.3z" fill="#bf0"/>
<path d="M510 96.6l-2-3 2.3 1.7 1.9 2.9z" fill="#2f0"/>
<path d="M542.1 126.3l-2-1.4 2.2.8 1.9 1.4z" fill="#07f"/>
<path d="M518 106.3l-1.9-2.5 2.2 1.4 1.9 2.6z" fill="#0f6"/>
<path d="M552.1 131l-1.9-.9 2.1.5 1.9 1z" fill="#03f"/>
<path d="M652.6 90.6l-2.4 2.1 1.9-2.3 2.3-2.1z" fill="#7f0"/>
<path d="M610.4 125.4l-2.2 1.1 2-1.1 2.1-1.1z" fill="#08f"/>
<path d="M632.5 110.2l-2.2 1.7 1.8-1.7 2.3-1.7z" fill="#0f9"/>
<path d="M626.5 115l-2.2 1.6 1.8-1.6 2.3-1.5z" fill="#0fe"/>
<path d="M574.2 135.2l-2-.1 2 0 2 0z" fill="#00f"/>
<path d="M638.5 104.9l-2.2 1.8 1.8-1.8 2.3-1.9z" fill="#0f5"/>
<path d="M600.3 130l-2.1.8 2-.7 2.1-.8z" fill="#04f"/>
<path d="M578.2 135.1l-2 0 2-.1 2-.1zM570.2 135.1l-2-.3 2 .1 2 .2z" fill="#00f"/>
<path d="M501.9 85.4l-2-3.5 2.4 1.9 1.9 3.4z" fill="#9f0"/>
<path d="M582.3 134.7l-2.1.2 2-.2 2-.3zM566.2 134.7l-2-.4 2 .1 2 .4z" fill="#01f"/>
<path d="M620.5 119.3l-2.2 1.4 1.9-1.3 2.2-1.4zM532 119.6l-1.9-1.8 2.1 1.1 2 1.8z" fill="#0cf"/>
<path d="M644.6 99.1l-2.3 2 1.9-2.1 2.3-2z" fill="#0f0"/>
<path d="M526 114.6l-2-2.2 2.2 1.3 2 2.1z" fill="#0fd"/>
<path d="M548.1 129.4l-2-1.1 2.1.7 2 1.1z" fill="#05f"/>
<path d="M489.8 64.6l-2-4.2 2.4 2.2 2 4.1z" fill="#fa0"/>
<path d="M511.9 99.5l-1.9-2.9 2.2 1.6 2 2.9z" fill="#0f0"/>
<path d="M586.3 134.1l-2.1.3 2-.3 2.1-.4z" fill="#01f"/>
<path d="M658.7 83.6l-2.4 2.3 1.9-2.5 2.4-2.3z" fill="#af0"/>
<path d="M562.1 134l-1.9-.5 2 .2 2 .6z" fill="#01f"/>
<path d="M666.7 73.5l-2.4 2.4 1.9-2.7 2.4-2.4z" fill="#ef0"/>
<path d="M538 123.9l-1.9-1.5 2.1.9 1.9 1.6z" fill="#09f"/>
<path d="M519.9 108.8l-1.9-2.5 2.2 1.5 1.9 2.4z" fill="#0f7"/>
<path d="M604.4 128.3l-2.1 1 1.9-.9 2.1-.9z" fill="#06f"/>
<path d="M503.8 88.7l-1.9-3.3 2.3 1.8 1.9 3.3z" fill="#8f0"/>
<path d="M491.7 68.6l-1.9-4 2.4 2.1 1.9 4z" fill="#fd0"/>
<path d="M614.5 123.1l-2.2 1.2 1.9-1.1 2.2-1.3z" fill="#0af"/>
<path d="M590.3 133.2l-2 .5 1.9-.5 2.1-.5z" fill="#02f"/>
<path d="M650.7 92.8l-2.4 2.1 1.9-2.2 2.4-2.1z" fill="#5f0"/>
<path d="M558.1 133.1l-2-.7 2.1.4 2 .7z" fill="#02f"/>
<path d="M544 127.5l-1.9-1.2 2.1.8 1.9 1.2z" fill="#07f"/>
<path d="M493.7 72.5l-2-3.9 2.4 2.1 2 3.9z" fill="#ff0"/>
<path d="M630.6 111.8l-2.2 1.7 1.9-1.6 2.2-1.7z" fill="#0fb"/>
<path d="M636.6 106.7l-2.2 1.8 1.9-1.8 2.2-1.8z" fill="#0f6"/>
<path d="M513.8 102.2l-1.9-2.7 2.3 1.6 1.9 2.7z" fill="#0f1"/>
<path d="M554.1 131.9l-2-.9 2.1.6 1.9.8z" fill="#03f"/>
<path d="M624.6 116.4l-2.2 1.6 1.9-1.4 2.2-1.6z" fill="#0fe"/>
<path d="M664.9 76.1l-2.5 2.5 1.9-2.7 2.4-2.4z" fill="#df0"/>
<path d="M505.7 91.8l-1.9-3.1 2.3 1.8 1.9 3.1z" fill="#7f0"/>
<path d="M656.8 86l-2.4 2.3 1.9-2.4 2.4-2.3z" fill="#9f0"/>
<path d="M642.7 101l-2.3 2 1.9-1.9 2.3-2z" fill="#0f1"/>
<path d="M527.9 116.6l-1.9-2 2.2 1.2 1.9 2z" fill="#0fe"/>
<path d="M533.9 121.3l-1.9-1.7 2.2 1.1 1.9 1.7z" fill="#0bf"/>
<path d="M495.6 76.3l-1.9-3.8 2.4 2.1 1.9 3.7z" fill="#df0"/>
<path d="M521.8 111l-1.9-2.2 2.2 1.4 1.9 2.2z" fill="#0f9"/>
<path d="M618.6 120.5l-2.2 1.4 1.9-1.2 2.2-1.4z" fill="#0cf"/>
<path d="M648.8 94.9l-2.3 2.1 1.8-2.1 2.4-2.1z" fill="#4f0"/>
<path d="M550 130.4l-1.9-1 2.1.7 1.9.9z" fill="#05f"/>
<path d="M539.9 125.4l-1.9-1.5 2.1 1 2 1.4z" fill="#08f"/>
<path d="M576.2 135.2l-2 0 2-.1 2 0zM572.2 135.2l-2-.1 2 0 2 .1zM568.1 134.9l-1.9-.2 2 .1 2 .3z" fill="#01f"/>
<path d="M497.6 79.9l-2-3.6 2.4 2 1.9 3.6z" fill="#cf0"/>
<path d="M507.7 94.9l-2-3.1 2.3 1.8 2 3z" fill="#5f0"/>
<path d="M515.7 104.8l-1.9-2.6 2.3 1.6 1.9 2.5z" fill="#0f3"/>
<path d="M564.1 134.4l-2-.4 2.1.3 2 .4z" fill="#02f"/>
<path d="M663 78.7l-2.4 2.4 1.8-2.5 2.5-2.5z" fill="#cf0"/>
<path d="M654.9 88.2l-2.3 2.4 1.8-2.3 2.4-2.3z" fill="#8f0"/>
<path d="M634.8 108.3l-2.3 1.9 1.9-1.7 2.2-1.8z" fill="#0f7"/>
<path d="M628.7 113.3l-2.2 1.7 1.9-1.5 2.2-1.7z" fill="#0fb"/>
<path d="M545.9 128.7l-1.9-1.2 2.1.8 2 1.1z" fill="#06f"/>
<path d="M560.1 133.6l-2-.5 2.1.4 1.9.5z" fill="#02f"/>
<path d="M640.8 102.9l-2.3 2 1.9-1.9 2.3-2z" fill="#0f2"/>
<path d="M529.8 118.4l-1.9-1.8 2.2 1.2 1.9 1.8z" fill="#0ef"/>
<path d="M499.5 83.4l-1.9-3.5 2.3 2 2 3.5z" fill="#af0"/>
<path d="M523.7 113.2l-1.9-2.2 2.2 1.4 2 2.2z" fill="#0fb"/>
<path d="M535.8 122.9l-1.9-1.6 2.2 1.1 1.9 1.5z" fill="#0bf"/>
<path d="M509.6 97.7l-1.9-2.8 2.3 1.7 1.9 2.9z" fill="#2f0"/>
<path d="M556 132.6l-1.9-.7 2 .5 2 .7z" fill="#03f"/>
<path d="M646.9 96.9l-2.3 2.2 1.9-2.1 2.3-2.1z" fill="#2f0"/>
<path d="M487.4 62.3l-2-4.2 2.4 2.3 2 4.2z" fill="#f80"/>
<path d="M517.6 107.2l-1.9-2.4 2.3 1.5 1.9 2.5z" fill="#0f5"/>
<path d="M661.1 81.1l-2.4 2.5 1.9-2.5 2.4-2.4z" fill="#bf0"/>
<path d="M501.5 86.7l-2-3.3 2.4 2 1.9 3.3z" fill="#9f0"/>
<path d="M541.9 126.6l-2-1.2 2.2.9 1.9 1.2z" fill="#08f"/>
<path d="M489.3 66.4l-1.9-4.1 2.4 2.3 1.9 4z" fill="#fb0"/>
<path d="M552 131.2l-2-.8 2.1.6 2 .9z" fill="#04f"/>
<path d="M653.1 90.4l-2.4 2.4 1.9-2.2 2.3-2.4z" fill="#7f0"/>
<path d="M511.5 100.5l-1.9-2.8 2.3 1.8 1.9 2.7z" fill="#0f0"/>
<path d="M632.9 109.9l-2.3 1.9 1.9-1.6 2.3-1.9z" fill="#0f8"/>
<path d="M491.3 70.3l-2-3.9 2.4 2.2 2 3.9z" fill="#fd0"/>
<path d="M638.9 104.6l-2.3 2.1 1.9-1.8 2.3-2z" fill="#0f3"/>
<path d="M525.6 115.2l-1.9-2 2.3 1.4 1.9 2z" fill="#0fc"/>
<path d="M531.7 120.1l-1.9-1.7 2.2 1.2 1.9 1.7z" fill="#0df"/>
<path d="M503.4 89.9l-1.9-3.2 2.3 2 1.9 3.1z" fill="#8f0"/>
<path d="M547.9 129.6l-2-.9 2.2.7 1.9 1z" fill="#06f"/>
<path d="M519.6 109.5l-2-2.3 2.3 1.6 1.9 2.2z" fill="#0f7"/>
<path d="M645 98.9l-2.3 2.1 1.9-1.9 2.3-2.2z" fill="#1f0"/>
<path d="M537.8 124.3l-2-1.4 2.2 1 1.9 1.5z" fill="#0af"/>
<path d="M659.2 83.5l-2.4 2.5 1.9-2.4 2.4-2.5z" fill="#af0"/>
<path d="M493.3 74.1l-2-3.8 2.4 2.2 1.9 3.8z" fill="#ef0"/>
<path d="M562 134l-1.9-.4 2 .4 2 .4z" fill="#02f"/>
<path d="M651.2 92.6l-2.4 2.3 1.9-2.1 2.4-2.4z" fill="#7f0"/>
<path d="M513.4 103.1l-1.9-2.6 2.3 1.7 1.9 2.6z" fill="#0f1"/>
<path d="M558 133.1l-2-.5 2.1.5 2 .5z" fill="#03f"/>
<path d="M505.3 93l-1.9-3.1 2.3 1.9 2 3.1z" fill="#7f0"/>
<path d="M495.2 77.7l-1.9-3.6 2.3 2.2 2 3.6z" fill="#df0"/>
<path d="M543.8 127.8l-1.9-1.2 2.1.9 1.9 1.2z" fill="#07f"/>
<path d="M527.6 117.1l-2-1.9 2.3 1.4 1.9 1.8z" fill="#0fd"/>
<path d="M553.9 131.9l-1.9-.7 2.1.7 1.9.7z" fill="#04f"/>
<path d="M637.1 106.3l-2.3 2 1.8-1.6 2.3-2.1z" fill="#0f5"/>
<path d="M521.5 111.7l-1.9-2.2 2.2 1.5 1.9 2.2z" fill="#0f9"/>
<path d="M533.6 121.7l-1.9-1.6 2.2 1.2 1.9 1.6z" fill="#0cf"/>
<path d="M657.3 85.8l-2.4 2.4 1.9-2.2 2.4-2.5z" fill="#9f0"/>
<path d="M497.2 81.3l-2-3.6 2.4 2.2 1.9 3.5z" fill="#bf0"/>
<path d="M643.2 100.7l-2.4 2.2 1.9-1.9 2.3-2.1z" fill="#0f0"/>
<path d="M507.3 95.9l-2-2.9 2.4 1.9 1.9 2.8z" fill="#5f0"/>
<path d="M515.4 105.6l-2-2.5 2.3 1.7 1.9 2.4z" fill="#0f3"/>
<path d="M539.7 125.6l-1.9-1.3 2.1 1.1 2 1.2z" fill="#09f"/>
<path d="M549.8 130.5l-1.9-.9 2.1.8 2 .8z" fill="#06f"/>
<path d="M649.3 94.6l-2.4 2.3 1.9-2 2.4-2.3z" fill="#5f0"/>
<path d="M484.9 59.9l-1.9-4.3 2.4 2.5 2 4.2z" fill="#f60"/>
<path d="M499.1 84.6l-1.9-3.3 2.3 2.1 2 3.3z" fill="#af0"/>
<path d="M486.9 64l-2-4.1 2.5 2.4 1.9 4.1z" fill="#f90"/>
<path d="M655.5 88l-2.4 2.4 1.8-2.2 2.4-2.4z" fill="#9f0"/>
<path d="M529.5 118.8l-1.9-1.7 2.2 1.3 1.9 1.7z" fill="#0fe"/>
<path d="M523.4 113.8l-1.9-2.1 2.2 1.5 1.9 2z" fill="#0fa"/>
<path d="M509.2 98.6l-1.9-2.7 2.3 1.8 1.9 2.8z" fill="#2f0"/>
<path d="M545.7 128.8l-1.9-1 2.1.9 2 .9z" fill="#07f"/>
<path d="M488.9 67.9l-2-3.9 2.4 2.4 2 3.9z" fill="#fb0"/>
<path d="M535.6 123.2l-2-1.5 2.2 1.2 2 1.4z" fill="#0bf"/>
<path d="M501 87.8l-1.9-3.2 2.4 2.1 1.9 3.2z" fill="#9f0"/>
<path d="M517.3 107.9l-1.9-2.3 2.2 1.6 2 2.3z" fill="#0f5"/>
<path d="M647.4 96.5l-2.4 2.4 1.9-2 2.4-2.3z" fill="#4f0"/>
<path d="M490.8 71.8l-1.9-3.9 2.4 2.4 2 3.8z" fill="#fe0"/>
<path d="M541.6 126.8l-1.9-1.2 2.2 1 1.9 1.2z" fill="#09f"/>
<path d="M511.1 101.3l-1.9-2.7 2.3 1.9 1.9 2.6z" fill="#0f0"/>
<path d="M551.8 131.2l-2-.7 2.2.7 1.9.7z" fill="#05f"/>
<path d="M503 90.9l-2-3.1 2.4 2.1 1.9 3.1zM653.6 90.1l-2.4 2.5 1.9-2.2 2.4-2.4z" fill="#8f0"/>
<path d="M492.8 75.4l-2-3.6 2.5 2.3 1.9 3.6z" fill="#ef0"/>
<path d="M525.3 115.7l-1.9-1.9 2.2 1.4 2 1.9z" fill="#0fc"/>
<path d="M531.4 120.4l-1.9-1.6 2.2 1.3 1.9 1.6z" fill="#0ef"/>
<path d="M519.2 110.1l-1.9-2.2 2.3 1.6 1.9 2.2z" fill="#0f7"/>
<path d="M547.7 129.6l-2-.8 2.2.8 1.9.9z" fill="#07f"/>
<path d="M537.5 124.5l-1.9-1.3 2.2 1.1 1.9 1.3z" fill="#0bf"/>
<path d="M494.8 79l-2-3.6 2.4 2.3 2 3.6z" fill="#df0"/>
<path d="M504.9 93.9l-1.9-3 2.3 2.1 2 2.9z" fill="#7f0"/>
<path d="M513 103.8l-1.9-2.5 2.3 1.8 2 2.5z" fill="#0f1"/>
<path d="M651.7 92.1l-2.4 2.5 1.9-2 2.4-2.5z" fill="#7f0"/>
<path d="M496.7 82.4l-1.9-3.4 2.4 2.3 1.9 3.3z" fill="#bf0"/>
<path d="M543.6 127.8l-2-1 2.2 1 1.9 1z" fill="#08f"/>
<path d="M527.3 117.4l-2-1.7 2.3 1.4 1.9 1.7z" fill="#0fd"/>
<path d="M521.1 112.2l-1.9-2.1 2.3 1.6 1.9 2.1z" fill="#0f8"/>
<path d="M506.8 96.7l-1.9-2.8 2.4 2 1.9 2.7z" fill="#5f0"/>
<path d="M533.4 121.9l-2-1.5 2.2 1.3 2 1.5z" fill="#0df"/>
<path d="M515 106.1l-2-2.3 2.4 1.8 1.9 2.3z" fill="#0f3"/>
<path d="M498.6 85.6l-1.9-3.2 2.4 2.2 1.9 3.2z" fill="#af0"/>
<path d="M539.5 125.7l-2-1.2 2.2 1.1 1.9 1.2z" fill="#0af"/>
<path d="M508.8 99.3l-2-2.6 2.4 1.9 1.9 2.7z" fill="#3f0"/>
<path d="M523.1 114.1l-2-1.9 2.3 1.6 1.9 1.9z" fill="#0f9"/>
<path d="M500.6 88.7l-2-3.1 2.4 2.2 2 3.1z" fill="#9f0"/>
<path d="M529.2 119l-1.9-1.6 2.2 1.4 1.9 1.6z" fill="#0fe"/>
<path d="M516.9 108.3l-1.9-2.2 2.3 1.8 1.9 2.2z" fill="#0f4"/>
<path d="M535.3 123.2l-1.9-1.3 2.2 1.3 1.9 1.3z" fill="#0cf"/>
<path d="M502.5 91.7l-1.9-3 2.4 2.2 1.9 3z" fill="#8f0"/>
<path d="M510.7 101.8l-1.9-2.5 2.3 2 1.9 2.5z" fill="#1f0"/>
<path d="M541.4 126.7l-1.9-1 2.1 1.1 2 1z" fill="#0af"/>
<path d="M525 115.9l-1.9-1.8 2.2 1.6 2 1.7z" fill="#0fb"/>
<path d="M518.8 110.4l-1.9-2.1 2.3 1.8 1.9 2.1z" fill="#0f6"/>
<path d="M531.1 120.5l-1.9-1.5 2.2 1.4 2 1.5z" fill="#0fe"/>
<path d="M504.5 94.5l-2-2.8 2.4 2.2 1.9 2.8z" fill="#7f0"/>
<path d="M512.7 104.2l-2-2.4 2.3 2 2 2.3z" fill="#0f0"/>
<path d="M537.2 124.4l-1.9-1.2 2.2 1.3 2 1.2z" fill="#0cf"/>
<path d="M506.4 97.2l-1.9-2.7 2.3 2.2 2 2.6z" fill="#5f0"/>
<path d="M526.9 117.5l-1.9-1.6 2.3 1.5 1.9 1.6z" fill="#0fc"/>
<path d="M520.8 112.4l-2-2 2.3 1.8 2 1.9z" fill="#0f7"/>
<path d="M533.1 121.9l-2-1.4 2.3 1.4 1.9 1.3z" fill="#0ef"/>
<path d="M514.6 106.5l-1.9-2.3 2.3 1.9 1.9 2.2z" fill="#0f2"/>
<path d="M508.4 99.8l-2-2.6 2.4 2.1 1.9 2.5z" fill="#3f0"/>
<path d="M522.7 114.2l-1.9-1.8 2.3 1.7 1.9 1.8z" fill="#0f8"/>
<path d="M528.9 119l-2-1.5 2.3 1.5 1.9 1.5z" fill="#0fd"/>
<path d="M516.5 108.6l-1.9-2.1 2.3 1.8 1.9 2.1z" fill="#0f3"/>
<path d="M510.3 102.2l-1.9-2.4 2.3 2 2 2.4z" fill="#1f0"/>
<path d="M524.7 115.8l-2-1.6 2.3 1.7 1.9 1.6z" fill="#0fa"/>
<path d="M518.5 110.5l-2-1.9 2.3 1.8 2 2z" fill="#0f5"/>
<path d="M530.8 120.4l-1.9-1.4 2.2 1.5 2 1.4z" fill="#0fd"/>
<path d="M512.2 104.4l-1.9-2.2 2.4 2 1.9 2.3z" fill="#0f0"/>
<path d="M520.4 112.4l-1.9-1.9 2.3 1.9 1.9 1.8z" fill="#0f6"/>
<path d="M526.6 117.3l-1.9-1.5 2.2 1.7 2 1.5z" fill="#0fa"/>
<path d="M514.2 106.6l-2-2.2 2.4 2.1 1.9 2.1z" fill="#0f1"/>
<path d="M522.4 114l-2-1.6 2.3 1.8 2 1.6z" fill="#0f7"/>
<path d="M516.1 108.6l-1.9-2 2.3 2 2 1.9z" fill="#0f2"/>
<path d="M524.3 115.6l-1.9-1.6 2.3 1.8 1.9 1.5z" fill="#0f8"/>
<path d="M518.1 110.4l-2-1.8 2.4 1.9 1.9 1.9z" fill="#0f4"/>
<path d="M520 112.1l-1.9-1.7 2.3 2 2 1.6z" fill="#0f5"/>
</g>
<g stroke="#000" stroke-opacity="0.5" stroke-width="0.2" stroke-linejoin="round">
<path d="M594.3 132.1l-2 .6 1.9-.5 2.1-.7z" fill="#06f"/>
<path d="M608.5 126.4l-2.2 1.1 1.9-1 2.2-1.1z" fill="#0af"/>
<path d="M598.4 130.7l-2.1.8 1.9-.7 2.1-.8z" fill="#07f"/>
<path d="M580.3 134.9l-2.1.2 2-.2 2.1-.2zM584.3 134.4l-2 .3 1.9-.3 2.1-.3z" fill="#04f"/>
<path d="M612.5 124.1l-2.1 1.3 1.9-1.1 2.2-1.2z" fill="#0cf"/>
<path d="M602.5 129.1l-2.2.9 2-.7 2.1-1z" fill="#08f"/>
<path d="M588.3 133.6l-2 .5 2-.4 2-.5z" fill="#05f"/>
<path d="M622.7 117.8l-2.2 1.5 1.9-1.3 2.2-1.6z" fill="#0fc"/>
<path d="M592.4 132.6l-2.1.6 2-.5 2-.6z" fill="#06f"/>
<path d="M606.5 127.2l-2.1 1.1 1.9-.8 2.2-1.1z" fill="#0af"/>
<path d="M616.6 121.7l-2.1 1.4 1.9-1.2 2.2-1.4z" fill="#0ef"/>
<path d="M596.4 131.3l-2.1.8 2-.6 2.1-.8z" fill="#07f"/>
<path d="M610.6 125.1l-2.1 1.3 1.9-1 2.1-1.3z" fill="#0cf"/>
<path d="M574.2 135.1l-2 .1 2 0 2 0z" fill="#04f"/>
<path d="M626.8 114.7l-2.2 1.7 1.9-1.4 2.2-1.7z" fill="#0f9"/>
<path d="M570.1 135l-2-.1 2.1.2 2 .1zM578.2 135l-2 .2 2-.1 2.1-.2z" fill="#04f"/>
<path d="M600.5 129.8l-2.1.9 1.9-.7 2.2-.9z" fill="#08f"/>
<path d="M566.1 134.6l-2-.2 2.1.3 1.9.2zM582.3 134.5l-2 .4 2-.2 2-.3z" fill="#05f"/>
<path d="M620.8 119l-2.2 1.5 1.9-1.2 2.2-1.5z" fill="#0fd"/>
<path d="M586.3 133.9l-2 .5 2-.3 2-.5z" fill="#05f"/>
<path d="M604.6 128l-2.1 1.1 1.9-.8 2.1-1.1z" fill="#0af"/>
<path d="M590.4 133l-2.1.6 2-.4 2.1-.6z" fill="#06f"/>
<path d="M614.7 122.7l-2.2 1.4 2-1 2.1-1.4z" fill="#0ef"/>
<path d="M631 111.4l-2.3 1.9 1.9-1.5 2.3-1.9z" fill="#0f6"/>
<path d="M594.5 131.8l-2.1.8 1.9-.5 2.1-.8z" fill="#07f"/>
<path d="M624.9 116l-2.2 1.8 1.9-1.4 2.2-1.7z" fill="#0fa"/>
<path d="M608.7 126l-2.2 1.2 2-.8 2.1-1.3z" fill="#0bf"/>
<path d="M598.5 130.4l-2.1.9 2-.6 2.1-.9z" fill="#08f"/>
<path d="M618.8 120.1l-2.2 1.6 2-1.2 2.2-1.5z" fill="#0fd"/>
<path d="M572.2 135l-2.1 0 2.1.2 2-.1zM576.2 134.9l-2 .2 2 .1 2-.2zM568.1 134.8l-2-.2 2 .3 2 .1zM580.3 134.6l-2.1.4 2.1-.1 2-.4zM564 134.3l-2-.3 2.1.4 2 .2z" fill="#05f"/>
<path d="M584.3 134.1l-2 .4 2-.1 2-.5z" fill="#06f"/>
<path d="M612.8 123.7l-2.2 1.4 1.9-1 2.2-1.4z" fill="#0df"/>
<path d="M602.6 128.7l-2.1 1.1 2-.7 2.1-1.1z" fill="#0af"/>
<path d="M635.2 107.9l-2.3 2 1.9-1.6 2.3-2z" fill="#0f2"/>
<path d="M560 133.5l-2-.4 2.1.5 1.9.4z" fill="#06f"/>
<path d="M629.1 112.9l-2.3 1.8 1.9-1.4 2.3-1.9z" fill="#0f7"/>
<path d="M588.4 133.2l-2.1.7 2-.3 2.1-.6z" fill="#06f"/>
<path d="M641.3 102.5l-2.4 2.1 1.9-1.7 2.4-2.2z" fill="#2f0"/>
<path d="M623 117.3l-2.2 1.7 1.9-1.2 2.2-1.8z" fill="#0fb"/>
<path d="M555.9 132.5l-2-.6 2.1.7 2 .5zM592.5 132.2l-2.1.8 2-.4 2.1-.8z" fill="#07f"/>
<path d="M606.7 126.8l-2.1 1.2 1.9-.8 2.2-1.2z" fill="#0bf"/>
<path d="M616.9 121.2l-2.2 1.5 1.9-1 2.2-1.6z" fill="#0fe"/>
<path d="M596.6 130.8l-2.1 1 1.9-.5 2.1-.9z" fill="#08f"/>
<path d="M633.3 109.4l-2.3 2 1.9-1.5 2.3-2z" fill="#0f3"/>
<path d="M610.9 124.6l-2.2 1.4 1.9-.9 2.2-1.4z" fill="#0df"/>
<path d="M639.4 104.1l-2.3 2.2 1.8-1.7 2.4-2.1z" fill="#0f0"/>
<path d="M574.2 134.8l-2 .2 2 .1 2-.2z" fill="#05f"/>
<path d="M627.2 114.2l-2.3 1.8 1.9-1.3 2.3-1.8z" fill="#0f7"/>
<path d="M570.1 134.7l-2 .1 2 .2 2.1 0zM578.3 134.6l-2.1.3 2 .1 2.1-.4z" fill="#06f"/>
<path d="M600.7 129.3l-2.2 1.1 2-.6 2.1-1.1z" fill="#0af"/>
<path d="M566 134.4l-2-.1 2.1.3 2 .2z" fill="#06f"/>
<path d="M645.5 98.4l-2.3 2.3 1.8-1.8 2.4-2.4z" fill="#6f0"/>
<path d="M582.3 134.1l-2 .5 2-.1 2-.4z" fill="#06f"/>
<path d="M621.1 118.4l-2.3 1.7 2-1.1 2.2-1.7z" fill="#0fb"/>
<path d="M561.9 133.8l-1.9-.3 2 .5 2 .3z" fill="#06f"/>
<path d="M586.4 133.4l-2.1.7 2-.2 2.1-.7zM557.9 132.9l-2-.4 2.1.6 2 .4z" fill="#07f"/>
<path d="M604.8 127.4l-2.2 1.3 2-.7 2.1-1.2z" fill="#0bf"/>
<path d="M590.5 132.5l-2.1.7 2-.2 2.1-.8z" fill="#07f"/>
<path d="M615 122.2l-2.2 1.5 1.9-1 2.2-1.5z" fill="#0fe"/>
<path d="M553.8 131.8l-2-.6 2.1.7 2 .6z" fill="#08f"/>
<path d="M637.5 105.7l-2.3 2.2 1.9-1.6 2.3-2.2z" fill="#0f0"/>
<path d="M631.3 110.8l-2.2 2.1 1.9-1.5 2.3-2z" fill="#0f4"/>
<path d="M594.6 131.2l-2.1 1 2-.4 2.1-1z" fill="#08f"/>
<path d="M643.6 100.1l-2.3 2.4 1.9-1.8 2.3-2.3z" fill="#4f0"/>
<path d="M625.2 115.4l-2.2 1.9 1.9-1.3 2.3-1.8z" fill="#0f8"/>
<path d="M608.9 125.4l-2.2 1.4 2-.8 2.2-1.4z" fill="#0df"/>
<path d="M549.7 130.4l-2-.8 2.1.9 2 .7z" fill="#09f"/>
<path d="M649.8 94l-2.4 2.5 1.9-1.9 2.4-2.5z" fill="#8f0"/>
<path d="M598.7 129.7l-2.1 1.1 1.9-.4 2.2-1.1z" fill="#0af"/>
<path d="M619.1 119.5l-2.2 1.7 1.9-1.1 2.3-1.7z" fill="#0fc"/>
<path d="M572.1 134.5l-2 .2 2.1.3 2-.2zM576.2 134.5l-2 .3 2 .1 2.1-.3zM568 134.4l-2 0 2.1.4 2-.1z" fill="#06f"/>
<path d="M580.3 134.1l-2 .5 2 0 2-.5zM563.9 133.9l-2-.1 2.1.5 2 .1z" fill="#07f"/>
<path d="M545.5 128.7l-1.9-.9 2.1 1 2 .8z" fill="#0bf"/>
<path d="M584.4 133.5l-2.1.6 2 0 2.1-.7z" fill="#07f"/>
<path d="M613 123l-2.1 1.6 1.9-.9 2.2-1.5z" fill="#0fe"/>
<path d="M602.8 128l-2.1 1.3 1.9-.6 2.2-1.3z" fill="#0bf"/>
<path d="M559.8 133.2l-1.9-.3 2.1.6 1.9.3z" fill="#07f"/>
<path d="M635.6 107.2l-2.3 2.2 1.9-1.5 2.3-2.2z" fill="#0f1"/>
<path d="M629.4 112.1l-2.2 2.1 1.9-1.3 2.2-2.1z" fill="#0f5"/>
<path d="M588.5 132.6l-2.1.8 2-.2 2.1-.7z" fill="#08f"/>
<path d="M641.7 101.8l-2.3 2.3 1.9-1.6 2.3-2.4z" fill="#3f0"/>
<path d="M555.7 132.2l-1.9-.4 2.1.7 2 .4z" fill="#08f"/>
<path d="M623.3 116.5l-2.2 1.9 1.9-1.1 2.2-1.9z" fill="#0f9"/>
<path d="M647.9 95.9l-2.4 2.5 1.9-1.9 2.4-2.5z" fill="#7f0"/>
<path d="M592.6 131.5l-2.1 1 2-.3 2.1-1z" fill="#09f"/>
<path d="M607 126l-2.2 1.4 1.9-.6 2.2-1.4z" fill="#0df"/>
<path d="M551.6 131l-1.9-.6 2.1.8 2 .6z" fill="#09f"/>
<path d="M617.2 120.4l-2.2 1.8 1.9-1 2.2-1.7z" fill="#0fc"/>
<path d="M596.7 130.1l-2.1 1.1 2-.4 2.1-1.1z" fill="#0af"/>
<path d="M633.7 108.6l-2.4 2.2 2-1.4 2.3-2.2z" fill="#0f1"/>
<path d="M547.5 129.4l-2-.7 2.2.9 2 .8z" fill="#0bf"/>
<path d="M639.8 103.4l-2.3 2.3 1.9-1.6 2.3-2.3z" fill="#2f0"/>
<path d="M574.2 134.2l-2.1.3 2.1.3 2-.3z" fill="#07f"/>
<path d="M611.1 123.8l-2.2 1.6 2-.8 2.1-1.6z" fill="#0fe"/>
<path d="M570.1 134.2l-2.1.2 2.1.3 2-.2z" fill="#07f"/>
<path d="M627.5 113.4l-2.3 2 2-1.2 2.2-2.1z" fill="#0f6"/>
<path d="M578.3 134l-2.1.5 2.1.1 2-.5zM566 133.9l-2.1 0 2.1.5 2 0z" fill="#07f"/>
<path d="M600.8 128.5l-2.1 1.2 2-.4 2.1-1.3z" fill="#0bf"/>
<path d="M646 97.6l-2.4 2.5 1.9-1.7 2.4-2.5z" fill="#7f0"/>
<path d="M582.4 133.5l-2.1.6 2 0 2.1-.6zM561.8 133.3l-2-.1 2.1.6 2 .1z" fill="#08f"/>
<path d="M621.4 117.6l-2.3 1.9 2-1.1 2.2-1.9z" fill="#0f9"/>
<path d="M586.5 132.7l-2.1.8 2-.1 2.1-.8z" fill="#08f"/>
<path d="M543.4 127.6l-2-.9 2.2 1.1 1.9.9z" fill="#0cf"/>
<path d="M557.7 132.5l-2-.3 2.2.7 1.9.3z" fill="#09f"/>
<path d="M605 126.6l-2.2 1.4 2-.6 2.2-1.4z" fill="#0df"/>
<path d="M590.6 131.7l-2.1.9 2-.1 2.1-1z" fill="#09f"/>
<path d="M615.3 121.3l-2.3 1.7 2-.8 2.2-1.8z" fill="#0fc"/>
<path d="M553.6 131.4l-2-.4 2.2.8 1.9.4z" fill="#0af"/>
<path d="M637.9 104.9l-2.3 2.3 1.9-1.5 2.3-2.3z" fill="#1f0"/>
<path d="M631.7 109.9l-2.3 2.2 1.9-1.3 2.4-2.2z" fill="#0f2"/>
<path d="M594.7 130.4l-2.1 1.1 2-.3 2.1-1.1z" fill="#0af"/>
<path d="M539.2 125.5l-2-1.1 2.3 1.3 1.9 1z" fill="#0ef"/>
<path d="M644.1 99.3l-2.4 2.5 1.9-1.7 2.4-2.5z" fill="#6f0"/>
<path d="M625.6 114.5l-2.3 2 1.9-1.1 2.3-2z" fill="#0f6"/>
<path d="M549.5 130l-2-.6 2.2 1 1.9.6z" fill="#0bf"/>
<path d="M609.1 124.5l-2.1 1.5 1.9-.6 2.2-1.6z" fill="#0fe"/>
<path d="M619.5 118.6l-2.3 1.8 1.9-.9 2.3-1.9z" fill="#0f9"/>
<path d="M598.9 128.9l-2.2 1.2 2-.4 2.1-1.2z" fill="#0bf"/>
<path d="M572.1 133.9l-2 .3 2 .3 2.1-.3zM576.2 133.8l-2 .4 2 .3 2.1-.5zM568 133.7l-2 .2 2 .5 2.1-.2zM580.3 133.4l-2 .6 2 .1 2.1-.6z" fill="#08f"/>
<path d="M545.3 128.3l-1.9-.7 2.1 1.1 2 .7z" fill="#0cf"/>
<path d="M563.9 133.3l-2.1 0 2.1.6 2.1 0z" fill="#08f"/>
<path d="M535 123.1l-1.9-1.2 2.2 1.3 1.9 1.2z" fill="#0fd"/>
<path d="M584.5 132.7l-2.1.8 2 0 2.1-.8zM559.7 132.7l-2-.2 2.1.7 2 .1z" fill="#09f"/>
<path d="M613.3 122.1l-2.2 1.7 1.9-.8 2.3-1.7z" fill="#0fc"/>
<path d="M603 127.1l-2.2 1.4 2-.5 2.2-1.4z" fill="#0df"/>
<path d="M636 106.3l-2.3 2.3 1.9-1.4 2.3-2.3z" fill="#1f0"/>
<path d="M629.8 111.2l-2.3 2.2 1.9-1.3 2.3-2.2z" fill="#0f3"/>
<path d="M642.2 100.9l-2.4 2.5 1.9-1.6 2.4-2.5z" fill="#5f0"/>
<path d="M588.6 131.8l-2.1.9 2-.1 2.1-.9zM555.6 131.7l-2-.3 2.1.8 2 .3z" fill="#0af"/>
<path d="M541.2 126.4l-2-.9 2.2 1.2 2 .9z" fill="#0ef"/>
<path d="M623.7 115.6l-2.3 2 1.9-1.1 2.3-2z" fill="#0f7"/>
<path d="M592.7 130.6l-2.1 1.1 2-.2 2.1-1.1z" fill="#0bf"/>
<path d="M607.2 125l-2.2 1.6 2-.6 2.1-1.5z" fill="#0fe"/>
<path d="M551.5 130.5l-2-.5 2.1 1 2 .4z" fill="#0bf"/>
<path d="M617.5 119.4l-2.2 1.9 1.9-.9 2.3-1.8z" fill="#0fa"/>
<path d="M596.9 129.2l-2.2 1.2 2-.3 2.2-1.2z" fill="#0cf"/>
<path d="M537 124.1l-2-1 2.2 1.3 2 1.1z" fill="#0fd"/>
<path d="M547.3 128.9l-2-.6 2.2 1.1 2 .6z" fill="#0cf"/>
<path d="M634.1 107.6l-2.4 2.3 2-1.3 2.3-2.3z" fill="#0f0"/>
<path d="M640.3 102.3l-2.4 2.6 1.9-1.5 2.4-2.5z" fill="#4f0"/>
<path d="M574.2 133.4l-2.1.5 2.1.3 2-.4zM570 133.4l-2 .3 2.1.5 2-.3z" fill="#09f"/>
<path d="M611.4 122.7l-2.3 1.8 2-.7 2.2-1.7z" fill="#0fc"/>
<path d="M578.3 133.1l-2.1.7 2.1.2 2-.6z" fill="#09f"/>
<path d="M627.9 112.3l-2.3 2.2 1.9-1.1 2.3-2.2z" fill="#0f3"/>
<path d="M565.9 133.2l-2 .1 2.1.6 2-.2z" fill="#09f"/>
<path d="M601 127.5l-2.1 1.4 1.9-.4 2.2-1.4z" fill="#0df"/>
<path d="M582.4 132.6l-2.1.8 2.1.1 2.1-.8z" fill="#09f"/>
<path d="M561.7 132.7l-2 0 2.1.6 2.1 0z" fill="#0af"/>
<path d="M621.7 116.5l-2.2 2.1 1.9-1 2.3-2z" fill="#0f7"/>
<path d="M543.1 127.1l-1.9-.7 2.2 1.2 1.9.7z" fill="#0ef"/>
<path d="M586.6 131.8l-2.1.9 2 0 2.1-.9zM557.6 131.8l-2-.1 2.1.8 2 .2z" fill="#0af"/>
<path d="M532.8 121.6l-2-1.2 2.3 1.5 1.9 1.2z" fill="#0fb"/>
<path d="M605.2 125.5l-2.2 1.6 2-.5 2.2-1.6z" fill="#0fe"/>
<path d="M590.7 130.7l-2.1 1.1 2-.1 2.1-1.1z" fill="#0bf"/>
<path d="M615.6 120.2l-2.3 1.9 2-.8 2.2-1.9z" fill="#0fa"/>
<path d="M553.4 130.8l-1.9-.3 2.1.9 2 .3z" fill="#0bf"/>
<path d="M538.9 125l-1.9-.9 2.2 1.4 2 .9z" fill="#0fe"/>
<path d="M638.4 103.7l-2.4 2.6 1.9-1.4 2.4-2.6z" fill="#4f0"/>
<path d="M632.2 108.8l-2.4 2.4 1.9-1.3 2.4-2.3z" fill="#0f0"/>
<path d="M594.9 129.4l-2.2 1.2 2-.2 2.2-1.2zM549.3 129.4l-2-.5 2.2 1.1 2 .5z" fill="#0cf"/>
<path d="M626 113.3l-2.3 2.3 1.9-1.1 2.3-2.2z" fill="#0f4"/>
<path d="M528.6 118.7l-2-1.4 2.3 1.7 1.9 1.4z" fill="#0f8"/>
<path d="M609.4 123.3l-2.2 1.7 1.9-.5 2.3-1.8z" fill="#0fc"/>
<path d="M619.8 117.4l-2.3 2 2-.8 2.2-2.1z" fill="#0f7"/>
<path d="M599 127.8l-2.1 1.4 2-.3 2.1-1.4z" fill="#0df"/>
<path d="M572.1 133l-2.1.4 2.1.5 2.1-.5zM567.9 132.9l-2 .3 2.1.5 2-.3zM576.2 132.8l-2 .6 2 .4 2.1-.7z" fill="#0af"/>
<path d="M534.7 122.7l-1.9-1.1 2.2 1.5 2 1z" fill="#0fb"/>
<path d="M545.1 127.8l-2-.7 2.2 1.2 2 .6z" fill="#0ef"/>
<path d="M563.8 132.5l-2.1.2 2.2.6 2-.1zM580.4 132.4l-2.1.7 2 .3 2.1-.8z" fill="#0af"/>
<path d="M559.6 131.9l-2-.1 2.1.9 2 0zM584.5 131.7l-2.1.9 2.1.1 2.1-.9z" fill="#0bf"/>
<path d="M613.6 120.9l-2.2 1.8 1.9-.6 2.3-1.9z" fill="#0fa"/>
<path d="M603.2 125.9l-2.2 1.6 2-.4 2.2-1.6z" fill="#0fe"/>
<path d="M636.4 105l-2.3 2.6 1.9-1.3 2.4-2.6z" fill="#3f0"/>
<path d="M630.2 109.9l-2.3 2.4 1.9-1.1 2.4-2.4z" fill="#0f0"/>
<path d="M555.4 130.9l-2-.1 2.2.9 2 .1z" fill="#0cf"/>
<path d="M540.9 125.8l-2-.8 2.3 1.4 1.9.7z" fill="#0fe"/>
<path d="M588.7 130.7l-2.1 1.1 2 0 2.1-1.1z" fill="#0cf"/>
<path d="M530.5 120l-1.9-1.3 2.2 1.7 2 1.2z" fill="#0f9"/>
<path d="M624 114.3l-2.3 2.2 2-.9 2.3-2.3z" fill="#0f4"/>
<path d="M551.3 129.7l-2-.3 2.2 1.1 1.9.3zM592.8 129.5l-2.1 1.2 2-.1 2.2-1.2z" fill="#0df"/>
<path d="M607.4 123.8l-2.2 1.7 2-.5 2.2-1.7z" fill="#0fc"/>
<path d="M617.8 118.1l-2.2 2.1 1.9-.8 2.3-2z" fill="#0f7"/>
<path d="M536.7 123.6l-2-.9 2.3 1.4 1.9.9z" fill="#0fc"/>
<path d="M547.1 128.2l-2-.4 2.2 1.1 2 .5zM597 128l-2.1 1.4 2-.2 2.1-1.4z" fill="#0ef"/>
<path d="M634.5 106.3l-2.3 2.5 1.9-1.2 2.3-2.6z" fill="#2f0"/>
<path d="M570 132.4l-2.1.5 2.1.5 2.1-.4zM574.1 132.4l-2 .6 2.1.4 2-.6z" fill="#0bf"/>
<path d="M526.3 117l-2-1.4 2.3 1.7 2 1.4z" fill="#0f6"/>
<path d="M565.8 132.2l-2 .3 2.1.7 2-.3zM578.3 132l-2.1.8 2.1.3 2.1-.7z" fill="#0bf"/>
<path d="M611.6 121.4l-2.2 1.9 2-.6 2.2-1.8z" fill="#0fa"/>
<path d="M628.3 111l-2.3 2.3 1.9-1 2.3-2.4z" fill="#0f1"/>
<path d="M561.6 131.7l-2 .2 2.1.8 2.1-.2z" fill="#0bf"/>
<path d="M601.2 126.2l-2.2 1.6 2-.3 2.2-1.6z" fill="#0fe"/>
<path d="M582.5 131.4l-2.1 1 2 .2 2.1-.9z" fill="#0cf"/>
<path d="M542.9 126.5l-2-.7 2.2 1.3 2 .7z" fill="#0fe"/>
<path d="M532.5 121.1l-2-1.1 2.3 1.6 1.9 1.1z" fill="#0f9"/>
<path d="M622.1 115.2l-2.3 2.2 1.9-.9 2.3-2.2z" fill="#0f4"/>
<path d="M557.5 130.9l-2.1 0 2.2.9 2 .1zM586.6 130.6l-2.1 1.1 2.1.1 2.1-1.1z" fill="#0cf"/>
<path d="M553.3 129.9l-2-.2 2.1 1.1 2 .1z" fill="#0df"/>
<path d="M605.4 124.2l-2.2 1.7 2-.4 2.2-1.7z" fill="#0fc"/>
<path d="M590.8 129.5l-2.1 1.2 2 0 2.1-1.2z" fill="#0df"/>
<path d="M615.9 118.8l-2.3 2.1 2-.7 2.2-2.1z" fill="#0f7"/>
<path d="M538.7 124.4l-2-.8 2.2 1.4 2 .8z" fill="#0fc"/>
<path d="M522 113.7l-2-1.6 2.4 1.9 1.9 1.6z" fill="#0f2"/>
<path d="M632.6 107.4l-2.4 2.5 2-1.1 2.3-2.5z" fill="#2f0"/>
<path d="M549.1 128.6l-2-.4 2.2 1.2 2 .3z" fill="#0ef"/>
<path d="M528.2 118.2l-1.9-1.2 2.3 1.7 1.9 1.3z" fill="#0f6"/>
<path d="M595 128.1l-2.2 1.4 2.1-.1 2.1-1.4z" fill="#0ef"/>
<path d="M626.3 111.9l-2.3 2.4 2-1 2.3-2.3z" fill="#0f1"/>
<path d="M609.6 121.9l-2.2 1.9 2-.5 2.2-1.9zM534.4 122l-1.9-.9 2.2 1.6 2 .9z" fill="#0fa"/>
<path d="M544.9 126.9l-2-.4 2.2 1.3 2 .4z" fill="#0fe"/>
<path d="M572 131.8l-2 .6 2.1.6 2-.6z" fill="#0cf"/>
<path d="M620.1 115.9l-2.3 2.2 2-.7 2.3-2.2z" fill="#0f5"/>
<path d="M599.2 126.4l-2.2 1.6 2-.2 2.2-1.6z" fill="#0fd"/>
<path d="M567.9 131.8l-2.1.4 2.1.7 2.1-.5zM576.2 131.6l-2.1.8 2.1.4 2.1-.8zM563.7 131.4l-2.1.3 2.2.8 2-.3zM580.4 131.1l-2.1.9 2.1.4 2.1-1z" fill="#0cf"/>
<path d="M559.5 130.8l-2 .1 2.1 1 2-.2z" fill="#0df"/>
<path d="M523.9 115.1l-1.9-1.4 2.3 1.9 2 1.4z" fill="#0f3"/>
<path d="M584.6 130.4l-2.1 1 2 .3 2.1-1.1z" fill="#0df"/>
<path d="M540.7 125l-2-.6 2.2 1.4 2 .7z" fill="#0fc"/>
<path d="M613.9 119.4l-2.3 2 2-.5 2.3-2.1z" fill="#0f7"/>
<path d="M603.4 124.5l-2.2 1.7 2-.3 2.2-1.7z" fill="#0fc"/>
<path d="M555.3 129.9l-2 0 2.1 1 2.1 0z" fill="#0df"/>
<path d="M630.6 108.4l-2.3 2.6 1.9-1.1 2.4-2.5z" fill="#1f0"/>
<path d="M530.2 119.3l-2-1.1 2.3 1.8 2 1.1z" fill="#0f7"/>
<path d="M588.8 129.3l-2.2 1.3 2.1.1 2.1-1.2z" fill="#0ef"/>
<path d="M624.4 112.8l-2.3 2.4 1.9-.9 2.3-2.4z" fill="#0f2"/>
<path d="M551.1 128.7l-2-.1 2.2 1.1 2 .2z" fill="#0ef"/>
<path d="M593 128.1l-2.2 1.4 2 0 2.2-1.4z" fill="#0fe"/>
<path d="M536.4 122.8l-2-.8 2.3 1.6 2 .8zM607.6 122.3l-2.2 1.9 2-.4 2.2-1.9z" fill="#0fa"/>
<path d="M618.1 116.6l-2.2 2.2 1.9-.7 2.3-2.2z" fill="#0f5"/>
<path d="M546.9 127.3l-2-.4 2.2 1.3 2 .4zM597.2 126.5l-2.2 1.6 2-.1 2.2-1.6z" fill="#0fd"/>
<path d="M525.9 116.3l-2-1.2 2.4 1.9 1.9 1.2z" fill="#0f4"/>
<path d="M569.9 131.2l-2 .6 2.1.6 2-.6zM574.1 131.1l-2.1.7 2.1.6 2.1-.8zM565.7 131l-2 .4 2.1.8 2.1-.4zM578.3 130.7l-2.1.9 2.1.4 2.1-.9z" fill="#0df"/>
<path d="M542.6 125.5l-1.9-.5 2.2 1.5 2 .4z" fill="#0fc"/>
<path d="M628.7 109.4l-2.4 2.5 2-.9 2.3-2.6z" fill="#1f0"/>
<path d="M532.2 120.3l-2-1 2.3 1.8 1.9.9zM611.9 119.9l-2.3 2 2-.5 2.3-2z" fill="#0f7"/>
<path d="M561.5 130.5l-2 .3 2.1.9 2.1-.3z" fill="#0df"/>
<path d="M582.5 130l-2.1 1.1 2.1.3 2.1-1z" fill="#0ef"/>
<path d="M601.4 124.7l-2.2 1.7 2-.2 2.2-1.7z" fill="#0fb"/>
<path d="M557.3 129.8l-2 .1 2.2 1 2-.1z" fill="#0ef"/>
<path d="M622.4 113.5l-2.3 2.4 2-.7 2.3-2.4z" fill="#0f2"/>
<path d="M586.7 129.1l-2.1 1.3 2 .2 2.2-1.3z" fill="#0ff"/>
<path d="M553.1 128.8l-2-.1 2.2 1.2 2 0z" fill="#0fe"/>
<path d="M538.4 123.5l-2-.7 2.3 1.6 2 .6z" fill="#0fa"/>
<path d="M590.9 127.9l-2.1 1.4 2 .2 2.2-1.4z" fill="#0fe"/>
<path d="M605.6 122.6l-2.2 1.9 2-.3 2.2-1.9z" fill="#0f9"/>
<path d="M616.2 117.2l-2.3 2.2 2-.6 2.2-2.2z" fill="#0f5"/>
<path d="M527.9 117.5l-2-1.2 2.3 1.9 2 1.1z" fill="#0f4"/>
<path d="M548.9 127.5l-2-.2 2.2 1.3 2 .1z" fill="#0fd"/>
<path d="M595.2 126.5l-2.2 1.6 2 0 2.2-1.6z" fill="#0fc"/>
<path d="M626.7 110.2l-2.3 2.6 1.9-.9 2.4-2.5z" fill="#1f0"/>
<path d="M534.1 121.1l-1.9-.8 2.2 1.7 2 .8z" fill="#0f7"/>
<path d="M544.6 125.9l-2-.4 2.3 1.4 2 .4z" fill="#0fc"/>
<path d="M609.9 120.3l-2.3 2 2-.4 2.3-2z" fill="#0f7"/>
<path d="M572 130.4l-2.1.8 2.1.6 2.1-.7zM567.8 130.4l-2.1.6 2.2.8 2-.6z" fill="#0ef"/>
<path d="M620.5 114.2l-2.4 2.4 2-.7 2.3-2.4z" fill="#0f2"/>
<path d="M576.2 130.1l-2.1 1 2.1.5 2.1-.9z" fill="#0ef"/>
<path d="M599.4 124.8l-2.2 1.7 2-.1 2.2-1.7z" fill="#0fb"/>
<path d="M563.6 130.1l-2.1.4 2.2.9 2-.4z" fill="#0ef"/>
<path d="M580.4 129.6l-2.1 1.1 2.1.4 2.1-1.1zM559.4 129.5l-2.1.3 2.2 1 2-.3z" fill="#0fe"/>
<path d="M540.4 124l-2-.5 2.3 1.5 1.9.5z" fill="#0fa"/>
<path d="M584.7 128.8l-2.2 1.2 2.1.4 2.1-1.3z" fill="#0fe"/>
<path d="M529.8 118.5l-1.9-1 2.3 1.8 2 1z" fill="#0f5"/>
<path d="M555.1 128.7l-2 .1 2.2 1.1 2-.1z" fill="#0fe"/>
<path d="M614.2 117.6l-2.3 2.3 2-.5 2.3-2.2z" fill="#0f4"/>
<path d="M603.6 122.8l-2.2 1.9 2-.2 2.2-1.9z" fill="#0f9"/>
<path d="M588.9 127.7l-2.2 1.4 2.1.2 2.1-1.4zM550.9 127.5l-2 0 2.2 1.2 2 .1z" fill="#0fd"/>
<path d="M624.8 111l-2.4 2.5 2-.7 2.3-2.6z" fill="#0f0"/>
<path d="M536.1 121.8l-2-.7 2.3 1.7 2 .7z" fill="#0f8"/>
<path d="M593.1 126.4l-2.2 1.5 2.1.2 2.2-1.6z" fill="#0fc"/>
<path d="M607.9 120.5l-2.3 2.1 2-.3 2.3-2z" fill="#0f7"/>
<path d="M546.7 126.1l-2.1-.2 2.3 1.4 2 .2z" fill="#0fb"/>
<path d="M618.5 114.8l-2.3 2.4 1.9-.6 2.4-2.4z" fill="#0f2"/>
<path d="M597.4 124.8l-2.2 1.7 2 0 2.2-1.7z" fill="#0fa"/>
<path d="M569.9 129.6l-2.1.8 2.1.8 2.1-.8z" fill="#0fe"/>
<path d="M531.8 119.3l-2-.8 2.4 1.8 1.9.8z" fill="#0f5"/>
<path d="M574.1 129.5l-2.1.9 2.1.7 2.1-1zM565.6 129.5l-2 .6 2.1.9 2.1-.6z" fill="#0fe"/>
<path d="M542.4 124.4l-2-.4 2.2 1.5 2 .4z" fill="#0f9"/>
<path d="M578.3 129.1l-2.1 1 2.1.6 2.1-1.1zM561.4 129.1l-2 .4 2.1 1 2.1-.4z" fill="#0fd"/>
<path d="M612.2 118l-2.3 2.3 2-.4 2.3-2.3z" fill="#0f4"/>
<path d="M582.6 128.4l-2.2 1.2 2.1.4 2.2-1.2zM557.2 128.4l-2.1.3 2.2 1.1 2.1-.3z" fill="#0fd"/>
<path d="M601.6 122.9l-2.2 1.9 2-.1 2.2-1.9z" fill="#0f8"/>
<path d="M622.8 111.6l-2.3 2.6 1.9-.7 2.4-2.5z" fill="#0f0"/>
<path d="M586.8 127.4l-2.1 1.4 2 .3 2.2-1.4z" fill="#0fc"/>
<path d="M538.1 122.3l-2-.5 2.3 1.7 2 .5z" fill="#0f7"/>
<path d="M552.9 127.4l-2 .1 2.2 1.3 2-.1z" fill="#0fc"/>
<path d="M591.1 126.2l-2.2 1.5 2 .2 2.2-1.5z" fill="#0fb"/>
<path d="M605.9 120.7l-2.3 2.1 2-.2 2.3-2.1z" fill="#0f6"/>
<path d="M616.5 115.2l-2.3 2.4 2-.4 2.3-2.4z" fill="#0f2"/>
<path d="M548.7 126.1l-2 0 2.2 1.4 2 0z" fill="#0fb"/>
<path d="M533.8 120l-2-.7 2.3 1.8 2 .7z" fill="#0f5"/>
<path d="M595.3 124.7l-2.2 1.7 2.1.1 2.2-1.7zM544.4 124.6l-2-.2 2.2 1.5 2.1.2z" fill="#0f9"/>
<path d="M610.2 118.3l-2.3 2.2 2-.2 2.3-2.3z" fill="#0f4"/>
<path d="M567.7 128.8l-2.1.7 2.2.9 2.1-.8zM572 128.7l-2.1.9 2.1.8 2.1-.9z" fill="#0fd"/>
<path d="M563.5 128.5l-2.1.6 2.2 1 2-.6zM576.2 128.4l-2.1 1.1 2.1.6 2.1-1z" fill="#0fc"/>
<path d="M620.8 112.2l-2.3 2.6 2-.6 2.3-2.6z" fill="#0f0"/>
<path d="M599.6 122.9l-2.2 1.9 2 0 2.2-1.9z" fill="#0f8"/>
<path d="M559.2 128l-2 .4 2.2 1.1 2-.4zM580.5 127.8l-2.2 1.3 2.1.5 2.2-1.2z" fill="#0fc"/>
<path d="M540.1 122.7l-2-.4 2.3 1.7 2 .4z" fill="#0f7"/>
<path d="M555 127.2l-2.1.2 2.2 1.3 2.1-.3zM584.7 127l-2.1 1.4 2.1.4 2.1-1.4z" fill="#0fb"/>
<path d="M614.5 115.6l-2.3 2.4 2-.4 2.3-2.4z" fill="#0f1"/>
<path d="M603.9 120.8l-2.3 2.1 2-.1 2.3-2.1z" fill="#0f6"/>
<path d="M589 125.9l-2.2 1.5 2.1.3 2.2-1.5zM550.7 126.1l-2 0 2.2 1.4 2-.1z" fill="#0fa"/>
<path d="M535.8 120.5l-2-.5 2.3 1.8 2 .5z" fill="#0f5"/>
<path d="M593.2 124.4l-2.1 1.8 2 .2 2.2-1.7zM546.4 124.6l-2 0 2.3 1.5 2 0z" fill="#0f9"/>
<path d="M608.2 118.5l-2.3 2.2 2-.2 2.3-2.2z" fill="#0f4"/>
<path d="M618.8 112.7l-2.3 2.5 2-.4 2.3-2.6z" fill="#0f0"/>
<path d="M597.5 122.8l-2.2 1.9 2.1.1 2.2-1.9zM542.1 122.9l-2-.2 2.3 1.7 2 .2z" fill="#0f7"/>
<path d="M569.8 127.9l-2.1.9 2.2.8 2.1-.9zM565.6 127.8l-2.1.7 2.1 1 2.1-.7zM574.1 127.7l-2.1 1 2.1.8 2.1-1.1zM561.3 127.4l-2.1.6 2.2 1.1 2.1-.6zM578.3 127.2l-2.1 1.2 2.1.7 2.2-1.3z" fill="#0fb"/>
<path d="M612.5 115.9l-2.3 2.4 2-.3 2.3-2.4z" fill="#0f1"/>
<path d="M557 126.8l-2 .4 2.2 1.2 2-.4zM582.6 126.5l-2.1 1.3 2.1.6 2.1-1.4z" fill="#0fa"/>
<path d="M601.8 120.8l-2.2 2.1 2 0 2.3-2.1zM537.8 120.9l-2-.4 2.3 1.8 2 .4z" fill="#0f5"/>
<path d="M552.7 125.8l-2 .3 2.2 1.3 2.1-.2zM586.9 125.4l-2.2 1.6 2.1.4 2.2-1.5z" fill="#0f9"/>
<path d="M548.5 124.6l-2.1 0 2.3 1.5 2 0zM591.2 124.1l-2.2 1.8 2.1.3 2.1-1.8z" fill="#0f8"/>
<path d="M606.1 118.6l-2.2 2.2 2-.1 2.3-2.2z" fill="#0f3"/>
<path d="M616.8 113l-2.3 2.6 2-.4 2.3-2.5z" fill="#1f0"/>
<path d="M544.2 123l-2.1-.1 2.3 1.7 2 0zM595.5 122.5l-2.3 1.9 2.1.3 2.2-1.9z" fill="#0f6"/>
<path d="M610.5 116.1l-2.3 2.4 2-.2 2.3-2.4z" fill="#0f1"/>
<path d="M567.7 126.9l-2.1.9 2.1 1 2.1-.9zM571.9 126.8l-2.1 1.1 2.2.8 2.1-1z" fill="#0fa"/>
<path d="M563.4 126.7l-2.1.7 2.2 1.1 2.1-.7zM576.2 126.5l-2.1 1.2 2.1.7 2.1-1.2z" fill="#0f9"/>
<path d="M539.8 121.2l-2-.3 2.3 1.8 2 .2z" fill="#0f5"/>
<path d="M599.8 120.7l-2.3 2.1 2.1.1 2.2-2.1z" fill="#0f4"/>
<path d="M559.1 126.2l-2.1.6 2.2 1.2 2.1-.6zM580.5 125.8l-2.2 1.4 2.2.6 2.1-1.3z" fill="#0f9"/>
<path d="M554.8 125.4l-2.1.4 2.3 1.4 2-.4zM584.8 124.9l-2.2 1.6 2.1.5 2.2-1.6z" fill="#0f8"/>
<path d="M614.8 113.3l-2.3 2.6 2-.3 2.3-2.6z" fill="#1f0"/>
<path d="M550.5 124.3l-2 .3 2.2 1.5 2-.3z" fill="#0f7"/>
<path d="M604.1 118.6l-2.3 2.2 2.1 0 2.2-2.2z" fill="#0f2"/>
<path d="M589.1 123.7l-2.2 1.7 2.1.5 2.2-1.8z" fill="#0f7"/>
<path d="M546.2 122.9l-2 .1 2.2 1.6 2.1 0z" fill="#0f6"/>
<path d="M593.4 122.2l-2.2 1.9 2 .3 2.3-1.9z" fill="#0f5"/>
<path d="M608.4 116.2l-2.3 2.4 2.1-.1 2.3-2.4z" fill="#0f0"/>
<path d="M541.9 121.3l-2.1-.1 2.3 1.7 2.1.1zM597.7 120.5l-2.2 2 2 .3 2.3-2.1z" fill="#0f4"/>
<path d="M569.8 125.8l-2.1 1.1 2.1 1 2.1-1.1zM565.5 125.8l-2.1.9 2.2 1.1 2.1-.9zM574.1 125.6l-2.2 1.2 2.2.9 2.1-1.2zM561.2 125.5l-2.1.7 2.2 1.2 2.1-.7z" fill="#0f8"/>
<path d="M578.4 125.1l-2.2 1.4 2.1.7 2.2-1.4zM556.9 124.8l-2.1.6 2.2 1.4 2.1-.6z" fill="#0f7"/>
<path d="M612.8 113.5l-2.3 2.6 2-.2 2.3-2.6z" fill="#1f0"/>
<path d="M582.7 124.3l-2.2 1.5 2.1.7 2.2-1.6z" fill="#0f7"/>
<path d="M602 118.5l-2.2 2.2 2 .1 2.3-2.2z" fill="#0f2"/>
<path d="M552.6 123.9l-2.1.4 2.2 1.5 2.1-.4zM587 123.2l-2.2 1.7 2.1.5 2.2-1.7z" fill="#0f6"/>
<path d="M548.2 122.7l-2 .2 2.3 1.7 2-.3z" fill="#0f5"/>
<path d="M591.3 121.8l-2.2 1.9 2.1.4 2.2-1.9z" fill="#0f4"/>
<path d="M606.4 116.2l-2.3 2.4 2 0 2.3-2.4z" fill="#0f0"/>
<path d="M543.9 121.2l-2 .1 2.3 1.7 2-.1zM595.6 120.2l-2.2 2 2.1.3 2.2-2z" fill="#0f3"/>
<path d="M567.6 124.8l-2.1 1 2.2 1.1 2.1-1.1zM571.9 124.6l-2.1 1.2 2.1 1 2.2-1.2z" fill="#0f6"/>
<path d="M610.7 113.6l-2.3 2.6 2.1-.1 2.3-2.6z" fill="#2f0"/>
<path d="M563.3 124.6l-2.1.9 2.2 1.2 2.1-.9zM576.2 124.2l-2.1 1.4 2.1.9 2.2-1.4zM558.9 124.1l-2 .7 2.2 1.4 2.1-.7z" fill="#0f6"/>
<path d="M600 118.2l-2.3 2.3 2.1.2 2.2-2.2z" fill="#0f1"/>
<path d="M580.5 123.5l-2.1 1.6 2.1.7 2.2-1.5zM554.6 123.4l-2 .5 2.2 1.5 2.1-.6z" fill="#0f5"/>
<path d="M584.9 122.5l-2.2 1.8 2.1.6 2.2-1.7zM550.3 122.3l-2.1.4 2.3 1.6 2.1-.4z" fill="#0f4"/>
<path d="M604.3 116l-2.3 2.5 2.1.1 2.3-2.4z" fill="#0f0"/>
<path d="M589.2 121.3l-2.2 1.9 2.1.5 2.2-1.9zM545.9 121l-2 .2 2.3 1.7 2-.2z" fill="#0f3"/>
<path d="M593.5 119.7l-2.2 2.1 2.1.4 2.2-2z" fill="#0f2"/>
<path d="M608.7 113.6l-2.3 2.6 2 0 2.3-2.6z" fill="#3f0"/>
<path d="M569.7 123.5l-2.1 1.3 2.2 1 2.1-1.2zM565.4 123.5l-2.1 1.1 2.2 1.2 2.1-1z" fill="#0f5"/>
<path d="M597.9 117.9l-2.3 2.3 2.1.3 2.3-2.3z" fill="#0f0"/>
<path d="M574.1 123.2l-2.2 1.4 2.2 1 2.1-1.4zM561 123.3l-2.1.8 2.3 1.4 2.1-.9zM578.4 122.7l-2.2 1.5 2.2.9 2.1-1.6zM556.7 122.7l-2.1.7 2.3 1.4 2-.7z" fill="#0f4"/>
<path d="M582.7 121.8l-2.2 1.7 2.2.8 2.2-1.8zM552.4 121.8l-2.1.5 2.3 1.6 2-.5z" fill="#0f3"/>
<path d="M602.3 115.8l-2.3 2.4 2 .3 2.3-2.5z" fill="#1f0"/>
<path d="M587.1 120.6l-2.2 1.9 2.1.7 2.2-1.9zM548 120.6l-2.1.4 2.3 1.7 2.1-.4z" fill="#0f2"/>
<path d="M591.4 119.2l-2.2 2.1 2.1.5 2.2-2.1z" fill="#0f1"/>
<path d="M606.6 113.5l-2.3 2.5 2.1.2 2.3-2.6z" fill="#3f0"/>
<path d="M595.8 117.5l-2.3 2.2 2.1.5 2.3-2.3z" fill="#0f0"/>
<path d="M567.5 122.3l-2.1 1.2 2.2 1.3 2.1-1.3zM563.2 122.2l-2.2 1.1 2.3 1.3 2.1-1.1zM571.9 122.2l-2.2 1.3 2.2 1.1 2.2-1.4z" fill="#0f3"/>
<path d="M558.8 121.8l-2.1.9 2.2 1.4 2.1-.8zM576.2 121.7l-2.1 1.5 2.1 1 2.2-1.5z" fill="#0f2"/>
<path d="M600.2 115.5l-2.3 2.4 2.1.3 2.3-2.4z" fill="#2f0"/>
<path d="M554.4 121.1l-2 .7 2.2 1.6 2.1-.7zM580.6 120.9l-2.2 1.8 2.1.8 2.2-1.7z" fill="#0f2"/>
<path d="M584.9 119.9l-2.2 1.9 2.2.7 2.2-1.9zM550.1 120.1l-2.1.5 2.3 1.7 2.1-.5z" fill="#0f1"/>
<path d="M604.6 113.2l-2.3 2.6 2 .2 2.3-2.5z" fill="#4f0"/>
<path d="M589.3 118.6l-2.2 2 2.1.7 2.2-2.1z" fill="#0f0"/>
<path d="M593.7 117l-2.3 2.2 2.1.5 2.3-2.2z" fill="#1f0"/>
<path d="M565.3 121l-2.1 1.2 2.2 1.3 2.1-1.2zM569.7 121l-2.2 1.3 2.2 1.2 2.2-1.3zM560.9 120.8l-2.1 1 2.2 1.5 2.2-1.1z" fill="#0f1"/>
<path d="M598.1 115.1l-2.3 2.4 2.1.4 2.3-2.4z" fill="#3f0"/>
<path d="M574 120.6l-2.1 1.6 2.2 1 2.1-1.5z" fill="#0f1"/>
<path d="M556.5 120.2l-2.1.9 2.3 1.6 2.1-.9zM578.4 120l-2.2 1.7 2.2 1 2.2-1.8zM552.1 119.4l-2 .7 2.3 1.7 2-.7zM582.8 119.1l-2.2 1.8 2.1.9 2.2-1.9z" fill="#0f0"/>
<path d="M602.5 112.9l-2.3 2.6 2.1.3 2.3-2.6z" fill="#5f0"/>
<path d="M587.2 117.8l-2.3 2.1 2.2.7 2.2-2z" fill="#1f0"/>
<path d="M591.6 116.3l-2.3 2.3 2.1.6 2.3-2.2z" fill="#2f0"/>
<path d="M596 114.6l-2.3 2.4 2.1.5 2.3-2.4z" fill="#4f0"/>
<path d="M567.4 119.6l-2.1 1.4 2.2 1.3 2.2-1.3zM563 119.6l-2.1 1.2 2.3 1.4 2.1-1.2zM571.8 119.4l-2.1 1.6 2.2 1.2 2.1-1.6zM558.6 119.2l-2.1 1 2.3 1.6 2.1-1z" fill="#0f0"/>
<path d="M576.2 118.9l-2.2 1.7 2.2 1.1 2.2-1.7zM554.2 118.5l-2.1.9 2.3 1.7 2.1-.9zM580.6 118.1l-2.2 1.9 2.2.9 2.2-1.8z" fill="#1f0"/>
<path d="M600.4 112.5l-2.3 2.6 2.1.4 2.3-2.6z" fill="#6f0"/>
<path d="M585 117l-2.2 2.1 2.1.8 2.3-2.1z" fill="#2f0"/>
<path d="M589.4 115.6l-2.2 2.2 2.1.8 2.3-2.3z" fill="#4f0"/>
<path d="M593.8 113.9l-2.2 2.4 2.1.7 2.3-2.4z" fill="#5f0"/>
<path d="M565.2 118.2l-2.2 1.4 2.3 1.4 2.1-1.4zM569.6 118.1l-2.2 1.5 2.3 1.4 2.1-1.6zM560.8 118l-2.2 1.2 2.3 1.6 2.1-1.2zM574 117.7l-2.2 1.7 2.2 1.2 2.2-1.7z" fill="#2f0"/>
<path d="M598.3 111.9l-2.3 2.7 2.1.5 2.3-2.6z" fill="#7f0"/>
<path d="M556.4 117.5l-2.2 1 2.3 1.7 2.1-1zM578.4 117l-2.2 1.9 2.2 1.1 2.2-1.9z" fill="#3f0"/>
<path d="M582.8 116l-2.2 2.1 2.2 1 2.2-2.1z" fill="#4f0"/>
<path d="M587.3 114.7l-2.3 2.3 2.2.8 2.2-2.2z" fill="#5f0"/>
<path d="M591.7 113.2l-2.3 2.4 2.2.7 2.2-2.4z" fill="#6f0"/>
<path d="M596.2 111.3l-2.4 2.6 2.2.7 2.3-2.7z" fill="#7f0"/>
<path d="M567.4 116.7l-2.2 1.5 2.2 1.4 2.2-1.5zM562.9 116.7l-2.1 1.3 2.2 1.6 2.2-1.4zM571.8 116.4l-2.2 1.7 2.2 1.3 2.2-1.7zM558.5 116.3l-2.1 1.2 2.2 1.7 2.2-1.2z" fill="#4f0"/>
<path d="M576.2 115.8l-2.2 1.9 2.2 1.2 2.2-1.9zM580.7 114.9l-2.3 2.1 2.2 1.1 2.2-2.1z" fill="#5f0"/>
<path d="M585.1 113.8l-2.3 2.2 2.2 1 2.3-2.3z" fill="#6f0"/>
<path d="M589.5 112.3l-2.2 2.4 2.1.9 2.3-2.4z" fill="#7f0"/>
<path d="M594 110.6l-2.3 2.6 2.1.7 2.4-2.6z" fill="#8f0"/>
<path d="M565.1 115.1l-2.2 1.6 2.3 1.5 2.2-1.5zM569.5 115l-2.1 1.7 2.2 1.4 2.2-1.7zM560.6 115l-2.1 1.3 2.3 1.7 2.1-1.3zM574 114.5l-2.2 1.9 2.2 1.3 2.2-1.9z" fill="#6f0"/>
<path d="M578.4 113.7l-2.2 2.1 2.2 1.2 2.3-2.1zM582.9 112.7l-2.2 2.2 2.1 1.1 2.3-2.2z" fill="#7f0"/>
<path d="M587.4 111.3l-2.3 2.5 2.2.9 2.2-2.4zM591.9 109.7l-2.4 2.6 2.2.9 2.3-2.6z" fill="#8f0"/>
<path d="M562.8 113.4l-2.2 1.6 2.3 1.7 2.2-1.6zM567.3 113.4l-2.2 1.7 2.3 1.6 2.1-1.7zM571.7 113.1l-2.2 1.9 2.3 1.4 2.2-1.9z" fill="#7f0"/>
<path d="M576.2 112.4l-2.2 2.1 2.2 1.3 2.2-2.1zM580.7 111.5l-2.3 2.2 2.3 1.2 2.2-2.2zM585.2 110.3l-2.3 2.4 2.2 1.1 2.3-2.5z" fill="#8f0"/>
<path d="M589.7 108.7l-2.3 2.6 2.1 1 2.4-2.6z" fill="#9f0"/>
<path d="M565 111.7l-2.2 1.7 2.3 1.7 2.2-1.7zM569.5 111.5l-2.2 1.9 2.2 1.6 2.2-1.9zM574 111l-2.3 2.1 2.3 1.4 2.2-2.1z" fill="#8f0"/>
<path d="M578.5 110.2l-2.3 2.2 2.2 1.3 2.3-2.2zM583 109.1l-2.3 2.4 2.2 1.2 2.3-2.4z" fill="#9f0"/>
<path d="M587.5 107.6l-2.3 2.7 2.2 1 2.3-2.6z" fill="#af0"/>
<path d="M567.2 109.9l-2.2 1.8 2.3 1.7 2.2-1.9zM571.7 109.5l-2.2 2 2.2 1.6 2.3-2.1z" fill="#9f0"/>
<path d="M576.2 108.8l-2.2 2.2 2.2 1.4 2.3-2.2zM580.7 107.8l-2.2 2.4 2.2 1.3 2.3-2.4zM585.3 106.4l-2.3 2.7 2.2 1.2 2.3-2.7zM569.4 107.8l-2.2 2.1 2.3 1.6 2.2-2zM573.9 107.2l-2.2 2.3 2.3 1.5 2.2-2.2z" fill="#af0"/>
<path d="M578.5 106.3l-2.3 2.5 2.3 1.4 2.2-2.4zM583 105.1l-2.3 2.7 2.3 1.3 2.3-2.7zM571.7 105.5l-2.3 2.3 2.3 1.7 2.2-2.3z" fill="#bf0"/>
<path d="M576.2 104.8l-2.3 2.4 2.3 1.6 2.3-2.5zM580.8 103.7l-2.3 2.6 2.2 1.5 2.3-2.7z" fill="#cf0"/>
<path d="M573.9 103.1l-2.2 2.4 2.2 1.7 2.3-2.4zM578.5 102.1l-2.3 2.7 2.3 1.5 2.3-2.6z" fill="#df0"/>
<path d="M576.2 100.5l-2.3 2.6 2.3 1.7 2.3-2.7z" fill="#ef0"/>
</g>
<line x1="576.2" y1="90.3" x2="576.2" y2="100.5" stroke="#333" stroke-width="0.4"/>
<circle cx="576.2" cy="90.3" r="1.8" fill="#e3131c"/>
<circle cx="576.2" cy="31.9" r="1.8" fill="#e3131c"/>
<circle cx="668.7" cy="70.0" r="1.8" fill="#e3131c"/>
<circle cx="483.0" cy="55.6" r="1.6" fill="#f6cfcf" fill-opacity="0.75" stroke="#d98c8c" stroke-width="0.5"/>
<polygon points="413.2,377.8 511.5,343.2 413.2,316.0 314.9,343.2" fill="#ffff00" stroke="#5a5a20" stroke-width="0.5"/>
<path d="M356.6 357.9 355.6 357.3 354.4 356.6 353.8 356.2 352.7 355.5 351.6 354.9 351 354.5 349.9 353.8 349.3 353.4 348.3 352.7 347.6 352.3 346.7 351.7 345.9 351.1 345.2 350.6 344.3 350 343.8 349.6 342.9 348.9 342.4 348.5 341.6 347.8 341.1 347.4 340.4 346.9 339.8 346.4 339.3 345.9 338.6 345.3 338.2 344.9 337.5 344.2 337.1 343.8 336.6 343.3 336.1 342.7 335.7 342.4 335.1 341.6 334.8 341.3 334.4 340.9 333.9 340.2 333.6 339.8 333.3 339.4 332.8 338.7 332.5 338.3" fill="none" stroke="#003cff" stroke-width="0.9" stroke-opacity="0.33"/>
<path d="M415.7 377 414 376.3 412.2 375.6 410.8 375 409.6 374.6 407.9 373.9 406.2 373.2 404.6 372.5 402.9 371.8 401.3 371.1 400.3 370.7 398.9 370.1 397.3 369.4 395.7 368.7 394.2 368 393.2 367.6 391.9 367 390.4 366.3 388.9 365.6 387.8 365.1 386.7 364.6 385.3 363.9 383.9 363.2 383.2 362.9 381.8 362.2 380.5 361.5 379.6 361 378.5 360.4 377.2 359.7 376.4 359.3 375.3 358.7 374 358 373.4 357.6 372.2 356.9 371.1 356.3 370.4 355.9 369.3 355.2 368.7 354.8 367.6 354.1 366.9 353.7 366 353 365.1 352.5 364.4 352 363.5 351.3 362.9 350.9 362 350.2 361.4 349.8 360.6 349.2 360 348.7 359.4 348.2 358.7 347.6 358.2 347.3 357.4 346.6 357 346.2 356.3 345.5 355.8 345.1 355.4 344.6 354.7 344 354.4 343.6 353.8 343 353.4 342.5 353 342.1 352.6 341.5 352.1 340.9 351.9 340.6 351.5 340.1 351.1 339.4 350.8 339 350.6 338.6 350.3 338.1 349.9 337.5 349.8 337.1 349.6 336.7 349.4 336.2 349.1 335.6 349 335.1 348.8 334.7 348.7 334.2 348.7 333.8" fill="none" stroke="#00f2ff" stroke-width="0.9" stroke-opacity="0.33"/>
<path d="M425 373.7 423.6 373.1 422.5 372.6 420.8 371.9 419.2 371.2 417.6 370.5 416 369.8 415.2 369.5 413.6 368.8 412 368.1 410.5 367.4 409.7 367.1 408.2 366.4 406.7 365.7 405.4 365 404.5 364.6 403.1 363.9 401.7 363.2 401 362.8 399.6 362.1 398.2 361.4 397.5 361.1 396.2 360.4 395 359.7 394.3 359.3 393 358.6 392.3 358.2 391.1 357.5 390 356.8 389.3 356.4 388.2 355.7 387.6 355.4 386.4 354.6 385.9 354.3 384.8 353.6 384.2 353.2 383.2 352.5 382.7 352.1 381.7 351.4 381.2 351 380.2 350.3 379.7 349.9 378.8 349.1 378.3 348.8 377.6 348.2 377 347.7 376.6 347.3 375.8 346.5 375.4 346.1 374.9 345.6 374.3 345 373.9 344.6 373.4 344.1 372.9 343.5 372.6 343.1 372.2 342.6 371.7 341.9 371.4 341.5 371.1 341.1 370.8 340.5 370.4 339.9 370.2 339.5 369.9 339.1 369.7 338.6 369.5 338 369.2 337.5 369.1 337 369 336.6 368.8 336.2 368.8 335.7 368.7 335.2 368.6 334.7 368.6 334.2 368.5 333.7 368.6 333.2 368.6 332.7 368.7 332.2 368.7 331.8 368.8 331.3 369 330.9 369.1 330.4 369.3 330 369.5 329.6 369.7 329.2 369.9 328.8 370.2 328.3 370.6 327.8" fill="none" stroke="#00ff52" stroke-width="0.9" stroke-opacity="0.33"/>
<path d="M434.9 370.2 434.1 369.8 432.5 369.1 430.9 368.4 429.4 367.7 428.6 367.4 427.1 366.6 425.6 365.9 424.8 365.5 423.4 364.8 421.9 364.1 421.1 363.7 419.8 363 418.4 362.3 417.7 362 416.4 361.2 415.1 360.6 414.4 360.2 413.1 359.4 412.4 359.1 411.2 358.3 410.4 357.9 409.3 357.2 408.4 356.6 407.6 356.1 406.5 355.5 405.9 355 404.9 354.3 404.2 353.9 403.3 353.3 402.6 352.8 402 352.3 401.1 351.6 400.6 351.3 399.7 350.5 399.2 350.1 398.5 349.5 397.8 349 397.4 348.6 396.6 347.8 396.2 347.4 395.8 347 395.1 346.3 394.7 345.8 394.3 345.4 393.8 344.8 393.3 344.2 393 343.8 392.7 343.4 392.3 342.7 391.9 342.2 391.7 341.8 391.4 341.3 391.2 340.8 390.9 340.3 390.7 339.7 390.5 339.2 390.4 338.8 390.3 338.3 390.2 337.9 390.1 337.4 390 337 390 336.4 390 335.9 390 335.5 390.1 335 390.1 334.5 390.2 334.1 390.4 333.6 390.5 333.1 390.7 332.6 391 332.1 391.3 331.6 391.6 331.1 391.8 330.7 392.1 330.3 392.5 329.9 393 329.3 393.4 328.9 393.8 328.5 394.4 328 395 327.5 395.5 327.2 396.4 326.6 396.9 326.2 397.7 325.8 398.4 325.3 399.3 324.9 400.1 324.5 401.2 324 401.8 323.7 403.1 323.2 404.4 322.7 405.4 322.3 406.4 322 407.8 321.5 409.2 321.1 410.7 320.6 412.2 320.2 413.8 319.8 415.4 319.5 416.2 319.3 417.9 318.9 419.6 318.6 421.3 318.2" fill="none" stroke="#5aff00" stroke-width="0.9" stroke-opacity="0.33"/>
<line x1="314.9" y1="343.2" x2="308.3" y2="244.7" stroke="#2e2e2e" stroke-width="0.6"/>
<line x1="413.2" y1="316.0" x2="413.2" y2="227.3" stroke="#686868" stroke-width="0.5"/>
<line x1="511.5" y1="343.2" x2="518.2" y2="244.7" stroke="#686868" stroke-width="0.5"/>
<line x1="308.3" y1="244.7" x2="413.2" y2="227.3" stroke="#686868" stroke-width="0.5"/>
<line x1="413.2" y1="227.3" x2="518.2" y2="244.7" stroke="#686868" stroke-width="0.5"/>
<g stroke="#000" stroke-opacity="0.68" stroke-width="0.26" stroke-linejoin="round">
<path d="M413.2 267.3l1.8-.2-1.8.4-1.8.2zM411.4 267.6l1.8-.3-1.8.4-1.8.3z" fill="#1f0"/>
<path d="M415.1 267l1.8-.2-1.9.3-1.8.2z" fill="#2f0"/>
<path d="M409.6 267.9l1.8-.3-1.8.4-1.8.3z" fill="#1f0"/>
<path d="M413.2 267.3l1.9-.3-1.9.3-1.8.3z" fill="#2f0"/>
<path d="M416.9 266.6l1.8-.2-1.8.4-1.8.2z" fill="#3f0"/>
<path d="M407.7 268.2l1.9-.3-1.8.4-1.9.3z" fill="#1f0"/>
<path d="M411.4 267.6l1.8-.3-1.8.3-1.8.3z" fill="#2f0"/>
<path d="M415.1 266.9l1.8-.3-1.8.4-1.9.3z" fill="#3f0"/>
<path d="M418.7 266.3l1.9-.3-1.9.4-1.8.2z" fill="#4f0"/>
<path d="M405.9 268.6l1.8-.4-1.8.4-1.8.3z" fill="#1f0"/>
<path d="M409.6 267.9l1.8-.3-1.8.3-1.9.3z" fill="#2f0"/>
<path d="M413.2 267.2l1.9-.3-1.9.4-1.8.3z" fill="#3f0"/>
<path d="M416.9 266.5l1.8-.2-1.8.3-1.8.3z" fill="#4f0"/>
<path d="M420.6 265.9l1.8-.3-1.8.4-1.9.3z" fill="#5f0"/>
<path d="M404 269l1.9-.4-1.8.3-1.9.4z" fill="#2f0"/>
<path d="M407.7 268.2l1.9-.3-1.9.3-1.8.4zM411.4 267.5l1.8-.3-1.8.4-1.8.3z" fill="#3f0"/>
<path d="M415.1 266.9l1.8-.4-1.8.4-1.9.3z" fill="#4f0"/>
<path d="M418.8 266.2l1.8-.3-1.9.4-1.8.2z" fill="#5f0"/>
<path d="M422.5 265.5l1.8-.2-1.9.3-1.8.3z" fill="#6f0"/>
<path d="M402.2 269.4l1.8-.4-1.8.3-1.8.4z" fill="#2f0"/>
<path d="M405.9 268.6l1.8-.4-1.8.4-1.9.4zM409.5 267.9l1.9-.4-1.8.4-1.9.3z" fill="#3f0"/>
<path d="M413.2 267.2l1.9-.3-1.9.3-1.8.3z" fill="#4f0"/>
<path d="M416.9 266.5l1.9-.3-1.9.3-1.8.4z" fill="#5f0"/>
<path d="M420.6 265.8l1.9-.3-1.9.4-1.8.3z" fill="#6f0"/>
<path d="M400.3 269.8l1.9-.4-1.8.3-1.9.4z" fill="#2f0"/>
<path d="M424.3 265.2l1.8-.3-1.8.4-1.8.2z" fill="#7f0"/>
<path d="M404 269l1.9-.4-1.9.4-1.8.4zM407.7 268.3l1.8-.4-1.8.3-1.8.4z" fill="#3f0"/>
<path d="M411.4 267.6l1.8-.4-1.8.3-1.9.4z" fill="#4f0"/>
<path d="M415.1 266.8l1.8-.3-1.8.4-1.9.3z" fill="#5f0"/>
<path d="M398.4 270.3l1.9-.5-1.8.3-1.9.5z" fill="#1f0"/>
<path d="M418.8 266.1l1.8-.3-1.8.4-1.9.3z" fill="#6f0"/>
<path d="M402.1 269.5l1.9-.5-1.8.4-1.9.4z" fill="#3f0"/>
<path d="M422.5 265.5l1.8-.3-1.8.3-1.9.3z" fill="#7f0"/>
<path d="M426.2 264.8l1.8-.3-1.9.4-1.8.3z" fill="#8f0"/>
<path d="M405.8 268.7l1.9-.4-1.8.3-1.9.4z" fill="#3f0"/>
<path d="M409.5 268l1.9-.4-1.9.3-1.8.4z" fill="#4f0"/>
<path d="M413.2 267.2l1.9-.4-1.9.4-1.8.4z" fill="#5f0"/>
<path d="M396.5 270.8l1.9-.5-1.8.3-1.9.5z" fill="#1f0"/>
<path d="M416.9 266.5l1.9-.4-1.9.4-1.8.3z" fill="#6f0"/>
<path d="M400.2 270l1.9-.5-1.8.3-1.9.5z" fill="#2f0"/>
<path d="M420.7 265.8l1.8-.3-1.9.3-1.8.3z" fill="#7f0"/>
<path d="M403.9 269.2l1.9-.5-1.8.3-1.9.5z" fill="#3f0"/>
<path d="M424.4 265.1l1.8-.3-1.9.4-1.8.3z" fill="#8f0"/>
<path d="M428.1 264.4l1.8-.2-1.9.3-1.8.3z" fill="#9f0"/>
<path d="M407.7 268.4l1.8-.4-1.8.3-1.9.4z" fill="#4f0"/>
<path d="M411.4 267.6l1.8-.4-1.8.4-1.9.4z" fill="#5f0"/>
<path d="M394.6 271.3l1.9-.5-1.8.3-1.9.5z" fill="#1f0"/>
<path d="M415.1 266.9l1.8-.4-1.8.3-1.9.4z" fill="#6f0"/>
<path d="M398.3 270.5l1.9-.5-1.8.3-1.9.5z" fill="#2f0"/>
<path d="M418.8 266.2l1.9-.4-1.9.3-1.9.4z" fill="#7f0"/>
<path d="M402.1 269.6l1.8-.4-1.8.3-1.9.5z" fill="#3f0"/>
<path d="M422.6 265.4l1.8-.3-1.9.4-1.8.3z" fill="#8f0"/>
<path d="M405.8 268.8l1.9-.4-1.9.3-1.9.5z" fill="#4f0"/>
<path d="M426.3 264.7l1.8-.3-1.9.4-1.8.3zM430 264.1l1.8-.3-1.9.4-1.8.2z" fill="#9f0"/>
<path d="M409.5 268.1l1.9-.5-1.9.4-1.8.4z" fill="#5f0"/>
<path d="M392.7 271.9l1.9-.6-1.8.3-1.9.6z" fill="#1f0"/>
<path d="M413.2 267.3l1.9-.4-1.9.3-1.8.4z" fill="#6f0"/>
<path d="M396.4 271l1.9-.5-1.8.3-1.9.5z" fill="#2f0"/>
<path d="M417 266.5l1.8-.3-1.9.3-1.8.4z" fill="#7f0"/>
<path d="M400.2 270.2l1.9-.6-1.9.4-1.9.5z" fill="#3f0"/>
<path d="M420.7 265.8l1.9-.4-1.9.4-1.9.4z" fill="#8f0"/>
<path d="M403.9 269.3l1.9-.5-1.9.4-1.8.4z" fill="#4f0"/>
<path d="M424.4 265.1l1.9-.4-1.9.4-1.8.3z" fill="#9f0"/>
<path d="M407.6 268.5l1.9-.4-1.8.3-1.9.4z" fill="#5f0"/>
<path d="M390.8 272.4l1.9-.5-1.8.3-1.9.5z" fill="#1f0"/>
<path d="M428.2 264.4l1.8-.3-1.9.3-1.8.3zM431.9 263.7l1.9-.3-2 .4-1.8.3z" fill="#af0"/>
<path d="M411.4 267.7l1.8-.4-1.8.3-1.9.5z" fill="#6f0"/>
<path d="M394.5 271.6l1.9-.6-1.8.3-1.9.6z" fill="#2f0"/>
<path d="M415.1 267l1.9-.5-1.9.4-1.9.4z" fill="#7f0"/>
<path d="M398.3 270.7l1.9-.5-1.9.3-1.9.5z" fill="#3f0"/>
<path d="M418.9 266.2l1.8-.4-1.9.4-1.8.3z" fill="#8f0"/>
<path d="M402 269.8l1.9-.5-1.8.3-1.9.6z" fill="#4f0"/>
<path d="M422.6 265.5l1.8-.4-1.8.3-1.9.4z" fill="#9f0"/>
<path d="M388.9 273.1l1.9-.7-1.8.3-1.9.7z" fill="#0f0"/>
<path d="M405.7 269l1.9-.5-1.8.3-1.9.5z" fill="#5f0"/>
<path d="M426.4 264.7l1.8-.3-1.9.3-1.9.4z" fill="#af0"/>
<path d="M409.5 268.2l1.9-.5-1.9.4-1.9.4z" fill="#6f0"/>
<path d="M392.6 272.2l1.9-.6-1.8.3-1.9.5z" fill="#2f0"/>
<path d="M430.1 264l1.8-.3-1.9.4-1.8.3z" fill="#bf0"/>
<path d="M413.2 267.4l1.9-.4-1.9.3-1.8.4z" fill="#7f0"/>
<path d="M433.9 263.3l1.8-.3-1.9.4-1.9.3z" fill="#bf0"/>
<path d="M396.4 271.3l1.9-.6-1.9.3-1.9.6z" fill="#3f0"/>
<path d="M417 266.6l1.9-.4-1.9.3-1.9.5z" fill="#8f0"/>
<path d="M400.1 270.4l1.9-.6-1.8.4-1.9.5z" fill="#4f0"/>
<path d="M420.7 265.9l1.9-.4-1.9.3-1.8.4z" fill="#9f0"/>
<path d="M387 273.7l1.9-.6-1.8.3-1.9.6z" fill="#0f0"/>
<path d="M403.8 269.5l1.9-.5-1.8.3-1.9.5z" fill="#5f0"/>
<path d="M424.5 265.1l1.9-.4-2 .4-1.8.4z" fill="#af0"/>
<path d="M390.7 272.8l1.9-.6-1.8.2-1.9.7z" fill="#2f0"/>
<path d="M407.6 268.7l1.9-.5-1.9.3-1.9.5z" fill="#6f0"/>
<path d="M428.3 264.4l1.8-.4-1.9.4-1.8.3z" fill="#bf0"/>
<path d="M411.4 267.9l1.8-.5-1.8.3-1.9.5z" fill="#7f0"/>
<path d="M394.4 271.9l2-.6-1.9.3-1.9.6z" fill="#3f0"/>
<path d="M432 263.7l1.9-.4-2 .4-1.8.3z" fill="#bf0"/>
<path d="M415.1 267.1l1.9-.5-1.9.4-1.9.4z" fill="#8f0"/>
<path d="M435.8 262.9l1.8-.3-1.9.4-1.8.3z" fill="#cf0"/>
<path d="M398.2 271l1.9-.6-1.8.3-1.9.6z" fill="#4f0"/>
<path d="M385 274.4l2-.7-1.8.3-2 .7z" fill="#0f0"/>
<path d="M418.9 266.3l1.8-.4-1.8.3-1.9.4z" fill="#9f0"/>
<path d="M401.9 270.1l1.9-.6-1.8.3-1.9.6z" fill="#5f0"/>
<path d="M422.6 265.5l1.9-.4-1.9.4-1.9.4z" fill="#af0"/>
<path d="M388.8 273.4l1.9-.6-1.8.3-1.9.6z" fill="#1f0"/>
<path d="M405.7 269.2l1.9-.5-1.9.3-1.9.5z" fill="#6f0"/>
<path d="M426.4 264.8l1.9-.4-1.9.3-1.9.4z" fill="#bf0"/>
<path d="M392.5 272.5l1.9-.6-1.8.3-1.9.6z" fill="#2f0"/>
<path d="M409.5 268.4l1.9-.5-1.9.3-1.9.5z" fill="#7f0"/>
<path d="M430.2 264l1.8-.3-1.9.3-1.8.4z" fill="#bf0"/>
<path d="M413.2 267.6l1.9-.5-1.9.3-1.8.5z" fill="#8f0"/>
<path d="M396.3 271.6l1.9-.6-1.8.3-2 .6z" fill="#4f0"/>
<path d="M434 263.3l1.8-.4-1.9.4-1.9.4z" fill="#cf0"/>
<path d="M383.1 275.1l1.9-.7-1.8.3-1.9.7z" fill="#0f0"/>
<path d="M417 266.8l1.9-.5-1.9.3-1.9.5z" fill="#9f0"/>
<path d="M437.8 262.6l1.8-.3-2 .3-1.8.3z" fill="#df0"/>
<path d="M400 270.7l1.9-.6-1.8.3-1.9.6z" fill="#5f0"/>
<path d="M386.8 274.1l2-.7-1.8.3-2 .7z" fill="#1f0"/>
<path d="M420.8 266l1.8-.5-1.9.4-1.8.4z" fill="#af0"/>
<path d="M403.8 269.8l1.9-.6-1.9.3-1.9.6z" fill="#6f0"/>
<path d="M424.6 265.2l1.8-.4-1.9.3-1.9.4z" fill="#bf0"/>
<path d="M390.6 273.2l1.9-.7-1.8.3-1.9.6z" fill="#2f0"/>
<path d="M407.6 268.9l1.9-.5-1.9.3-1.9.5z" fill="#7f0"/>
<path d="M428.3 264.4l1.9-.4-1.9.4-1.9.4z" fill="#cf0"/>
<path d="M394.3 272.2l2-.6-1.9.3-1.9.6z" fill="#3f0"/>
<path d="M411.3 268.1l1.9-.5-1.8.3-1.9.5z" fill="#8f0"/>
<path d="M381.1 275.9l2-.8-1.8.3-2 .7z" fill="#0f0"/>
<path d="M432.1 263.7l1.9-.4-2 .4-1.8.3z" fill="#cf0"/>
<path d="M415.1 267.2l1.9-.4-1.9.3-1.9.5z" fill="#9f0"/>
<path d="M398.1 271.3l1.9-.6-1.8.3-1.9.6z" fill="#4f0"/>
<path d="M435.9 262.9l1.9-.3-2 .3-1.8.4z" fill="#df0"/>
<path d="M384.9 274.9l1.9-.8-1.8.3-1.9.7z" fill="#0f0"/>
<path d="M418.9 266.4l1.9-.4-1.9.3-1.9.5z" fill="#af0"/>
<path d="M401.9 270.4l1.9-.6-1.9.3-1.9.6z" fill="#5f0"/>
<path d="M439.7 262.2l1.8-.3-1.9.4-1.8.3z" fill="#ef0"/>
<path d="M388.6 273.9l2-.7-1.8.2-2 .7z" fill="#2f0"/>
<path d="M422.7 265.6l1.9-.4-2 .3-1.8.5z" fill="#bf0"/>
<path d="M405.7 269.5l1.9-.6-1.9.3-1.9.6z" fill="#7f0"/>
<path d="M426.5 264.8l1.8-.4-1.9.4-1.8.4z" fill="#cf0"/>
<path d="M392.4 272.9l1.9-.7-1.8.3-1.9.7z" fill="#3f0"/>
<path d="M409.4 268.6l1.9-.5-1.8.3-1.9.5z" fill="#8f0"/>
<path d="M379.2 276.6l1.9-.7-1.8.2-1.9.8z" fill="#0f1"/>
<path d="M430.3 264.1l1.8-.4-1.9.3-1.9.4z" fill="#cf0"/>
<path d="M396.2 272l1.9-.7-1.8.3-2 .6z" fill="#4f0"/>
<path d="M413.2 267.8l1.9-.6-1.9.4-1.9.5z" fill="#9f0"/>
<path d="M382.9 275.6l2-.7-1.8.2-2 .8z" fill="#0f0"/>
<path d="M434.1 263.3l1.8-.4-1.9.4-1.9.4z" fill="#df0"/>
<path d="M400 271l1.9-.6-1.9.3-1.9.6z" fill="#5f0"/>
<path d="M417 266.9l1.9-.5-1.9.4-1.9.4z" fill="#af0"/>
<path d="M437.9 262.5l1.8-.3-1.9.4-1.9.3z" fill="#ef0"/>
<path d="M386.7 274.6l1.9-.7-1.8.2-1.9.8z" fill="#1f0"/>
<path d="M420.8 266.1l1.9-.5-1.9.4-1.9.4z" fill="#bf0"/>
<path d="M403.8 270.1l1.9-.6-1.9.3-1.9.6z" fill="#6f0"/>
<path d="M441.7 261.8l1.8-.3-2 .4-1.8.3z" fill="#fe0"/>
<path d="M390.5 273.6l1.9-.7-1.8.3-2 .7z" fill="#3f0"/>
<path d="M424.6 265.3l1.9-.5-1.9.4-1.9.4z" fill="#bf0"/>
<path d="M377.2 277.5l2-.9-1.8.3-2 .8z" fill="#0f1"/>
<path d="M407.5 269.2l1.9-.6-1.8.3-1.9.6z" fill="#7f0"/>
<path d="M428.4 264.5l1.9-.4-2 .3-1.8.4z" fill="#cf0"/>
<path d="M394.2 272.6l2-.6-1.9.2-1.9.7z" fill="#4f0"/>
<path d="M411.3 268.3l1.9-.5-1.9.3-1.9.5z" fill="#8f0"/>
<path d="M381 276.4l1.9-.8-1.8.3-1.9.7z" fill="#0f0"/>
<path d="M432.2 263.7l1.9-.4-2 .4-1.8.4z" fill="#df0"/>
<path d="M398 271.7l2-.7-1.9.3-1.9.7z" fill="#5f0"/>
<path d="M415.1 267.5l1.9-.6-1.9.3-1.9.6z" fill="#9f0"/>
<path d="M384.7 275.4l2-.8-1.8.3-2 .7z" fill="#1f0"/>
<path d="M436 262.9l1.9-.4-2 .4-1.8.4z" fill="#ef0"/>
<path d="M401.8 270.7l2-.6-1.9.3-1.9.6z" fill="#6f0"/>
<path d="M418.9 266.6l1.9-.5-1.9.3-1.9.5z" fill="#af0"/>
<path d="M439.9 262.2l1.8-.4-2 .4-1.8.3z" fill="#fe0"/>
<path d="M388.5 274.3l2-.7-1.9.3-1.9.7z" fill="#2f0"/>
<path d="M375.2 278.3l2-.8-1.8.2-2 .8z" fill="#0f2"/>
<path d="M422.7 265.8l1.9-.5-1.9.3-1.9.5z" fill="#bf0"/>
<path d="M405.6 269.8l1.9-.6-1.8.3-1.9.6z" fill="#7f0"/>
<path d="M443.7 261.4l1.8-.3-2 .4-1.8.3z" fill="#fd0"/>
<path d="M392.3 273.3l1.9-.7-1.8.3-1.9.7z" fill="#4f0"/>
<path d="M379 277.2l2-.8-1.8.2-2 .9z" fill="#0f0"/>
<path d="M426.6 264.9l1.8-.4-1.9.3-1.9.5z" fill="#cf0"/>
<path d="M409.4 268.9l1.9-.6-1.9.3-1.9.6z" fill="#8f0"/>
<path d="M396.1 272.4l1.9-.7-1.8.3-2 .6z" fill="#5f0"/>
<path d="M430.4 264.1l1.8-.4-1.9.4-1.9.4z" fill="#df0"/>
<path d="M413.2 268l1.9-.5-1.9.3-1.9.5z" fill="#9f0"/>
<path d="M382.8 276.2l1.9-.8-1.8.2-1.9.8z" fill="#0f0"/>
<path d="M434.2 263.4l1.8-.5-1.9.4-1.9.4z" fill="#ef0"/>
<path d="M399.9 271.4l1.9-.7-1.8.3-2 .7z" fill="#6f0"/>
<path d="M417 267.1l1.9-.5-1.9.3-1.9.6z" fill="#af0"/>
<path d="M386.6 275.1l1.9-.8-1.8.3-2 .8z" fill="#2f0"/>
<path d="M373.2 279.2l2-.9-1.8.2-2 .9z" fill="#0f3"/>
<path d="M438 262.6l1.9-.4-2 .3-1.9.4z" fill="#fe0"/>
<path d="M403.7 270.5l1.9-.7-1.8.3-2 .6z" fill="#7f0"/>
<path d="M420.9 266.3l1.8-.5-1.9.3-1.9.5z" fill="#bf0"/>
<path d="M441.8 261.8l1.9-.4-2 .4-1.8.4z" fill="#fd0"/>
<path d="M390.4 274.1l1.9-.8-1.8.3-2 .7z" fill="#3f0"/>
<path d="M377 278.1l2-.9-1.8.3-2 .8z" fill="#0f1"/>
<path d="M424.7 265.4l1.9-.5-2 .4-1.9.5z" fill="#cf0"/>
<path d="M407.5 269.5l1.9-.6-1.9.3-1.9.6z" fill="#8f0"/>
<path d="M445.7 261.1l1.8-.4-2 .4-1.8.3z" fill="#fc0"/>
<path d="M394.2 273.1l1.9-.7-1.9.2-1.9.7z" fill="#4f0"/>
<path d="M380.8 277l2-.8-1.8.2-2 .8z" fill="#0f0"/>
<path d="M428.5 264.6l1.9-.5-2 .4-1.8.4z" fill="#df0"/>
<path d="M411.3 268.6l1.9-.6-1.9.3-1.9.6z" fill="#9f0"/>
<path d="M398 272.1l1.9-.7-1.9.3-1.9.7z" fill="#6f0"/>
<path d="M432.3 263.8l1.9-.4-2 .3-1.8.4z" fill="#ef0"/>
<path d="M371.2 280.1l2-.9-1.8.2-2 .9z" fill="#0f3"/>
<path d="M384.6 275.9l2-.8-1.9.3-1.9.8z" fill="#1f0"/>
<path d="M415.1 267.7l1.9-.6-1.9.4-1.9.5z" fill="#af0"/>
<path d="M436.2 263l1.8-.4-2 .3-1.8.5z" fill="#fe0"/>
<path d="M401.8 271.1l1.9-.6-1.9.2-1.9.7z" fill="#7f0"/>
<path d="M419 266.8l1.9-.5-2 .3-1.9.5z" fill="#bf0"/>
<path d="M388.4 274.9l2-.8-1.9.2-1.9.8z" fill="#3f0"/>
<path d="M375 279l2-.9-1.8.2-2 .9z" fill="#0f2"/>
<path d="M440 262.2l1.8-.4-1.9.4-1.9.4z" fill="#fd0"/>
<path d="M405.6 270.2l1.9-.7-1.9.3-1.9.7z" fill="#8f0"/>
<path d="M422.8 266l1.9-.6-2 .4-1.8.5z" fill="#cf0"/>
<path d="M392.2 273.8l2-.7-1.9.2-1.9.8z" fill="#4f0"/>
<path d="M443.8 261.4l1.9-.3-2 .3-1.9.4z" fill="#fc0"/>
<path d="M378.8 277.8l2-.8-1.8.2-2 .9z" fill="#0f0"/>
<path d="M409.4 269.2l1.9-.6-1.9.3-1.9.6z" fill="#9f0"/>
<path d="M426.6 265.1l1.9-.5-1.9.3-1.9.5z" fill="#df0"/>
<path d="M447.7 260.7l1.8-.4-2 .4-1.8.4z" fill="#fb0"/>
<path d="M396 272.8l2-.7-1.9.3-1.9.7z" fill="#5f0"/>
<path d="M369.2 281l2-.9-1.8.2-2 .9z" fill="#0f4"/>
<path d="M382.6 276.8l2-.9-1.8.3-2 .8z" fill="#1f0"/>
<path d="M430.5 264.3l1.8-.5-1.9.3-1.9.5z" fill="#ef0"/>
<path d="M413.2 268.3l1.9-.6-1.9.3-1.9.6z" fill="#af0"/>
<path d="M399.8 271.8l2-.7-1.9.3-1.9.7z" fill="#6f0"/>
<path d="M434.3 263.5l1.9-.5-2 .4-1.9.4z" fill="#fe0"/>
<path d="M373 279.9l2-.9-1.8.2-2 .9z" fill="#0f2"/>
<path d="M386.4 275.7l2-.8-1.8.2-2 .8z" fill="#2f0"/>
<path d="M417.1 267.4l1.9-.6-2 .3-1.9.6z" fill="#bf0"/>
<path d="M438.1 262.6l1.9-.4-2 .4-1.8.4z" fill="#fd0"/>
<path d="M403.7 270.9l1.9-.7-1.9.3-1.9.6z" fill="#7f0"/>
<path d="M420.9 266.5l1.9-.5-1.9.3-1.9.5z" fill="#cf0"/>
<path d="M390.2 274.6l2-.8-1.8.3-2 .8z" fill="#4f0"/>
<path d="M376.8 278.7l2-.9-1.8.3-2 .9z" fill="#0f1"/>
<path d="M442 261.8l1.8-.4-2 .4-1.8.4z" fill="#fc0"/>
<path d="M407.5 269.9l1.9-.7-1.9.3-1.9.7z" fill="#9f0"/>
<path d="M424.7 265.7l1.9-.6-1.9.3-1.9.6z" fill="#df0"/>
<path d="M367.2 282l2-1-1.8.2-2 1z" fill="#0f5"/>
<path d="M394.1 273.6l1.9-.8-1.8.3-2 .7z" fill="#5f0"/>
<path d="M380.6 277.6l2-.8-1.8.2-2 .8z" fill="#0f0"/>
<path d="M445.8 261.1l1.9-.4-2 .4-1.9.3z" fill="#fb0"/>
<path d="M411.3 269l1.9-.7-1.9.3-1.9.6z" fill="#af0"/>
<path d="M428.6 264.8l1.9-.5-2 .3-1.9.5z" fill="#ef0"/>
<path d="M449.7 260.3l1.8-.4-2 .4-1.8.4z" fill="#fa0"/>
<path d="M371 280.8l2-.9-1.8.2-2 .9z" fill="#0f3"/>
<path d="M397.9 272.6l1.9-.8-1.8.3-2 .7z" fill="#6f0"/>
<path d="M384.4 276.5l2-.8-1.8.2-2 .9z" fill="#2f0"/>
<path d="M432.4 263.9l1.9-.4-2 .3-1.8.5z" fill="#fe0"/>
<path d="M415.2 268l1.9-.6-2 .3-1.9.6z" fill="#bf0"/>
<path d="M401.7 271.6l2-.7-1.9.2-2 .7z" fill="#7f0"/>
<path d="M374.8 279.7l2-1-1.8.3-2 .9z" fill="#0f1"/>
<path d="M436.3 263.1l1.8-.5-1.9.4-1.9.5z" fill="#fd0"/>
<path d="M388.3 275.4l1.9-.8-1.8.3-2 .8z" fill="#3f0"/>
<path d="M419 267.1l1.9-.6-1.9.3-1.9.6z" fill="#cf0"/>
<path d="M365.2 283l2-1-1.8.2-2 1z" fill="#0f6"/>
<path d="M405.5 270.6l2-.7-1.9.3-1.9.7z" fill="#8f0"/>
<path d="M440.1 262.3l1.9-.5-2 .4-1.9.4z" fill="#fc0"/>
<path d="M422.8 266.2l1.9-.5-1.9.3-1.9.5z" fill="#df0"/>
<path d="M378.6 278.5l2-.9-1.8.2-2 .9z" fill="#0f0"/>
<path d="M392.1 274.4l2-.8-1.9.2-2 .8z" fill="#4f0"/>
<path d="M444 261.5l1.8-.4-2 .3-1.8.4z" fill="#fb0"/>
<path d="M409.4 269.6l1.9-.6-1.9.2-1.9.7z" fill="#9f0"/>
<path d="M426.7 265.3l1.9-.5-2 .3-1.9.6z" fill="#ef0"/>
<path d="M369 281.8l2-1-1.8.2-2 1z" fill="#0f4"/>
<path d="M395.9 273.3l2-.7-1.9.2-1.9.8z" fill="#6f0"/>
<path d="M382.5 277.4l1.9-.9-1.8.3-2 .8z" fill="#1f0"/>
<path d="M447.9 260.7l1.8-.4-2 .4-1.9.4z" fill="#f90"/>
<path d="M413.2 268.7l2-.7-2 .3-1.9.7z" fill="#bf0"/>
<path d="M430.5 264.5l1.9-.6-1.9.4-1.9.5z" fill="#fe0"/>
<path d="M372.8 280.6l2-.9-1.8.2-2 .9z" fill="#0f2"/>
<path d="M451.7 259.9l1.9-.4-2.1.4-1.8.4z" fill="#f80"/>
<path d="M399.8 272.3l1.9-.7-1.9.2-1.9.8z" fill="#7f0"/>
<path d="M386.3 276.3l2-.9-1.9.3-2 .8z" fill="#3f0"/>
<path d="M434.4 263.6l1.9-.5-2 .4-1.9.4z" fill="#fd0"/>
<path d="M417.1 267.7l1.9-.6-1.9.3-1.9.6z" fill="#cf0"/>
<path d="M363.2 284l2-1-1.8.2-2 1z" fill="#0f7"/>
<path d="M403.6 271.3l1.9-.7-1.8.3-2 .7z" fill="#8f0"/>
<path d="M376.6 279.5l2-1-1.8.2-2 1z" fill="#0f0"/>
<path d="M390.1 275.2l2-.8-1.9.2-1.9.8z" fill="#4f0"/>
<path d="M438.3 262.8l1.8-.5-2 .3-1.8.5z" fill="#fc0"/>
<path d="M420.9 266.8l1.9-.6-1.9.3-1.9.6z" fill="#df0"/>
<path d="M367 282.8l2-1-1.8.2-2 1z" fill="#0f5"/>
<path d="M407.5 270.3l1.9-.7-1.9.3-2 .7z" fill="#9f0"/>
<path d="M442.1 261.9l1.9-.4-2 .3-1.9.5z" fill="#fb0"/>
<path d="M424.8 265.9l1.9-.6-2 .4-1.9.5z" fill="#ef0"/>
<path d="M380.5 278.3l2-.9-1.9.2-2 .9z" fill="#1f0"/>
<path d="M394 274.2l1.9-.9-1.8.3-2 .8z" fill="#5f0"/>
<path d="M446 261.1l1.9-.4-2.1.4-1.8.4z" fill="#fa0"/>
<path d="M411.3 269.3l1.9-.6-1.9.3-1.9.6z" fill="#af0"/>
<path d="M370.8 281.6l2-1-1.8.2-2 1z" fill="#0f3"/>
<path d="M428.7 265l1.8-.5-1.9.3-1.9.5z" fill="#fe0"/>
<path d="M397.8 273.1l2-.8-1.9.3-2 .7z" fill="#6f0"/>
<path d="M384.3 277.2l2-.9-1.9.2-1.9.9z" fill="#2f0"/>
<path d="M449.9 260.3l1.8-.4-2 .4-1.8.4z" fill="#f80"/>
<path d="M361.2 285.1l2-1.1-1.8.2-2 1.1z" fill="#0f8"/>
<path d="M415.2 268.4l1.9-.7-1.9.3-2 .7z" fill="#bf0"/>
<path d="M432.5 264.1l1.9-.5-2 .3-1.9.6z" fill="#fd0"/>
<path d="M374.6 280.4l2-.9-1.8.2-2 .9z" fill="#0f1"/>
<path d="M401.7 272.1l1.9-.8-1.9.3-1.9.7z" fill="#8f0"/>
<path d="M453.8 259.5l1.8-.4-2 .4-1.9.4z" fill="#f70"/>
<path d="M388.1 276.1l2-.9-1.8.2-2 .9z" fill="#3f0"/>
<path d="M419 267.4l1.9-.6-1.9.3-1.9.6z" fill="#cf0"/>
<path d="M436.4 263.3l1.9-.5-2 .3-1.9.5z" fill="#fc0"/>
<path d="M365 283.9l2-1.1-1.8.2-2 1z" fill="#0f6"/>
<path d="M405.5 271.1l2-.8-2 .3-1.9.7z" fill="#9f0"/>
<path d="M378.5 279.2l2-.9-1.9.2-2 1z" fill="#0f0"/>
<path d="M392 275l2-.8-1.9.2-2 .8z" fill="#5f0"/>
<path d="M440.3 262.4l1.8-.5-2 .4-1.8.5z" fill="#fb0"/>
<path d="M422.9 266.5l1.9-.6-2 .3-1.9.6z" fill="#ef0"/>
<path d="M368.8 282.6l2-1-1.8.2-2 1z" fill="#0f4"/>
<path d="M409.4 270.1l1.9-.8-1.9.3-1.9.7z" fill="#af0"/>
<path d="M444.2 261.6l1.8-.5-2 .4-1.9.4z" fill="#fa0"/>
<path d="M382.3 278.1l2-.9-1.8.2-2 .9z" fill="#2f0"/>
<path d="M395.8 273.9l2-.8-1.9.2-1.9.9z" fill="#6f0"/>
<path d="M426.8 265.6l1.9-.6-2 .3-1.9.6z" fill="#ff0"/>
<path d="M359.1 286.2l2.1-1.1-1.8.2-2.1 1.1z" fill="#0f9"/>
<path d="M448 260.8l1.9-.5-2 .4-1.9.4z" fill="#f80"/>
<path d="M413.2 269.1l2-.7-2 .3-1.9.6z" fill="#bf0"/>
<path d="M372.6 281.4l2-1-1.8.2-2 1z" fill="#0f2"/>
<path d="M430.6 264.7l1.9-.6-2 .4-1.8.5z" fill="#fd0"/>
<path d="M399.7 272.9l2-.8-1.9.2-2 .8z" fill="#7f0"/>
<path d="M386.2 277l1.9-.9-1.8.2-2 .9z" fill="#3f0"/>
<path d="M362.9 284.9l2.1-1-1.8.1-2 1.1z" fill="#0f7"/>
<path d="M451.9 259.9l1.9-.4-2.1.4-1.8.4z" fill="#f70"/>
<path d="M417.1 268.1l1.9-.7-1.9.3-1.9.7z" fill="#cf0"/>
<path d="M434.5 263.8l1.9-.5-2 .3-1.9.5z" fill="#fc0"/>
<path d="M376.5 280.2l2-1-1.9.3-2 .9z" fill="#0f0"/>
<path d="M403.6 271.8l1.9-.7-1.9.2-1.9.8z" fill="#8f0"/>
<path d="M390 275.9l2-.9-1.9.2-2 .9z" fill="#4f0"/>
<path d="M455.8 259.1l1.8-.4-2 .4-1.8.4z" fill="#f60"/>
<path d="M421 267.2l1.9-.7-2 .3-1.9.6z" fill="#df0"/>
<path d="M438.4 262.9l1.9-.5-2 .4-1.9.5z" fill="#fb0"/>
<path d="M366.8 283.7l2-1.1-1.8.2-2 1.1z" fill="#0f5"/>
<path d="M407.4 270.8l2-.7-1.9.2-2 .8z" fill="#af0"/>
<path d="M357.1 287.4l2-1.2-1.8.2-2 1.1z" fill="#0fa"/>
<path d="M380.3 279l2-.9-1.8.2-2 .9z" fill="#1f0"/>
<path d="M393.9 274.8l1.9-.9-1.8.3-2 .8z" fill="#6f0"/>
<path d="M442.3 262.1l1.9-.5-2.1.3-1.8.5z" fill="#fa0"/>
<path d="M424.9 266.2l1.9-.6-2 .3-1.9.6z" fill="#ef0"/>
<path d="M370.6 282.4l2-1-1.8.2-2 1z" fill="#0f3"/>
<path d="M411.3 269.8l1.9-.7-1.9.2-1.9.8z" fill="#bf0"/>
<path d="M384.2 277.9l2-.9-1.9.2-2 .9z" fill="#2f0"/>
<path d="M446.2 261.2l1.8-.4-2 .3-1.8.5z" fill="#f90"/>
<path d="M397.7 273.7l2-.8-1.9.2-2 .8z" fill="#7f0"/>
<path d="M428.7 265.3l1.9-.6-1.9.3-1.9.6z" fill="#fd0"/>
<path d="M360.9 286.1l2-1.2-1.7.2-2.1 1.1z" fill="#0f8"/>
<path d="M415.2 268.8l1.9-.7-1.9.3-2 .7z" fill="#cf0"/>
<path d="M374.5 281.2l2-1-1.9.2-2 1z" fill="#0f1"/>
<path d="M450.1 260.4l1.8-.5-2 .4-1.9.5z" fill="#f70"/>
<path d="M432.6 264.4l1.9-.6-2 .3-1.9.6z" fill="#fc0"/>
<path d="M401.6 272.6l2-.8-1.9.3-2 .8z" fill="#8f0"/>
<path d="M388 276.8l2-.9-1.9.2-1.9.9z" fill="#4f0"/>
<path d="M364.7 284.8l2.1-1.1-1.8.2-2.1 1z" fill="#0f6"/>
<path d="M454 259.6l1.8-.5-2 .4-1.9.4z" fill="#f60"/>
<path d="M419.1 267.8l1.9-.6-2 .2-1.9.7z" fill="#df0"/>
<path d="M355 288.5l2.1-1.1-1.8.1-2 1.2z" fill="#0fb"/>
<path d="M436.5 263.5l1.9-.6-2 .4-1.9.5z" fill="#fb0"/>
<path d="M378.3 280l2-1-1.8.2-2 1z" fill="#0f0"/>
<path d="M405.5 271.6l1.9-.8-1.9.3-1.9.7z" fill="#9f0"/>
<path d="M391.9 275.6l2-.8-1.9.2-2 .9z" fill="#5f0"/>
<path d="M457.9 258.7l1.8-.4-2.1.4-1.8.4z" fill="#f50"/>
<path d="M368.6 283.5l2-1.1-1.8.2-2 1.1z" fill="#0f4"/>
<path d="M422.9 266.9l2-.7-2 .3-1.9.7z" fill="#ef0"/>
<path d="M440.4 262.6l1.9-.5-2 .3-1.9.5z" fill="#fa0"/>
<path d="M358.9 287.2l2-1.1-1.8.1-2 1.2z" fill="#0f9"/>
<path d="M409.4 270.5l1.9-.7-1.9.3-2 .7z" fill="#af0"/>
<path d="M382.2 278.9l2-1-1.9.2-2 .9z" fill="#2f0"/>
<path d="M395.8 274.5l1.9-.8-1.9.2-1.9.9z" fill="#6f0"/>
<path d="M426.8 265.9l1.9-.6-1.9.3-1.9.6z" fill="#fe0"/>
<path d="M444.3 261.7l1.9-.5-2 .4-1.9.5z" fill="#f90"/>
<path d="M372.4 282.3l2.1-1.1-1.9.2-2 1z" fill="#0f2"/>
<path d="M413.2 269.5l2-.7-2 .3-1.9.7z" fill="#cf0"/>
<path d="M386 277.7l2-.9-1.8.2-2 .9z" fill="#3f0"/>
<path d="M399.6 273.4l2-.8-1.9.3-2 .8z" fill="#8f0"/>
<path d="M362.7 285.9l2-1.1-1.8.1-2 1.2z" fill="#0f7"/>
<path d="M448.2 260.9l1.9-.5-2.1.4-1.8.4z" fill="#f70"/>
<path d="M430.7 265l1.9-.6-2 .3-1.9.6z" fill="#fc0"/>
<path d="M353 289.7l2-1.2-1.7.2-2.1 1.2z" fill="#0fc"/>
<path d="M376.3 281l2-1-1.8.2-2 1z" fill="#0f0"/>
<path d="M417.1 268.5l2-.7-2 .3-1.9.7z" fill="#df0"/>
<path d="M452.1 260l1.9-.4-2.1.3-1.8.5z" fill="#f60"/>
<path d="M434.6 264.1l1.9-.6-2 .3-1.9.6z" fill="#fb0"/>
<path d="M389.9 276.5l2-.9-1.9.3-2 .9z" fill="#5f0"/>
<path d="M403.5 272.4l2-.8-1.9.2-2 .8z" fill="#9f0"/>
<path d="M366.6 284.6l2-1.1-1.8.2-2.1 1.1z" fill="#0f5"/>
<path d="M456 259.2l1.9-.5-2.1.4-1.8.5z" fill="#f50"/>
<path d="M356.8 288.4l2.1-1.2-1.8.2-2.1 1.1z" fill="#0fa"/>
<path d="M421 267.5l1.9-.6-1.9.3-1.9.6z" fill="#ef0"/>
<path d="M438.5 263.2l1.9-.6-2 .3-1.9.6z" fill="#fa0"/>
<path d="M380.2 279.8l2-.9-1.9.1-2 1z" fill="#1f0"/>
<path d="M407.4 271.3l2-.8-2 .3-1.9.8z" fill="#af0"/>
<path d="M393.8 275.4l2-.9-1.9.3-2 .8z" fill="#6f0"/>
<path d="M460 258.4l1.8-.5-2.1.4-1.8.4z" fill="#f40"/>
<path d="M370.4 283.3l2-1-1.8.1-2 1.1z" fill="#0f3"/>
<path d="M424.9 266.6l1.9-.7-1.9.3-2 .7z" fill="#fe0"/>
<path d="M442.4 262.3l1.9-.6-2 .4-1.9.5z" fill="#f90"/>
<path d="M360.7 287l2-1.1-1.8.2-2 1.1z" fill="#0f8"/>
<path d="M384 278.7l2-1-1.8.2-2 1z" fill="#3f0"/>
<path d="M411.3 270.3l1.9-.8-1.9.3-1.9.7z" fill="#bf0"/>
<path d="M397.7 274.3l1.9-.9-1.9.3-1.9.8z" fill="#7f0"/>
<path d="M350.9 291l2.1-1.3-1.8.2-2.1 1.2z" fill="#0fd"/>
<path d="M428.8 265.6l1.9-.6-2 .3-1.9.6z" fill="#fd0"/>
<path d="M446.4 261.4l1.8-.5-2 .3-1.9.5z" fill="#f80"/>
<path d="M374.3 282.1l2-1.1-1.8.2-2.1 1.1z" fill="#0f1"/>
<path d="M415.2 269.3l1.9-.8-1.9.3-2 .7z" fill="#cf0"/>
<path d="M387.9 277.5l2-1-1.9.3-2 .9z" fill="#4f0"/>
<path d="M364.5 285.7l2.1-1.1-1.9.2-2 1.1z" fill="#0f6"/>
<path d="M401.5 273.2l2-.8-1.9.2-2 .8z" fill="#8f0"/>
<path d="M450.3 260.5l1.8-.5-2 .4-1.9.5z" fill="#f60"/>
<path d="M432.7 264.7l1.9-.6-2 .3-1.9.6z" fill="#fb0"/>
<path d="M354.8 289.6l2-1.2-1.8.1-2 1.2z" fill="#0fb"/>
<path d="M378.1 280.9l2.1-1.1-1.9.2-2 1z" fill="#0f0"/>
<path d="M419.1 268.3l1.9-.8-1.9.3-2 .7z" fill="#df0"/>
<path d="M454.2 259.6l1.8-.4-2 .4-1.9.4z" fill="#f50"/>
<path d="M391.8 276.3l2-.9-1.9.2-2 .9z" fill="#5f0"/>
<path d="M405.4 272.1l2-.8-1.9.3-2 .8z" fill="#af0"/>
<path d="M436.6 263.7l1.9-.5-2 .3-1.9.6z" fill="#fa0"/>
<path d="M368.4 284.5l2-1.2-1.8.2-2 1.1z" fill="#0f4"/>
<path d="M358.6 288.2l2.1-1.2-1.8.2-2.1 1.2z" fill="#0f9"/>
<path d="M423 267.3l1.9-.7-2 .3-1.9.6z" fill="#fe0"/>
<path d="M458.1 258.8l1.9-.4-2.1.3-1.9.5z" fill="#f40"/>
<path d="M348.8 292.2l2.1-1.2-1.8.1-2 1.3z" fill="#0fe"/>
<path d="M382 279.7l2-1-1.8.2-2 .9z" fill="#2f0"/>
<path d="M440.6 262.8l1.8-.5-2 .3-1.9.6z" fill="#f90"/>
<path d="M409.3 271.1l2-.8-1.9.2-2 .8z" fill="#bf0"/>
<path d="M395.7 275.2l2-.9-1.9.2-2 .9z" fill="#7f0"/>
<path d="M372.2 283.2l2.1-1.1-1.9.2-2 1z" fill="#0f2"/>
<path d="M462.1 258l1.8-.5-2.1.4-1.8.5z" fill="#f30"/>
<path d="M426.9 266.3l1.9-.7-2 .3-1.9.7z" fill="#fd0"/>
<path d="M444.5 261.9l1.9-.5-2.1.3-1.9.6z" fill="#f80"/>
<path d="M362.5 286.9l2-1.2-1.8.2-2 1.1z" fill="#0f7"/>
<path d="M385.9 278.5l2-1-1.9.2-2 1z" fill="#3f0"/>
<path d="M413.2 270l2-.7-2 .2-1.9.8z" fill="#cf0"/>
<path d="M352.7 290.8l2.1-1.2-1.8.1-2.1 1.3z" fill="#0fc"/>
<path d="M399.6 274.1l1.9-.9-1.9.2-1.9.9z" fill="#8f0"/>
<path d="M430.8 265.3l1.9-.6-2 .3-1.9.6z" fill="#fc0"/>
<path d="M448.4 261l1.9-.5-2.1.4-1.8.5z" fill="#f70"/>
<path d="M376.1 281.9l2-1-1.8.1-2 1.1z" fill="#0f0"/>
<path d="M417.1 269l2-.7-2 .2-1.9.8z" fill="#df0"/>
<path d="M389.8 277.3l2-1-1.9.2-2 1z" fill="#5f0"/>
<path d="M366.3 285.6l2.1-1.1-1.8.1-2.1 1.1z" fill="#0f5"/>
<path d="M403.5 273l1.9-.9-1.9.3-2 .8z" fill="#9f0"/>
<path d="M434.7 264.4l1.9-.7-2 .4-1.9.6z" fill="#fa0"/>
<path d="M452.3 260.1l1.9-.5-2.1.4-1.8.5z" fill="#f50"/>
<path d="M356.5 289.5l2.1-1.3-1.8.2-2 1.2z" fill="#0fa"/>
<path d="M346.8 293.5l2-1.3-1.7.2-2.1 1.3z" fill="#0ef"/>
<path d="M380 280.7l2-1-1.8.1-2.1 1.1z" fill="#1f0"/>
<path d="M421.1 268l1.9-.7-2 .2-1.9.8z" fill="#ef0"/>
<path d="M393.7 276.1l2-.9-1.9.2-2 .9z" fill="#6f0"/>
<path d="M407.4 271.9l1.9-.8-1.9.2-2 .8z" fill="#af0"/>
<path d="M456.3 259.3l1.8-.5-2.1.4-1.8.4z" fill="#f40"/>
<path d="M438.7 263.4l1.9-.6-2.1.4-1.9.5z" fill="#f90"/>
<path d="M370.2 284.3l2-1.1-1.8.1-2 1.2z" fill="#0f3"/>
<path d="M360.4 288.1l2.1-1.2-1.8.1-2.1 1.2z" fill="#0f8"/>
<path d="M350.6 292.1l2.1-1.3-1.8.2-2.1 1.2z" fill="#0fd"/>
<path d="M425 267l1.9-.7-2 .3-1.9.7z" fill="#fd0"/>
<path d="M383.9 279.5l2-1-1.9.2-2 1z" fill="#3f0"/>
<path d="M460.2 258.4l1.9-.4-2.1.4-1.9.4z" fill="#f30"/>
<path d="M442.6 262.5l1.9-.6-2.1.4-1.8.5z" fill="#f80"/>
<path d="M411.3 270.8l1.9-.8-1.9.3-2 .8z" fill="#cf0"/>
<path d="M397.6 275l2-.9-1.9.2-2 .9z" fill="#7f0"/>
<path d="M374.1 283l2-1.1-1.8.2-2.1 1.1z" fill="#0f1"/>
<path d="M464.2 257.6l1.8-.5-2.1.4-1.8.5z" fill="#f20"/>
<path d="M428.9 266l1.9-.7-2 .3-1.9.7z" fill="#fc0"/>
<path d="M446.5 261.6l1.9-.6-2 .4-1.9.5z" fill="#f70"/>
<path d="M364.3 286.8l2-1.2-1.8.1-2 1.2z" fill="#0f6"/>
<path d="M387.8 278.3l2-1-1.9.2-2 1z" fill="#4f0"/>
<path d="M415.2 269.8l1.9-.8-1.9.3-2 .7z" fill="#df0"/>
<path d="M354.5 290.7l2-1.2-1.7.1-2.1 1.2z" fill="#0fb"/>
<path d="M344.7 294.9l2.1-1.4-1.8.2-2.1 1.3z" fill="#0cf"/>
<path d="M401.5 273.9l2-.9-2 .2-1.9.9z" fill="#9f0"/>
<path d="M432.8 265l1.9-.6-2 .3-1.9.6z" fill="#fb0"/>
<path d="M378 281.8l2-1.1-1.9.2-2 1z" fill="#0f0"/>
<path d="M450.5 260.7l1.8-.6-2 .4-1.9.5z" fill="#f50"/>
<path d="M419.1 268.7l2-.7-2 .3-2 .7z" fill="#ef0"/>
<path d="M391.7 277.1l2-1-1.9.2-2 1z" fill="#5f0"/>
<path d="M368.2 285.4l2-1.1-1.8.2-2.1 1.1z" fill="#0f4"/>
<path d="M405.4 272.8l2-.9-2 .2-1.9.9z" fill="#af0"/>
<path d="M358.3 289.3l2.1-1.2-1.8.1-2.1 1.3z" fill="#0f9"/>
<path d="M436.8 264.1l1.9-.7-2.1.3-1.9.7z" fill="#f90"/>
<path d="M348.5 293.4l2.1-1.3-1.8.1-2 1.3z" fill="#0fe"/>
<path d="M454.4 259.8l1.9-.5-2.1.3-1.9.5z" fill="#f40"/>
<path d="M381.9 280.5l2-1-1.9.2-2 1z" fill="#2f0"/>
<path d="M423 267.7l2-.7-2 .3-1.9.7z" fill="#fe0"/>
<path d="M395.6 275.9l2-.9-1.9.2-2 .9z" fill="#7f0"/>
<path d="M409.3 271.7l2-.9-2 .3-1.9.8z" fill="#bf0"/>
<path d="M458.4 258.9l1.8-.5-2.1.4-1.8.5z" fill="#f30"/>
<path d="M372 284.1l2.1-1.1-1.9.2-2 1.1z" fill="#0f2"/>
<path d="M440.7 263.1l1.9-.6-2 .3-1.9.6z" fill="#f80"/>
<path d="M362.2 288l2.1-1.2-1.8.1-2.1 1.2z" fill="#0f7"/>
<path d="M342.6 296.3l2.1-1.4-1.8.1-2.1 1.4z" fill="#0bf"/>
<path d="M352.4 292l2.1-1.3-1.8.1-2.1 1.3z" fill="#0fc"/>
<path d="M427 266.7l1.9-.7-2 .3-1.9.7z" fill="#fc0"/>
<path d="M385.8 279.3l2-1-1.9.2-2 1z" fill="#3f0"/>
<path d="M462.3 258l1.9-.4-2.1.4-1.9.4z" fill="#f20"/>
<path d="M444.6 262.2l1.9-.6-2 .3-1.9.6z" fill="#f70"/>
<path d="M413.2 270.6l2-.8-2 .2-1.9.8z" fill="#cf0"/>
<path d="M399.5 274.8l2-.9-1.9.2-2 .9z" fill="#8f0"/>
<path d="M375.9 282.9l2.1-1.1-1.9.1-2 1.1z" fill="#0f0"/>
<path d="M430.9 265.7l1.9-.7-2 .3-1.9.7z" fill="#fb0"/>
<path d="M466.3 257.2l1.8-.5-2.1.4-1.8.5z" fill="#f10"/>
<path d="M366.1 286.6l2.1-1.2-1.9.2-2 1.2z" fill="#0f5"/>
<path d="M448.6 261.2l1.9-.5-2.1.3-1.9.6z" fill="#f60"/>
<path d="M389.7 278.1l2-1-1.9.2-2 1z" fill="#5f0"/>
<path d="M356.3 290.6l2-1.3-1.8.2-2 1.2z" fill="#0fa"/>
<path d="M346.5 294.8l2-1.4-1.7.1-2.1 1.4z" fill="#0df"/>
<path d="M417.2 269.5l1.9-.8-2 .3-1.9.8z" fill="#ef0"/>
<path d="M403.4 273.7l2-.9-1.9.2-2 .9z" fill="#9f0"/>
<path d="M379.8 281.6l2.1-1.1-1.9.2-2 1.1z" fill="#1f0"/>
<path d="M434.9 264.7l1.9-.6-2.1.3-1.9.6z" fill="#fa0"/>
<path d="M452.5 260.3l1.9-.5-2.1.3-1.8.6z" fill="#f40"/>
<path d="M421.1 268.5l1.9-.8-1.9.3-2 .7z" fill="#fe0"/>
<path d="M393.6 276.9l2-1-1.9.2-2 1z" fill="#6f0"/>
<path d="M370 285.3l2-1.2-1.8.2-2 1.1z" fill="#0f3"/>
<path d="M407.3 272.5l2-.8-1.9.2-2 .9z" fill="#bf0"/>
<path d="M340.5 297.7l2.1-1.4-1.8.1-2.1 1.4z" fill="#0af"/>
<path d="M360.2 289.2l2-1.2-1.8.1-2.1 1.2z" fill="#0f8"/>
<path d="M350.3 293.3l2.1-1.3-1.8.1-2.1 1.3z" fill="#0fe"/>
<path d="M438.8 263.8l1.9-.7-2 .3-1.9.7z" fill="#f80"/>
<path d="M456.5 259.4l1.9-.5-2.1.4-1.9.5z" fill="#f30"/>
<path d="M383.7 280.4l2.1-1.1-1.9.2-2 1z" fill="#3f0"/>
<path d="M425 267.5l2-.8-2 .3-2 .7z" fill="#fd0"/>
<path d="M397.5 275.7l2-.9-1.9.2-2 .9z" fill="#8f0"/>
<path d="M411.3 271.4l1.9-.8-1.9.2-2 .9z" fill="#cf0"/>
<path d="M373.9 284l2-1.1-1.8.1-2.1 1.1z" fill="#0f1"/>
<path d="M442.8 262.8l1.8-.6-2 .3-1.9.6z" fill="#f70"/>
<path d="M460.5 258.5l1.8-.5-2.1.4-1.8.5z" fill="#f20"/>
<path d="M364 287.9l2.1-1.3-1.8.2-2.1 1.2z" fill="#0f6"/>
<path d="M344.4 296.2l2.1-1.4-1.8.1-2.1 1.4z" fill="#0cf"/>
<path d="M354.2 291.9l2.1-1.3-1.8.1-2.1 1.3z" fill="#0fb"/>
<path d="M387.6 279.1l2.1-1-1.9.2-2 1z" fill="#4f0"/>
<path d="M429 266.4l1.9-.7-2 .3-1.9.7z" fill="#fb0"/>
<path d="M401.4 274.6l2-.9-1.9.2-2 .9z" fill="#9f0"/>
<path d="M415.2 270.4l2-.9-2 .3-2 .8z" fill="#df0"/>
<path d="M464.4 257.6l1.9-.4-2.1.4-1.9.4z" fill="#f10"/>
<path d="M446.7 261.8l1.9-.6-2.1.4-1.9.6z" fill="#f60"/>
<path d="M377.8 282.7l2-1.1-1.8.2-2.1 1.1z" fill="#0f0"/>
<path d="M432.9 265.4l2-.7-2.1.3-1.9.7z" fill="#fa0"/>
<path d="M367.9 286.5l2.1-1.2-1.8.1-2.1 1.2z" fill="#0f4"/>
<path d="M338.4 299.1l2.1-1.4-1.8.1-2.1 1.4z" fill="#08f"/>
<path d="M468.4 256.8l1.8-.5-2.1.4-1.8.5z" fill="#f00"/>
<path d="M391.6 277.9l2-1-1.9.2-2 1z" fill="#6f0"/>
<path d="M358.1 290.5l2.1-1.3-1.9.1-2 1.3z" fill="#0f9"/>
<path d="M348.2 294.7l2.1-1.4-1.8.1-2 1.4z" fill="#0ef"/>
<path d="M450.7 260.9l1.8-.6-2 .4-1.9.5z" fill="#f50"/>
<path d="M419.1 269.3l2-.8-2 .2-1.9.8z" fill="#ef0"/>
<path d="M405.4 273.4l1.9-.9-1.9.3-2 .9z" fill="#af0"/>
<path d="M381.7 281.4l2-1-1.8.1-2.1 1.1z" fill="#2f0"/>
<path d="M436.9 264.4l1.9-.6-2 .3-1.9.6z" fill="#f90"/>
<path d="M454.6 260l1.9-.6-2.1.4-1.9.5z" fill="#f30"/>
<path d="M371.8 285.2l2.1-1.2-1.9.1-2 1.2z" fill="#0f2"/>
<path d="M395.5 276.7l2-1-1.9.2-2 1z" fill="#7f0"/>
<path d="M423.1 268.2l1.9-.7-2 .2-1.9.8z" fill="#fd0"/>
<path d="M409.3 272.3l2-.9-2 .3-2 .8z" fill="#bf0"/>
<path d="M342.3 297.6l2.1-1.4-1.8.1-2.1 1.4z" fill="#0bf"/>
<path d="M362 289.1l2-1.2-1.8.1-2 1.2z" fill="#0f7"/>
<path d="M352.1 293.2l2.1-1.3-1.8.1-2.1 1.3z" fill="#0fd"/>
<path d="M440.8 263.4l2-.6-2.1.3-1.9.7z" fill="#f70"/>
<path d="M458.6 259.1l1.9-.6-2.1.4-1.9.5z" fill="#f20"/>
<path d="M385.6 280.2l2-1.1-1.8.2-2.1 1.1z" fill="#4f0"/>
<path d="M427 267.2l2-.8-2 .3-2 .8z" fill="#fc0"/>
<path d="M399.4 275.5l2-.9-1.9.2-2 .9z" fill="#8f0"/>
<path d="M413.2 271.2l2-.8-2 .2-1.9.8z" fill="#df0"/>
<path d="M375.8 283.9l2-1.2-1.9.2-2 1.1z" fill="#0f0"/>
<path d="M336.3 300.6l2.1-1.5-1.8.1-2.1 1.5z" fill="#07f"/>
<path d="M444.8 262.5l1.9-.7-2.1.4-1.8.6z" fill="#f60"/>
<path d="M462.6 258.2l1.8-.6-2.1.4-1.8.5z" fill="#f10"/>
<path d="M365.9 287.7l2-1.2-1.8.1-2.1 1.3z" fill="#0f5"/>
<path d="M346.1 296.1l2.1-1.4-1.7.1-2.1 1.4z" fill="#0df"/>
<path d="M356 291.8l2.1-1.3-1.8.1-2.1 1.3z" fill="#0fa"/>
<path d="M389.5 279l2.1-1.1-1.9.2-2.1 1z" fill="#5f0"/>
<path d="M431 266.2l1.9-.8-2 .3-1.9.7z" fill="#fb0"/>
<path d="M403.4 274.4l2-1-2 .3-2 .9z" fill="#af0"/>
<path d="M417.2 270.1l1.9-.8-1.9.2-2 .9z" fill="#ef0"/>
<path d="M448.8 261.5l1.9-.6-2.1.3-1.9.6z" fill="#f50"/>
<path d="M466.6 257.3l1.8-.5-2.1.4-1.9.4z" fill="#f00"/>
<path d="M379.7 282.6l2-1.2-1.9.2-2 1.1z" fill="#1f0"/>
<path d="M340.2 299l2.1-1.4-1.8.1-2.1 1.4z" fill="#09f"/>
<path d="M369.8 286.4l2-1.2-1.8.1-2.1 1.2z" fill="#0f3"/>
<path d="M435 265.1l1.9-.7-2 .3-2 .7z" fill="#f90"/>
<path d="M393.5 277.7l2-1-1.9.2-2 1z" fill="#6f0"/>
<path d="M350 294.6l2.1-1.4-1.8.1-2.1 1.4z" fill="#0fe"/>
<path d="M359.9 290.4l2.1-1.3-1.8.1-2.1 1.3z" fill="#0f8"/>
<path d="M470.5 256.4l1.9-.5-2.2.4-1.8.5z" fill="#e00"/>
<path d="M452.8 260.6l1.8-.6-2.1.3-1.8.6z" fill="#f40"/>
<path d="M421.1 269l2-.8-2 .3-2 .8z" fill="#fe0"/>
<path d="M407.3 273.2l2-.9-2 .2-1.9.9z" fill="#bf0"/>
<path d="M383.6 281.3l2-1.1-1.9.2-2 1z" fill="#3f0"/>
<path d="M438.9 264.1l1.9-.7-2 .4-1.9.6z" fill="#f80"/>
<path d="M334.2 302.1l2.1-1.5-1.8.1-2.1 1.5z" fill="#06f"/>
<path d="M456.7 259.6l1.9-.5-2.1.3-1.9.6z" fill="#f20"/>
<path d="M373.7 285l2.1-1.1-1.9.1-2.1 1.2z" fill="#0f1"/>
<path d="M397.4 276.5l2-1-1.9.2-2 1z" fill="#8f0"/>
<path d="M425.1 268l1.9-.8-2 .3-1.9.7z" fill="#fc0"/>
<path d="M344 297.5l2.1-1.4-1.7.1-2.1 1.4z" fill="#0cf"/>
<path d="M411.3 272.1l1.9-.9-1.9.2-2 .9z" fill="#cf0"/>
<path d="M363.8 289l2.1-1.3-1.9.2-2 1.2z" fill="#0f6"/>
<path d="M353.9 293.2l2.1-1.4-1.8.1-2.1 1.3z" fill="#0fc"/>
<path d="M442.9 263.1l1.9-.6-2 .3-2 .6z" fill="#f60"/>
<path d="M387.5 280l2-1-1.9.1-2 1.1z" fill="#4f0"/>
<path d="M460.7 258.7l1.9-.5-2.1.3-1.9.6z" fill="#f10"/>
<path d="M429.1 266.9l1.9-.7-2 .2-2 .8z" fill="#fb0"/>
<path d="M401.4 275.4l2-1-2 .2-2 .9z" fill="#9f0"/>
<path d="M377.6 283.7l2.1-1.1-1.9.1-2 1.2z" fill="#0f0"/>
<path d="M415.2 271l2-.9-2 .3-2 .8z" fill="#df0"/>
<path d="M338.1 300.5l2.1-1.5-1.8.1-2.1 1.5z" fill="#08f"/>
<path d="M367.7 287.6l2.1-1.2-1.9.1-2 1.2z" fill="#0f4"/>
<path d="M446.9 262.2l1.9-.7-2.1.3-1.9.7z" fill="#f50"/>
<path d="M347.9 296l2.1-1.4-1.8.1-2.1 1.4z" fill="#0ef"/>
<path d="M464.7 257.8l1.9-.5-2.2.3-1.8.6z" fill="#f00"/>
<path d="M357.8 291.7l2.1-1.3-1.8.1-2.1 1.3z" fill="#0fa"/>
<path d="M391.5 278.8l2-1.1-1.9.2-2.1 1.1z" fill="#6f0"/>
<path d="M433 265.9l2-.8-2.1.3-1.9.8z" fill="#fa0"/>
<path d="M405.3 274.2l2-1-1.9.2-2 1z" fill="#af0"/>
<path d="M419.2 269.9l1.9-.9-2 .3-1.9.8z" fill="#fe0"/>
<path d="M332.1 303.7l2.1-1.6-1.8.1-2.1 1.5z" fill="#04f"/>
<path d="M381.6 282.4l2-1.1-1.9.1-2 1.2z" fill="#2f0"/>
<path d="M450.9 261.2l1.9-.6-2.1.3-1.9.6z" fill="#f40"/>
<path d="M468.7 256.9l1.8-.5-2.1.4-1.8.5z" fill="#e00"/>
<path d="M341.9 299l2.1-1.5-1.7.1-2.1 1.4z" fill="#0af"/>
<path d="M371.6 286.3l2.1-1.3-1.9.2-2 1.2z" fill="#0f2"/>
<path d="M351.8 294.5l2.1-1.3-1.8 0-2.1 1.4z" fill="#0fd"/>
<path d="M437 264.9l1.9-.8-2 .3-1.9.7z" fill="#f80"/>
<path d="M361.7 290.3l2.1-1.3-1.8.1-2.1 1.3z" fill="#0f7"/>
<path d="M395.4 277.6l2-1.1-1.9.2-2 1z" fill="#7f0"/>
<path d="M423.1 268.8l2-.8-2 .2-2 .8z" fill="#fd0"/>
<path d="M409.3 273l2-.9-2 .2-2 .9z" fill="#cf0"/>
<path d="M472.7 256l1.8-.5-2.1.4-1.9.5z" fill="#e00"/>
<path d="M454.9 260.2l1.8-.6-2.1.4-1.8.6z" fill="#f30"/>
<path d="M385.5 281.1l2-1.1-1.9.2-2 1.1z" fill="#3f0"/>
<path d="M335.9 302.1l2.2-1.6-1.8.1-2.1 1.5z" fill="#06f"/>
<path d="M441 263.8l1.9-.7-2.1.3-1.9.7z" fill="#f70"/>
<path d="M375.6 284.9l2-1.2-1.8.2-2.1 1.1z" fill="#0f0"/>
<path d="M399.4 276.4l2-1-2 .1-2 1z" fill="#8f0"/>
<path d="M458.8 259.3l1.9-.6-2.1.4-1.9.5z" fill="#f10"/>
<path d="M345.8 297.5l2.1-1.5-1.8.1-2.1 1.4z" fill="#0cf"/>
<path d="M427.1 267.7l2-.8-2.1.3-1.9.8z" fill="#fb0"/>
<path d="M365.6 288.9l2.1-1.3-1.8.1-2.1 1.3z" fill="#0f5"/>
<path d="M413.2 271.9l2-.9-2 .2-1.9.9z" fill="#df0"/>
<path d="M355.7 293.1l2.1-1.4-1.8.1-2.1 1.4z" fill="#0fb"/>
<path d="M389.4 279.9l2.1-1.1-2 .2-2 1z" fill="#5f0"/>
<path d="M445 262.8l1.9-.6-2.1.3-1.9.6z" fill="#f50"/>
<path d="M329.9 305.2l2.2-1.5-1.8 0-2.1 1.6z" fill="#02f"/>
<path d="M462.8 258.3l1.9-.5-2.1.4-1.9.5z" fill="#f00"/>
<path d="M431.1 266.7l1.9-.8-2 .3-1.9.7z" fill="#fa0"/>
<path d="M403.3 275.2l2-1-1.9.2-2 1z" fill="#af0"/>
<path d="M379.5 283.6l2.1-1.2-1.9.2-2.1 1.1z" fill="#1f0"/>
<path d="M339.8 300.5l2.1-1.5-1.7 0-2.1 1.5z" fill="#09f"/>
<path d="M417.2 270.8l2-.9-2 .2-2 .9z" fill="#ef0"/>
<path d="M369.6 287.5l2-1.2-1.8.1-2.1 1.2z" fill="#0f3"/>
<path d="M349.7 296l2.1-1.5-1.8.1-2.1 1.4z" fill="#0fe"/>
<path d="M359.7 291.6l2-1.3-1.8.1-2.1 1.3z" fill="#0f9"/>
<path d="M449 261.8l1.9-.6-2.1.3-1.9.7z" fill="#f40"/>
<path d="M466.8 257.4l1.9-.5-2.1.4-1.9.5z" fill="#e00"/>
<path d="M393.4 278.6l2-1-1.9.1-2 1.1z" fill="#6f0"/>
<path d="M435.1 265.6l1.9-.7-2 .2-2 .8z" fill="#f90"/>
<path d="M407.3 274l2-1-2 .2-2 1z" fill="#bf0"/>
<path d="M333.8 303.6l2.1-1.5-1.7 0-2.1 1.6z" fill="#05f"/>
<path d="M421.2 269.7l1.9-.9-2 .2-1.9.9z" fill="#fd0"/>
<path d="M383.4 282.3l2.1-1.2-1.9.2-2 1.1z" fill="#3f0"/>
<path d="M453 260.9l1.9-.7-2.1.4-1.9.6z" fill="#f30"/>
<path d="M470.8 256.5l1.9-.5-2.2.4-1.8.5z" fill="#e00"/>
<path d="M343.7 298.9l2.1-1.4-1.8 0-2.1 1.5z" fill="#0bf"/>
<path d="M373.5 286.1l2.1-1.2-1.9.1-2.1 1.3z" fill="#0f1"/>
<path d="M353.6 294.5l2.1-1.4-1.8.1-2.1 1.3z" fill="#0fc"/>
<path d="M363.6 290.2l2-1.3-1.8.1-2.1 1.3z" fill="#0f7"/>
<path d="M397.3 277.4l2.1-1-2 .1-2 1.1z" fill="#8f0"/>
<path d="M439.1 264.6l1.9-.8-2.1.3-1.9.8z" fill="#f70"/>
<path d="M327.8 306.9l2.1-1.7-1.7.1-2.1 1.6z" fill="#01f"/>
<path d="M411.2 272.8l2-.9-1.9.2-2 .9z" fill="#cf0"/>
<path d="M425.2 268.6l1.9-.9-2 .3-2 .8z" fill="#fc0"/>
<path d="M457 259.9l1.8-.6-2.1.3-1.8.6z" fill="#f20"/>
<path d="M474.9 255.6l1.8-.5-2.2.4-1.8.5z" fill="#e00"/>
<path d="M387.4 281l2-1.1-1.9.1-2 1.1z" fill="#4f0"/>
<path d="M337.7 302l2.1-1.5-1.7 0-2.2 1.6z" fill="#07f"/>
<path d="M443.1 263.5l1.9-.7-2.1.3-1.9.7z" fill="#f60"/>
<path d="M377.4 284.8l2.1-1.2-1.9.1-2 1.2z" fill="#0f0"/>
<path d="M401.3 276.2l2-1-1.9.2-2 1z" fill="#9f0"/>
<path d="M347.6 297.4l2.1-1.4-1.8 0-2.1 1.5z" fill="#0df"/>
<path d="M367.5 288.8l2.1-1.3-1.9.1-2.1 1.3z" fill="#0f4"/>
<path d="M461 258.9l1.8-.6-2.1.4-1.9.6z" fill="#f00"/>
<path d="M429.1 267.5l2-.8-2 .2-2 .8z" fill="#fb0"/>
<path d="M357.6 293l2.1-1.4-1.9.1-2.1 1.4z" fill="#0fa"/>
<path d="M415.2 271.7l2-.9-2 .2-2 .9z" fill="#ef0"/>
<path d="M391.4 279.7l2-1.1-1.9.2-2.1 1.1z" fill="#6f0"/>
<path d="M331.7 305.2l2.1-1.6-1.7.1-2.2 1.5z" fill="#03f"/>
<path d="M447.1 262.5l1.9-.7-2.1.4-1.9.6z" fill="#f40"/>
<path d="M465 258l1.8-.6-2.1.4-1.9.5z" fill="#e00"/>
<path d="M405.3 275l2-1-2 .2-2 1z" fill="#af0"/>
<path d="M381.4 283.5l2-1.2-1.8.1-2.1 1.2z" fill="#2f0"/>
<path d="M341.6 300.4l2.1-1.5-1.8.1-2.1 1.5z" fill="#0af"/>
<path d="M433.1 266.4l2-.8-2.1.3-1.9.8z" fill="#f90"/>
<path d="M419.2 270.5l2-.8-2 .2-2 .9z" fill="#fe0"/>
<path d="M371.4 287.4l2.1-1.3-1.9.2-2 1.2z" fill="#0f2"/>
<path d="M351.5 295.9l2.1-1.4-1.8 0-2.1 1.5z" fill="#0fe"/>
<path d="M361.5 291.5l2.1-1.3-1.9.1-2 1.3z" fill="#0f8"/>
<path d="M325.7 308.5l2.1-1.6-1.7 0-2.2 1.6z" fill="#00f"/>
<path d="M451.1 261.5l1.9-.6-2.1.3-1.9.6z" fill="#f30"/>
<path d="M395.3 278.5l2-1.1-1.9.2-2 1z" fill="#7f0"/>
<path d="M469 257l1.8-.5-2.1.4-1.9.5z" fill="#e00"/>
<path d="M437.1 265.3l2-.7-2.1.3-1.9.7z" fill="#f80"/>
<path d="M335.6 303.6l2.1-1.6-1.8.1-2.1 1.5z" fill="#06f"/>
<path d="M409.3 273.8l1.9-1-1.9.2-2 1z" fill="#cf0"/>
<path d="M423.2 269.4l2-.8-2.1.2-1.9.9z" fill="#fd0"/>
<path d="M385.4 282.2l2-1.2-1.9.1-2.1 1.2z" fill="#3f0"/>
<path d="M455.1 260.5l1.9-.6-2.1.3-1.9.7z" fill="#f20"/>
<path d="M345.5 298.9l2.1-1.5-1.8.1-2.1 1.4z" fill="#0cf"/>
<path d="M375.4 286l2-1.2-1.8.1-2.1 1.2z" fill="#0f0"/>
<path d="M473 256.1l1.9-.5-2.2.4-1.9.5z" fill="#e00"/>
<path d="M355.5 294.4l2.1-1.4-1.9.1-2.1 1.4z" fill="#0fb"/>
<path d="M365.4 290.1l2.1-1.3-1.9.1-2 1.3z" fill="#0f6"/>
<path d="M399.3 277.2l2-1-1.9.2-2.1 1z" fill="#8f0"/>
<path d="M441.1 264.3l2-.8-2.1.3-1.9.8z" fill="#f60"/>
<path d="M329.6 306.8l2.1-1.6-1.8 0-2.1 1.7z" fill="#02f"/>
<path d="M413.2 272.6l2-.9-2 .2-2 .9z" fill="#df0"/>
<path d="M427.2 268.3l1.9-.8-2 .2-1.9.9z" fill="#fb0"/>
<path d="M459.1 259.6l1.9-.7-2.2.4-1.8.6z" fill="#f10"/>
<path d="M389.3 280.9l2.1-1.2-2 .2-2 1.1z" fill="#5f0"/>
<path d="M477 255.2l1.9-.5-2.2.4-1.8.5z" fill="#d00"/>
<path d="M339.5 302l2.1-1.6-1.8.1-2.1 1.5z" fill="#08f"/>
<path d="M379.3 284.7l2.1-1.2-1.9.1-2.1 1.2z" fill="#1f0"/>
<path d="M323.5 310.2l2.2-1.7-1.8 0-2.1 1.7z" fill="#00f"/>
<path d="M445.1 263.3l2-.8-2.1.3-1.9.7z" fill="#f50"/>
<path d="M349.4 297.4l2.1-1.5-1.8.1-2.1 1.4z" fill="#0ef"/>
<path d="M403.3 276l2-1-2 .2-2 1z" fill="#af0"/>
<path d="M369.4 288.7l2-1.3-1.8.1-2.1 1.3z" fill="#0f4"/>
<path d="M359.4 292.9l2.1-1.4-1.8.1-2.1 1.4z" fill="#0f9"/>
<path d="M431.2 267.2l1.9-.8-2 .3-2 .8z" fill="#fa0"/>
<path d="M417.2 271.5l2-1-2 .3-2 .9z" fill="#ef0"/>
<path d="M463.1 258.6l1.9-.6-2.2.3-1.8.6z" fill="#e00"/>
<path d="M333.5 305.2l2.1-1.6-1.8 0-2.1 1.6z" fill="#04f"/>
<path d="M393.3 279.6l2-1.1-1.9.1-2 1.1z" fill="#6f0"/>
<path d="M449.2 262.2l1.9-.7-2.1.3-1.9.7z" fill="#f40"/>
<path d="M343.4 300.4l2.1-1.5-1.8 0-2.1 1.5z" fill="#0af"/>
<path d="M383.3 283.4l2.1-1.2-2 .1-2 1.2z" fill="#3f0"/>
<path d="M407.2 274.8l2.1-1-2 .2-2 1z" fill="#bf0"/>
<path d="M467.1 257.6l1.9-.6-2.2.4-1.8.6z" fill="#e00"/>
<path d="M435.2 266.1l1.9-.8-2 .3-2 .8z" fill="#f80"/>
<path d="M421.2 270.3l2-.9-2 .3-2 .8z" fill="#fd0"/>
<path d="M353.4 295.8l2.1-1.4-1.9.1-2.1 1.4z" fill="#0fd"/>
<path d="M373.3 287.3l2.1-1.3-1.9.1-2.1 1.3z" fill="#0f1"/>
<path d="M327.4 308.5l2.2-1.7-1.8.1-2.1 1.6z" fill="#00f"/>
<path d="M363.3 291.5l2.1-1.4-1.8.1-2.1 1.3z" fill="#0f7"/>
<path d="M453.2 261.2l1.9-.7-2.1.4-1.9.6z" fill="#f20"/>
<path d="M397.3 278.3l2-1.1-2 .2-2 1.1z" fill="#8f0"/>
<path d="M471.2 256.7l1.8-.6-2.2.4-1.8.5z" fill="#e00"/>
<path d="M337.4 303.6l2.1-1.6-1.8 0-2.1 1.6z" fill="#07f"/>
<path d="M439.2 265.1l1.9-.8-2 .3-2 .7z" fill="#f70"/>
<path d="M411.2 273.6l2-1-2 .2-1.9 1z" fill="#df0"/>
<path d="M321.4 311.9l2.1-1.7-1.7 0-2.2 1.7z" fill="#00f"/>
<path d="M387.3 282l2-1.1-1.9.1-2 1.2z" fill="#4f0"/>
<path d="M425.2 269.2l2-.9-2 .3-2 .8z" fill="#fc0"/>
<path d="M347.3 298.8l2.1-1.4-1.8 0-2.1 1.5z" fill="#0df"/>
<path d="M377.3 285.9l2-1.2-1.9.1-2 1.2z" fill="#0f0"/>
<path d="M457.2 260.2l1.9-.6-2.1.3-1.9.6z" fill="#f10"/>
<path d="M357.3 294.3l2.1-1.4-1.8.1-2.1 1.4z" fill="#0fa"/>
<path d="M367.3 290l2.1-1.3-1.9.1-2.1 1.3z" fill="#0f5"/>
<path d="M475.2 255.7l1.8-.5-2.1.4-1.9.5z" fill="#d00"/>
<path d="M401.2 277.1l2.1-1.1-2 .2-2 1z" fill="#9f0"/>
<path d="M331.3 306.8l2.2-1.6-1.8 0-2.1 1.6z" fill="#03f"/>
<path d="M443.2 264l1.9-.7-2 .2-2 .8z" fill="#f50"/>
<path d="M415.2 272.4l2-.9-2 .2-2 .9z" fill="#ef0"/>
<path d="M429.2 268.1l2-.9-2.1.3-1.9.8z" fill="#fa0"/>
<path d="M391.2 280.7l2.1-1.1-1.9.1-2.1 1.2z" fill="#6f0"/>
<path d="M461.2 259.2l1.9-.6-2.1.3-1.9.7z" fill="#f00"/>
<path d="M341.3 302l2.1-1.6-1.8 0-2.1 1.6z" fill="#09f"/>
<path d="M479.2 254.8l1.9-.5-2.2.4-1.9.5z" fill="#d00"/>
<path d="M325.3 310.2l2.1-1.7-1.7 0-2.2 1.7z" fill="#00f"/>
<path d="M381.2 284.6l2.1-1.2-1.9.1-2.1 1.2z" fill="#2f0"/>
<path d="M351.3 297.3l2.1-1.5-1.9.1-2.1 1.5z" fill="#0fe"/>
<path d="M405.2 275.8l2-1-1.9.2-2 1z" fill="#bf0"/>
<path d="M447.2 263l2-.8-2.1.3-2 .8z" fill="#f40"/>
<path d="M371.2 288.6l2.1-1.3-1.9.1-2 1.3z" fill="#0f3"/>
<path d="M361.2 292.9l2.1-1.4-1.8 0-2.1 1.4z" fill="#0f8"/>
<path d="M433.2 267l2-.9-2.1.3-1.9.8z" fill="#f90"/>
<path d="M419.2 271.3l2-1-2 .2-2 1z" fill="#fe0"/>
<path d="M465.3 258.2l1.8-.6-2.1.4-1.9.6z" fill="#e00"/>
<path d="M335.2 305.2l2.2-1.6-1.8 0-2.1 1.6z" fill="#05f"/>
<path d="M319.2 313.7l2.2-1.8-1.8 0-2.1 1.7z" fill="#00f"/>
<path d="M395.2 279.4l2.1-1.1-2 .2-2 1.1z" fill="#7f0"/>
<path d="M451.3 261.9l1.9-.7-2.1.3-1.9.7z" fill="#f30"/>
<path d="M345.2 300.4l2.1-1.6-1.8.1-2.1 1.5z" fill="#0bf"/>
<path d="M385.2 283.2l2.1-1.2-1.9.2-2.1 1.2z" fill="#3f0"/>
<path d="M409.2 274.6l2-1-1.9.2-2.1 1z" fill="#cf0"/>
<path d="M437.3 265.9l1.9-.8-2.1.2-1.9.8z" fill="#f70"/>
<path d="M469.3 257.2l1.9-.5-2.2.3-1.9.6z" fill="#e00"/>
<path d="M355.2 295.8l2.1-1.5-1.8.1-2.1 1.4z" fill="#0fc"/>
<path d="M423.2 270.1l2-.9-2 .2-2 .9z" fill="#fc0"/>
<path d="M375.2 287.2l2.1-1.3-1.9.1-2.1 1.3z" fill="#0f1"/>
<path d="M329.2 308.5l2.1-1.7-1.7 0-2.2 1.7z" fill="#01f"/>
<path d="M365.2 291.4l2.1-1.4-1.9.1-2.1 1.4z" fill="#0f6"/>
<path d="M399.2 278.2l2-1.1-1.9.1-2 1.1z" fill="#8f0"/>
<path d="M455.3 260.9l1.9-.7-2.1.3-1.9.7z" fill="#f10"/>
<path d="M339.1 303.6l2.2-1.6-1.8 0-2.1 1.6z" fill="#07f"/>
<path d="M473.3 256.3l1.9-.6-2.2.4-1.8.6z" fill="#d00"/>
<path d="M323.1 311.9l2.2-1.7-1.8 0-2.1 1.7z" fill="#00f"/>
<path d="M413.2 273.4l2-1-2 .2-2 1z" fill="#df0"/>
<path d="M441.3 264.8l1.9-.8-2.1.3-1.9.8z" fill="#f60"/>
<path d="M389.2 281.9l2-1.2-1.9.2-2 1.1z" fill="#5f0"/>
<path d="M427.3 269l1.9-.9-2 .2-2 .9z" fill="#fb0"/>
<path d="M349.1 298.8l2.2-1.5-1.9.1-2.1 1.4z" fill="#0df"/>
<path d="M379.2 285.8l2-1.2-1.9.1-2 1.2z" fill="#1f0"/>
<path d="M359.1 294.3l2.1-1.4-1.8 0-2.1 1.4z" fill="#0fa"/>
<path d="M369.2 290l2-1.4-1.8.1-2.1 1.3z" fill="#0f4"/>
<path d="M459.3 259.9l1.9-.7-2.1.4-1.9.6z" fill="#f00"/>
<path d="M317.1 315.5l2.1-1.8-1.7-.1-2.2 1.8z" fill="#00f"/>
<path d="M403.2 276.9l2-1.1-1.9.2-2.1 1.1z" fill="#af0"/>
<path d="M333.1 306.8l2.1-1.6-1.7 0-2.2 1.6z" fill="#03f"/>
<path d="M477.4 255.3l1.8-.5-2.2.4-1.8.5z" fill="#d00"/>
<path d="M445.3 263.7l1.9-.7-2.1.3-1.9.7z" fill="#f40"/>
<path d="M417.2 272.2l2-.9-2 .2-2 .9z" fill="#fe0"/>
<path d="M431.3 267.8l1.9-.8-2 .2-2 .9z" fill="#f90"/>
<path d="M393.2 280.6l2-1.2-1.9.2-2.1 1.1z" fill="#6f0"/>
<path d="M343.1 301.9l2.1-1.5-1.8 0-2.1 1.6z" fill="#0af"/>
<path d="M463.4 258.9l1.9-.7-2.2.4-1.9.6z" fill="#e00"/>
<path d="M327 310.2l2.2-1.7-1.8 0-2.1 1.7z" fill="#00f"/>
<path d="M481.4 254.4l1.9-.6-2.2.5-1.9.5z" fill="#d00"/>
<path d="M383.2 284.5l2-1.3-1.9.2-2.1 1.2z" fill="#2f0"/>
<path d="M353.1 297.3l2.1-1.5-1.8 0-2.1 1.5z" fill="#0fd"/>
<path d="M407.2 275.7l2-1.1-2 .2-2 1z" fill="#bf0"/>
<path d="M373.1 288.5l2.1-1.3-1.9.1-2.1 1.3z" fill="#0f2"/>
<path d="M363.1 292.8l2.1-1.4-1.9.1-2.1 1.4z" fill="#0f7"/>
<path d="M449.3 262.7l2-.8-2.1.3-2 .8z" fill="#f30"/>
<path d="M421.3 271.1l1.9-1-2 .2-2 1z" fill="#fd0"/>
<path d="M435.3 266.7l2-.8-2.1.2-2 .9z" fill="#f80"/>
<path d="M337 305.2l2.1-1.6-1.7 0-2.2 1.6z" fill="#06f"/>
<path d="M321 313.7l2.1-1.8-1.7 0-2.2 1.8z" fill="#00f"/>
<path d="M467.4 257.9l1.9-.7-2.2.4-1.8.6z" fill="#e00"/>
<path d="M397.2 279.3l2-1.1-1.9.1-2.1 1.1z" fill="#8f0"/>
<path d="M347 300.4l2.1-1.6-1.8 0-2.1 1.6z" fill="#0cf"/>
<path d="M453.4 261.6l1.9-.7-2.1.3-1.9.7z" fill="#f20"/>
<path d="M387.1 283.1l2.1-1.2-1.9.1-2.1 1.2z" fill="#4f0"/>
<path d="M314.9 317.3l2.2-1.8-1.8-.1-2.1 1.8z" fill="#00f"/>
<path d="M411.2 274.5l2-1.1-2 .2-2 1z" fill="#df0"/>
<path d="M357 295.7l2.1-1.4-1.8 0-2.1 1.5z" fill="#0fb"/>
<path d="M377.1 287.1l2.1-1.3-1.9.1-2.1 1.3z" fill="#0f0"/>
<path d="M439.3 265.6l2-.8-2.1.3-1.9.8z" fill="#f60"/>
<path d="M330.9 308.5l2.2-1.7-1.8 0-2.1 1.7z" fill="#02f"/>
<path d="M425.3 269.9l2-.9-2.1.2-2 .9z" fill="#fb0"/>
<path d="M367.1 291.3l2.1-1.3-1.9 0-2.1 1.4z" fill="#0f5"/>
<path d="M471.5 256.9l1.8-.6-2.1.4-1.9.5z" fill="#d00"/>
<path d="M401.2 278l2-1.1-2 .2-2 1.1z" fill="#9f0"/>
<path d="M340.9 303.6l2.2-1.7-1.8.1-2.2 1.6z" fill="#08f"/>
<path d="M457.4 260.6l1.9-.7-2.1.3-1.9.7z" fill="#f00"/>
<path d="M324.9 312l2.1-1.8-1.7 0-2.2 1.7z" fill="#00f"/>
<path d="M415.2 273.2l2-1-2 .2-2 1z" fill="#ef0"/>
<path d="M391.1 281.8l2.1-1.2-2 .1-2 1.2z" fill="#5f0"/>
<path d="M475.5 255.9l1.9-.6-2.2.4-1.9.6z" fill="#d00"/>
<path d="M443.4 264.5l1.9-.8-2.1.3-1.9.8z" fill="#f50"/>
<path d="M429.3 268.7l2-.9-2.1.3-1.9.9z" fill="#fa0"/>
<path d="M351 298.8l2.1-1.5-1.8 0-2.2 1.5z" fill="#0ef"/>
<path d="M381.1 285.7l2.1-1.2-2 .1-2 1.2z" fill="#1f0"/>
<path d="M361 294.2l2.1-1.4-1.9.1-2.1 1.4z" fill="#0f9"/>
<path d="M371 289.9l2.1-1.4-1.9.1-2 1.4z" fill="#0f3"/>
<path d="M318.8 315.5l2.2-1.8-1.8 0-2.1 1.8z" fill="#00f"/>
<path d="M334.9 306.8l2.1-1.6-1.8 0-2.1 1.6z" fill="#04f"/>
<path d="M461.5 259.6l1.9-.7-2.2.3-1.9.7z" fill="#e00"/>
<path d="M405.2 276.8l2-1.1-2 .1-2 1.1z" fill="#bf0"/>
<path d="M479.6 254.9l1.8-.5-2.2.4-1.8.5z" fill="#d00"/>
<path d="M447.4 263.4l1.9-.7-2.1.3-1.9.7z" fill="#f30"/>
<path d="M419.3 272l2-.9-2.1.2-2 .9z" fill="#fe0"/>
<path d="M433.3 267.6l2-.9-2.1.3-1.9.8z" fill="#f80"/>
<path d="M344.9 301.9l2.1-1.5-1.8 0-2.1 1.5z" fill="#0af"/>
<path d="M395.1 280.5l2.1-1.2-2 .1-2 1.2z" fill="#7f0"/>
<path d="M328.8 310.2l2.1-1.7-1.7 0-2.2 1.7z" fill="#00f"/>
<path d="M465.5 258.5l1.9-.6-2.1.3-1.9.7z" fill="#e00"/>
<path d="M385.1 284.4l2-1.3-1.9.1-2 1.3z" fill="#3f0"/>
<path d="M354.9 297.2l2.1-1.5-1.8.1-2.1 1.5z" fill="#0fd"/>
<path d="M375 288.5l2.1-1.4-1.9.1-2.1 1.3z" fill="#0f1"/>
<path d="M365 292.8l2.1-1.5-1.9.1-2.1 1.4z" fill="#0f7"/>
<path d="M483.6 254l1.9-.6-2.2.4-1.9.6z" fill="#c00"/>
<path d="M409.2 275.5l2-1-2 .1-2 1.1z" fill="#cf0"/>
<path d="M451.5 262.4l1.9-.8-2.1.3-2 .8z" fill="#f20"/>
<path d="M423.3 270.9l2-1-2.1.2-1.9 1z" fill="#fc0"/>
<path d="M338.8 305.2l2.1-1.6-1.8 0-2.1 1.6z" fill="#06f"/>
<path d="M437.4 266.5l1.9-.9-2 .3-2 .8z" fill="#f70"/>
<path d="M322.7 313.7l2.2-1.7-1.8-.1-2.1 1.8z" fill="#00f"/>
<path d="M399.1 279.2l2.1-1.2-2 .2-2 1.1z" fill="#8f0"/>
<path d="M469.6 257.5l1.9-.6-2.2.3-1.9.7z" fill="#e00"/>
<path d="M348.8 300.3l2.2-1.5-1.9 0-2.1 1.6z" fill="#0df"/>
<path d="M389.1 283l2-1.2-1.9.1-2.1 1.2z" fill="#5f0"/>
<path d="M316.6 317.3l2.2-1.8-1.7 0-2.2 1.8z" fill="#00f"/>
<path d="M413.2 274.3l2-1.1-2 .2-2 1.1z" fill="#df0"/>
<path d="M455.5 261.3l1.9-.7-2.1.3-1.9.7z" fill="#f10"/>
<path d="M358.9 295.7l2.1-1.5-1.9.1-2.1 1.4z" fill="#0fa"/>
<path d="M332.7 308.5l2.2-1.7-1.8 0-2.2 1.7z" fill="#02f"/>
<path d="M379 287l2.1-1.3-1.9.1-2.1 1.3z" fill="#0f0"/>
<path d="M368.9 291.3l2.1-1.4-1.8.1-2.1 1.3z" fill="#0f4"/>
<path d="M441.4 265.4l2-.9-2.1.3-2 .8z" fill="#f50"/>
<path d="M427.3 269.7l2-1-2 .3-2 .9z" fill="#fa0"/>
<path d="M473.7 256.5l1.8-.6-2.2.4-1.8.6z" fill="#d00"/>
<path d="M403.2 277.9l2-1.1-2 .1-2 1.1z" fill="#af0"/>
<path d="M342.8 303.6l2.1-1.7-1.8 0-2.2 1.7z" fill="#09f"/>
<path d="M326.6 312l2.2-1.8-1.8 0-2.1 1.8z" fill="#00f"/>
<path d="M459.6 260.3l1.9-.7-2.2.3-1.9.7z" fill="#e00"/>
<path d="M417.3 273.1l2-1.1-2.1.2-2 1z" fill="#fe0"/>
<path d="M393.1 281.7l2-1.2-1.9.1-2.1 1.2z" fill="#6f0"/>
<path d="M352.8 298.8l2.1-1.6-1.8.1-2.1 1.5z" fill="#0fe"/>
<path d="M445.5 264.3l1.9-.9-2.1.3-1.9.8z" fill="#f40"/>
<path d="M431.4 268.5l1.9-.9-2 .2-2 .9z" fill="#f90"/>
<path d="M477.7 255.5l1.9-.6-2.2.4-1.9.6z" fill="#d00"/>
<path d="M383 285.7l2.1-1.3-1.9.1-2.1 1.2z" fill="#2f0"/>
<path d="M362.9 294.2l2.1-1.4-1.9 0-2.1 1.4z" fill="#0f8"/>
<path d="M372.9 289.8l2.1-1.3-1.9 0-2.1 1.4z" fill="#0f2"/>
<path d="M320.6 315.6l2.1-1.9-1.7 0-2.2 1.8z" fill="#00f"/>
<path d="M336.7 306.9l2.1-1.7-1.8 0-2.1 1.6z" fill="#05f"/>
<path d="M407.2 276.6l2-1.1-2 .2-2 1.1z" fill="#bf0"/>
<path d="M463.6 259.2l1.9-.7-2.1.4-1.9.7z" fill="#e00"/>
<path d="M481.8 254.5l1.8-.5-2.2.4-1.8.5z" fill="#c00"/>
<path d="M421.3 271.9l2-1-2 .2-2 .9z" fill="#fd0"/>
<path d="M449.5 263.2l2-.8-2.2.3-1.9.7z" fill="#f20"/>
<path d="M346.7 301.9l2.1-1.6-1.8.1-2.1 1.5z" fill="#0bf"/>
<path d="M397.1 280.3l2-1.1-1.9.1-2.1 1.2z" fill="#8f0"/>
<path d="M435.4 267.4l2-.9-2.1.2-2 .9z" fill="#f70"/>
<path d="M330.6 310.3l2.1-1.8-1.8 0-2.1 1.7z" fill="#01f"/>
<path d="M356.8 297.2l2.1-1.5-1.9 0-2.1 1.5z" fill="#0fc"/>
<path d="M387 284.3l2.1-1.3-2 .1-2 1.3z" fill="#4f0"/>
<path d="M467.7 258.2l1.9-.7-2.2.4-1.9.6z" fill="#e00"/>
<path d="M366.8 292.7l2.1-1.4-1.8 0-2.1 1.5z" fill="#0f6"/>
<path d="M376.9 288.4l2.1-1.4-1.9.1-2.1 1.4z" fill="#0f0"/>
<path d="M411.2 275.4l2-1.1-2 .2-2 1z" fill="#df0"/>
<path d="M485.9 253.5l1.8-.5-2.2.4-1.9.6z" fill="#c00"/>
<path d="M453.6 262.1l1.9-.8-2.1.3-1.9.8z" fill="#f10"/>
<path d="M340.6 305.2l2.2-1.6-1.9 0-2.1 1.6z" fill="#07f"/>
<path d="M324.5 313.8l2.1-1.8-1.7 0-2.2 1.7z" fill="#00f"/>
<path d="M425.3 270.7l2-1-2 .2-2 1z" fill="#fb0"/>
<path d="M439.5 266.2l1.9-.8-2.1.2-1.9.9z" fill="#f60"/>
<path d="M401.1 279l2.1-1.1-2 .1-2.1 1.2z" fill="#9f0"/>
<path d="M471.8 257.2l1.9-.7-2.2.4-1.9.6z" fill="#d00"/>
<path d="M350.7 300.3l2.1-1.5-1.8 0-2.2 1.5z" fill="#0ef"/>
<path d="M318.4 317.4l2.2-1.8-1.8-.1-2.2 1.8z" fill="#00f"/>
<path d="M391 282.9l2.1-1.2-2 .1-2 1.2z" fill="#5f0"/>
<path d="M360.8 295.7l2.1-1.5-1.9 0-2.1 1.5z" fill="#0f9"/>
<path d="M415.3 274.1l2-1-2.1.1-2 1.1z" fill="#ef0"/>
<path d="M334.5 308.6l2.2-1.7-1.8-.1-2.2 1.7z" fill="#03f"/>
<path d="M380.9 287l2.1-1.3-1.9 0-2.1 1.3z" fill="#1f0"/>
<path d="M457.7 261l1.9-.7-2.2.3-1.9.7z" fill="#f00"/>
<path d="M370.8 291.2l2.1-1.4-1.9.1-2.1 1.4z" fill="#0f4"/>
<path d="M429.4 269.5l2-1-2.1.2-2 1z" fill="#fa0"/>
<path d="M443.5 265.1l2-.8-2.1.2-2 .9z" fill="#f40"/>
<path d="M475.9 256.1l1.8-.6-2.2.4-1.8.6z" fill="#d00"/>
<path d="M405.2 277.7l2-1.1-2 .2-2 1.1z" fill="#bf0"/>
<path d="M344.6 303.6l2.1-1.7-1.8 0-2.1 1.7z" fill="#0af"/>
<path d="M328.4 312l2.2-1.7-1.8-.1-2.2 1.8z" fill="#00f"/>
<path d="M461.7 260l1.9-.8-2.1.4-1.9.7z" fill="#e00"/>
<path d="M395.1 281.6l2-1.3-2 .2-2 1.2z" fill="#7f0"/>
<path d="M419.3 272.9l2-1-2 .1-2 1.1z" fill="#fd0"/>
<path d="M354.6 298.8l2.2-1.6-1.9 0-2.1 1.6z" fill="#0fd"/>
<path d="M447.6 264l1.9-.8-2.1.2-1.9.9z" fill="#f30"/>
<path d="M433.4 268.3l2-.9-2.1.2-1.9.9z" fill="#f80"/>
<path d="M384.9 285.6l2.1-1.3-1.9.1-2.1 1.3z" fill="#3f0"/>
<path d="M364.7 294.2l2.1-1.5-1.8.1-2.1 1.4z" fill="#0f7"/>
<path d="M479.9 255.1l1.9-.6-2.2.4-1.9.6z" fill="#c00"/>
<path d="M374.8 289.8l2.1-1.4-1.9.1-2.1 1.3z" fill="#0f1"/>
<path d="M322.3 315.6l2.2-1.8-1.8-.1-2.1 1.9z" fill="#00f"/>
<path d="M338.5 306.9l2.1-1.7-1.8 0-2.1 1.7z" fill="#06f"/>
<path d="M409.2 276.5l2-1.1-2 .1-2 1.1z" fill="#cf0"/>
<path d="M465.8 258.9l1.9-.7-2.2.3-1.9.7z" fill="#e00"/>
<path d="M348.5 301.9l2.2-1.6-1.9 0-2.1 1.6z" fill="#0cf"/>
<path d="M423.3 271.7l2-1-2 .2-2 1z" fill="#fc0"/>
<path d="M399.1 280.2l2-1.2-2 .2-2 1.1z" fill="#8f0"/>
<path d="M451.7 262.9l1.9-.8-2.1.3-2 .8z" fill="#f10"/>
<path d="M484 254.1l1.9-.6-2.3.5-1.8.5z" fill="#c00"/>
<path d="M437.5 267.1l2-.9-2.1.3-2 .9z" fill="#f60"/>
<path d="M332.4 310.3l2.1-1.7-1.8-.1-2.1 1.8z" fill="#01f"/>
<path d="M358.6 297.2l2.2-1.5-1.9 0-2.1 1.5z" fill="#0fb"/>
<path d="M389 284.2l2-1.3-1.9.1-2.1 1.3z" fill="#4f0"/>
<path d="M368.7 292.7l2.1-1.5-1.9.1-2.1 1.4z" fill="#0f5"/>
<path d="M378.8 288.3l2.1-1.3-1.9 0-2.1 1.4z" fill="#0f0"/>
<path d="M469.9 257.9l1.9-.7-2.2.3-1.9.7z" fill="#d00"/>
<path d="M413.2 275.2l2.1-1.1-2.1.2-2 1.1z" fill="#df0"/>
<path d="M342.4 305.2l2.2-1.6-1.8 0-2.2 1.6z" fill="#08f"/>
<path d="M326.2 313.8l2.2-1.8-1.8 0-2.1 1.8z" fill="#00f"/>
<path d="M488.1 253.1l1.9-.5-2.3.4-1.8.5z" fill="#c00"/>
<path d="M455.7 261.8l2-.8-2.2.3-1.9.8z" fill="#f00"/>
<path d="M427.4 270.5l2-1-2.1.2-2 1z" fill="#fa0"/>
<path d="M441.6 266l1.9-.9-2.1.3-1.9.8z" fill="#f50"/>
<path d="M403.1 278.9l2.1-1.2-2 .2-2.1 1.1z" fill="#af0"/>
<path d="M352.5 300.3l2.1-1.5-1.8 0-2.1 1.5z" fill="#0ef"/>
<path d="M320.1 317.5l2.2-1.9-1.7 0-2.2 1.8z" fill="#00f"/>
<path d="M474 256.8l1.9-.7-2.2.4-1.9.7z" fill="#d00"/>
<path d="M393 282.8l2.1-1.2-2 .1-2.1 1.2z" fill="#6f0"/>
<path d="M362.6 295.7l2.1-1.5-1.8 0-2.1 1.5z" fill="#0f9"/>
<path d="M336.3 308.6l2.2-1.7-1.8 0-2.2 1.7z" fill="#04f"/>
<path d="M417.3 273.9l2-1-2 .2-2 1z" fill="#fe0"/>
<path d="M382.9 286.9l2-1.3-1.9.1-2.1 1.3z" fill="#2f0"/>
<path d="M372.7 291.2l2.1-1.4-1.9 0-2.1 1.4z" fill="#0f3"/>
<path d="M459.8 260.7l1.9-.7-2.1.3-1.9.7z" fill="#e00"/>
<path d="M431.5 269.3l1.9-1-2 .2-2 1z" fill="#f90"/>
<path d="M445.6 264.9l2-.9-2.1.3-2 .8z" fill="#f30"/>
<path d="M346.4 303.6l2.1-1.7-1.8 0-2.1 1.7z" fill="#0af"/>
<path d="M407.2 277.6l2-1.1-2 .1-2 1.1z" fill="#bf0"/>
<path d="M330.2 312.1l2.2-1.8-1.8 0-2.2 1.7z" fill="#00f"/>
<path d="M478.1 255.8l1.8-.7-2.2.4-1.8.6z" fill="#c00"/>
<path d="M397 281.5l2.1-1.3-2 .1-2 1.3z" fill="#7f0"/>
<path d="M356.5 298.8l2.1-1.6-1.8 0-2.2 1.6z" fill="#0fc"/>
<path d="M421.3 272.7l2-1-2 .2-2 1z" fill="#fd0"/>
<path d="M463.9 259.6l1.9-.7-2.2.3-1.9.8z" fill="#e00"/>
<path d="M386.9 285.5l2.1-1.3-2 .1-2.1 1.3z" fill="#4f0"/>
<path d="M366.6 294.1l2.1-1.4-1.9 0-2.1 1.5z" fill="#0f6"/>
<path d="M435.5 268.1l2-1-2.1.3-2 .9z" fill="#f70"/>
<path d="M449.7 263.7l2-.8-2.2.3-1.9.8z" fill="#f20"/>
<path d="M324.1 315.7l2.1-1.9-1.7 0-2.2 1.8z" fill="#00f"/>
<path d="M376.8 289.7l2-1.4-1.9.1-2.1 1.4z" fill="#0f1"/>
<path d="M340.3 306.9l2.1-1.7-1.8 0-2.1 1.7z" fill="#06f"/>
<path d="M482.2 254.8l1.8-.7-2.2.4-1.9.6z" fill="#c00"/>
<path d="M411.2 276.3l2-1.1-2 .2-2 1.1z" fill="#df0"/>
<path d="M350.4 302l2.1-1.7-1.8 0-2.2 1.6z" fill="#0df"/>
<path d="M468 258.6l1.9-.7-2.2.3-1.9.7z" fill="#d00"/>
<path d="M425.4 271.5l2-1-2.1.2-2 1z" fill="#fb0"/>
<path d="M401.1 280.1l2-1.2-2 .1-2 1.2z" fill="#9f0"/>
<path d="M334.2 310.4l2.1-1.8-1.8 0-2.1 1.7z" fill="#02f"/>
<path d="M453.8 262.6l1.9-.8-2.1.3-1.9.8z" fill="#f10"/>
<path d="M439.6 266.9l2-.9-2.1.2-2 .9z" fill="#f60"/>
<path d="M360.5 297.2l2.1-1.5-1.8 0-2.2 1.5z" fill="#0fa"/>
<path d="M486.3 253.7l1.8-.6-2.2.4-1.9.6z" fill="#c00"/>
<path d="M390.9 284.1l2.1-1.3-2 .1-2 1.3z" fill="#5f0"/>
<path d="M370.6 292.6l2.1-1.4-1.9 0-2.1 1.5z" fill="#0f4"/>
<path d="M380.8 288.3l2.1-1.4-2 .1-2.1 1.3z" fill="#1f0"/>
<path d="M415.3 275l2-1.1-2 .2-2.1 1.1z" fill="#ef0"/>
<path d="M328 313.9l2.2-1.8-1.8-.1-2.2 1.8z" fill="#00f"/>
<path d="M344.3 305.3l2.1-1.7-1.8 0-2.2 1.6z" fill="#09f"/>
<path d="M472.1 257.5l1.9-.7-2.2.4-1.9.7z" fill="#d00"/>
<path d="M429.5 270.3l2-1-2.1.2-2 1z" fill="#f90"/>
<path d="M457.9 261.5l1.9-.8-2.1.3-2 .8z" fill="#e00"/>
<path d="M490.4 252.7l1.8-.6-2.2.5-1.9.5z" fill="#b00"/>
<path d="M443.7 265.8l1.9-.9-2.1.2-1.9.9z" fill="#f40"/>
<path d="M405.1 278.8l2.1-1.2-2 .1-2.1 1.2z" fill="#af0"/>
<path d="M354.4 300.4l2.1-1.6-1.9 0-2.1 1.5z" fill="#0fe"/>
<path d="M321.9 317.6l2.2-1.9-1.8-.1-2.2 1.9z" fill="#00f"/>
<path d="M395 282.7l2-1.2-1.9.1-2.1 1.2z" fill="#7f0"/>
<path d="M338.1 308.7l2.2-1.8-1.8 0-2.2 1.7z" fill="#05f"/>
<path d="M364.5 295.6l2.1-1.5-1.9.1-2.1 1.5z" fill="#0f8"/>
<path d="M476.2 256.5l1.9-.7-2.2.3-1.9.7z" fill="#d00"/>
<path d="M384.8 286.8l2.1-1.3-2 .1-2 1.3z" fill="#3f0"/>
<path d="M419.3 273.8l2-1.1-2 .2-2 1z" fill="#fd0"/>
<path d="M374.7 291.1l2.1-1.4-2 .1-2.1 1.4z" fill="#0f2"/>
<path d="M462 260.4l1.9-.8-2.2.4-1.9.7z" fill="#e00"/>
<path d="M433.5 269.1l2-1-2.1.2-1.9 1z" fill="#f80"/>
<path d="M447.8 264.6l1.9-.9-2.1.3-2 .9z" fill="#f30"/>
<path d="M348.2 303.6l2.2-1.6-1.9-.1-2.1 1.7z" fill="#0bf"/>
<path d="M409.2 277.5l2-1.2-2 .2-2 1.1z" fill="#cf0"/>
<path d="M332 312.2l2.2-1.8-1.8-.1-2.2 1.8z" fill="#00f"/>
<path d="M480.3 255.4l1.9-.6-2.3.3-1.8.7z" fill="#c00"/>
<path d="M358.4 298.8l2.1-1.6-1.9 0-2.1 1.6z" fill="#0fc"/>
<path d="M399 281.4l2.1-1.3-2 .1-2.1 1.3z" fill="#8f0"/>
<path d="M423.4 272.5l2-1-2.1.2-2 1z" fill="#fc0"/>
<path d="M466.1 259.3l1.9-.7-2.2.3-1.9.7z" fill="#e00"/>
<path d="M368.5 294.1l2.1-1.5-1.9.1-2.1 1.4z" fill="#0f6"/>
<path d="M325.9 315.8l2.1-1.9-1.8-.1-2.1 1.9z" fill="#00f"/>
<path d="M388.8 285.4l2.1-1.3-1.9.1-2.1 1.3z" fill="#4f0"/>
<path d="M378.7 289.7l2.1-1.4-2 0-2 1.4z" fill="#0f0"/>
<path d="M342.1 307l2.2-1.7-1.9-.1-2.1 1.7z" fill="#07f"/>
<path d="M437.6 267.9l2-1-2.1.2-2 1z" fill="#f60"/>
<path d="M451.9 263.5l1.9-.9-2.1.3-2 .8z" fill="#f10"/>
<path d="M484.4 254.4l1.9-.7-2.3.4-1.8.7z" fill="#c00"/>
<path d="M413.2 276.2l2.1-1.2-2.1.2-2 1.1z" fill="#df0"/>
<path d="M352.2 302l2.2-1.6-1.9-.1-2.1 1.7z" fill="#0df"/>
<path d="M336 310.4l2.1-1.7-1.8-.1-2.1 1.8z" fill="#03f"/>
<path d="M470.2 258.2l1.9-.7-2.2.4-1.9.7z" fill="#d00"/>
<path d="M403.1 280l2-1.2-2 .1-2 1.2z" fill="#af0"/>
<path d="M427.5 271.3l2-1-2.1.2-2 1z" fill="#fa0"/>
<path d="M362.4 297.2l2.1-1.6-1.9.1-2.1 1.5z" fill="#0f9"/>
<path d="M456 262.3l1.9-.8-2.2.3-1.9.8z" fill="#f00"/>
<path d="M441.7 266.7l2-.9-2.1.2-2 .9z" fill="#f50"/>
<path d="M392.9 284l2.1-1.3-2 .1-2.1 1.3z" fill="#6f0"/>
<path d="M372.5 292.6l2.2-1.5-2 .1-2.1 1.4z" fill="#0f3"/>
<path d="M488.5 253.3l1.9-.6-2.3.4-1.8.6z" fill="#b00"/>
<path d="M382.7 288.2l2.1-1.4-1.9.1-2.1 1.4z" fill="#1f0"/>
<path d="M329.8 314l2.2-1.8-1.8-.1-2.2 1.8z" fill="#00f"/>
<path d="M417.3 274.9l2-1.1-2 .1-2 1.1z" fill="#fe0"/>
<path d="M346.1 305.3l2.1-1.7-1.8 0-2.1 1.7z" fill="#09f"/>
<path d="M474.3 257.2l1.9-.7-2.2.3-1.9.7z" fill="#d00"/>
<path d="M431.6 270.1l1.9-1-2 .2-2 1z" fill="#f90"/>
<path d="M407.1 278.7l2.1-1.2-2 .1-2.1 1.2z" fill="#bf0"/>
<path d="M460.1 261.2l1.9-.8-2.2.3-1.9.8z" fill="#e00"/>
<path d="M356.2 300.4l2.2-1.6-1.9 0-2.1 1.6z" fill="#0fd"/>
<path d="M445.8 265.5l2-.9-2.2.3-1.9.9z" fill="#f30"/>
<path d="M323.7 317.7l2.2-1.9-1.8-.1-2.2 1.9z" fill="#00f"/>
<path d="M492.7 252.3l1.8-.6-2.3.4-1.8.6z" fill="#b00"/>
<path d="M339.9 308.7l2.2-1.7-1.8-.1-2.2 1.8z" fill="#05f"/>
<path d="M396.9 282.6l2.1-1.2-2 .1-2 1.2z" fill="#7f0"/>
<path d="M366.4 295.6l2.1-1.5-1.9 0-2.1 1.5z" fill="#0f7"/>
<path d="M386.8 286.8l2-1.4-1.9.1-2.1 1.3z" fill="#3f0"/>
<path d="M376.6 291.1l2.1-1.4-1.9 0-2.1 1.4z" fill="#0f1"/>
<path d="M421.4 273.6l2-1.1-2.1.2-2 1.1z" fill="#fd0"/>
<path d="M478.4 256.1l1.9-.7-2.2.4-1.9.7z" fill="#c00"/>
<path d="M435.6 268.9l2-1-2.1.2-2 1z" fill="#f70"/>
<path d="M464.2 260.1l1.9-.8-2.2.3-1.9.8z" fill="#e00"/>
<path d="M350.1 303.6l2.1-1.6-1.8 0-2.2 1.6z" fill="#0cf"/>
<path d="M449.9 264.4l2-.9-2.2.2-1.9.9z" fill="#f20"/>
<path d="M333.8 312.2l2.2-1.8-1.8 0-2.2 1.8z" fill="#01f"/>
<path d="M411.2 277.4l2-1.2-2 .1-2 1.2z" fill="#df0"/>
<path d="M360.3 298.8l2.1-1.6-1.9 0-2.1 1.6z" fill="#0fb"/>
<path d="M401 281.3l2.1-1.3-2 .1-2.1 1.3z" fill="#9f0"/>
<path d="M482.5 255l1.9-.6-2.2.4-1.9.6z" fill="#c00"/>
<path d="M425.5 272.4l2-1.1-2.1.2-2 1z" fill="#fb0"/>
<path d="M327.6 315.9l2.2-1.9-1.8-.1-2.1 1.9z" fill="#00f"/>
<path d="M370.4 294.1l2.1-1.5-1.9 0-2.1 1.5z" fill="#0f5"/>
<path d="M390.8 285.4l2.1-1.4-2 .1-2.1 1.3z" fill="#5f0"/>
<path d="M380.6 289.6l2.1-1.4-1.9.1-2.1 1.4z" fill="#0f0"/>
<path d="M343.9 307l2.2-1.7-1.8 0-2.2 1.7z" fill="#08f"/>
<path d="M468.3 259l1.9-.8-2.2.4-1.9.7z" fill="#d00"/>
<path d="M439.7 267.7l2-1-2.1.2-2 1z" fill="#f50"/>
<path d="M454 263.2l2-.9-2.2.3-1.9.9z" fill="#f00"/>
<path d="M415.3 276l2-1.1-2 .1-2.1 1.2z" fill="#ef0"/>
<path d="M354.1 302l2.1-1.6-1.8 0-2.2 1.6z" fill="#0ef"/>
<path d="M486.7 254l1.8-.7-2.2.4-1.9.7z" fill="#b00"/>
<path d="M337.8 310.5l2.1-1.8-1.8 0-2.1 1.7z" fill="#04f"/>
<path d="M405.1 279.9l2-1.2-2 .1-2 1.2z" fill="#af0"/>
<path d="M429.6 271.1l2-1-2.1.2-2 1z" fill="#f90"/>
<path d="M472.4 257.9l1.9-.7-2.2.3-1.9.7z" fill="#d00"/>
<path d="M364.3 297.2l2.1-1.6-1.9 0-2.1 1.6z" fill="#0f9"/>
<path d="M394.9 283.9l2-1.3-1.9.1-2.1 1.3z" fill="#6f0"/>
<path d="M443.8 266.5l2-1-2.1.3-2 .9z" fill="#f40"/>
<path d="M458.1 262.1l2-.9-2.2.3-1.9.8z" fill="#e00"/>
<path d="M374.5 292.6l2.1-1.5-1.9 0-2.2 1.5z" fill="#0f3"/>
<path d="M384.7 288.2l2.1-1.4-2 0-2.1 1.4z" fill="#2f0"/>
<path d="M331.6 314.1l2.2-1.9-1.8 0-2.2 1.8z" fill="#00f"/>
<path d="M490.8 252.9l1.9-.6-2.3.4-1.9.6z" fill="#b00"/>
<path d="M347.9 305.3l2.2-1.7-1.9 0-2.1 1.7z" fill="#0af"/>
<path d="M419.4 274.8l2-1.2-2.1.2-2 1.1z" fill="#fd0"/>
<path d="M476.5 256.8l1.9-.7-2.2.4-1.9.7z" fill="#c00"/>
<path d="M433.7 269.9l1.9-1-2.1.2-1.9 1z" fill="#f80"/>
<path d="M358.1 300.4l2.2-1.6-1.9 0-2.2 1.6z" fill="#0fc"/>
<path d="M409.2 278.6l2-1.2-2 .1-2.1 1.2z" fill="#cf0"/>
<path d="M325.5 317.8l2.1-1.9-1.7-.1-2.2 1.9z" fill="#00f"/>
<path d="M462.2 260.9l2-.8-2.2.3-1.9.8z" fill="#e00"/>
<path d="M447.9 265.3l2-.9-2.1.2-2 .9z" fill="#f20"/>
<path d="M341.8 308.8l2.1-1.8-1.8 0-2.2 1.7z" fill="#06f"/>
<path d="M368.3 295.6l2.1-1.5-1.9 0-2.1 1.5z" fill="#0f6"/>
<path d="M398.9 282.6l2.1-1.3-2 .1-2.1 1.2z" fill="#8f0"/>
<path d="M494.9 251.9l1.9-.6-2.3.4-1.8.6z" fill="#b00"/>
<path d="M378.5 291.1l2.1-1.5-1.9.1-2.1 1.4z" fill="#0f0"/>
<path d="M388.7 286.7l2.1-1.3-2 0-2 1.4z" fill="#4f0"/>
<path d="M423.4 273.5l2.1-1.1-2.1.1-2 1.1z" fill="#fc0"/>
<path d="M480.7 255.7l1.8-.7-2.2.4-1.9.7z" fill="#c00"/>
<path d="M352 303.7l2.1-1.7-1.9 0-2.1 1.6z" fill="#0df"/>
<path d="M335.6 312.3l2.2-1.8-1.8-.1-2.2 1.8z" fill="#02f"/>
<path d="M437.8 268.7l1.9-1-2.1.2-2 1z" fill="#f60"/>
<path d="M466.4 259.8l1.9-.8-2.2.3-1.9.8z" fill="#d00"/>
<path d="M452.1 264.1l1.9-.9-2.1.3-2 .9z" fill="#f10"/>
<path d="M413.2 277.2l2.1-1.2-2.1.2-2 1.2z" fill="#df0"/>
<path d="M362.1 298.8l2.2-1.6-1.9 0-2.1 1.6z" fill="#0fa"/>
<path d="M403 281.2l2.1-1.3-2 .1-2.1 1.3z" fill="#9f0"/>
<path d="M329.4 316l2.2-1.9-1.8-.1-2.2 1.9z" fill="#00f"/>
<path d="M372.4 294.1l2.1-1.5-2 0-2.1 1.5z" fill="#0f4"/>
<path d="M484.8 254.7l1.9-.7-2.3.4-1.9.6z" fill="#c00"/>
<path d="M427.5 272.2l2.1-1.1-2.1.2-2 1.1z" fill="#fa0"/>
<path d="M392.8 285.3l2.1-1.4-2 .1-2.1 1.4z" fill="#5f0"/>
<path d="M345.8 307.1l2.1-1.8-1.8 0-2.2 1.7z" fill="#09f"/>
<path d="M382.6 289.6l2.1-1.4-2 0-2.1 1.4z" fill="#1f0"/>
<path d="M470.5 258.7l1.9-.8-2.2.3-1.9.8z" fill="#d00"/>
<path d="M441.9 267.4l1.9-.9-2.1.2-2 1z" fill="#f50"/>
<path d="M456.2 262.9l1.9-.8-2.1.2-2 .9z" fill="#e00"/>
<path d="M417.3 275.9l2.1-1.1-2.1.1-2 1.1z" fill="#fe0"/>
<path d="M356 302l2.1-1.6-1.9 0-2.1 1.6z" fill="#0fe"/>
<path d="M339.6 310.6l2.2-1.8-1.9-.1-2.1 1.8z" fill="#04f"/>
<path d="M488.9 253.6l1.9-.7-2.3.4-1.8.7z" fill="#b00"/>
<path d="M407.1 279.8l2.1-1.2-2.1.1-2 1.2z" fill="#bf0"/>
<path d="M366.2 297.2l2.1-1.6-1.9 0-2.1 1.6z" fill="#0f8"/>
<path d="M431.6 270.9l2.1-1-2.1.2-2 1z" fill="#f80"/>
<path d="M474.6 257.6l1.9-.8-2.2.4-1.9.7z" fill="#d00"/>
<path d="M396.9 283.9l2-1.3-2 0-2 1.3z" fill="#7f0"/>
<path d="M376.4 292.6l2.1-1.5-1.9 0-2.1 1.5z" fill="#0f2"/>
<path d="M446 266.2l1.9-.9-2.1.2-2 1z" fill="#f30"/>
<path d="M386.6 288.1l2.1-1.4-1.9.1-2.1 1.4z" fill="#3f0"/>
<path d="M460.3 261.8l1.9-.9-2.1.3-2 .9z" fill="#e00"/>
<path d="M333.4 314.2l2.2-1.9-1.8-.1-2.2 1.9z" fill="#00f"/>
<path d="M349.8 305.4l2.2-1.7-1.9-.1-2.2 1.7z" fill="#0bf"/>
<path d="M421.4 274.6l2-1.1-2 .1-2 1.2z" fill="#fd0"/>
<path d="M493.1 252.5l1.8-.6-2.2.4-1.9.6z" fill="#b00"/>
<path d="M360 300.4l2.1-1.6-1.8 0-2.2 1.6z" fill="#0fc"/>
<path d="M327.3 317.9l2.1-1.9-1.8-.1-2.1 1.9z" fill="#00f"/>
<path d="M435.8 269.7l2-1-2.2.2-1.9 1z" fill="#f70"/>
<path d="M411.2 278.5l2-1.3-2 .2-2 1.2z" fill="#cf0"/>
<path d="M478.8 256.5l1.9-.8-2.3.4-1.9.7z" fill="#c00"/>
<path d="M343.6 308.9l2.2-1.8-1.9-.1-2.1 1.8z" fill="#07f"/>
<path d="M450.1 265l2-.9-2.2.3-2 .9z" fill="#f10"/>
<path d="M464.4 260.6l2-.8-2.2.3-2 .8z" fill="#e00"/>
<path d="M370.2 295.6l2.2-1.5-2 0-2.1 1.5z" fill="#0f5"/>
<path d="M400.9 282.5l2.1-1.3-2 .1-2.1 1.3z" fill="#9f0"/>
<path d="M380.5 291.1l2.1-1.5-2 0-2.1 1.5z" fill="#0f0"/>
<path d="M390.7 286.7l2.1-1.4-2 .1-2.1 1.3z" fill="#4f0"/>
<path d="M497.2 251.5l1.9-.6-2.3.4-1.9.6z" fill="#a00"/>
<path d="M425.5 273.3l2-1.1-2 .2-2.1 1.1z" fill="#fb0"/>
<path d="M353.8 303.7l2.2-1.7-1.9 0-2.1 1.7z" fill="#0df"/>
<path d="M337.4 312.4l2.2-1.8-1.8-.1-2.2 1.8z" fill="#02f"/>
<path d="M482.9 255.4l1.9-.7-2.3.3-1.8.7z" fill="#c00"/>
<path d="M439.9 268.5l2-1.1-2.2.3-1.9 1z" fill="#f50"/>
<path d="M415.3 277.1l2-1.2-2 .1-2.1 1.2z" fill="#ef0"/>
<path d="M468.6 259.5l1.9-.8-2.2.3-1.9.8z" fill="#d00"/>
<path d="M454.2 263.9l2-1-2.2.3-1.9.9z" fill="#f00"/>
<path d="M364.1 298.8l2.1-1.6-1.9 0-2.2 1.6z" fill="#0f9"/>
<path d="M405 281.1l2.1-1.3-2 .1-2.1 1.3z" fill="#af0"/>
<path d="M331.3 316.1l2.1-1.9-1.8-.1-2.2 1.9z" fill="#00f"/>
<path d="M374.3 294.1l2.1-1.5-1.9 0-2.1 1.5z" fill="#0f3"/>
<path d="M347.6 307.1l2.2-1.7-1.9-.1-2.1 1.8z" fill="#09f"/>
<path d="M394.8 285.2l2.1-1.3-2 0-2.1 1.4z" fill="#6f0"/>
<path d="M429.6 272l2-1.1-2 .2-2.1 1.1z" fill="#f90"/>
<path d="M384.5 289.6l2.1-1.5-1.9.1-2.1 1.4z" fill="#2f0"/>
<path d="M487.1 254.3l1.8-.7-2.2.4-1.9.7z" fill="#b00"/>
<path d="M444 267.2l2-1-2.2.3-1.9.9z" fill="#f40"/>
<path d="M472.7 258.4l1.9-.8-2.2.3-1.9.8z" fill="#d00"/>
<path d="M458.4 262.7l1.9-.9-2.2.3-1.9.8z" fill="#e00"/>
<path d="M357.9 302.1l2.1-1.7-1.9 0-2.1 1.6z" fill="#0fd"/>
<path d="M419.4 275.8l2-1.2-2 .2-2.1 1.1z" fill="#fe0"/>
<path d="M341.5 310.7l2.1-1.8-1.8-.1-2.2 1.8z" fill="#05f"/>
<path d="M409.1 279.7l2.1-1.2-2 .1-2.1 1.2z" fill="#cf0"/>
<path d="M368.1 297.2l2.1-1.6-1.9 0-2.1 1.6z" fill="#0f7"/>
<path d="M491.2 253.2l1.9-.7-2.3.4-1.9.7z" fill="#b00"/>
<path d="M433.8 270.8l2-1.1-2.1.2-2.1 1z" fill="#f80"/>
<path d="M398.9 283.8l2-1.3-2 .1-2 1.3z" fill="#8f0"/>
<path d="M378.4 292.6l2.1-1.5-2 0-2.1 1.5z" fill="#0f1"/>
<path d="M388.6 288.1l2.1-1.4-2 0-2.1 1.4z" fill="#3f0"/>
<path d="M476.9 257.3l1.9-.8-2.3.3-1.9.8z" fill="#c00"/>
<path d="M335.3 314.3l2.1-1.9-1.8-.1-2.2 1.9z" fill="#01f"/>
<path d="M448.1 266l2-1-2.2.3-1.9.9z" fill="#f20"/>
<path d="M351.7 305.5l2.1-1.8-1.8 0-2.2 1.7z" fill="#0cf"/>
<path d="M462.5 261.5l1.9-.9-2.2.3-1.9.9z" fill="#e00"/>
<path d="M423.5 274.5l2-1.2-2.1.2-2 1.1z" fill="#fc0"/>
<path d="M329.1 318l2.2-1.9-1.9-.1-2.1 1.9z" fill="#00f"/>
<path d="M495.4 252.1l1.8-.6-2.3.4-1.8.6z" fill="#a00"/>
<path d="M361.9 300.5l2.2-1.7-2 0-2.1 1.6z" fill="#0fb"/>
<path d="M413.2 278.3l2.1-1.2-2.1.1-2 1.3z" fill="#df0"/>
<path d="M437.9 269.5l2-1-2.1.2-2 1z" fill="#f60"/>
<path d="M345.5 308.9l2.1-1.8-1.8 0-2.2 1.8z" fill="#07f"/>
<path d="M481 256.1l1.9-.7-2.2.3-1.9.8z" fill="#c00"/>
<path d="M372.2 295.7l2.1-1.6-1.9 0-2.2 1.5z" fill="#0f5"/>
<path d="M452.3 264.8l1.9-.9-2.1.2-2 .9z" fill="#f00"/>
<path d="M403 282.4l2-1.3-2 .1-2.1 1.3z" fill="#9f0"/>
<path d="M466.6 260.4l2-.9-2.2.3-2 .8z" fill="#d00"/>
<path d="M382.4 291.1l2.1-1.5-1.9 0-2.1 1.5z" fill="#0f0"/>
<path d="M392.7 286.6l2.1-1.4-2 .1-2.1 1.4z" fill="#5f0"/>
<path d="M427.6 273.2l2-1.2-2.1.2-2 1.1z" fill="#fa0"/>
<path d="M499.6 251.1l1.8-.7-2.3.5-1.9.6z" fill="#a00"/>
<path d="M355.7 303.8l2.2-1.7-1.9-.1-2.2 1.7z" fill="#0ef"/>
<path d="M339.3 312.5l2.2-1.8-1.9-.1-2.2 1.8z" fill="#03f"/>
<path d="M442 268.3l2-1.1-2.1.2-2 1.1z" fill="#f40"/>
<path d="M485.2 255l1.9-.7-2.3.4-1.9.7z" fill="#b00"/>
<path d="M417.3 277l2.1-1.2-2.1.1-2 1.2z" fill="#ff0"/>
<path d="M366 298.9l2.1-1.7-1.9 0-2.1 1.6z" fill="#0f9"/>
<path d="M470.8 259.2l1.9-.8-2.2.3-1.9.8z" fill="#d00"/>
<path d="M456.4 263.6l2-.9-2.2.2-2 1z" fill="#e00"/>
<path d="M333.1 316.2l2.2-1.9-1.9-.1-2.1 1.9z" fill="#00f"/>
<path d="M407.1 281l2-1.3-2 .1-2.1 1.3z" fill="#bf0"/>
<path d="M376.2 294.1l2.2-1.5-2 0-2.1 1.5z" fill="#0f2"/>
<path d="M349.5 307.2l2.2-1.7-1.9-.1-2.2 1.7z" fill="#0af"/>
<path d="M396.8 285.2l2.1-1.4-2 .1-2.1 1.3z" fill="#7f0"/>
<path d="M386.5 289.6l2.1-1.5-2 0-2.1 1.5z" fill="#2f0"/>
<path d="M431.7 271.9l2.1-1.1-2.2.1-2 1.1z" fill="#f80"/>
<path d="M489.4 253.9l1.8-.7-2.3.4-1.8.7z" fill="#b00"/>
<path d="M446.1 267l2-1-2.1.2-2 1z" fill="#f30"/>
<path d="M359.8 302.1l2.1-1.6-1.9-.1-2.1 1.7z" fill="#0fd"/>
<path d="M475 258.1l1.9-.8-2.3.3-1.9.8z" fill="#c00"/>
<path d="M421.5 275.7l2-1.2-2.1.1-2 1.2z" fill="#fd0"/>
<path d="M460.6 262.4l1.9-.9-2.2.3-1.9.9z" fill="#e00"/>
<path d="M343.3 310.8l2.2-1.9-1.9 0-2.1 1.8z" fill="#06f"/>
<path d="M370 297.3l2.2-1.6-2-.1-2.1 1.6z" fill="#0f6"/>
<path d="M411.2 279.6l2-1.3-2 .2-2.1 1.2z" fill="#cf0"/>
<path d="M435.9 270.6l2-1.1-2.1.2-2 1.1z" fill="#f70"/>
<path d="M380.3 292.6l2.1-1.5-1.9 0-2.1 1.5z" fill="#0f0"/>
<path d="M400.9 283.8l2.1-1.4-2.1.1-2 1.3z" fill="#8f0"/>
<path d="M493.5 252.8l1.9-.7-2.3.4-1.9.7z" fill="#b00"/>
<path d="M390.6 288.1l2.1-1.5-2 .1-2.1 1.4z" fill="#4f0"/>
<path d="M337.1 314.4l2.2-1.9-1.9-.1-2.1 1.9z" fill="#01f"/>
<path d="M353.6 305.5l2.1-1.7-1.9-.1-2.1 1.8z" fill="#0cf"/>
<path d="M450.3 265.8l2-1-2.2.2-2 1z" fill="#f10"/>
<path d="M479.1 256.9l1.9-.8-2.2.4-1.9.8z" fill="#c00"/>
<path d="M464.7 261.2l1.9-.8-2.2.2-1.9.9z" fill="#d00"/>
<path d="M425.6 274.3l2-1.1-2.1.1-2 1.2z" fill="#fb0"/>
<path d="M330.9 318.1l2.2-1.9-1.8-.1-2.2 1.9z" fill="#00f"/>
<path d="M363.8 300.5l2.2-1.6-1.9-.1-2.2 1.7z" fill="#0fa"/>
<path d="M347.3 309l2.2-1.8-1.9-.1-2.1 1.8z" fill="#08f"/>
<path d="M415.3 278.2l2-1.2-2 .1-2.1 1.2z" fill="#ef0"/>
<path d="M497.7 251.7l1.9-.6-2.4.4-1.8.6z" fill="#a00"/>
<path d="M440 269.3l2-1-2.1.2-2 1z" fill="#f50"/>
<path d="M374.1 295.7l2.1-1.6-1.9 0-2.1 1.6z" fill="#0f4"/>
<path d="M405 282.3l2.1-1.3-2.1.1-2 1.3z" fill="#af0"/>
<path d="M483.3 255.8l1.9-.8-2.3.4-1.9.7z" fill="#b00"/>
<path d="M384.4 291l2.1-1.4-2 0-2.1 1.5z" fill="#1f0"/>
<path d="M454.4 264.6l2-1-2.2.3-1.9.9z" fill="#f00"/>
<path d="M394.7 286.6l2.1-1.4-2 0-2.1 1.4z" fill="#6f0"/>
<path d="M468.9 260.1l1.9-.9-2.2.3-2 .9z" fill="#d00"/>
<path d="M357.6 303.9l2.2-1.8-1.9 0-2.2 1.7z" fill="#0fe"/>
<path d="M429.7 273l2-1.1-2.1.1-2 1.2z" fill="#f90"/>
<path d="M341.1 312.6l2.2-1.8-1.8-.1-2.2 1.8z" fill="#04f"/>
<path d="M501.9 250.6l1.8-.6-2.3.4-1.8.7z" fill="#a00"/>
<path d="M444.2 268.1l1.9-1.1-2.1.2-2 1.1z" fill="#f40"/>
<path d="M419.4 276.9l2.1-1.2-2.1.1-2.1 1.2z" fill="#fe0"/>
<path d="M367.9 298.9l2.1-1.6-1.9-.1-2.1 1.7z" fill="#0f8"/>
<path d="M487.5 254.7l1.9-.8-2.3.4-1.9.7z" fill="#b00"/>
<path d="M334.9 316.3l2.2-1.9-1.8-.1-2.2 1.9z" fill="#00f"/>
<path d="M458.6 263.4l2-1-2.2.3-2 .9z" fill="#e00"/>
<path d="M473 258.9l2-.8-2.3.3-1.9.8z" fill="#d00"/>
<path d="M409.1 280.9l2.1-1.3-2.1.1-2 1.3z" fill="#bf0"/>
<path d="M378.2 294.1l2.1-1.5-1.9 0-2.2 1.5z" fill="#0f2"/>
<path d="M351.4 307.3l2.2-1.8-1.9 0-2.2 1.7z" fill="#0bf"/>
<path d="M398.8 285.1l2.1-1.3-2 0-2.1 1.4z" fill="#7f0"/>
<path d="M388.5 289.5l2.1-1.4-2 0-2.1 1.5z" fill="#3f0"/>
<path d="M433.9 271.7l2-1.1-2.1.2-2.1 1.1z" fill="#f80"/>
<path d="M361.7 302.2l2.1-1.7-1.9 0-2.1 1.6z" fill="#0fc"/>
<path d="M491.6 253.6l1.9-.8-2.3.4-1.8.7z" fill="#b00"/>
<path d="M448.3 266.8l2-1-2.2.2-2 1z" fill="#f20"/>
<path d="M345.2 310.9l2.1-1.9-1.8-.1-2.2 1.9z" fill="#06f"/>
<path d="M423.6 275.5l2-1.2-2.1.2-2 1.2z" fill="#fc0"/>
<path d="M477.2 257.8l1.9-.9-2.2.4-1.9.8z" fill="#c00"/>
<path d="M462.8 262.2l1.9-1-2.2.3-1.9.9z" fill="#e00"/>
<path d="M372 297.3l2.1-1.6-1.9 0-2.2 1.6z" fill="#0f6"/>
<path d="M413.2 279.5l2.1-1.3-2.1.1-2 1.3z" fill="#df0"/>
<path d="M382.3 292.6l2.1-1.6-2 .1-2.1 1.5z" fill="#0f0"/>
<path d="M402.9 283.7l2.1-1.4-2 .1-2.1 1.4z" fill="#9f0"/>
<path d="M338.9 314.5l2.2-1.9-1.8-.1-2.2 1.9z" fill="#02f"/>
<path d="M438 270.4l2-1.1-2.1.2-2 1.1z" fill="#f60"/>
<path d="M392.6 288l2.1-1.4-2 0-2.1 1.5z" fill="#5f0"/>
<path d="M355.4 305.6l2.2-1.7-1.9-.1-2.1 1.7z" fill="#0df"/>
<path d="M495.8 252.4l1.9-.7-2.3.4-1.9.7z" fill="#a00"/>
<path d="M452.5 265.6l1.9-1-2.1.2-2 1z" fill="#f00"/>
<path d="M481.4 256.6l1.9-.8-2.3.3-1.9.8z" fill="#c00"/>
<path d="M466.9 261l2-.9-2.3.3-1.9.8z" fill="#d00"/>
<path d="M427.7 274.2l2-1.2-2.1.2-2 1.1z" fill="#fa0"/>
<path d="M332.7 318.3l2.2-2-1.8-.1-2.2 1.9z" fill="#00f"/>
<path d="M365.7 300.6l2.2-1.7-1.9 0-2.2 1.6z" fill="#0fa"/>
<path d="M349.2 309.1l2.2-1.8-1.9-.1-2.2 1.8z" fill="#09f"/>
<path d="M417.4 278.2l2-1.3-2.1.1-2 1.2z" fill="#ef0"/>
<path d="M376.1 295.7l2.1-1.6-2 0-2.1 1.6z" fill="#0f3"/>
<path d="M442.2 269.2l2-1.1-2.2.2-2 1z" fill="#f40"/>
<path d="M500 251.3l1.9-.7-2.3.5-1.9.6z" fill="#a00"/>
<path d="M407 282.3l2.1-1.4-2 .1-2.1 1.3z" fill="#af0"/>
<path d="M386.4 291l2.1-1.5-2 .1-2.1 1.4z" fill="#2f0"/>
<path d="M396.7 286.6l2.1-1.5-2 .1-2.1 1.4z" fill="#6f0"/>
<path d="M456.6 264.4l2-1-2.2.2-2 1z" fill="#e00"/>
<path d="M485.6 255.5l1.9-.8-2.3.3-1.9.8z" fill="#b00"/>
<path d="M471.1 259.8l1.9-.9-2.2.3-1.9.9z" fill="#d00"/>
<path d="M359.5 303.9l2.2-1.7-1.9-.1-2.2 1.8z" fill="#0fe"/>
<path d="M343 312.7l2.2-1.8-1.9-.1-2.2 1.8z" fill="#04f"/>
<path d="M431.8 272.9l2.1-1.2-2.2.2-2 1.1z" fill="#f90"/>
<path d="M369.8 298.9l2.2-1.6-2 0-2.1 1.6z" fill="#0f7"/>
<path d="M504.2 250.2l1.9-.6-2.4.4-1.8.6z" fill="#900"/>
<path d="M421.5 276.8l2.1-1.3-2.1.2-2.1 1.2z" fill="#fd0"/>
<path d="M446.3 267.9l2-1.1-2.2.2-1.9 1.1z" fill="#f30"/>
<path d="M336.8 316.4l2.1-1.9-1.8-.1-2.2 1.9z" fill="#00f"/>
<path d="M353.3 307.4l2.1-1.8-1.8-.1-2.2 1.8z" fill="#0bf"/>
<path d="M489.8 254.3l1.8-.7-2.2.3-1.9.8z" fill="#b00"/>
<path d="M380.2 294.1l2.1-1.5-2 0-2.1 1.5z" fill="#0f1"/>
<path d="M411.2 280.9l2-1.4-2 .1-2.1 1.3z" fill="#cf0"/>
<path d="M460.8 263.1l2-.9-2.2.2-2 1z" fill="#e00"/>
<path d="M475.3 258.6l1.9-.8-2.2.3-2 .8z" fill="#c00"/>
<path d="M390.5 289.5l2.1-1.5-2 .1-2.1 1.4z" fill="#4f0"/>
<path d="M400.8 285.1l2.1-1.4-2 .1-2.1 1.3z" fill="#8f0"/>
<path d="M436 271.6l2-1.2-2.1.2-2 1.1z" fill="#f70"/>
<path d="M363.6 302.3l2.1-1.7-1.9-.1-2.1 1.7z" fill="#0fb"/>
<path d="M347 311l2.2-1.9-1.9-.1-2.1 1.9z" fill="#07f"/>
<path d="M450.5 266.6l2-1-2.2.2-2 1z" fill="#f10"/>
<path d="M425.7 275.4l2-1.2-2.1.1-2 1.2z" fill="#fb0"/>
<path d="M494 253.2l1.8-.8-2.3.4-1.9.8z" fill="#a00"/>
<path d="M373.9 297.3l2.2-1.6-2 0-2.1 1.6z" fill="#0f5"/>
<path d="M465 261.9l1.9-.9-2.2.2-1.9 1z" fill="#d00"/>
<path d="M479.5 257.4l1.9-.8-2.3.3-1.9.9z" fill="#c00"/>
<path d="M415.3 279.5l2.1-1.3-2.1 0-2.1 1.3z" fill="#df0"/>
<path d="M384.3 292.6l2.1-1.6-2 0-2.1 1.6z" fill="#0f0"/>
<path d="M340.8 314.6l2.2-1.9-1.9-.1-2.2 1.9z" fill="#03f"/>
<path d="M405 283.7l2-1.4-2 0-2.1 1.4z" fill="#9f0"/>
<path d="M357.3 305.7l2.2-1.8-1.9 0-2.2 1.7z" fill="#0ef"/>
<path d="M394.6 288l2.1-1.4-2 0-2.1 1.4z" fill="#5f0"/>
<path d="M440.1 270.3l2.1-1.1-2.2.1-2 1.1z" fill="#f50"/>
<path d="M498.2 252l1.8-.7-2.3.4-1.9.7z" fill="#a00"/>
<path d="M454.7 265.4l1.9-1-2.2.2-1.9 1z" fill="#f00"/>
<path d="M334.6 318.4l2.2-2-1.9-.1-2.2 2z" fill="#00f"/>
<path d="M367.7 300.6l2.1-1.7-1.9 0-2.2 1.7z" fill="#0f9"/>
<path d="M429.8 274.1l2-1.2-2.1.1-2 1.2z" fill="#f90"/>
<path d="M483.7 256.3l1.9-.8-2.3.3-1.9.8z" fill="#b00"/>
<path d="M469.2 260.7l1.9-.9-2.2.3-2 .9z" fill="#d00"/>
<path d="M351.1 309.2l2.2-1.8-1.9-.1-2.2 1.8z" fill="#09f"/>
<path d="M419.4 278.1l2.1-1.3-2.1.1-2 1.3z" fill="#fe0"/>
<path d="M378 295.7l2.2-1.6-2 0-2.1 1.6z" fill="#0f3"/>
<path d="M444.3 269l2-1.1-2.1.2-2 1.1z" fill="#f40"/>
<path d="M409.1 282.2l2.1-1.3-2.1 0-2.1 1.4z" fill="#bf0"/>
<path d="M388.4 291.1l2.1-1.6-2 0-2.1 1.5z" fill="#2f0"/>
<path d="M398.7 286.5l2.1-1.4-2 0-2.1 1.5z" fill="#7f0"/>
<path d="M502.4 250.9l1.8-.7-2.3.4-1.9.7z" fill="#900"/>
<path d="M344.9 312.9l2.1-1.9-1.8-.1-2.2 1.8z" fill="#05f"/>
<path d="M361.4 304l2.2-1.7-1.9-.1-2.2 1.7z" fill="#0fd"/>
<path d="M458.8 264.1l2-1-2.2.3-2 1z" fill="#e00"/>
<path d="M487.9 255.1l1.9-.8-2.3.4-1.9.8z" fill="#b00"/>
<path d="M473.4 259.5l1.9-.9-2.3.3-1.9.9z" fill="#c00"/>
<path d="M434 272.7l2-1.1-2.1.1-2.1 1.2z" fill="#f80"/>
<path d="M371.8 299l2.1-1.7-1.9 0-2.2 1.6z" fill="#0f6"/>
<path d="M338.6 316.6l2.2-2-1.9-.1-2.1 1.9z" fill="#01f"/>
<path d="M423.6 276.7l2.1-1.3-2.1.1-2.1 1.3z" fill="#fc0"/>
<path d="M448.5 267.7l2-1.1-2.2.2-2 1.1z" fill="#f20"/>
<path d="M355.2 307.5l2.1-1.8-1.9-.1-2.1 1.8z" fill="#0cf"/>
<path d="M506.6 249.8l1.8-.7-2.3.5-1.9.6z" fill="#900"/>
<path d="M382.1 294.2l2.2-1.6-2 0-2.1 1.5z" fill="#0f0"/>
<path d="M413.2 280.8l2.1-1.3-2.1 0-2 1.4z" fill="#df0"/>
<path d="M392.5 289.5l2.1-1.5-2 0-2.1 1.5z" fill="#4f0"/>
<path d="M463 262.9l2-1-2.2.3-2 .9z" fill="#e00"/>
<path d="M402.9 285.1l2.1-1.4-2.1 0-2.1 1.4z" fill="#8f0"/>
<path d="M492.1 254l1.9-.8-2.4.4-1.8.7z" fill="#a00"/>
<path d="M477.6 258.3l1.9-.9-2.3.4-1.9.8z" fill="#c00"/>
<path d="M438.1 271.4l2-1.1-2.1.1-2 1.2z" fill="#f60"/>
<path d="M365.5 302.4l2.2-1.8-2 0-2.1 1.7z" fill="#0fb"/>
<path d="M348.9 311.1l2.2-1.9-1.9-.1-2.2 1.9z" fill="#08f"/>
<path d="M427.8 275.3l2-1.2-2.1.1-2 1.2z" fill="#fa0"/>
<path d="M452.7 266.4l2-1-2.2.2-2 1z" fill="#f00"/>
<path d="M375.9 297.4l2.1-1.7-1.9 0-2.2 1.6z" fill="#0f4"/>
<path d="M496.3 252.8l1.9-.8-2.4.4-1.8.8z" fill="#a00"/>
<path d="M467.2 261.7l2-1-2.3.3-1.9.9z" fill="#d00"/>
<path d="M417.4 279.4l2-1.3-2 .1-2.1 1.3z" fill="#ef0"/>
<path d="M481.8 257.1l1.9-.8-2.3.3-1.9.8z" fill="#c00"/>
<path d="M342.7 314.8l2.2-1.9-1.9-.2-2.2 1.9z" fill="#03f"/>
<path d="M386.2 292.6l2.2-1.5-2-.1-2.1 1.6z" fill="#1f0"/>
<path d="M359.3 305.8l2.1-1.8-1.9-.1-2.2 1.8z" fill="#0ef"/>
<path d="M407 283.6l2.1-1.4-2.1.1-2 1.4z" fill="#af0"/>
<path d="M396.6 288l2.1-1.5-2 .1-2.1 1.4z" fill="#6f0"/>
<path d="M442.3 270.1l2-1.1-2.1.2-2.1 1.1z" fill="#f40"/>
<path d="M336.4 318.6l2.2-2-1.8-.2-2.2 2z" fill="#00f"/>
<path d="M369.6 300.7l2.2-1.7-2-.1-2.1 1.7z" fill="#0f8"/>
<path d="M456.9 265.2l1.9-1.1-2.2.3-1.9 1z" fill="#e00"/>
<path d="M431.9 274l2.1-1.3-2.2.2-2 1.2z" fill="#f90"/>
<path d="M500.5 251.7l1.9-.8-2.4.4-1.8.7z" fill="#a00"/>
<path d="M353 309.4l2.2-1.9-1.9-.1-2.2 1.8z" fill="#0af"/>
<path d="M471.4 260.4l2-.9-2.3.3-1.9.9z" fill="#d00"/>
<path d="M486 255.9l1.9-.8-2.3.4-1.9.8z" fill="#b00"/>
<path d="M380 295.8l2.1-1.6-1.9-.1-2.2 1.6z" fill="#0f2"/>
<path d="M421.5 278l2.1-1.3-2.1.1-2.1 1.3z" fill="#fd0"/>
<path d="M390.4 291.1l2.1-1.6-2 0-2.1 1.6z" fill="#3f0"/>
<path d="M411.2 282.2l2-1.4-2 .1-2.1 1.3z" fill="#cf0"/>
<path d="M446.5 268.8l2-1.1-2.2.2-2 1.1z" fill="#f30"/>
<path d="M400.8 286.5l2.1-1.4-2.1 0-2.1 1.4z" fill="#7f0"/>
<path d="M346.7 313l2.2-1.9-1.9-.1-2.1 1.9z" fill="#06f"/>
<path d="M363.4 304.1l2.1-1.7-1.9-.1-2.2 1.7z" fill="#0fc"/>
<path d="M504.7 250.5l1.9-.7-2.4.4-1.8.7z" fill="#900"/>
<path d="M461.1 263.9l1.9-1-2.2.2-2 1z" fill="#e00"/>
<path d="M436.1 272.6l2-1.2-2.1.2-2 1.1z" fill="#f70"/>
<path d="M490.2 254.8l1.9-.8-2.3.3-1.9.8z" fill="#b00"/>
<path d="M475.6 259.2l2-.9-2.3.3-1.9.9z" fill="#c00"/>
<path d="M373.7 299.1l2.2-1.7-2-.1-2.1 1.7z" fill="#0f6"/>
<path d="M340.5 316.7l2.2-1.9-1.9-.2-2.2 2z" fill="#01f"/>
<path d="M425.7 276.6l2.1-1.3-2.1.1-2.1 1.3z" fill="#fb0"/>
<path d="M357.1 307.6l2.2-1.8-2-.1-2.1 1.8z" fill="#0df"/>
<path d="M384.1 294.2l2.1-1.6-1.9 0-2.2 1.6z" fill="#0f0"/>
<path d="M450.7 267.5l2-1.1-2.2.2-2 1.1z" fill="#f10"/>
<path d="M415.3 280.7l2.1-1.3-2.1.1-2.1 1.3z" fill="#df0"/>
<path d="M394.5 289.5l2.1-1.5-2 0-2.1 1.5z" fill="#5f0"/>
<path d="M404.9 285l2.1-1.4-2 .1-2.1 1.4z" fill="#9f0"/>
<path d="M509 249.4l1.8-.7-2.4.4-1.8.7z" fill="#900"/>
<path d="M465.3 262.7l1.9-1-2.2.2-2 1z" fill="#d00"/>
<path d="M494.4 253.6l1.9-.8-2.3.4-1.9.8z" fill="#a00"/>
<path d="M479.8 258l2-.9-2.3.3-1.9.9z" fill="#c00"/>
<path d="M367.5 302.4l2.1-1.7-1.9-.1-2.2 1.8z" fill="#0fa"/>
<path d="M440.3 271.3l2-1.2-2.2.2-2 1.1z" fill="#f50"/>
<path d="M350.8 311.2l2.2-1.8-1.9-.2-2.2 1.9z" fill="#08f"/>
<path d="M377.9 297.4l2.1-1.6-2-.1-2.1 1.7z" fill="#0f3"/>
<path d="M429.9 275.2l2-1.2-2.1.1-2 1.2z" fill="#fa0"/>
<path d="M454.9 266.2l2-1-2.2.2-2 1z" fill="#e00"/>
<path d="M344.5 314.9l2.2-1.9-1.8-.1-2.2 1.9z" fill="#04f"/>
<path d="M419.5 279.3l2-1.3-2.1.1-2 1.3z" fill="#fe0"/>
<path d="M388.3 292.6l2.1-1.5-2 0-2.2 1.5z" fill="#2f0"/>
<path d="M469.5 261.4l1.9-1-2.2.3-2 1z" fill="#d00"/>
<path d="M361.2 305.9l2.2-1.8-2-.1-2.1 1.8z" fill="#0fe"/>
<path d="M498.6 252.4l1.9-.7-2.3.3-1.9.8z" fill="#a00"/>
<path d="M409.1 283.6l2.1-1.4-2.1 0-2.1 1.4z" fill="#bf0"/>
<path d="M484 256.8l2-.9-2.3.4-1.9.8z" fill="#b00"/>
<path d="M398.7 288l2.1-1.5-2.1 0-2.1 1.5z" fill="#6f0"/>
<path d="M444.5 270l2-1.2-2.2.2-2 1.1z" fill="#f40"/>
<path d="M338.3 318.7l2.2-2-1.9-.1-2.2 2z" fill="#00f"/>
<path d="M371.6 300.8l2.1-1.7-1.9-.1-2.2 1.7z" fill="#0f7"/>
<path d="M354.9 309.5l2.2-1.9-1.9-.1-2.2 1.9z" fill="#0bf"/>
<path d="M459.1 264.9l2-1-2.3.2-1.9 1.1z" fill="#e00"/>
<path d="M434.1 273.8l2-1.2-2.1.1-2.1 1.3z" fill="#f80"/>
<path d="M502.9 251.3l1.8-.8-2.3.4-1.9.8z" fill="#900"/>
<path d="M382 295.8l2.1-1.6-2 0-2.1 1.6z" fill="#0f1"/>
<path d="M473.7 260.2l1.9-1-2.2.3-2 .9z" fill="#c00"/>
<path d="M488.3 255.6l1.9-.8-2.3.3-1.9.8z" fill="#b00"/>
<path d="M423.7 277.9l2-1.3-2.1.1-2.1 1.3z" fill="#fd0"/>
<path d="M392.4 291.1l2.1-1.6-2 0-2.1 1.6z" fill="#4f0"/>
<path d="M413.2 282.1l2.1-1.4-2.1.1-2 1.4z" fill="#cf0"/>
<path d="M402.8 286.5l2.1-1.5-2 .1-2.1 1.4z" fill="#8f0"/>
<path d="M448.7 268.6l2-1.1-2.2.2-2 1.1z" fill="#f20"/>
<path d="M348.6 313.1l2.2-1.9-1.9-.1-2.2 1.9z" fill="#06f"/>
<path d="M365.3 304.2l2.2-1.8-2 0-2.1 1.7z" fill="#0fc"/>
<path d="M463.3 263.7l2-1-2.3.2-1.9 1z" fill="#d00"/>
<path d="M438.3 272.5l2-1.2-2.2.1-2 1.2z" fill="#f60"/>
<path d="M507.1 250.1l1.9-.7-2.4.4-1.9.7z" fill="#900"/>
<path d="M375.7 299.1l2.2-1.7-2 0-2.2 1.7z" fill="#0f5"/>
<path d="M342.3 316.9l2.2-2-1.8-.1-2.2 1.9z" fill="#02f"/>
<path d="M477.9 258.9l1.9-.9-2.2.3-2 .9z" fill="#c00"/>
<path d="M492.5 254.4l1.9-.8-2.3.4-1.9.8z" fill="#a00"/>
<path d="M359 307.7l2.2-1.8-1.9-.1-2.2 1.8z" fill="#0df"/>
<path d="M427.8 276.5l2.1-1.3-2.1.1-2.1 1.3z" fill="#fb0"/>
<path d="M386.1 294.2l2.2-1.6-2.1 0-2.1 1.6z" fill="#0f0"/>
<path d="M452.9 267.3l2-1.1-2.2.2-2 1.1z" fill="#f00"/>
<path d="M417.4 280.7l2.1-1.4-2.1.1-2.1 1.3z" fill="#ef0"/>
<path d="M396.5 289.5l2.2-1.5-2.1 0-2.1 1.5z" fill="#5f0"/>
<path d="M407 285l2.1-1.4-2.1 0-2.1 1.4z" fill="#af0"/>
<path d="M467.5 262.4l2-1-2.3.3-1.9 1z" fill="#d00"/>
<path d="M511.3 248.9l1.9-.7-2.4.5-1.8.7z" fill="#800"/>
<path d="M369.4 302.5l2.2-1.7-2-.1-2.1 1.7z" fill="#0f9"/>
<path d="M352.7 311.4l2.2-1.9-1.9-.1-2.2 1.8z" fill="#09f"/>
<path d="M482.1 257.7l1.9-.9-2.2.3-2 .9z" fill="#b00"/>
<path d="M496.7 253.2l1.9-.8-2.3.4-1.9.8z" fill="#a00"/>
<path d="M442.5 271.1l2-1.1-2.2.1-2 1.2z" fill="#f40"/>
<path d="M379.8 297.5l2.2-1.7-2 0-2.1 1.6z" fill="#0f3"/>
<path d="M432 275.1l2.1-1.3-2.2.2-2 1.2z" fill="#f90"/>
<path d="M346.4 315.1l2.2-2-1.9-.1-2.2 1.9z" fill="#04f"/>
<path d="M457.1 266l2-1.1-2.2.3-2 1z" fill="#e00"/>
<path d="M390.3 292.7l2.1-1.6-2 0-2.1 1.5z" fill="#2f0"/>
<path d="M363.1 306l2.2-1.8-1.9-.1-2.2 1.8z" fill="#0fd"/>
<path d="M421.6 279.2l2.1-1.3-2.2.1-2 1.3z" fill="#fe0"/>
<path d="M400.7 288l2.1-1.5-2 0-2.1 1.5z" fill="#7f0"/>
<path d="M411.1 283.5l2.1-1.4-2 .1-2.1 1.4z" fill="#bf0"/>
<path d="M471.7 261.2l2-1-2.3.2-1.9 1z" fill="#d00"/>
<path d="M501 252.1l1.9-.8-2.4.4-1.9.7z" fill="#900"/>
<path d="M486.4 256.5l1.9-.9-2.3.3-2 .9z" fill="#b00"/>
<path d="M340.1 318.9l2.2-2-1.8-.2-2.2 2z" fill="#00f"/>
<path d="M446.7 269.8l2-1.2-2.2.2-2 1.2z" fill="#f30"/>
<path d="M373.5 300.9l2.2-1.8-2 0-2.1 1.7z" fill="#0f7"/>
<path d="M356.8 309.6l2.2-1.9-1.9-.1-2.2 1.9z" fill="#0bf"/>
<path d="M436.2 273.7l2.1-1.2-2.2.1-2 1.2z" fill="#f70"/>
<path d="M461.3 264.7l2-1-2.2.2-2 1z" fill="#e00"/>
<path d="M384 295.9l2.1-1.7-2 0-2.1 1.6z" fill="#0f0"/>
<path d="M425.8 277.8l2-1.3-2.1.1-2 1.3z" fill="#fc0"/>
<path d="M475.9 259.9l2-1-2.3.3-1.9 1z" fill="#c00"/>
<path d="M505.2 250.9l1.9-.8-2.4.4-1.8.8z" fill="#900"/>
<path d="M394.4 291.1l2.1-1.6-2 0-2.1 1.6z" fill="#4f0"/>
<path d="M490.6 255.3l1.9-.9-2.3.4-1.9.8z" fill="#a00"/>
<path d="M350.5 313.3l2.2-1.9-1.9-.2-2.2 1.9z" fill="#07f"/>
<path d="M415.3 282.1l2.1-1.4-2.1 0-2.1 1.4z" fill="#df0"/>
<path d="M404.9 286.5l2.1-1.5-2.1 0-2.1 1.5z" fill="#9f0"/>
<path d="M367.3 304.3l2.1-1.8-1.9-.1-2.2 1.8z" fill="#0fb"/>
<path d="M450.9 268.5l2-1.2-2.2.2-2 1.1z" fill="#f10"/>
<path d="M344.2 317.1l2.2-2-1.9-.2-2.2 2z" fill="#02f"/>
<path d="M465.5 263.5l2-1.1-2.2.3-2 1z" fill="#d00"/>
<path d="M377.7 299.2l2.1-1.7-1.9-.1-2.2 1.7z" fill="#0f4"/>
<path d="M440.4 272.4l2.1-1.3-2.2.2-2 1.2z" fill="#f50"/>
<path d="M361 307.9l2.1-1.9-1.9-.1-2.2 1.8z" fill="#0ef"/>
<path d="M509.5 249.7l1.8-.8-2.3.5-1.9.7z" fill="#900"/>
<path d="M480.2 258.7l1.9-1-2.3.3-1.9.9z" fill="#c00"/>
<path d="M494.8 254.1l1.9-.9-2.3.4-1.9.8z" fill="#a00"/>
<path d="M388.1 294.3l2.2-1.6-2-.1-2.2 1.6z" fill="#1f0"/>
<path d="M430 276.4l2-1.3-2.1.1-2.1 1.3z" fill="#fa0"/>
<path d="M398.6 289.6l2.1-1.6-2 0-2.2 1.5z" fill="#6f0"/>
<path d="M419.5 280.6l2.1-1.4-2.1.1-2.1 1.4z" fill="#ef0"/>
<path d="M455.1 267.1l2-1.1-2.2.2-2 1.1z" fill="#e00"/>
<path d="M409 285l2.1-1.5-2 .1-2.1 1.4z" fill="#af0"/>
<path d="M371.4 302.6l2.1-1.7-1.9-.1-2.2 1.7z" fill="#0f9"/>
<path d="M354.6 311.5l2.2-1.9-1.9-.1-2.2 1.9z" fill="#09f"/>
<path d="M469.8 262.2l1.9-1-2.2.2-2 1z" fill="#d00"/>
<path d="M444.6 271l2.1-1.2-2.2.2-2 1.1z" fill="#f40"/>
<path d="M513.7 248.5l1.9-.7-2.4.4-1.9.7z" fill="#800"/>
<path d="M484.4 257.4l2-.9-2.4.3-1.9.9z" fill="#b00"/>
<path d="M499.1 252.9l1.9-.8-2.4.3-1.9.8z" fill="#a00"/>
<path d="M381.8 297.6l2.2-1.7-2-.1-2.2 1.7z" fill="#0f2"/>
<path d="M348.3 315.3l2.2-2-1.9-.2-2.2 2z" fill="#05f"/>
<path d="M434.2 275l2-1.3-2.1.1-2.1 1.3z" fill="#f80"/>
<path d="M365.1 306.1l2.2-1.8-2-.1-2.2 1.8z" fill="#0fd"/>
<path d="M392.3 292.7l2.1-1.6-2 0-2.1 1.6z" fill="#3f0"/>
<path d="M459.3 265.8l2-1.1-2.2.2-2 1.1z" fill="#e00"/>
<path d="M423.7 279.2l2.1-1.4-2.1.1-2.1 1.3z" fill="#fd0"/>
<path d="M402.8 288l2.1-1.5-2.1 0-2.1 1.5z" fill="#7f0"/>
<path d="M413.2 283.5l2.1-1.4-2.1 0-2.1 1.4z" fill="#cf0"/>
<path d="M342 319.1l2.2-2-1.9-.2-2.2 2z" fill="#00f"/>
<path d="M474 260.9l1.9-1-2.2.3-2 1z" fill="#c00"/>
<path d="M488.7 256.2l1.9-.9-2.3.3-1.9.9z" fill="#b00"/>
<path d="M448.9 269.6l2-1.1-2.2.1-2 1.2z" fill="#f20"/>
<path d="M503.3 251.7l1.9-.8-2.3.4-1.9.8z" fill="#900"/>
<path d="M375.5 301l2.2-1.8-2-.1-2.2 1.8z" fill="#0f6"/>
<path d="M358.8 309.8l2.2-1.9-2-.2-2.2 1.9z" fill="#0cf"/>
<path d="M438.4 273.6l2-1.2-2.1.1-2.1 1.2z" fill="#f60"/>
<path d="M386 296l2.1-1.7-2-.1-2.1 1.7z" fill="#0f0"/>
<path d="M463.5 264.5l2-1-2.2.2-2 1z" fill="#d00"/>
<path d="M427.9 277.7l2.1-1.3-2.2.1-2 1.3z" fill="#fb0"/>
<path d="M396.5 291.1l2.1-1.5-2.1-.1-2.1 1.6z" fill="#5f0"/>
<path d="M352.5 313.5l2.1-2-1.9-.1-2.2 1.9z" fill="#08f"/>
<path d="M478.2 259.6l2-.9-2.3.2-2 1z" fill="#c00"/>
<path d="M369.2 304.4l2.2-1.8-2-.1-2.1 1.8z" fill="#0fa"/>
<path d="M417.4 282l2.1-1.4-2.1.1-2.1 1.4z" fill="#df0"/>
<path d="M406.9 286.5l2.1-1.5-2 0-2.1 1.5z" fill="#9f0"/>
<path d="M507.6 250.5l1.9-.8-2.4.4-1.9.8z" fill="#900"/>
<path d="M492.9 255l1.9-.9-2.3.3-1.9.9z" fill="#a00"/>
<path d="M453.1 268.3l2-1.2-2.2.2-2 1.2z" fill="#f00"/>
<path d="M346.1 317.3l2.2-2-1.9-.2-2.2 2z" fill="#03f"/>
<path d="M379.7 299.3l2.1-1.7-2-.1-2.1 1.7z" fill="#0f4"/>
<path d="M442.6 272.2l2-1.2-2.1.1-2.1 1.3z" fill="#f50"/>
<path d="M467.8 263.2l2-1-2.3.2-2 1.1z" fill="#d00"/>
<path d="M362.9 308l2.2-1.9-2-.1-2.1 1.9z" fill="#0ef"/>
<path d="M390.2 294.4l2.1-1.7-2 0-2.2 1.6z" fill="#2f0"/>
<path d="M482.5 258.4l1.9-1-2.3.3-1.9 1z" fill="#b00"/>
<path d="M432.1 276.3l2.1-1.3-2.2.1-2 1.3z" fill="#f90"/>
<path d="M511.9 249.3l1.8-.8-2.4.4-1.8.8z" fill="#800"/>
<path d="M497.2 253.7l1.9-.8-2.4.3-1.9.9z" fill="#a00"/>
<path d="M400.6 289.6l2.2-1.6-2.1 0-2.1 1.6z" fill="#6f0"/>
<path d="M421.6 280.6l2.1-1.4-2.1 0-2.1 1.4z" fill="#fe0"/>
<path d="M411.1 285l2.1-1.5-2.1 0-2.1 1.5z" fill="#bf0"/>
<path d="M457.3 267l2-1.2-2.2.2-2 1.1z" fill="#e00"/>
<path d="M373.4 302.7l2.1-1.7-2-.1-2.1 1.7z" fill="#0f8"/>
<path d="M356.6 311.7l2.2-1.9-2-.2-2.2 1.9z" fill="#0af"/>
<path d="M472 261.9l2-1-2.3.3-1.9 1z" fill="#c00"/>
<path d="M446.8 270.9l2.1-1.3-2.2.2-2.1 1.2z" fill="#f30"/>
<path d="M383.8 297.7l2.2-1.7-2-.1-2.2 1.7z" fill="#0f1"/>
<path d="M486.7 257.1l2-.9-2.3.3-2 .9z" fill="#b00"/>
<path d="M350.3 315.5l2.2-2-2-.2-2.2 2z" fill="#06f"/>
<path d="M516.2 248.1l1.8-.8-2.4.5-1.9.7z" fill="#800"/>
<path d="M501.5 252.5l1.8-.8-2.3.4-1.9.8z" fill="#900"/>
<path d="M436.3 274.9l2.1-1.3-2.2.1-2 1.3z" fill="#f70"/>
<path d="M367 306.3l2.2-1.9-1.9-.1-2.2 1.8z" fill="#0fc"/>
<path d="M394.3 292.8l2.2-1.7-2.1 0-2.1 1.6z" fill="#3f0"/>
<path d="M461.6 265.6l1.9-1.1-2.2.2-2 1.1z" fill="#e00"/>
<path d="M425.8 279.1l2.1-1.4-2.1.1-2.1 1.4z" fill="#fc0"/>
<path d="M404.8 288l2.1-1.5-2 0-2.1 1.5z" fill="#8f0"/>
<path d="M415.3 283.5l2.1-1.5-2.1.1-2.1 1.4z" fill="#cf0"/>
<path d="M343.9 319.3l2.2-2-1.9-.2-2.2 2z" fill="#01f"/>
<path d="M476.3 260.7l1.9-1.1-2.3.3-1.9 1z" fill="#c00"/>
<path d="M377.5 301.1l2.2-1.8-2-.1-2.2 1.8z" fill="#0f6"/>
<path d="M360.7 309.9l2.2-1.9-1.9-.1-2.2 1.9z" fill="#0df"/>
<path d="M451.1 269.5l2-1.2-2.2.2-2 1.1z" fill="#f10"/>
<path d="M491 255.9l1.9-.9-2.3.3-1.9.9z" fill="#a00"/>
<path d="M505.7 251.3l1.9-.8-2.4.4-1.9.8z" fill="#900"/>
<path d="M388 296l2.2-1.6-2.1-.1-2.1 1.7z" fill="#0f0"/>
<path d="M440.6 273.5l2-1.3-2.2.2-2 1.2z" fill="#f60"/>
<path d="M465.8 264.3l2-1.1-2.3.3-2 1z" fill="#d00"/>
<path d="M354.4 313.6l2.2-1.9-2-.2-2.1 2z" fill="#08f"/>
<path d="M398.5 291.2l2.1-1.6-2 0-2.1 1.5z" fill="#5f0"/>
<path d="M430.1 277.7l2-1.4-2.1.1-2.1 1.3z" fill="#fa0"/>
<path d="M371.2 304.6l2.2-1.9-2-.1-2.2 1.8z" fill="#0fa"/>
<path d="M409 286.5l2.1-1.5-2.1 0-2.1 1.5z" fill="#af0"/>
<path d="M419.5 282l2.1-1.4-2.1 0-2.1 1.4z" fill="#ef0"/>
<path d="M480.5 259.4l2-1-2.3.3-2 .9z" fill="#c00"/>
<path d="M495.3 254.6l1.9-.9-2.4.4-1.9.9z" fill="#a00"/>
<path d="M455.3 268.1l2-1.1-2.2.1-2 1.2z" fill="#e00"/>
<path d="M510 250.1l1.9-.8-2.4.4-1.9.8z" fill="#800"/>
<path d="M348 317.5l2.3-2-2-.2-2.2 2z" fill="#04f"/>
<path d="M381.7 299.4l2.1-1.7-2-.1-2.1 1.7z" fill="#0f3"/>
<path d="M364.9 308.2l2.1-1.9-1.9-.2-2.2 1.9z" fill="#0fe"/>
<path d="M444.8 272.1l2-1.2-2.2.1-2 1.2z" fill="#f40"/>
<path d="M470.1 263l1.9-1.1-2.2.3-2 1z" fill="#d00"/>
<path d="M392.2 294.4l2.1-1.6-2-.1-2.1 1.7z" fill="#2f0"/>
<path d="M434.3 276.2l2-1.3-2.1.1-2.1 1.3z" fill="#f90"/>
<path d="M484.8 258.1l1.9-1-2.3.3-1.9 1z" fill="#b00"/>
<path d="M402.7 289.6l2.1-1.6-2 0-2.2 1.6z" fill="#7f0"/>
<path d="M423.8 280.5l2-1.4-2.1.1-2.1 1.4z" fill="#fd0"/>
<path d="M413.2 285l2.1-1.5-2.1 0-2.1 1.5z" fill="#bf0"/>
<path d="M499.6 253.4l1.9-.9-2.4.4-1.9.8z" fill="#900"/>
<path d="M514.3 248.9l1.9-.8-2.5.4-1.8.8z" fill="#800"/>
<path d="M358.5 311.9l2.2-2-1.9-.1-2.2 1.9z" fill="#0bf"/>
<path d="M375.4 302.9l2.1-1.8-2-.1-2.1 1.7z" fill="#0f7"/>
<path d="M459.6 266.8l2-1.2-2.3.2-2 1.2z" fill="#e00"/>
<path d="M385.9 297.8l2.1-1.8-2 0-2.2 1.7z" fill="#0f1"/>
<path d="M449 270.7l2.1-1.2-2.2.1-2.1 1.3z" fill="#f20"/>
<path d="M474.3 261.7l2-1-2.3.2-2 1z" fill="#c00"/>
<path d="M352.2 315.6l2.2-2-1.9-.1-2.2 2z" fill="#06f"/>
<path d="M369 306.4l2.2-1.8-2-.2-2.2 1.9z" fill="#0fc"/>
<path d="M489.1 256.8l1.9-.9-2.3.3-2 .9z" fill="#b00"/>
<path d="M438.5 274.8l2.1-1.3-2.2.1-2.1 1.3z" fill="#f70"/>
<path d="M396.4 292.8l2.1-1.6-2-.1-2.2 1.7z" fill="#4f0"/>
<path d="M503.8 252.2l1.9-.9-2.4.4-1.8.8z" fill="#900"/>
<path d="M345.8 319.5l2.2-2-1.9-.2-2.2 2z" fill="#01f"/>
<path d="M428 279.1l2.1-1.4-2.2 0-2.1 1.4z" fill="#fc0"/>
<path d="M406.9 288.1l2.1-1.6-2.1 0-2.1 1.5z" fill="#8f0"/>
<path d="M463.8 265.5l2-1.2-2.3.2-1.9 1.1z" fill="#d00"/>
<path d="M417.4 283.5l2.1-1.5-2.1 0-2.1 1.5z" fill="#df0"/>
<path d="M379.5 301.2l2.2-1.8-2-.1-2.2 1.8z" fill="#0f5"/>
<path d="M362.7 310.1l2.2-1.9-2-.2-2.2 1.9z" fill="#0df"/>
<path d="M478.6 260.4l1.9-1-2.3.2-1.9 1.1z" fill="#c00"/>
<path d="M453.3 269.4l2-1.3-2.2.2-2 1.2z" fill="#f00"/>
<path d="M493.4 255.6l1.9-1-2.4.4-1.9.9z" fill="#a00"/>
<path d="M390 296.1l2.2-1.7-2 0-2.2 1.6z" fill="#1f0"/>
<path d="M508.1 250.9l1.9-.8-2.4.4-1.9.8z" fill="#800"/>
<path d="M442.8 273.4l2-1.3-2.2.1-2 1.3z" fill="#f50"/>
<path d="M356.3 313.8l2.2-1.9-1.9-.2-2.2 1.9z" fill="#09f"/>
<path d="M400.6 291.2l2.1-1.6-2.1 0-2.1 1.6z" fill="#6f0"/>
<path d="M373.2 304.7l2.2-1.8-2-.2-2.2 1.9z" fill="#0f9"/>
<path d="M468.1 264.1l2-1.1-2.3.2-2 1.1z" fill="#d00"/>
<path d="M432.2 277.6l2.1-1.4-2.2.1-2 1.4z" fill="#fa0"/>
<path d="M411.1 286.5l2.1-1.5-2.1 0-2.1 1.5z" fill="#af0"/>
<path d="M421.7 282l2.1-1.5-2.2.1-2.1 1.4z" fill="#ef0"/>
<path d="M482.9 259.1l1.9-1-2.3.3-2 1z" fill="#b00"/>
<path d="M350 317.7l2.2-2.1-1.9-.1-2.3 2z" fill="#04f"/>
<path d="M457.5 268l2.1-1.2-2.3.2-2 1.1z" fill="#e00"/>
<path d="M383.7 299.5l2.2-1.7-2.1-.1-2.1 1.7z" fill="#0f2"/>
<path d="M497.6 254.3l2-.9-2.4.3-1.9.9z" fill="#a00"/>
<path d="M512.4 249.7l1.9-.8-2.4.4-1.9.8z" fill="#800"/>
<path d="M366.8 308.3l2.2-1.9-2-.1-2.1 1.9z" fill="#0fe"/>
<path d="M447 272l2-1.3-2.2.2-2 1.2z" fill="#f30"/>
<path d="M394.2 294.5l2.2-1.7-2.1 0-2.1 1.6z" fill="#3f0"/>
<path d="M472.3 262.8l2-1.1-2.3.2-1.9 1.1z" fill="#c00"/>
<path d="M436.5 276.2l2-1.4-2.2.1-2 1.3z" fill="#f80"/>
<path d="M404.8 289.7l2.1-1.6-2.1-.1-2.1 1.6z" fill="#7f0"/>
<path d="M360.5 312l2.2-1.9-2-.2-2.2 2z" fill="#0bf"/>
<path d="M425.9 280.5l2.1-1.4-2.2 0-2 1.4z" fill="#fd0"/>
<path d="M415.3 285l2.1-1.5-2.1 0-2.1 1.5z" fill="#cf0"/>
<path d="M377.4 303l2.1-1.8-2-.1-2.1 1.8z" fill="#0f7"/>
<path d="M487.1 257.8l2-1-2.4.3-1.9 1z" fill="#b00"/>
<path d="M461.8 266.6l2-1.1-2.2.1-2 1.2z" fill="#e00"/>
<path d="M501.9 253l1.9-.8-2.3.3-1.9.9z" fill="#900"/>
<path d="M387.9 297.8l2.1-1.7-2-.1-2.1 1.8z" fill="#0f0"/>
<path d="M354.1 315.8l2.2-2-1.9-.2-2.2 2z" fill="#07f"/>
<path d="M451.3 270.6l2-1.2-2.2.1-2.1 1.2z" fill="#f10"/>
<path d="M476.6 261.5l2-1.1-2.3.3-2 1z" fill="#c00"/>
<path d="M371 306.6l2.2-1.9-2-.1-2.2 1.8z" fill="#0fb"/>
<path d="M398.4 292.9l2.2-1.7-2.1 0-2.1 1.6z" fill="#4f0"/>
<path d="M440.7 274.7l2.1-1.3-2.2.1-2.1 1.3z" fill="#f60"/>
<path d="M347.8 319.8l2.2-2.1-2-.2-2.2 2z" fill="#02f"/>
<path d="M491.4 256.5l2-.9-2.4.3-1.9.9z" fill="#a00"/>
<path d="M409 288.1l2.1-1.6-2.1 0-2.1 1.6z" fill="#9f0"/>
<path d="M430.1 279l2.1-1.4-2.1.1-2.1 1.4z" fill="#fb0"/>
<path d="M419.6 283.5l2.1-1.5-2.2 0-2.1 1.5z" fill="#df0"/>
<path d="M506.2 251.8l1.9-.9-2.4.4-1.9.9z" fill="#900"/>
<path d="M466.1 265.3l2-1.2-2.3.2-2 1.2z" fill="#d00"/>
<path d="M381.5 301.3l2.2-1.8-2-.1-2.2 1.8z" fill="#0f4"/>
<path d="M364.6 310.3l2.2-2-1.9-.1-2.2 1.9z" fill="#0ef"/>
<path d="M480.9 260.2l2-1.1-2.4.3-1.9 1z" fill="#b00"/>
<path d="M455.5 269.2l2-1.2-2.2.1-2 1.3z" fill="#f00"/>
<path d="M392.1 296.2l2.1-1.7-2-.1-2.2 1.7z" fill="#1f0"/>
<path d="M358.3 314l2.2-2-2-.1-2.2 1.9z" fill="#09f"/>
<path d="M495.7 255.3l1.9-1-2.3.3-1.9 1z" fill="#a00"/>
<path d="M445 273.3l2-1.3-2.2.1-2 1.3z" fill="#f40"/>
<path d="M375.2 304.8l2.2-1.8-2-.1-2.2 1.8z" fill="#0f9"/>
<path d="M402.7 291.3l2.1-1.6-2.1-.1-2.1 1.6z" fill="#6f0"/>
<path d="M510.5 250.5l1.9-.8-2.4.4-1.9.8z" fill="#800"/>
<path d="M434.4 277.6l2.1-1.4-2.2 0-2.1 1.4z" fill="#f90"/>
<path d="M470.3 263.9l2-1.1-2.2.2-2 1.1z" fill="#d00"/>
<path d="M413.2 286.5l2.1-1.5-2.1 0-2.1 1.5z" fill="#bf0"/>
<path d="M423.8 282l2.1-1.5-2.1 0-2.1 1.5z" fill="#fe0"/>
<path d="M351.9 317.9l2.2-2.1-1.9-.2-2.2 2.1z" fill="#05f"/>
<path d="M385.7 299.6l2.2-1.8-2 0-2.2 1.7z" fill="#0f2"/>
<path d="M485.2 258.9l1.9-1.1-2.3.3-1.9 1z" fill="#b00"/>
<path d="M459.8 267.8l2-1.2-2.2.2-2.1 1.2z" fill="#e00"/>
<path d="M368.8 308.5l2.2-1.9-2-.2-2.2 1.9z" fill="#0fd"/>
<path d="M500 254l1.9-1-2.3.4-2 .9z" fill="#900"/>
<path d="M396.3 294.6l2.1-1.7-2-.1-2.2 1.7z" fill="#3f0"/>
<path d="M449.2 271.9l2.1-1.3-2.3.1-2 1.3z" fill="#f20"/>
<path d="M474.6 262.6l2-1.1-2.3.2-2 1.1z" fill="#c00"/>
<path d="M406.9 289.7l2.1-1.6-2.1 0-2.1 1.6z" fill="#8f0"/>
<path d="M438.6 276.1l2.1-1.4-2.2.1-2 1.4z" fill="#f70"/>
<path d="M362.4 312.2l2.2-1.9-1.9-.2-2.2 1.9z" fill="#0cf"/>
<path d="M379.4 303.1l2.1-1.8-2-.1-2.1 1.8z" fill="#0f6"/>
<path d="M417.5 285l2.1-1.5-2.2 0-2.1 1.5z" fill="#cf0"/>
<path d="M428.1 280.5l2-1.5-2.1.1-2.1 1.4z" fill="#fc0"/>
<path d="M489.5 257.5l1.9-1-2.3.3-2 1z" fill="#a00"/>
<path d="M464.1 266.5l2-1.2-2.3.2-2 1.1z" fill="#d00"/>
<path d="M504.3 252.7l1.9-.9-2.4.4-1.9.8z" fill="#900"/>
<path d="M356.1 316.1l2.2-2.1-2-.2-2.2 2z" fill="#07f"/>
<path d="M389.9 298l2.2-1.8-2.1-.1-2.1 1.7z" fill="#0f0"/>
<path d="M373 306.7l2.2-1.9-2-.1-2.2 1.9z" fill="#0fa"/>
<path d="M453.5 270.5l2-1.3-2.2.2-2 1.2z" fill="#f10"/>
<path d="M478.9 261.2l2-1-2.3.2-2 1.1z" fill="#c00"/>
<path d="M400.5 293l2.2-1.7-2.1-.1-2.2 1.7z" fill="#5f0"/>
<path d="M349.7 320l2.2-2.1-1.9-.2-2.2 2.1z" fill="#03f"/>
<path d="M442.9 274.7l2.1-1.4-2.2.1-2.1 1.3z" fill="#f50"/>
<path d="M411.1 288.1l2.1-1.6-2.1 0-2.1 1.6z" fill="#af0"/>
<path d="M432.3 279l2.1-1.4-2.2 0-2.1 1.4z" fill="#fa0"/>
<path d="M421.7 283.5l2.1-1.5-2.1 0-2.1 1.5z" fill="#ef0"/>
<path d="M493.8 256.2l1.9-.9-2.3.3-2 .9z" fill="#a00"/>
<path d="M383.6 301.4l2.1-1.8-2-.1-2.2 1.8z" fill="#0f4"/>
<path d="M366.6 310.4l2.2-1.9-2-.2-2.2 2z" fill="#0ef"/>
<path d="M468.4 265.1l1.9-1.2-2.2.2-2 1.2z" fill="#d00"/>
<path d="M508.6 251.4l1.9-.9-2.4.4-1.9.9z" fill="#800"/>
<path d="M394.2 296.3l2.1-1.7-2.1-.1-2.1 1.7z" fill="#2f0"/>
<path d="M457.8 269.1l2-1.3-2.3.2-2 1.2z" fill="#e00"/>
<path d="M483.2 259.9l2-1-2.3.2-2 1.1z" fill="#b00"/>
<path d="M360.2 314.2l2.2-2-1.9-.2-2.2 2z" fill="#0af"/>
<path d="M377.2 305l2.2-1.9-2-.1-2.2 1.8z" fill="#0f8"/>
<path d="M404.8 291.3l2.1-1.6-2.1 0-2.1 1.6z" fill="#7f0"/>
<path d="M447.2 273.2l2-1.3-2.2.1-2 1.3z" fill="#f30"/>
<path d="M498.1 254.9l1.9-.9-2.4.3-1.9 1z" fill="#a00"/>
<path d="M436.6 277.5l2-1.4-2.1.1-2.1 1.4z" fill="#f80"/>
<path d="M415.4 286.6l2.1-1.6-2.2 0-2.1 1.5z" fill="#bf0"/>
<path d="M426 282l2.1-1.5-2.2 0-2.1 1.5z" fill="#fd0"/>
<path d="M353.8 318.1l2.3-2-2-.3-2.2 2.1z" fill="#05f"/>
<path d="M472.6 263.7l2-1.1-2.3.2-2 1.1z" fill="#c00"/>
<path d="M387.8 299.7l2.1-1.7-2-.2-2.2 1.8z" fill="#0f1"/>
<path d="M370.8 308.7l2.2-2-2-.1-2.2 1.9z" fill="#0fc"/>
<path d="M487.5 258.6l2-1.1-2.4.3-1.9 1.1z" fill="#b00"/>
<path d="M462.1 267.7l2-1.2-2.3.1-2 1.2z" fill="#e00"/>
<path d="M398.4 294.7l2.1-1.7-2.1-.1-2.1 1.7z" fill="#4f0"/>
<path d="M502.4 253.6l1.9-.9-2.4.3-1.9 1z" fill="#900"/>
<path d="M451.5 271.8l2-1.3-2.2.1-2.1 1.3z" fill="#f20"/>
<path d="M364.4 312.4l2.2-2-2-.1-2.2 1.9z" fill="#0cf"/>
<path d="M409 289.8l2.1-1.7-2.1 0-2.1 1.6z" fill="#8f0"/>
<path d="M381.4 303.3l2.2-1.9-2.1-.1-2.1 1.8z" fill="#0f5"/>
<path d="M440.8 276l2.1-1.3-2.2 0-2.1 1.4z" fill="#f60"/>
<path d="M476.9 262.4l2-1.2-2.3.3-2 1.1z" fill="#c00"/>
<path d="M419.6 285l2.1-1.5-2.1 0-2.1 1.5z" fill="#df0"/>
<path d="M430.2 280.4l2.1-1.4-2.2 0-2 1.5z" fill="#fb0"/>
<path d="M358 316.3l2.2-2.1-1.9-.2-2.2 2.1z" fill="#08f"/>
<path d="M491.8 257.3l2-1.1-2.4.3-1.9 1z" fill="#a00"/>
<path d="M466.3 266.3l2.1-1.2-2.3.2-2 1.2z" fill="#d00"/>
<path d="M392 298.1l2.2-1.8-2.1-.1-2.2 1.8z" fill="#0f0"/>
<path d="M375 306.9l2.2-1.9-2-.2-2.2 1.9z" fill="#0fa"/>
<path d="M506.7 252.4l1.9-1-2.4.4-1.9.9z" fill="#900"/>
<path d="M455.7 270.4l2.1-1.3-2.3.1-2 1.3z" fill="#f00"/>
<path d="M351.6 320.2l2.2-2.1-1.9-.2-2.2 2.1z" fill="#03f"/>
<path d="M402.6 293l2.2-1.7-2.1 0-2.2 1.7z" fill="#5f0"/>
<path d="M481.3 261l1.9-1.1-2.3.3-2 1z" fill="#b00"/>
<path d="M445.1 274.6l2.1-1.4-2.2.1-2.1 1.4z" fill="#f50"/>
<path d="M413.2 288.2l2.2-1.6-2.2-.1-2.1 1.6z" fill="#af0"/>
<path d="M434.5 278.9l2.1-1.4-2.2.1-2.1 1.4z" fill="#f90"/>
<path d="M423.9 283.5l2.1-1.5-2.2 0-2.1 1.5z" fill="#ff0"/>
<path d="M368.6 310.6l2.2-1.9-2-.2-2.2 1.9z" fill="#0fe"/>
<path d="M385.6 301.6l2.2-1.9-2.1-.1-2.1 1.8z" fill="#0f3"/>
<path d="M496.2 255.9l1.9-1-2.4.4-1.9.9z" fill="#a00"/>
<path d="M470.6 264.9l2-1.2-2.3.2-1.9 1.2z" fill="#d00"/>
<path d="M396.2 296.4l2.2-1.7-2.1-.1-2.1 1.7z" fill="#2f0"/>
<path d="M362.2 314.5l2.2-2.1-2-.2-2.2 2z" fill="#0af"/>
<path d="M460 268.9l2.1-1.2-2.3.1-2 1.3z" fill="#e00"/>
<path d="M379.2 305.2l2.2-1.9-2-.2-2.2 1.9z" fill="#0f7"/>
<path d="M485.6 259.7l1.9-1.1-2.3.3-2 1z" fill="#b00"/>
<path d="M406.9 291.4l2.1-1.6-2.1-.1-2.1 1.6z" fill="#7f0"/>
<path d="M449.4 273.1l2.1-1.3-2.3.1-2 1.3z" fill="#f30"/>
<path d="M355.8 318.4l2.2-2.1-1.9-.2-2.3 2z" fill="#06f"/>
<path d="M417.5 286.6l2.1-1.6-2.1 0-2.1 1.6z" fill="#cf0"/>
<path d="M438.8 277.5l2-1.5-2.2.1-2 1.4z" fill="#f80"/>
<path d="M500.5 254.6l1.9-1-2.4.4-1.9.9z" fill="#900"/>
<path d="M428.1 281.9l2.1-1.5-2.1.1-2.1 1.5z" fill="#fd0"/>
<path d="M475 263.5l1.9-1.1-2.3.2-2 1.1z" fill="#c00"/>
<path d="M389.8 299.9l2.2-1.8-2.1-.1-2.1 1.7z" fill="#0f1"/>
<path d="M372.8 308.8l2.2-1.9-2-.2-2.2 2z" fill="#0fc"/>
<path d="M464.3 267.5l2-1.2-2.2.2-2 1.2z" fill="#e00"/>
<path d="M400.5 294.8l2.1-1.8-2.1 0-2.1 1.7z" fill="#4f0"/>
<path d="M489.9 258.3l1.9-1-2.3.2-2 1.1z" fill="#a00"/>
<path d="M366.4 312.6l2.2-2-2-.2-2.2 2z" fill="#0df"/>
<path d="M453.7 271.7l2-1.3-2.2.1-2 1.3z" fill="#f10"/>
<path d="M411.1 289.8l2.1-1.6-2.1-.1-2.1 1.7z" fill="#9f0"/>
<path d="M383.4 303.4l2.2-1.8-2-.2-2.2 1.9z" fill="#0f5"/>
<path d="M504.8 253.3l1.9-.9-2.4.3-1.9.9z" fill="#900"/>
<path d="M443.1 276l2-1.4-2.2.1-2.1 1.3z" fill="#f60"/>
<path d="M421.8 285l2.1-1.5-2.2 0-2.1 1.5z" fill="#df0"/>
<path d="M432.4 280.4l2.1-1.5-2.2.1-2.1 1.4z" fill="#fb0"/>
<path d="M479.3 262.2l2-1.2-2.4.2-2 1.2z" fill="#c00"/>
<path d="M360 316.5l2.2-2-2-.3-2.2 2.1z" fill="#08f"/>
<path d="M394.1 298.2l2.1-1.8-2-.1-2.2 1.8z" fill="#1f0"/>
<path d="M468.6 266.1l2-1.2-2.2.2-2.1 1.2z" fill="#d00"/>
<path d="M494.2 257l2-1.1-2.4.3-2 1.1z" fill="#a00"/>
<path d="M377 307.1l2.2-1.9-2-.2-2.2 1.9z" fill="#0f9"/>
<path d="M353.6 320.5l2.2-2.1-2-.3-2.2 2.1z" fill="#04f"/>
<path d="M404.7 293.1l2.2-1.7-2.1-.1-2.2 1.7z" fill="#6f0"/>
<path d="M458 270.2l2-1.3-2.2.2-2.1 1.3z" fill="#e00"/>
<path d="M415.4 288.2l2.1-1.6-2.1 0-2.2 1.6z" fill="#bf0"/>
<path d="M447.3 274.5l2.1-1.4-2.2.1-2.1 1.4z" fill="#f40"/>
<path d="M483.6 260.8l2-1.1-2.4.2-1.9 1.1z" fill="#b00"/>
<path d="M370.6 310.8l2.2-2-2-.1-2.2 1.9z" fill="#0fe"/>
<path d="M387.7 301.7l2.1-1.8-2-.2-2.2 1.9z" fill="#0f2"/>
<path d="M426 283.5l2.1-1.6-2.1.1-2.1 1.5z" fill="#fe0"/>
<path d="M436.7 278.9l2.1-1.4-2.2 0-2.1 1.4z" fill="#f90"/>
<path d="M498.6 255.7l1.9-1.1-2.4.3-1.9 1z" fill="#900"/>
<path d="M473 264.7l2-1.2-2.4.2-2 1.2z" fill="#c00"/>
<path d="M398.3 296.5l2.2-1.7-2.1-.1-2.2 1.7z" fill="#3f0"/>
<path d="M364.2 314.7l2.2-2.1-2-.2-2.2 2.1z" fill="#0bf"/>
<path d="M381.2 305.3l2.2-1.9-2-.1-2.2 1.9z" fill="#0f7"/>
<path d="M462.3 268.8l2-1.3-2.2.2-2.1 1.2z" fill="#e00"/>
<path d="M409 291.5l2.1-1.7-2.1 0-2.1 1.6z" fill="#8f0"/>
<path d="M487.9 259.4l2-1.1-2.4.3-1.9 1.1z" fill="#b00"/>
<path d="M357.8 318.6l2.2-2.1-2-.2-2.2 2.1z" fill="#06f"/>
<path d="M451.6 273l2.1-1.3-2.2.1-2.1 1.3z" fill="#f20"/>
<path d="M419.6 286.6l2.2-1.6-2.2 0-2.1 1.6z" fill="#cf0"/>
<path d="M441 277.4l2.1-1.4-2.3 0-2 1.5z" fill="#f70"/>
<path d="M430.3 281.9l2.1-1.5-2.2 0-2.1 1.5z" fill="#fc0"/>
<path d="M391.9 300l2.2-1.8-2.1-.1-2.2 1.8z" fill="#0f0"/>
<path d="M502.9 254.3l1.9-1-2.4.3-1.9 1z" fill="#900"/>
<path d="M374.8 309l2.2-1.9-2-.2-2.2 1.9z" fill="#0fb"/>
<path d="M477.3 263.3l2-1.1-2.4.2-1.9 1.1z" fill="#c00"/>
<path d="M402.6 294.9l2.1-1.8-2.1-.1-2.1 1.8z" fill="#5f0"/>
<path d="M466.6 267.4l2-1.3-2.3.2-2 1.2z" fill="#d00"/>
<path d="M368.4 312.9l2.2-2.1-2-.2-2.2 2z" fill="#0df"/>
<path d="M492.3 258.1l1.9-1.1-2.4.3-1.9 1z" fill="#a00"/>
<path d="M385.5 303.6l2.2-1.9-2.1-.1-2.2 1.8z" fill="#0f4"/>
<path d="M413.2 289.9l2.2-1.7-2.2 0-2.1 1.6z" fill="#9f0"/>
<path d="M456 271.6l2-1.4-2.3.2-2 1.3z" fill="#f00"/>
<path d="M423.9 285.1l2.1-1.6-2.1 0-2.1 1.5z" fill="#ef0"/>
<path d="M445.3 275.9l2-1.4-2.2.1-2 1.4z" fill="#f50"/>
<path d="M434.6 280.4l2.1-1.5-2.2 0-2.1 1.5z" fill="#fa0"/>
<path d="M362 316.8l2.2-2.1-2-.2-2.2 2z" fill="#09f"/>
<path d="M481.6 262l2-1.2-2.3.2-2 1.2z" fill="#b00"/>
<path d="M396.1 298.3l2.2-1.8-2.1-.1-2.1 1.8z" fill="#1f0"/>
<path d="M379 307.3l2.2-2-2-.1-2.2 1.9z" fill="#0f9"/>
<path d="M355.5 320.8l2.3-2.2-2-.2-2.2 2.1z" fill="#04f"/>
<path d="M470.9 266l2.1-1.3-2.4.2-2 1.2z" fill="#d00"/>
<path d="M496.6 256.7l2-1-2.4.2-2 1.1z" fill="#a00"/>
<path d="M406.8 293.2l2.2-1.7-2.1-.1-2.2 1.7z" fill="#6f0"/>
<path d="M460.3 270.1l2-1.3-2.3.1-2 1.3z" fill="#e00"/>
<path d="M417.5 288.3l2.1-1.7-2.1 0-2.1 1.6z" fill="#bf0"/>
<path d="M372.6 311l2.2-2-2-.2-2.2 2z" fill="#0fd"/>
<path d="M389.7 301.9l2.2-1.9-2.1-.1-2.1 1.8z" fill="#0f2"/>
<path d="M449.6 274.4l2-1.4-2.2.1-2.1 1.4z" fill="#f30"/>
<path d="M428.2 283.5l2.1-1.6-2.2 0-2.1 1.6z" fill="#fd0"/>
<path d="M438.9 278.9l2.1-1.5-2.2.1-2.1 1.4z" fill="#f80"/>
<path d="M486 260.6l1.9-1.2-2.3.3-2 1.1z" fill="#b00"/>
<path d="M366.2 314.9l2.2-2-2-.3-2.2 2.1z" fill="#0bf"/>
<path d="M400.4 296.6l2.2-1.7-2.1-.1-2.2 1.7z" fill="#3f0"/>
<path d="M475.3 264.6l2-1.3-2.3.2-2 1.2z" fill="#c00"/>
<path d="M501 255.4l1.9-1.1-2.4.3-1.9 1.1z" fill="#900"/>
<path d="M383.3 305.5l2.2-1.9-2.1-.2-2.2 1.9z" fill="#0f6"/>
<path d="M411.1 291.6l2.1-1.7-2.1-.1-2.1 1.7z" fill="#8f0"/>
<path d="M464.6 268.7l2-1.3-2.3.1-2 1.3z" fill="#e00"/>
<path d="M359.7 318.9l2.3-2.1-2-.3-2.2 2.1z" fill="#07f"/>
<path d="M421.8 286.7l2.1-1.6-2.1-.1-2.2 1.6z" fill="#df0"/>
<path d="M453.9 273l2.1-1.4-2.3.1-2.1 1.3z" fill="#f10"/>
<path d="M490.3 259.2l2-1.1-2.4.2-2 1.1z" fill="#a00"/>
<path d="M443.2 277.4l2.1-1.5-2.2.1-2.1 1.4z" fill="#f60"/>
<path d="M432.5 282l2.1-1.6-2.2 0-2.1 1.5z" fill="#fb0"/>
<path d="M394 300.2l2.1-1.9-2-.1-2.2 1.8z" fill="#0f0"/>
<path d="M376.9 309.3l2.1-2-2-.2-2.2 1.9z" fill="#0fb"/>
<path d="M479.6 263.2l2-1.2-2.3.2-2 1.1z" fill="#c00"/>
<path d="M404.7 295l2.1-1.8-2.1-.1-2.1 1.8z" fill="#5f0"/>
<path d="M370.4 313.1l2.2-2.1-2-.2-2.2 2.1z" fill="#0ef"/>
<path d="M468.9 267.2l2-1.2-2.3.1-2 1.3z" fill="#d00"/>
<path d="M387.5 303.8l2.2-1.9-2-.2-2.2 1.9z" fill="#0f4"/>
<path d="M415.4 290l2.1-1.7-2.1-.1-2.2 1.7z" fill="#af0"/>
<path d="M494.7 257.8l1.9-1.1-2.4.3-1.9 1.1z" fill="#a00"/>
<path d="M458.2 271.5l2.1-1.4-2.3.1-2 1.4z" fill="#e00"/>
<path d="M426.1 285.1l2.1-1.6-2.2 0-2.1 1.6z" fill="#ef0"/>
<path d="M447.5 275.9l2.1-1.5-2.3.1-2 1.4z" fill="#f40"/>
<path d="M364 317l2.2-2.1-2-.2-2.2 2.1z" fill="#09f"/>
<path d="M436.8 280.4l2.1-1.5-2.2 0-2.1 1.5z" fill="#f90"/>
<path d="M398.2 298.5l2.2-1.9-2.1-.1-2.2 1.8z" fill="#2f0"/>
<path d="M484 261.7l2-1.1-2.4.2-2 1.2z" fill="#b00"/>
<path d="M381.1 307.5l2.2-2-2.1-.2-2.2 2z" fill="#0f8"/>
<path d="M357.5 321l2.2-2.1-1.9-.3-2.3 2.2z" fill="#04f"/>
<path d="M408.9 293.3l2.2-1.7-2.1-.1-2.2 1.7z" fill="#7f0"/>
<path d="M473.3 265.8l2-1.2-2.3.1-2.1 1.3z" fill="#d00"/>
<path d="M499 256.4l2-1-2.4.3-2 1z" fill="#900"/>
<path d="M374.6 311.3l2.3-2-2.1-.3-2.2 2z" fill="#0fd"/>
<path d="M462.6 270l2-1.3-2.3.1-2 1.3z" fill="#e00"/>
<path d="M419.7 288.3l2.1-1.6-2.2-.1-2.1 1.7z" fill="#cf0"/>
<path d="M391.8 302l2.2-1.8-2.1-.2-2.2 1.9z" fill="#0f1"/>
<path d="M451.8 274.4l2.1-1.4-2.3 0-2 1.4z" fill="#f20"/>
<path d="M430.4 283.5l2.1-1.5-2.2-.1-2.1 1.6z" fill="#fd0"/>
<path d="M441.1 278.9l2.1-1.5-2.2 0-2.1 1.5z" fill="#f70"/>
<path d="M488.3 260.3l2-1.1-2.4.2-1.9 1.2z" fill="#b00"/>
<path d="M368.2 315.2l2.2-2.1-2-.2-2.2 2z" fill="#0cf"/>
<path d="M402.5 296.8l2.2-1.8-2.1-.1-2.2 1.7z" fill="#4f0"/>
<path d="M385.3 305.7l2.2-1.9-2-.2-2.2 1.9z" fill="#0f6"/>
<path d="M477.6 264.4l2-1.2-2.3.1-2 1.3z" fill="#c00"/>
<path d="M361.7 319.2l2.3-2.2-2-.2-2.3 2.1z" fill="#07f"/>
<path d="M413.2 291.7l2.2-1.7-2.2-.1-2.1 1.7z" fill="#9f0"/>
<path d="M466.9 268.6l2-1.4-2.3.2-2 1.3z" fill="#d00"/>
<path d="M424 286.7l2.1-1.6-2.2 0-2.1 1.6z" fill="#df0"/>
<path d="M456.2 272.9l2-1.4-2.2.1-2.1 1.4z" fill="#f10"/>
<path d="M378.9 309.5l2.2-2-2.1-.2-2.1 2z" fill="#0fa"/>
<path d="M396.1 300.3l2.1-1.8-2.1-.2-2.1 1.9z" fill="#0f0"/>
<path d="M434.7 282l2.1-1.6-2.2 0-2.1 1.6z" fill="#fb0"/>
<path d="M445.4 277.3l2.1-1.4-2.2 0-2.1 1.5z" fill="#f60"/>
<path d="M492.7 259l2-1.2-2.4.3-2 1.1z" fill="#a00"/>
<path d="M482 263l2-1.3-2.4.3-2 1.2z" fill="#b00"/>
<path d="M406.8 295.1l2.1-1.8-2.1-.1-2.1 1.8z" fill="#6f0"/>
<path d="M372.4 313.3l2.2-2-2-.3-2.2 2.1z" fill="#0ef"/>
<path d="M389.6 303.9l2.2-1.9-2.1-.1-2.2 1.9z" fill="#0f3"/>
<path d="M471.2 267.1l2.1-1.3-2.4.2-2 1.2z" fill="#d00"/>
<path d="M417.5 290l2.2-1.7-2.2 0-2.1 1.7z" fill="#af0"/>
<path d="M366 317.3l2.2-2.1-2-.3-2.2 2.1z" fill="#0af"/>
<path d="M460.5 271.4l2.1-1.4-2.3.1-2.1 1.4z" fill="#e00"/>
<path d="M497.1 257.6l1.9-1.2-2.4.3-1.9 1.1z" fill="#a00"/>
<path d="M428.3 285.1l2.1-1.6-2.2 0-2.1 1.6z" fill="#fe0"/>
<path d="M449.8 275.8l2-1.4-2.2 0-2.1 1.5z" fill="#f40"/>
<path d="M439 280.4l2.1-1.5-2.2 0-2.1 1.5z" fill="#f90"/>
<path d="M400.3 298.6l2.2-1.8-2.1-.2-2.2 1.9z" fill="#2f0"/>
<path d="M383.1 307.7l2.2-2-2-.2-2.2 2z" fill="#0f8"/>
<path d="M359.5 321.3l2.2-2.1-2-.3-2.2 2.1z" fill="#05f"/>
<path d="M486.3 261.5l2-1.2-2.3.3-2 1.1z" fill="#b00"/>
<path d="M411.1 293.4l2.1-1.7-2.1-.1-2.2 1.7z" fill="#7f0"/>
<path d="M475.6 265.7l2-1.3-2.3.2-2 1.2z" fill="#c00"/>
<path d="M376.7 311.5l2.2-2-2-.2-2.3 2z" fill="#0fc"/>
<path d="M393.9 302.2l2.2-1.9-2.1-.1-2.2 1.8z" fill="#0f1"/>
<path d="M421.8 288.4l2.2-1.7-2.2 0-2.1 1.6z" fill="#cf0"/>
<path d="M464.9 269.9l2-1.3-2.3.1-2 1.3z" fill="#e00"/>
<path d="M432.6 283.6l2.1-1.6-2.2 0-2.1 1.5z" fill="#fc0"/>
<path d="M454.1 274.3l2.1-1.4-2.3.1-2.1 1.4z" fill="#f20"/>
<path d="M443.4 278.9l2-1.6-2.2.1-2.1 1.5z" fill="#f70"/>
<path d="M370.2 315.4l2.2-2.1-2-.2-2.2 2.1z" fill="#0cf"/>
<path d="M490.7 260.1l2-1.1-2.4.2-2 1.1z" fill="#a00"/>
<path d="M404.6 296.9l2.2-1.8-2.1-.1-2.2 1.8z" fill="#4f0"/>
<path d="M387.4 305.9l2.2-2-2.1-.1-2.2 1.9z" fill="#0f5"/>
<path d="M363.7 319.4l2.3-2.1-2-.3-2.3 2.2z" fill="#08f"/>
<path d="M480 264.2l2-1.2-2.4.2-2 1.2z" fill="#c00"/>
<path d="M415.4 291.8l2.1-1.8-2.1 0-2.2 1.7z" fill="#9f0"/>
<path d="M469.2 268.4l2-1.3-2.3.1-2 1.4z" fill="#d00"/>
<path d="M426.2 286.8l2.1-1.7-2.2 0-2.1 1.6z" fill="#ef0"/>
<path d="M380.9 309.7l2.2-2-2-.2-2.2 2z" fill="#0fa"/>
<path d="M398.2 300.5l2.1-1.9-2.1-.1-2.1 1.8z" fill="#1f0"/>
<path d="M458.5 272.8l2-1.4-2.3.1-2 1.4z" fill="#f00"/>
<path d="M436.9 282l2.1-1.6-2.2 0-2.1 1.6z" fill="#fa0"/>
<path d="M447.7 277.3l2.1-1.5-2.3.1-2.1 1.4z" fill="#f50"/>
<path d="M495.1 258.7l2-1.1-2.4.2-2 1.2z" fill="#a00"/>
<path d="M408.9 295.2l2.2-1.8-2.2-.1-2.1 1.8z" fill="#6f0"/>
<path d="M374.5 313.6l2.2-2.1-2.1-.2-2.2 2z" fill="#0fe"/>
<path d="M484.3 262.8l2-1.3-2.3.2-2 1.3z" fill="#b00"/>
<path d="M391.7 304.1l2.2-1.9-2.1-.2-2.2 1.9z" fill="#0f3"/>
<path d="M419.7 290.1l2.1-1.7-2.1-.1-2.2 1.7z" fill="#bf0"/>
<path d="M473.6 267l2-1.3-2.3.1-2.1 1.3z" fill="#d00"/>
<path d="M368 317.6l2.2-2.2-2-.2-2.2 2.1z" fill="#0af"/>
<path d="M430.5 285.2l2.1-1.6-2.2-.1-2.1 1.6z" fill="#fd0"/>
<path d="M462.8 271.3l2.1-1.4-2.3.1-2.1 1.4z" fill="#e00"/>
<path d="M441.3 280.4l2.1-1.5-2.3 0-2.1 1.5z" fill="#f80"/>
<path d="M452 275.8l2.1-1.5-2.3.1-2 1.4z" fill="#f30"/>
<path d="M402.5 298.8l2.1-1.9-2.1-.1-2.2 1.8z" fill="#3f0"/>
<path d="M385.2 307.9l2.2-2-2.1-.2-2.2 2z" fill="#0f7"/>
<path d="M361.5 321.6l2.2-2.2-2-.2-2.2 2.1z" fill="#05f"/>
<path d="M488.7 261.3l2-1.2-2.4.2-2 1.2z" fill="#b00"/>
<path d="M413.2 293.5l2.2-1.7-2.2-.1-2.1 1.7z" fill="#8f0"/>
<path d="M378.7 311.7l2.2-2-2-.2-2.2 2z" fill="#0fc"/>
<path d="M396 302.4l2.2-1.9-2.1-.2-2.2 1.9z" fill="#0f0"/>
<path d="M478 265.5l2-1.3-2.4.2-2 1.3z" fill="#c00"/>
<path d="M424 288.5l2.2-1.7-2.2-.1-2.2 1.7z" fill="#df0"/>
<path d="M467.2 269.8l2-1.4-2.3.2-2 1.3z" fill="#d00"/>
<path d="M434.8 283.6l2.1-1.6-2.2 0-2.1 1.6z" fill="#fb0"/>
<path d="M456.4 274.3l2.1-1.5-2.3.1-2.1 1.4z" fill="#f10"/>
<path d="M372.2 315.7l2.3-2.1-2.1-.3-2.2 2.1z" fill="#0df"/>
<path d="M445.6 278.8l2.1-1.5-2.3 0-2 1.6z" fill="#f60"/>
<path d="M406.8 297l2.1-1.8-2.1-.1-2.2 1.8z" fill="#5f0"/>
<path d="M389.5 306.1l2.2-2-2.1-.2-2.2 2z" fill="#0f5"/>
<path d="M493.1 259.9l2-1.2-2.4.3-2 1.1z" fill="#a00"/>
<path d="M365.8 319.7l2.2-2.1-2-.3-2.3 2.1z" fill="#08f"/>
<path d="M417.6 291.9l2.1-1.8-2.2-.1-2.1 1.8z" fill="#af0"/>
<path d="M482.3 264l2-1.2-2.3.2-2 1.2z" fill="#c00"/>
<path d="M383 309.9l2.2-2-2.1-.2-2.2 2z" fill="#0f9"/>
<path d="M428.3 286.9l2.2-1.7-2.2-.1-2.1 1.7z" fill="#ef0"/>
<path d="M400.3 300.6l2.2-1.8-2.2-.2-2.1 1.9z" fill="#1f0"/>
<path d="M471.5 268.3l2.1-1.3-2.4.1-2 1.3z" fill="#d00"/>
<path d="M439.2 282l2.1-1.6-2.3 0-2.1 1.6z" fill="#f90"/>
<path d="M460.8 272.7l2-1.4-2.3.1-2 1.4z" fill="#e00"/>
<path d="M450 277.3l2-1.5-2.2 0-2.1 1.5z" fill="#f40"/>
<path d="M376.5 313.8l2.2-2.1-2-.2-2.2 2.1z" fill="#0fe"/>
<path d="M411.1 295.3l2.1-1.8-2.1-.1-2.2 1.8z" fill="#6f0"/>
<path d="M393.8 304.3l2.2-1.9-2.1-.2-2.2 1.9z" fill="#0f2"/>
<path d="M486.7 262.6l2-1.3-2.4.2-2 1.3z" fill="#b00"/>
<path d="M421.9 290.2l2.1-1.7-2.2-.1-2.1 1.7z" fill="#bf0"/>
<path d="M370 317.8l2.2-2.1-2-.3-2.2 2.2z" fill="#0bf"/>
<path d="M475.9 266.8l2.1-1.3-2.4.2-2 1.3z" fill="#c00"/>
<path d="M432.7 285.2l2.1-1.6-2.2 0-2.1 1.6z" fill="#fd0"/>
<path d="M465.1 271.2l2.1-1.4-2.3.1-2.1 1.4z" fill="#e00"/>
<path d="M404.6 298.9l2.2-1.9-2.2-.1-2.1 1.9z" fill="#3f0"/>
<path d="M387.3 308.1l2.2-2-2.1-.2-2.2 2z" fill="#0f7"/>
<path d="M363.5 321.9l2.3-2.2-2.1-.3-2.2 2.2z" fill="#06f"/>
<path d="M443.5 280.4l2.1-1.6-2.2.1-2.1 1.5z" fill="#f70"/>
<path d="M454.3 275.7l2.1-1.4-2.3 0-2.1 1.5z" fill="#f20"/>
<path d="M415.4 293.7l2.2-1.8-2.2-.1-2.2 1.7z" fill="#8f0"/>
<path d="M380.8 312l2.2-2.1-2.1-.2-2.2 2z" fill="#0fb"/>
<path d="M491.1 261.1l2-1.2-2.4.2-2 1.2z" fill="#a00"/>
<path d="M398.1 302.6l2.2-2-2.1-.1-2.2 1.9z" fill="#0f0"/>
<path d="M426.2 288.6l2.1-1.7-2.1-.1-2.2 1.7z" fill="#df0"/>
<path d="M480.3 265.4l2-1.4-2.3.2-2 1.3z" fill="#c00"/>
<path d="M374.3 316l2.2-2.2-2-.2-2.3 2.1z" fill="#0df"/>
<path d="M437 283.6l2.2-1.6-2.3 0-2.1 1.6z" fill="#fb0"/>
<path d="M469.5 269.7l2-1.4-2.3.1-2 1.4z" fill="#d00"/>
<path d="M447.9 278.8l2.1-1.5-2.3 0-2.1 1.5z" fill="#f50"/>
<path d="M458.7 274.2l2.1-1.5-2.3.1-2.1 1.5z" fill="#f00"/>
<path d="M408.9 297.2l2.2-1.9-2.2-.1-2.1 1.8z" fill="#5f0"/>
<path d="M391.6 306.3l2.2-2-2.1-.2-2.2 2z" fill="#0f4"/>
<path d="M367.8 320l2.2-2.2-2-.2-2.2 2.1z" fill="#08f"/>
<path d="M419.7 292l2.2-1.8-2.2-.1-2.1 1.8z" fill="#af0"/>
<path d="M385.1 310.2l2.2-2.1-2.1-.2-2.2 2z" fill="#0f9"/>
<path d="M484.7 263.9l2-1.3-2.4.2-2 1.2z" fill="#b00"/>
<path d="M402.4 300.8l2.2-1.9-2.1-.1-2.2 1.8z" fill="#2f0"/>
<path d="M430.6 286.9l2.1-1.7-2.2 0-2.2 1.7z" fill="#fe0"/>
<path d="M473.9 268.2l2-1.4-2.3.2-2.1 1.3z" fill="#d00"/>
<path d="M441.4 282l2.1-1.6-2.2 0-2.1 1.6z" fill="#f90"/>
<path d="M463.1 272.7l2-1.5-2.3.1-2 1.4z" fill="#e00"/>
<path d="M452.2 277.3l2.1-1.6-2.3.1-2 1.5z" fill="#f40"/>
<path d="M378.6 314.1l2.2-2.1-2.1-.3-2.2 2.1z" fill="#0fd"/>
<path d="M413.2 295.5l2.2-1.8-2.2-.2-2.1 1.8z" fill="#7f0"/>
<path d="M395.9 304.5l2.2-1.9-2.1-.2-2.2 1.9z" fill="#0f2"/>
<path d="M372.1 318.1l2.2-2.1-2.1-.3-2.2 2.1z" fill="#0bf"/>
<path d="M424.1 290.3l2.1-1.7-2.2-.1-2.1 1.7z" fill="#cf0"/>
<path d="M489.1 262.4l2-1.3-2.4.2-2 1.3z" fill="#b00"/>
<path d="M434.9 285.3l2.1-1.7-2.2 0-2.1 1.6z" fill="#fc0"/>
<path d="M365.5 322.3l2.3-2.3-2-.3-2.3 2.2z" fill="#06f"/>
<path d="M478.3 266.7l2-1.3-2.3.1-2.1 1.3z" fill="#c00"/>
<path d="M389.4 308.4l2.2-2.1-2.1-.2-2.2 2z" fill="#0f6"/>
<path d="M406.7 299.1l2.2-1.9-2.1-.2-2.2 1.9z" fill="#4f0"/>
<path d="M445.8 280.4l2.1-1.6-2.3 0-2.1 1.6z" fill="#f70"/>
<path d="M467.5 271.1l2-1.4-2.3.1-2.1 1.4z" fill="#e00"/>
<path d="M456.6 275.7l2.1-1.5-2.3.1-2.1 1.4z" fill="#f20"/>
<path d="M417.6 293.8l2.1-1.8-2.1-.1-2.2 1.8z" fill="#9f0"/>
<path d="M382.9 312.3l2.2-2.1-2.1-.3-2.2 2.1z" fill="#0fb"/>
<path d="M400.2 302.8l2.2-2-2.1-.2-2.2 2z" fill="#0f0"/>
<path d="M428.4 288.7l2.2-1.8-2.3 0-2.1 1.7z" fill="#df0"/>
<path d="M376.3 316.3l2.3-2.2-2.1-.3-2.2 2.2z" fill="#0ef"/>
<path d="M482.7 265.2l2-1.3-2.4.1-2 1.4z" fill="#c00"/>
<path d="M439.3 283.7l2.1-1.7-2.2 0-2.2 1.6z" fill="#fa0"/>
<path d="M471.8 269.6l2.1-1.4-2.4.1-2 1.4z" fill="#d00"/>
<path d="M450.1 278.8l2.1-1.5-2.2 0-2.1 1.5z" fill="#f50"/>
<path d="M411.1 297.4l2.1-1.9-2.1-.2-2.2 1.9z" fill="#6f0"/>
<path d="M461 274.2l2.1-1.5-2.3 0-2.1 1.5z" fill="#f00"/>
<path d="M393.7 306.6l2.2-2.1-2.1-.2-2.2 2z" fill="#0f4"/>
<path d="M369.8 320.3l2.3-2.2-2.1-.3-2.2 2.2z" fill="#09f"/>
<path d="M421.9 292.1l2.2-1.8-2.2-.1-2.2 1.8z" fill="#af0"/>
<path d="M387.2 310.4l2.2-2-2.1-.3-2.2 2.1z" fill="#0f8"/>
<path d="M404.5 301l2.2-1.9-2.1-.2-2.2 1.9z" fill="#2f0"/>
<path d="M432.8 287l2.1-1.7-2.2-.1-2.1 1.7z" fill="#fe0"/>
<path d="M487.1 263.7l2-1.3-2.4.2-2 1.3z" fill="#b00"/>
<path d="M443.7 282.1l2.1-1.7-2.3 0-2.1 1.6z" fill="#f80"/>
<path d="M476.3 268.1l2-1.4-2.4.1-2 1.4z" fill="#d00"/>
<path d="M380.6 314.4l2.3-2.1-2.1-.3-2.2 2.1z" fill="#0fd"/>
<path d="M454.5 277.3l2.1-1.6-2.3 0-2.1 1.6z" fill="#f30"/>
<path d="M465.4 272.6l2.1-1.5-2.4.1-2 1.5z" fill="#e00"/>
<path d="M415.4 295.6l2.2-1.8-2.2-.1-2.2 1.8z" fill="#7f0"/>
<path d="M398 304.8l2.2-2-2.1-.2-2.2 1.9z" fill="#0f1"/>
<path d="M374.1 318.4l2.2-2.1-2-.3-2.2 2.1z" fill="#0bf"/>
<path d="M426.3 290.4l2.1-1.7-2.2-.1-2.1 1.7z" fill="#cf0"/>
<path d="M367.6 322.6l2.2-2.3-2-.3-2.3 2.3z" fill="#07f"/>
<path d="M391.5 308.6l2.2-2-2.1-.3-2.2 2.1z" fill="#0f6"/>
<path d="M437.2 285.4l2.1-1.7-2.3-.1-2.1 1.7z" fill="#fc0"/>
<path d="M408.9 299.3l2.2-1.9-2.2-.2-2.2 1.9z" fill="#4f0"/>
<path d="M480.7 266.6l2-1.4-2.4.2-2 1.3z" fill="#c00"/>
<path d="M448 280.5l2.1-1.7-2.2 0-2.1 1.6z" fill="#f60"/>
<path d="M469.8 271.1l2-1.5-2.3.1-2 1.4z" fill="#d00"/>
<path d="M458.9 275.7l2.1-1.5-2.3 0-2.1 1.5z" fill="#f10"/>
<path d="M385 312.5l2.2-2.1-2.1-.2-2.2 2.1z" fill="#0fa"/>
<path d="M419.8 293.9l2.1-1.8-2.2-.1-2.1 1.8z" fill="#9f0"/>
<path d="M402.4 303l2.1-2-2.1-.2-2.2 2z" fill="#0f0"/>
<path d="M430.6 288.8l2.2-1.8-2.2-.1-2.2 1.8z" fill="#ef0"/>
<path d="M378.4 316.6l2.2-2.2-2-.3-2.3 2.2z" fill="#0ef"/>
<path d="M441.5 283.7l2.2-1.6-2.3-.1-2.1 1.7z" fill="#fa0"/>
<path d="M485.1 265.1l2-1.4-2.4.2-2 1.3z" fill="#b00"/>
<path d="M413.2 297.5l2.2-1.9-2.2-.1-2.1 1.9z" fill="#6f0"/>
<path d="M395.8 306.8l2.2-2-2.1-.3-2.2 2.1z" fill="#0f3"/>
<path d="M371.9 320.7l2.2-2.3-2-.3-2.3 2.2z" fill="#09f"/>
<path d="M452.4 278.9l2.1-1.6-2.3 0-2.1 1.5z" fill="#f40"/>
<path d="M474.2 269.5l2.1-1.4-2.4.1-2.1 1.4z" fill="#d00"/>
<path d="M463.3 274.1l2.1-1.5-2.3.1-2.1 1.5z" fill="#e00"/>
<path d="M424.1 292.2l2.2-1.8-2.2-.1-2.2 1.8z" fill="#bf0"/>
<path d="M389.3 310.7l2.2-2.1-2.1-.2-2.2 2z" fill="#0f8"/>
<path d="M406.7 301.2l2.2-1.9-2.2-.2-2.2 1.9z" fill="#3f0"/>
<path d="M435 287.1l2.2-1.7-2.3-.1-2.1 1.7z" fill="#fd0"/>
<path d="M382.7 314.7l2.3-2.2-2.1-.2-2.3 2.1z" fill="#0fc"/>
<path d="M445.9 282.1l2.1-1.6-2.2-.1-2.1 1.7z" fill="#f80"/>
<path d="M478.6 268l2.1-1.4-2.4.1-2 1.4z" fill="#c00"/>
<path d="M456.8 277.3l2.1-1.6-2.3 0-2.1 1.6z" fill="#f20"/>
<path d="M467.7 272.6l2.1-1.5-2.3 0-2.1 1.5z" fill="#e00"/>
<path d="M417.6 295.8l2.2-1.9-2.2-.1-2.2 1.8z" fill="#8f0"/>
<path d="M400.2 305l2.2-2-2.2-.2-2.2 2z" fill="#0f1"/>
<path d="M376.2 318.8l2.2-2.2-2.1-.3-2.2 2.1z" fill="#0cf"/>
<path d="M428.5 290.5l2.1-1.7-2.2-.1-2.1 1.7z" fill="#df0"/>
<path d="M369.6 322.9l2.3-2.2-2.1-.4-2.2 2.3z" fill="#07f"/>
<path d="M393.6 308.9l2.2-2.1-2.1-.2-2.2 2z" fill="#0f5"/>
<path d="M411.1 299.5l2.1-2-2.1-.1-2.2 1.9z" fill="#5f0"/>
<path d="M439.4 285.4l2.1-1.7-2.2 0-2.1 1.7z" fill="#fb0"/>
<path d="M450.3 280.5l2.1-1.6-2.3-.1-2.1 1.7z" fill="#f60"/>
<path d="M483.1 266.5l2-1.4-2.4.1-2 1.4z" fill="#c00"/>
<path d="M461.2 275.7l2.1-1.6-2.3.1-2.1 1.5z" fill="#f00"/>
<path d="M472.1 271l2.1-1.5-2.4.1-2 1.5z" fill="#d00"/>
<path d="M387.1 312.8l2.2-2.1-2.1-.3-2.2 2.1z" fill="#0fa"/>
<path d="M422 294.1l2.1-1.9-2.2-.1-2.1 1.8z" fill="#af0"/>
<path d="M404.5 303.2l2.2-2-2.2-.2-2.1 2z" fill="#1f0"/>
<path d="M380.5 316.9l2.2-2.2-2.1-.3-2.2 2.2z" fill="#0ef"/>
<path d="M432.9 288.9l2.1-1.8-2.2-.1-2.2 1.8z" fill="#ef0"/>
<path d="M443.8 283.8l2.1-1.7-2.2 0-2.2 1.6z" fill="#f90"/>
<path d="M373.9 321l2.3-2.2-2.1-.4-2.2 2.3z" fill="#0af"/>
<path d="M398 307l2.2-2-2.2-.2-2.2 2z" fill="#0f3"/>
<path d="M415.4 297.7l2.2-1.9-2.2-.2-2.2 1.9z" fill="#6f0"/>
<path d="M454.7 278.9l2.1-1.6-2.3 0-2.1 1.6z" fill="#f40"/>
<path d="M476.6 269.4l2-1.4-2.3.1-2.1 1.4z" fill="#d00"/>
<path d="M465.7 274.1l2-1.5-2.3 0-2.1 1.5z" fill="#e00"/>
<path d="M426.3 292.4l2.2-1.9-2.2-.1-2.2 1.8z" fill="#bf0"/>
<path d="M391.4 311l2.2-2.1-2.1-.3-2.2 2.1z" fill="#0f7"/>
<path d="M408.9 301.4l2.2-1.9-2.2-.2-2.2 1.9z" fill="#3f0"/>
<path d="M437.3 287.2l2.1-1.8-2.2 0-2.2 1.7z" fill="#fd0"/>
<path d="M384.8 315l2.3-2.2-2.1-.3-2.3 2.2z" fill="#0fc"/>
<path d="M448.2 282.1l2.1-1.6-2.3 0-2.1 1.6z" fill="#f70"/>
<path d="M419.8 296l2.2-1.9-2.2-.2-2.2 1.9z" fill="#8f0"/>
<path d="M459.1 277.3l2.1-1.6-2.3 0-2.1 1.6z" fill="#f20"/>
<path d="M481 267.9l2.1-1.4-2.4.1-2.1 1.4z" fill="#c00"/>
<path d="M402.3 305.2l2.2-2-2.1-.2-2.2 2z" fill="#0f0"/>
<path d="M470.1 272.5l2-1.5-2.3.1-2.1 1.5z" fill="#e00"/>
<path d="M378.3 319.1l2.2-2.2-2.1-.3-2.2 2.2z" fill="#0cf"/>
<path d="M430.7 290.7l2.2-1.8-2.3-.1-2.1 1.7z" fill="#df0"/>
<path d="M371.7 323.3l2.2-2.3-2-.3-2.3 2.2z" fill="#07f"/>
<path d="M395.7 309.1l2.3-2.1-2.2-.2-2.2 2.1z" fill="#0f5"/>
<path d="M413.2 299.7l2.2-2-2.2-.2-2.1 2z" fill="#5f0"/>
<path d="M441.7 285.5l2.1-1.7-2.3-.1-2.1 1.7z" fill="#fb0"/>
<path d="M452.6 280.5l2.1-1.6-2.3 0-2.1 1.6z" fill="#f50"/>
<path d="M389.2 313.1l2.2-2.1-2.1-.3-2.2 2.1z" fill="#0f9"/>
<path d="M463.6 275.7l2.1-1.6-2.4 0-2.1 1.6z" fill="#f00"/>
<path d="M474.5 270.9l2.1-1.5-2.4.1-2.1 1.5z" fill="#d00"/>
<path d="M424.2 294.2l2.1-1.8-2.2-.2-2.1 1.9z" fill="#af0"/>
<path d="M406.7 303.4l2.2-2-2.2-.2-2.2 2z" fill="#1f0"/>
<path d="M382.6 317.2l2.2-2.2-2.1-.3-2.2 2.2z" fill="#0fe"/>
<path d="M435.1 289l2.2-1.8-2.3-.1-2.1 1.8z" fill="#fe0"/>
<path d="M376 321.4l2.3-2.3-2.1-.3-2.3 2.2z" fill="#0af"/>
<path d="M400.1 307.3l2.2-2.1-2.1-.2-2.2 2z" fill="#0f2"/>
<path d="M417.6 297.9l2.2-1.9-2.2-.2-2.2 1.9z" fill="#7f0"/>
<path d="M446.1 283.9l2.1-1.8-2.3 0-2.1 1.7z" fill="#f80"/>
<path d="M457 278.9l2.1-1.6-2.3 0-2.1 1.6z" fill="#f30"/>
<path d="M468 274.1l2.1-1.6-2.4.1-2 1.5z" fill="#e00"/>
<path d="M479 269.4l2-1.5-2.4.1-2 1.4z" fill="#c00"/>
<path d="M393.5 311.3l2.2-2.2-2.1-.2-2.2 2.1z" fill="#0f7"/>
<path d="M428.6 292.5l2.1-1.8-2.2-.2-2.2 1.9z" fill="#cf0"/>
<path d="M411 301.6l2.2-1.9-2.1-.2-2.2 1.9z" fill="#3f0"/>
<path d="M439.5 287.3l2.2-1.8-2.3-.1-2.1 1.8z" fill="#fc0"/>
<path d="M386.9 315.3l2.3-2.2-2.1-.3-2.3 2.2z" fill="#0fc"/>
<path d="M450.5 282.2l2.1-1.7-2.3 0-2.1 1.6z" fill="#f60"/>
<path d="M422 296.1l2.2-1.9-2.2-.1-2.2 1.9z" fill="#9f0"/>
<path d="M404.5 305.5l2.2-2.1-2.2-.2-2.2 2z" fill="#0f0"/>
<path d="M380.4 319.4l2.2-2.2-2.1-.3-2.2 2.2z" fill="#0df"/>
<path d="M461.5 277.3l2.1-1.6-2.4 0-2.1 1.6z" fill="#f10"/>
<path d="M472.4 272.5l2.1-1.6-2.4.1-2 1.5z" fill="#d00"/>
<path d="M373.8 323.7l2.2-2.3-2.1-.4-2.2 2.3z" fill="#08f"/>
<path d="M433 290.8l2.1-1.8-2.2-.1-2.2 1.8z" fill="#ef0"/>
<path d="M397.9 309.4l2.2-2.1-2.1-.3-2.3 2.1z" fill="#0f4"/>
<path d="M415.4 299.9l2.2-2-2.2-.2-2.2 2z" fill="#5f0"/>
<path d="M444 285.6l2.1-1.7-2.3-.1-2.1 1.7z" fill="#fa0"/>
<path d="M391.3 313.4l2.2-2.1-2.1-.3-2.2 2.1z" fill="#0f9"/>
<path d="M454.9 280.5l2.1-1.6-2.3 0-2.1 1.6z" fill="#f40"/>
<path d="M426.4 294.4l2.2-1.9-2.3-.1-2.1 1.8z" fill="#af0"/>
<path d="M465.9 275.6l2.1-1.5-2.3 0-2.1 1.6z" fill="#e00"/>
<path d="M476.9 270.9l2.1-1.5-2.4 0-2.1 1.5z" fill="#d00"/>
<path d="M408.8 303.7l2.2-2.1-2.1-.2-2.2 2z" fill="#2f0"/>
<path d="M384.7 317.5l2.2-2.2-2.1-.3-2.2 2.2z" fill="#0fe"/>
<path d="M437.4 289.1l2.1-1.8-2.2-.1-2.2 1.8z" fill="#fe0"/>
<path d="M378.1 321.7l2.3-2.3-2.1-.3-2.3 2.3z" fill="#0af"/>
<path d="M402.3 307.6l2.2-2.1-2.2-.3-2.2 2.1z" fill="#0f2"/>
<path d="M419.8 298.1l2.2-2-2.2-.1-2.2 1.9z" fill="#7f0"/>
<path d="M448.4 283.9l2.1-1.7-2.3-.1-2.1 1.8z" fill="#f80"/>
<path d="M459.4 278.9l2.1-1.6-2.4 0-2.1 1.6z" fill="#f20"/>
<path d="M395.7 311.5l2.2-2.1-2.2-.3-2.2 2.2z" fill="#0f6"/>
<path d="M470.4 274l2-1.5-2.3 0-2.1 1.6z" fill="#e00"/>
<path d="M430.8 292.7l2.2-1.9-2.3-.1-2.1 1.8z" fill="#cf0"/>
<path d="M413.2 301.9l2.2-2-2.2-.2-2.2 1.9z" fill="#4f0"/>
<path d="M389.1 315.6l2.2-2.2-2.1-.3-2.3 2.2z" fill="#0fb"/>
<path d="M441.8 287.4l2.2-1.8-2.3-.1-2.2 1.8z" fill="#fb0"/>
<path d="M382.5 319.8l2.2-2.3-2.1-.3-2.2 2.2z" fill="#0df"/>
<path d="M406.6 305.7l2.2-2-2.1-.3-2.2 2.1z" fill="#0f0"/>
<path d="M452.8 282.3l2.1-1.8-2.3 0-2.1 1.7z" fill="#f60"/>
<path d="M424.2 296.3l2.2-1.9-2.2-.2-2.2 1.9z" fill="#9f0"/>
<path d="M463.8 277.3l2.1-1.7-2.3.1-2.1 1.6z" fill="#f00"/>
<path d="M375.8 324.1l2.3-2.4-2.1-.3-2.2 2.3z" fill="#08f"/>
<path d="M474.8 272.4l2.1-1.5-2.4 0-2.1 1.6z" fill="#d00"/>
<path d="M435.2 290.9l2.2-1.8-2.3-.1-2.1 1.8z" fill="#ef0"/>
<path d="M400 309.7l2.3-2.1-2.2-.3-2.2 2.1z" fill="#0f4"/>
<path d="M417.6 300.1l2.2-2-2.2-.2-2.2 2z" fill="#6f0"/>
<path d="M446.2 285.7l2.2-1.8-2.3 0-2.1 1.7z" fill="#f90"/>
<path d="M393.4 313.7l2.3-2.2-2.2-.2-2.2 2.1z" fill="#0f9"/>
<path d="M457.3 280.6l2.1-1.7-2.4 0-2.1 1.6z" fill="#f40"/>
<path d="M428.6 294.6l2.2-1.9-2.2-.2-2.2 1.9z" fill="#bf0"/>
<path d="M411 303.9l2.2-2-2.2-.3-2.2 2.1z" fill="#2f0"/>
<path d="M468.3 275.6l2.1-1.6-2.4.1-2.1 1.5z" fill="#e00"/>
<path d="M386.8 317.9l2.3-2.3-2.2-.3-2.2 2.2z" fill="#0fd"/>
<path d="M380.2 322.1l2.3-2.3-2.1-.4-2.3 2.3z" fill="#0bf"/>
<path d="M439.7 289.2l2.1-1.8-2.3-.1-2.1 1.8z" fill="#fd0"/>
<path d="M404.4 307.8l2.2-2.1-2.1-.2-2.2 2.1z" fill="#0f1"/>
<path d="M422 298.3l2.2-2-2.2-.2-2.2 2z" fill="#8f0"/>
<path d="M450.7 284l2.1-1.7-2.3-.1-2.1 1.7z" fill="#f70"/>
<path d="M461.7 278.9l2.1-1.6-2.3 0-2.1 1.6z" fill="#f20"/>
<path d="M397.8 311.9l2.2-2.2-2.1-.3-2.2 2.1z" fill="#0f6"/>
<path d="M472.8 274l2-1.6-2.4.1-2 1.5z" fill="#e00"/>
<path d="M433.1 292.8l2.1-1.9-2.2-.1-2.2 1.9z" fill="#df0"/>
<path d="M415.4 302.1l2.2-2-2.2-.2-2.2 2z" fill="#4f0"/>
<path d="M391.2 316l2.2-2.3-2.1-.3-2.2 2.2z" fill="#0fb"/>
<path d="M444.1 287.5l2.1-1.8-2.2-.1-2.2 1.8z" fill="#fb0"/>
<path d="M384.6 320.2l2.2-2.3-2.1-.4-2.2 2.3z" fill="#0df"/>
<path d="M408.8 306l2.2-2.1-2.2-.2-2.2 2z" fill="#0f0"/>
<path d="M426.5 296.5l2.1-1.9-2.2-.2-2.2 1.9z" fill="#9f0"/>
<path d="M455.1 282.3l2.2-1.7-2.4-.1-2.1 1.8z" fill="#f50"/>
<path d="M377.9 324.4l2.3-2.3-2.1-.4-2.3 2.4z" fill="#08f"/>
<path d="M466.2 277.3l2.1-1.7-2.4 0-2.1 1.7z" fill="#f00"/>
<path d="M402.2 310l2.2-2.2-2.1-.2-2.3 2.1z" fill="#0f3"/>
<path d="M437.5 291.1l2.2-1.9-2.3-.1-2.2 1.8z" fill="#ef0"/>
<path d="M419.9 300.3l2.1-2-2.2-.2-2.2 2z" fill="#6f0"/>
<path d="M395.6 314.1l2.2-2.2-2.1-.4-2.3 2.2z" fill="#0f8"/>
<path d="M448.6 285.8l2.1-1.8-2.3-.1-2.2 1.8z" fill="#f90"/>
<path d="M459.6 280.6l2.1-1.7-2.3 0-2.1 1.7z" fill="#f30"/>
<path d="M430.9 294.7l2.2-1.9-2.3-.1-2.2 1.9z" fill="#bf0"/>
<path d="M413.2 304.2l2.2-2.1-2.2-.2-2.2 2z" fill="#3f0"/>
<path d="M388.9 318.2l2.3-2.2-2.1-.4-2.3 2.3z" fill="#0fd"/>
<path d="M470.7 275.6l2.1-1.6-2.4 0-2.1 1.6z" fill="#e00"/>
<path d="M382.3 322.5l2.3-2.3-2.1-.4-2.3 2.3z" fill="#0bf"/>
<path d="M442 289.3l2.1-1.8-2.3-.1-2.1 1.8z" fill="#fd0"/>
<path d="M406.6 308.1l2.2-2.1-2.2-.3-2.2 2.1z" fill="#0f1"/>
<path d="M424.3 298.5l2.2-2-2.3-.2-2.2 2z" fill="#8f0"/>
<path d="M453 284.1l2.1-1.8-2.3 0-2.1 1.7z" fill="#f70"/>
<path d="M400 312.2l2.2-2.2-2.2-.3-2.2 2.2z" fill="#0f6"/>
<path d="M464.1 279l2.1-1.7-2.4 0-2.1 1.6z" fill="#f10"/>
<path d="M435.3 293l2.2-1.9-2.3-.2-2.1 1.9z" fill="#df0"/>
<path d="M417.7 302.3l2.2-2-2.3-.2-2.2 2z" fill="#5f0"/>
<path d="M393.3 316.3l2.3-2.2-2.2-.4-2.2 2.3z" fill="#0fa"/>
<path d="M446.4 287.6l2.2-1.8-2.4-.1-2.1 1.8z" fill="#fa0"/>
<path d="M386.7 320.5l2.2-2.3-2.1-.3-2.2 2.3z" fill="#0ef"/>
<path d="M411 306.3l2.2-2.1-2.2-.3-2.2 2.1z" fill="#1f0"/>
<path d="M428.7 296.7l2.2-2-2.3-.1-2.1 1.9z" fill="#af0"/>
<path d="M457.5 282.4l2.1-1.8-2.3 0-2.2 1.7z" fill="#f50"/>
<path d="M380.1 324.9l2.2-2.4-2.1-.4-2.3 2.3z" fill="#09f"/>
<path d="M468.6 277.3l2.1-1.7-2.4 0-2.1 1.7z" fill="#e00"/>
<path d="M404.4 310.3l2.2-2.2-2.2-.3-2.2 2.2z" fill="#0f3"/>
<path d="M439.8 291.2l2.2-1.9-2.3-.1-2.2 1.9z" fill="#fe0"/>
<path d="M422.1 300.5l2.2-2-2.3-.2-2.1 2z" fill="#6f0"/>
<path d="M397.7 314.4l2.3-2.2-2.2-.3-2.2 2.2z" fill="#0f8"/>
<path d="M450.9 285.9l2.1-1.8-2.3-.1-2.1 1.8z" fill="#f80"/>
<path d="M391.1 318.6l2.2-2.3-2.1-.3-2.3 2.2z" fill="#0fd"/>
<path d="M415.4 304.4l2.3-2.1-2.3-.2-2.2 2.1z" fill="#3f0"/>
<path d="M433.2 294.9l2.1-1.9-2.2-.2-2.2 1.9z" fill="#cf0"/>
<path d="M462 280.7l2.1-1.7-2.4-.1-2.1 1.7z" fill="#f30"/>
<path d="M384.4 322.9l2.3-2.4-2.1-.3-2.3 2.3z" fill="#0bf"/>
<path d="M408.8 308.4l2.2-2.1-2.2-.3-2.2 2.1z" fill="#0f0"/>
<path d="M444.3 289.5l2.1-1.9-2.3-.1-2.1 1.8z" fill="#fc0"/>
<path d="M426.5 298.7l2.2-2-2.2-.2-2.2 2z" fill="#8f0"/>
<path d="M455.4 284.2l2.1-1.8-2.4-.1-2.1 1.8z" fill="#f60"/>
<path d="M402.2 312.5l2.2-2.2-2.2-.3-2.2 2.2z" fill="#0f5"/>
<path d="M466.5 279l2.1-1.7-2.4 0-2.1 1.7z" fill="#f10"/>
<path d="M437.6 293.2l2.2-2-2.3-.1-2.2 1.9z" fill="#df0"/>
<path d="M419.9 302.6l2.2-2.1-2.2-.2-2.2 2z" fill="#5f0"/>
<path d="M395.5 316.7l2.2-2.3-2.1-.3-2.3 2.2z" fill="#0fa"/>
<path d="M388.8 320.9l2.3-2.3-2.2-.4-2.2 2.3z" fill="#0ef"/>
<path d="M448.7 287.7l2.2-1.8-2.3-.1-2.2 1.8z" fill="#fa0"/>
<path d="M413.2 306.6l2.2-2.2-2.2-.2-2.2 2.1z" fill="#1f0"/>
<path d="M431 296.9l2.2-2-2.3-.2-2.2 2z" fill="#af0"/>
<path d="M382.2 325.3l2.2-2.4-2.1-.4-2.2 2.4z" fill="#09f"/>
<path d="M459.8 282.5l2.2-1.8-2.4-.1-2.1 1.8z" fill="#f40"/>
<path d="M406.6 310.6l2.2-2.2-2.2-.3-2.2 2.2z" fill="#0f3"/>
<path d="M442.1 291.4l2.2-1.9-2.3-.2-2.2 1.9z" fill="#fe0"/>
<path d="M424.3 300.8l2.2-2.1-2.2-.2-2.2 2z" fill="#7f0"/>
<path d="M399.9 314.8l2.3-2.3-2.2-.3-2.3 2.2z" fill="#0f7"/>
<path d="M453.2 286l2.2-1.8-2.4-.1-2.1 1.8z" fill="#f80"/>
<path d="M393.2 319l2.3-2.3-2.2-.4-2.2 2.3z" fill="#0fc"/>
<path d="M417.7 304.7l2.2-2.1-2.2-.3-2.3 2.1z" fill="#3f0"/>
<path d="M435.4 295.1l2.2-1.9-2.3-.2-2.1 1.9z" fill="#cf0"/>
<path d="M464.3 280.8l2.2-1.8-2.4 0-2.1 1.7z" fill="#f20"/>
<path d="M386.6 323.3l2.2-2.4-2.1-.4-2.3 2.4z" fill="#0cf"/>
<path d="M411 308.7l2.2-2.1-2.2-.3-2.2 2.1z" fill="#0f0"/>
<path d="M446.6 289.6l2.1-1.9-2.3-.1-2.1 1.9z" fill="#fc0"/>
<path d="M428.8 299l2.2-2.1-2.3-.2-2.2 2z" fill="#9f0"/>
<path d="M404.3 312.8l2.3-2.2-2.2-.3-2.2 2.2z" fill="#0f5"/>
<path d="M457.7 284.3l2.1-1.8-2.3-.1-2.1 1.8z" fill="#f60"/>
<path d="M422.1 302.9l2.2-2.1-2.2-.3-2.2 2.1z" fill="#5f0"/>
<path d="M439.9 293.3l2.2-1.9-2.3-.2-2.2 2z" fill="#ef0"/>
<path d="M397.7 317l2.2-2.2-2.2-.4-2.2 2.3z" fill="#0fa"/>
<path d="M391 321.3l2.2-2.3-2.1-.4-2.3 2.3z" fill="#0ef"/>
<path d="M451.1 287.9l2.1-1.9-2.3-.1-2.2 1.8z" fill="#f90"/>
<path d="M415.5 306.9l2.2-2.2-2.3-.3-2.2 2.2z" fill="#2f0"/>
<path d="M384.3 325.7l2.3-2.4-2.2-.4-2.2 2.4z" fill="#09f"/>
<path d="M433.3 297.1l2.1-2-2.2-.2-2.2 2z" fill="#af0"/>
<path d="M462.2 282.6l2.1-1.8-2.3-.1-2.2 1.8z" fill="#f40"/>
<path d="M408.8 310.9l2.2-2.2-2.2-.3-2.2 2.2z" fill="#0f2"/>
<path d="M444.4 291.6l2.2-2-2.3-.1-2.2 1.9z" fill="#fd0"/>
<path d="M426.6 301l2.2-2-2.3-.3-2.2 2.1z" fill="#7f0"/>
<path d="M402.1 315.1l2.2-2.3-2.1-.3-2.3 2.3z" fill="#0f7"/>
<path d="M455.6 286.1l2.1-1.8-2.3-.1-2.2 1.8z" fill="#f70"/>
<path d="M395.4 319.4l2.3-2.4-2.2-.3-2.3 2.3z" fill="#0fc"/>
<path d="M419.9 305l2.2-2.1-2.2-.3-2.2 2.1z" fill="#4f0"/>
<path d="M437.7 295.3l2.2-2-2.3-.1-2.2 1.9z" fill="#cf0"/>
<path d="M388.7 323.7l2.3-2.4-2.2-.4-2.2 2.4z" fill="#0cf"/>
<path d="M413.2 309l2.3-2.1-2.3-.3-2.2 2.1z" fill="#0f0"/>
<path d="M448.9 289.8l2.2-1.9-2.4-.2-2.1 1.9z" fill="#fb0"/>
<path d="M431.1 299.2l2.2-2.1-2.3-.2-2.2 2.1z" fill="#9f0"/>
<path d="M406.5 313.2l2.3-2.3-2.2-.3-2.3 2.2z" fill="#0f4"/>
<path d="M460.1 284.4l2.1-1.8-2.4-.1-2.1 1.8z" fill="#f50"/>
<path d="M399.9 317.4l2.2-2.3-2.2-.3-2.2 2.2z" fill="#0f9"/>
<path d="M424.4 303.1l2.2-2.1-2.3-.2-2.2 2.1z" fill="#6f0"/>
<path d="M442.2 293.5l2.2-1.9-2.3-.2-2.2 1.9z" fill="#ef0"/>
<path d="M393.2 321.7l2.2-2.3-2.2-.4-2.2 2.3z" fill="#0fe"/>
<path d="M417.7 307.2l2.2-2.2-2.2-.3-2.2 2.2z" fill="#2f0"/>
<path d="M386.5 326.1l2.2-2.4-2.1-.4-2.3 2.4z" fill="#0af"/>
<path d="M453.4 288l2.2-1.9-2.4-.1-2.1 1.9z" fill="#f90"/>
<path d="M435.6 297.4l2.1-2.1-2.3-.2-2.1 2z" fill="#bf0"/>
<path d="M411 311.3l2.2-2.3-2.2-.3-2.2 2.2z" fill="#0f2"/>
<path d="M428.9 301.3l2.2-2.1-2.3-.2-2.2 2z" fill="#7f0"/>
<path d="M446.7 291.7l2.2-1.9-2.3-.2-2.2 2z" fill="#fd0"/>
<path d="M404.3 315.5l2.2-2.3-2.2-.4-2.2 2.3z" fill="#0f7"/>
<path d="M397.6 319.8l2.3-2.4-2.2-.4-2.3 2.4z" fill="#0fc"/>
<path d="M457.9 286.3l2.2-1.9-2.4-.1-2.1 1.8z" fill="#f70"/>
<path d="M422.2 305.3l2.2-2.2-2.3-.2-2.2 2.1z" fill="#4f0"/>
<path d="M390.9 324.1l2.3-2.4-2.2-.4-2.3 2.4z" fill="#0cf"/>
<path d="M440.1 295.6l2.1-2.1-2.3-.2-2.2 2z" fill="#df0"/>
<path d="M415.5 309.4l2.2-2.2-2.2-.3-2.3 2.1z" fill="#0f0"/>
<path d="M451.2 290l2.2-2-2.3-.1-2.2 1.9z" fill="#fb0"/>
<path d="M433.4 299.4l2.2-2-2.3-.3-2.2 2.1z" fill="#9f0"/>
<path d="M408.8 313.6l2.2-2.3-2.2-.4-2.3 2.3z" fill="#0f4"/>
<path d="M402.1 317.8l2.2-2.3-2.2-.4-2.2 2.3z" fill="#0f9"/>
<path d="M426.7 303.4l2.2-2.1-2.3-.3-2.2 2.1z" fill="#6f0"/>
<path d="M444.6 293.7l2.1-2-2.3-.1-2.2 1.9z" fill="#ff0"/>
<path d="M395.3 322.2l2.3-2.4-2.2-.4-2.2 2.3z" fill="#0fe"/>
<path d="M388.6 326.6l2.3-2.5-2.2-.4-2.2 2.4z" fill="#0af"/>
<path d="M419.9 307.5l2.3-2.2-2.3-.3-2.2 2.2z" fill="#2f0"/>
<path d="M455.8 288.2l2.1-1.9-2.3-.2-2.2 1.9z" fill="#f80"/>
<path d="M437.9 297.6l2.2-2-2.4-.3-2.1 2.1z" fill="#bf0"/>
<path d="M413.2 311.6l2.3-2.2-2.3-.4-2.2 2.3z" fill="#0f1"/>
<path d="M431.2 301.6l2.2-2.2-2.3-.2-2.2 2.1z" fill="#8f0"/>
<path d="M406.5 315.9l2.3-2.3-2.3-.4-2.2 2.3z" fill="#0f6"/>
<path d="M449.1 291.9l2.1-1.9-2.3-.2-2.2 1.9z" fill="#fc0"/>
<path d="M399.8 320.2l2.3-2.4-2.2-.4-2.3 2.4z" fill="#0fb"/>
<path d="M424.4 305.6l2.3-2.2-2.3-.3-2.2 2.2z" fill="#4f0"/>
<path d="M393.1 324.6l2.2-2.4-2.1-.5-2.3 2.4z" fill="#0df"/>
<path d="M442.4 295.8l2.2-2.1-2.4-.2-2.1 2.1z" fill="#df0"/>
<path d="M417.7 309.7l2.2-2.2-2.2-.3-2.2 2.2z" fill="#0f0"/>
<path d="M453.6 290.1l2.2-1.9-2.4-.2-2.2 2z" fill="#fa0"/>
<path d="M435.7 299.7l2.2-2.1-2.3-.2-2.2 2z" fill="#af0"/>
<path d="M411 313.9l2.2-2.3-2.2-.3-2.2 2.3z" fill="#0f4"/>
<path d="M404.3 318.2l2.2-2.3-2.2-.4-2.2 2.3z" fill="#0f9"/>
<path d="M428.9 303.7l2.3-2.1-2.3-.3-2.2 2.1z" fill="#6f0"/>
<path d="M446.9 293.9l2.2-2-2.4-.2-2.1 2z" fill="#fe0"/>
<path d="M397.5 322.6l2.3-2.4-2.2-.4-2.3 2.4z" fill="#0fe"/>
<path d="M390.8 327.1l2.3-2.5-2.2-.5-2.3 2.5z" fill="#0af"/>
<path d="M422.2 307.8l2.2-2.2-2.2-.3-2.3 2.2z" fill="#3f0"/>
<path d="M440.2 297.9l2.2-2.1-2.3-.2-2.2 2z" fill="#cf0"/>
<path d="M415.5 312l2.2-2.3-2.2-.3-2.3 2.2z" fill="#0f1"/>
<path d="M408.7 316.3l2.3-2.4-2.2-.3-2.3 2.3z" fill="#0f6"/>
<path d="M433.5 301.8l2.2-2.1-2.3-.3-2.2 2.2z" fill="#8f0"/>
<path d="M451.4 292.1l2.2-2-2.4-.1-2.1 1.9z" fill="#fc0"/>
<path d="M402 320.6l2.3-2.4-2.2-.4-2.3 2.4z" fill="#0fb"/>
<path d="M426.7 305.9l2.2-2.2-2.2-.3-2.3 2.2z" fill="#5f0"/>
<path d="M395.3 325.1l2.2-2.5-2.2-.4-2.2 2.4z" fill="#0df"/>
<path d="M444.7 296l2.2-2.1-2.3-.2-2.2 2.1z" fill="#df0"/>
<path d="M420 310.1l2.2-2.3-2.3-.3-2.2 2.2z" fill="#1f0"/>
<path d="M438 300l2.2-2.1-2.3-.3-2.2 2.1z" fill="#af0"/>
<path d="M413.2 314.3l2.3-2.3-2.3-.4-2.2 2.3z" fill="#0f3"/>
<path d="M406.5 318.6l2.2-2.3-2.2-.4-2.2 2.3z" fill="#0f8"/>
<path d="M431.2 304l2.3-2.2-2.3-.2-2.3 2.1z" fill="#6f0"/>
<path d="M399.7 323l2.3-2.4-2.2-.4-2.3 2.4z" fill="#0fe"/>
<path d="M449.2 294.2l2.2-2.1-2.3-.2-2.2 2z" fill="#fe0"/>
<path d="M393 327.6l2.3-2.5-2.2-.5-2.3 2.5z" fill="#0af"/>
<path d="M424.5 308.1l2.2-2.2-2.3-.3-2.2 2.2z" fill="#3f0"/>
<path d="M442.5 298.1l2.2-2.1-2.3-.2-2.2 2.1z" fill="#cf0"/>
<path d="M417.7 312.4l2.3-2.3-2.3-.4-2.2 2.3z" fill="#0f1"/>
<path d="M411 316.7l2.2-2.4-2.2-.4-2.3 2.4z" fill="#0f6"/>
<path d="M435.8 302.1l2.2-2.1-2.3-.3-2.2 2.1z" fill="#8f0"/>
<path d="M404.2 321.1l2.3-2.5-2.2-.4-2.3 2.4z" fill="#0fb"/>
<path d="M397.5 325.5l2.2-2.5-2.2-.4-2.2 2.5z" fill="#0df"/>
<path d="M429 306.2l2.2-2.2-2.3-.3-2.2 2.2z" fill="#5f0"/>
<path d="M447.1 296.2l2.1-2-2.3-.3-2.2 2.1z" fill="#ef0"/>
<path d="M422.3 310.4l2.2-2.3-2.3-.3-2.2 2.3z" fill="#1f0"/>
<path d="M415.5 314.7l2.2-2.3-2.2-.4-2.3 2.3z" fill="#0f3"/>
<path d="M440.3 300.2l2.2-2.1-2.3-.2-2.2 2.1z" fill="#af0"/>
<path d="M408.7 319.1l2.3-2.4-2.3-.4-2.2 2.3z" fill="#0f8"/>
<path d="M433.5 304.3l2.3-2.2-2.3-.3-2.3 2.2z" fill="#7f0"/>
<path d="M401.9 323.5l2.3-2.4-2.2-.5-2.3 2.4z" fill="#0fd"/>
<path d="M395.2 328l2.3-2.5-2.2-.4-2.3 2.5z" fill="#0bf"/>
<path d="M426.8 308.5l2.2-2.3-2.3-.3-2.2 2.2z" fill="#3f0"/>
<path d="M444.9 298.4l2.2-2.2-2.4-.2-2.2 2.1z" fill="#cf0"/>
<path d="M420 312.7l2.3-2.3-2.3-.3-2.3 2.3z" fill="#0f0"/>
<path d="M413.2 317.1l2.3-2.4-2.3-.4-2.2 2.4z" fill="#0f5"/>
<path d="M438.1 302.4l2.2-2.2-2.3-.2-2.2 2.1z" fill="#9f0"/>
<path d="M406.5 321.5l2.2-2.4-2.2-.5-2.3 2.5z" fill="#0fb"/>
<path d="M399.7 326l2.2-2.5-2.2-.5-2.2 2.5z" fill="#0df"/>
<path d="M431.3 306.6l2.2-2.3-2.3-.3-2.2 2.2z" fill="#5f0"/>
<path d="M424.5 310.8l2.3-2.3-2.3-.4-2.2 2.3z" fill="#1f0"/>
<path d="M417.8 315.1l2.2-2.4-2.3-.3-2.2 2.3z" fill="#0f3"/>
<path d="M442.7 300.5l2.2-2.1-2.4-.3-2.2 2.1z" fill="#bf0"/>
<path d="M411 319.5l2.2-2.4-2.2-.4-2.3 2.4z" fill="#0f8"/>
<path d="M404.2 324l2.3-2.5-2.3-.4-2.3 2.4z" fill="#0fd"/>
<path d="M435.9 304.6l2.2-2.2-2.3-.3-2.3 2.2z" fill="#7f0"/>
<path d="M397.4 328.6l2.3-2.6-2.2-.5-2.3 2.5z" fill="#0bf"/>
<path d="M429.1 308.9l2.2-2.3-2.3-.4-2.2 2.3z" fill="#3f0"/>
<path d="M422.3 313.1l2.2-2.3-2.2-.4-2.3 2.3z" fill="#0f0"/>
<path d="M415.5 317.5l2.3-2.4-2.3-.4-2.3 2.4z" fill="#0f5"/>
<path d="M440.4 302.7l2.3-2.2-2.4-.3-2.2 2.2z" fill="#9f0"/>
<path d="M408.7 322l2.3-2.5-2.3-.4-2.2 2.4z" fill="#0fa"/>
<path d="M401.9 326.5l2.3-2.5-2.3-.5-2.2 2.5z" fill="#0ef"/>
<path d="M433.6 306.9l2.3-2.3-2.4-.3-2.2 2.3z" fill="#5f0"/>
<path d="M426.8 311.2l2.3-2.3-2.3-.4-2.3 2.3z" fill="#2f0"/>
<path d="M420 315.5l2.3-2.4-2.3-.4-2.2 2.4z" fill="#0f2"/>
<path d="M413.2 320l2.3-2.5-2.3-.4-2.2 2.4z" fill="#0f8"/>
<path d="M406.4 324.5l2.3-2.5-2.2-.5-2.3 2.5z" fill="#0fd"/>
<path d="M438.2 305l2.2-2.3-2.3-.3-2.2 2.2z" fill="#7f0"/>
<path d="M399.6 329.1l2.3-2.6-2.2-.5-2.3 2.6z" fill="#0bf"/>
<path d="M431.4 309.2l2.2-2.3-2.3-.3-2.2 2.3z" fill="#4f0"/>
<path d="M424.6 313.5l2.2-2.3-2.3-.4-2.2 2.3z" fill="#0f0"/>
<path d="M417.8 318l2.2-2.5-2.2-.4-2.3 2.4z" fill="#0f5"/>
<path d="M411 322.4l2.2-2.4-2.2-.5-2.3 2.5z" fill="#0fa"/>
<path d="M404.1 327l2.3-2.5-2.2-.5-2.3 2.5z" fill="#0ef"/>
<path d="M436 307.3l2.2-2.3-2.3-.4-2.3 2.3z" fill="#6f0"/>
<path d="M429.2 311.6l2.2-2.4-2.3-.3-2.3 2.3z" fill="#2f0"/>
<path d="M422.3 316l2.3-2.5-2.3-.4-2.3 2.4z" fill="#0f2"/>
<path d="M415.5 320.4l2.3-2.4-2.3-.5-2.3 2.5z" fill="#0f7"/>
<path d="M408.7 325l2.3-2.6-2.3-.4-2.3 2.5z" fill="#0fd"/>
<path d="M401.8 329.6l2.3-2.6-2.2-.5-2.3 2.6z" fill="#0bf"/>
<path d="M433.7 309.6l2.3-2.3-2.4-.4-2.2 2.3z" fill="#4f0"/>
<path d="M426.9 314l2.3-2.4-2.4-.4-2.2 2.3z" fill="#0f0"/>
<path d="M420.1 318.4l2.2-2.4-2.3-.5-2.2 2.5z" fill="#0f5"/>
<path d="M413.2 322.9l2.3-2.5-2.3-.4-2.2 2.4z" fill="#0fa"/>
<path d="M406.4 327.5l2.3-2.5-2.3-.5-2.3 2.5z" fill="#0ef"/>
<path d="M431.5 312l2.2-2.4-2.3-.4-2.2 2.4z" fill="#2f0"/>
<path d="M424.6 316.4l2.3-2.4-2.3-.5-2.3 2.5z" fill="#0f2"/>
<path d="M417.8 320.9l2.3-2.5-2.3-.4-2.3 2.4z" fill="#0f7"/>
<path d="M411 325.5l2.2-2.6-2.2-.5-2.3 2.6z" fill="#0fc"/>
<path d="M404.1 330.1l2.3-2.6-2.3-.5-2.3 2.6z" fill="#0bf"/>
<path d="M429.2 314.4l2.3-2.4-2.3-.4-2.3 2.4z" fill="#0f0"/>
<path d="M422.4 318.9l2.2-2.5-2.3-.4-2.2 2.4z" fill="#0f4"/>
<path d="M415.5 323.4l2.3-2.5-2.3-.5-2.3 2.5z" fill="#0fa"/>
<path d="M408.7 328.1l2.3-2.6-2.3-.5-2.3 2.5z" fill="#0ef"/>
<path d="M427 316.8l2.2-2.4-2.3-.4-2.3 2.4z" fill="#0f2"/>
<path d="M420.1 321.4l2.3-2.5-2.3-.5-2.3 2.5z" fill="#0f7"/>
<path d="M413.2 326l2.3-2.6-2.3-.5-2.2 2.6z" fill="#0fc"/>
<path d="M406.4 330.7l2.3-2.6-2.3-.6-2.3 2.6z" fill="#0cf"/>
<path d="M424.7 319.3l2.3-2.5-2.4-.4-2.2 2.5z" fill="#0f4"/>
<path d="M417.8 323.9l2.3-2.5-2.3-.5-2.3 2.5z" fill="#0f9"/>
<path d="M410.9 328.6l2.3-2.6-2.2-.5-2.3 2.6z" fill="#0ef"/>
<path d="M422.4 321.9l2.3-2.6-2.3-.4-2.3 2.5z" fill="#0f7"/>
<path d="M415.5 326.5l2.3-2.6-2.3-.5-2.3 2.6z" fill="#0fc"/>
<path d="M408.6 331.3l2.3-2.7-2.2-.5-2.3 2.6z" fill="#0cf"/>
<path d="M420.1 324.5l2.3-2.6-2.3-.5-2.3 2.5z" fill="#0f9"/>
<path d="M413.2 329.2l2.3-2.7-2.3-.5-2.3 2.6z" fill="#0ff"/>
<path d="M417.8 327.1l2.3-2.6-2.3-.6-2.3 2.6z" fill="#0fc"/>
<path d="M410.9 331.9l2.3-2.7-2.3-.6-2.3 2.7z" fill="#0cf"/>
<path d="M415.5 329.8l2.3-2.7-2.3-.6-2.3 2.7z" fill="#0fe"/>
<path d="M413.2 332.5l2.3-2.7-2.3-.6-2.3 2.7z" fill="#0cf"/>
</g>
<circle cx="413.2" cy="277.8" r="1.6" fill="#f6cfcf" fill-opacity="0.75" stroke="#d98c8c" stroke-width="0.5"/>
<defs><linearGradient id="lg" x1="0" y1="0" x2="0" y2="1"><stop offset="0" stop-color="#e00000"/><stop offset="0.08" stop-color="#e00000"/><stop offset="0.5" stop-color="#00d800"/><stop offset="0.92" stop-color="#0000d8"/><stop offset="1" stop-color="#0000d8"/></linearGradient></defs>
<g fill="#2a2a2a" stroke="#2a2a2a" stroke-width="0.12">
<text x="3.3" y="9.5" font-size="5.56" textLength="57.1" lengthAdjust="spacingAndGlyphs">Design-Expert® Software</text>
<text x="3.3" y="22.6" font-size="5.48" textLength="26.3" lengthAdjust="spacingAndGlyphs">particle size</text>
<text x="3.3" y="57.5" font-size="5.52" textLength="60.4" lengthAdjust="spacingAndGlyphs">X1 = A: polymer-linker ratio</text>
<text x="3.3" y="64.3" font-size="5.54" textLength="69.6" lengthAdjust="spacingAndGlyphs">X2 = B: Homogenization speed</text>
<text x="3.3" y="77.9" font-size="5.49" textLength="31.9" lengthAdjust="spacingAndGlyphs">Actual Factors</text>
<text x="3.3" y="84.8" font-size="5.51" textLength="64.7" lengthAdjust="spacingAndGlyphs">C: Homogenization time = 12</text>
<text x="3.3" y="91.9" font-size="5.60" textLength="33.7" lengthAdjust="spacingAndGlyphs">D: PVA% = 0.4</text>
<rect x="4.2" y="25.0" width="3.9" height="20.3" fill="url(#lg)"/>
<text x="9.9" y="30.0" font-size="6.00" textLength="9.1" lengthAdjust="spacingAndGlyphs" fill="#e8202a" stroke="#e8202a">430</text>
<text x="9.9" y="44.0" font-size="6.00" textLength="9.1" lengthAdjust="spacingAndGlyphs" fill="#2a2ae0" stroke="#2a2ae0">375</text>
<text x="369.3" y="10.5" font-size="5.19" textLength="53.3" lengthAdjust="spacingAndGlyphs">Design-Expert® Software</text>
<text x="369.3" y="24.4" font-size="5.18" textLength="41.1" lengthAdjust="spacingAndGlyphs">polydispersity index</text>
<text x="369.3" y="59.5" font-size="5.21" textLength="65.4" lengthAdjust="spacingAndGlyphs">X1 = B: Homogenization speed</text>
<text x="369.3" y="66.4" font-size="5.17" textLength="56.6" lengthAdjust="spacingAndGlyphs">X2 = A: polymer-linker ratio</text>
<text x="369.3" y="80.7" font-size="5.09" textLength="29.6" lengthAdjust="spacingAndGlyphs">Actual Factors</text>
<text x="369.3" y="87.7" font-size="5.18" textLength="60.9" lengthAdjust="spacingAndGlyphs">C: Homogenization time = 12</text>
<text x="369.3" y="94.5" font-size="5.28" textLength="31.8" lengthAdjust="spacingAndGlyphs">D: PVA% = 0.4</text>
<rect x="370.4" y="26.3" width="3.7" height="21.1" fill="url(#lg)"/>
<text x="375.1" y="31.4" font-size="5.60" textLength="9.9" lengthAdjust="spacingAndGlyphs" fill="#e8202a" stroke="#e8202a">0.64</text>
<text x="375.1" y="45.3" font-size="5.60" textLength="9.9" lengthAdjust="spacingAndGlyphs" fill="#2a2ae0" stroke="#2a2ae0">0.21</text>
<text x="182.0" y="206.9" font-size="5.75" textLength="59.1" lengthAdjust="spacingAndGlyphs">Design-Expert® Software</text>
<text x="182.0" y="220.1" font-size="5.79" textLength="49.9" lengthAdjust="spacingAndGlyphs">entrapment efficiency</text>
<text x="182.0" y="254.1" font-size="5.71" textLength="62.5" lengthAdjust="spacingAndGlyphs">X1 = A: polymer-linker ratio</text>
<text x="182.0" y="260.8" font-size="5.79" textLength="72.7" lengthAdjust="spacingAndGlyphs">X2 = B: Homogenization speed</text>
<text x="182.0" y="274.2" font-size="5.68" textLength="33.0" lengthAdjust="spacingAndGlyphs">Actual Factors</text>
<text x="182.0" y="281.2" font-size="5.75" textLength="67.6" lengthAdjust="spacingAndGlyphs">C: Homogenization time = 10</text>
<text x="182.0" y="288.1" font-size="5.81" textLength="35.0" lengthAdjust="spacingAndGlyphs">D: PVA% = 0.3</text>
<rect x="183.1" y="222.3" width="4.0" height="20.4" fill="url(#lg)"/>
<text x="188.7" y="227.4" font-size="5.34" textLength="5.4" lengthAdjust="spacingAndGlyphs" fill="#e8202a" stroke="#e8202a">91</text>
<text x="188.7" y="241.0" font-size="5.34" textLength="5.4" lengthAdjust="spacingAndGlyphs" fill="#2a2ae0" stroke="#2a2ae0">82</text>
<text x="48.0" y="130.6" font-size="12.50" font-weight="bold" fill="#111" stroke="#111">a</text>
<text x="387.0" y="130.7" font-size="12.50" font-weight="bold" fill="#111" stroke="#111">b</text>
<text x="212.6" y="324.3" font-size="12.50" font-weight="bold" fill="#111" stroke="#111">c</text>
<text x="110.9" y="181.2" font-size="6.00" textLength="62.5" lengthAdjust="spacingAndGlyphs">B: Homogenization speed</text>
<text x="282.5" y="181.2" font-size="6.19" textLength="54.7" lengthAdjust="spacingAndGlyphs">A: polymer-linker ratio</text>
<text x="473.4" y="186.7" font-size="5.69" textLength="50.3" lengthAdjust="spacingAndGlyphs">A: polymer-linker ratio</text>
<text x="624.6" y="186.5" font-size="5.59" textLength="58.2" lengthAdjust="spacingAndGlyphs">B: Homogenization speed</text>
<text x="293.2" y="375.5" font-size="6.28" textLength="65.4" lengthAdjust="spacingAndGlyphs">B: Homogenization speed</text>
<text x="472.0" y="375.5" font-size="6.33" textLength="56.0" lengthAdjust="spacingAndGlyphs">A: polymer-linker ratio</text>
<text x="94.6" y="118.2" font-size="5.90" textLength="34.7" lengthAdjust="spacingAndGlyphs" transform="rotate(-90 94.6 118.2)">particle size</text>
<text x="455.4" y="133.1" font-size="5.70" textLength="59.9" lengthAdjust="spacingAndGlyphs" transform="rotate(-90 455.4 133.1)">polydispersity index</text>
<text x="277.2" y="326.8" font-size="5.90" textLength="62.0" lengthAdjust="spacingAndGlyphs" transform="rotate(-90 277.2 326.8)">entrapment efficiency</text>
</g>
<g fill="#222"><circle cx="125.3" cy="47.3" r="0.65"/><circle cx="126.4" cy="66.4" r="0.65"/><circle cx="127.6" cy="85.6" r="0.65"/><circle cx="128.7" cy="104.7" r="0.65"/><circle cx="129.9" cy="123.8" r="0.65"/><circle cx="131.3" cy="147.8" r="0.65"/><circle cx="155.0" cy="156.6" r="0.65"/><circle cx="178.6" cy="165.5" r="0.65"/><circle cx="202.3" cy="174.3" r="0.65"/><circle cx="226.0" cy="183.1" r="0.65"/><circle cx="320.6" cy="147.8" r="0.65"/><circle cx="297.0" cy="156.6" r="0.65"/><circle cx="273.3" cy="165.5" r="0.65"/><circle cx="249.6" cy="174.3" r="0.65"/><circle cx="226.0" cy="183.1" r="0.65"/><circle cx="482.6" cy="49.8" r="0.65"/><circle cx="483.7" cy="69.4" r="0.65"/><circle cx="484.9" cy="89.0" r="0.65"/><circle cx="486.0" cy="108.5" r="0.65"/><circle cx="487.1" cy="128.1" r="0.65"/><circle cx="488.5" cy="152.5" r="0.65"/><circle cx="510.4" cy="161.6" r="0.65"/><circle cx="532.4" cy="170.6" r="0.65"/><circle cx="554.3" cy="179.7" r="0.65"/><circle cx="576.2" cy="188.7" r="0.65"/><circle cx="663.9" cy="152.5" r="0.65"/><circle cx="642.0" cy="161.6" r="0.65"/><circle cx="620.1" cy="170.6" r="0.65"/><circle cx="598.1" cy="179.7" r="0.65"/><circle cx="576.2" cy="188.7" r="0.65"/><circle cx="308.3" cy="244.7" r="0.65"/><circle cx="309.6" cy="263.5" r="0.65"/><circle cx="310.8" cy="282.2" r="0.65"/><circle cx="312.1" cy="301.0" r="0.65"/><circle cx="313.4" cy="319.7" r="0.65"/><circle cx="314.9" cy="343.2" r="0.65"/><circle cx="339.5" cy="351.8" r="0.65"/><circle cx="364.1" cy="360.5" r="0.65"/><circle cx="388.7" cy="369.2" r="0.65"/><circle cx="413.2" cy="377.8" r="0.65"/><circle cx="511.5" cy="343.2" r="0.65"/><circle cx="487.0" cy="351.8" r="0.65"/><circle cx="462.4" cy="360.5" r="0.65"/><circle cx="437.8" cy="369.2" r="0.65"/><circle cx="413.2" cy="377.8" r="0.65"/></g>
<g font-size="3.3" fill="#444">
<text x="123.0" y="51.1" text-anchor="end">436</text>
<text x="124.1" y="70.2" text-anchor="end">420.75</text>
<text x="125.3" y="89.4" text-anchor="end">405.5</text>
<text x="126.4" y="108.5" text-anchor="end">390.25</text>
<text x="127.6" y="127.6" text-anchor="end">375</text>
<text x="128.9" y="152.0" text-anchor="end">15000</text>
<text x="152.6" y="160.8" text-anchor="end">13750</text>
<text x="176.2" y="169.6" text-anchor="end">12500</text>
<text x="199.9" y="178.5" text-anchor="end">11250</text>
<text x="223.6" y="187.3" text-anchor="end">10000</text>
<text x="323.0" y="152.0">0.5</text>
<text x="299.4" y="160.8">0.4</text>
<text x="275.7" y="169.6">0.3</text>
<text x="252.0" y="178.5">0.2</text>
<text x="228.4" y="187.3">0.1</text>
</g>
<g font-size="3.0" fill="#444">
<text x="480.3" y="53.5" text-anchor="end">0.64</text>
<text x="481.4" y="73.1" text-anchor="end">0.5325</text>
<text x="482.6" y="92.6" text-anchor="end">0.425</text>
<text x="483.7" y="112.2" text-anchor="end">0.3175</text>
<text x="484.8" y="131.8" text-anchor="end">0.21</text>
<text x="486.1" y="156.6" text-anchor="end">0.5</text>
<text x="508.0" y="165.7" text-anchor="end">0.4</text>
<text x="530.0" y="174.7" text-anchor="end">0.3</text>
<text x="551.9" y="183.8" text-anchor="end">0.2</text>
<text x="573.8" y="192.8" text-anchor="end">0.1</text>
<text x="666.3" y="156.6">15000</text>
<text x="644.4" y="165.7">13750</text>
<text x="622.5" y="174.7">12500</text>
<text x="600.5" y="183.8">11250</text>
<text x="578.6" y="192.8">10000</text>
</g>
<g font-size="3.3" fill="#444">
<text x="306.0" y="248.5" text-anchor="end">95</text>
<text x="307.3" y="267.3" text-anchor="end">91.25</text>
<text x="308.5" y="286.0" text-anchor="end">87.5</text>
<text x="309.8" y="304.8" text-anchor="end">83.75</text>
<text x="311.1" y="323.5" text-anchor="end">80</text>
<text x="312.5" y="347.3" text-anchor="end">15000</text>
<text x="337.1" y="356.0" text-anchor="end">13750</text>
<text x="361.7" y="364.7" text-anchor="end">12500</text>
<text x="386.3" y="373.4" text-anchor="end">11250</text>
<text x="410.8" y="382.0" text-anchor="end">10000</text>
<text x="513.9" y="347.3">0.5</text>
<text x="489.4" y="356.0">0.4</text>
<text x="464.8" y="364.7">0.3</text>
<text x="440.2" y="373.4">0.2</text>
<text x="415.6" y="382.0">0.1</text>
</g>
<text y="400.1" font-size="12" font-weight="bold" fill="#777"><tspan x="11.3">1</tspan><tspan x="18.9">00</tspan></text>
</svg>
</body></html>
